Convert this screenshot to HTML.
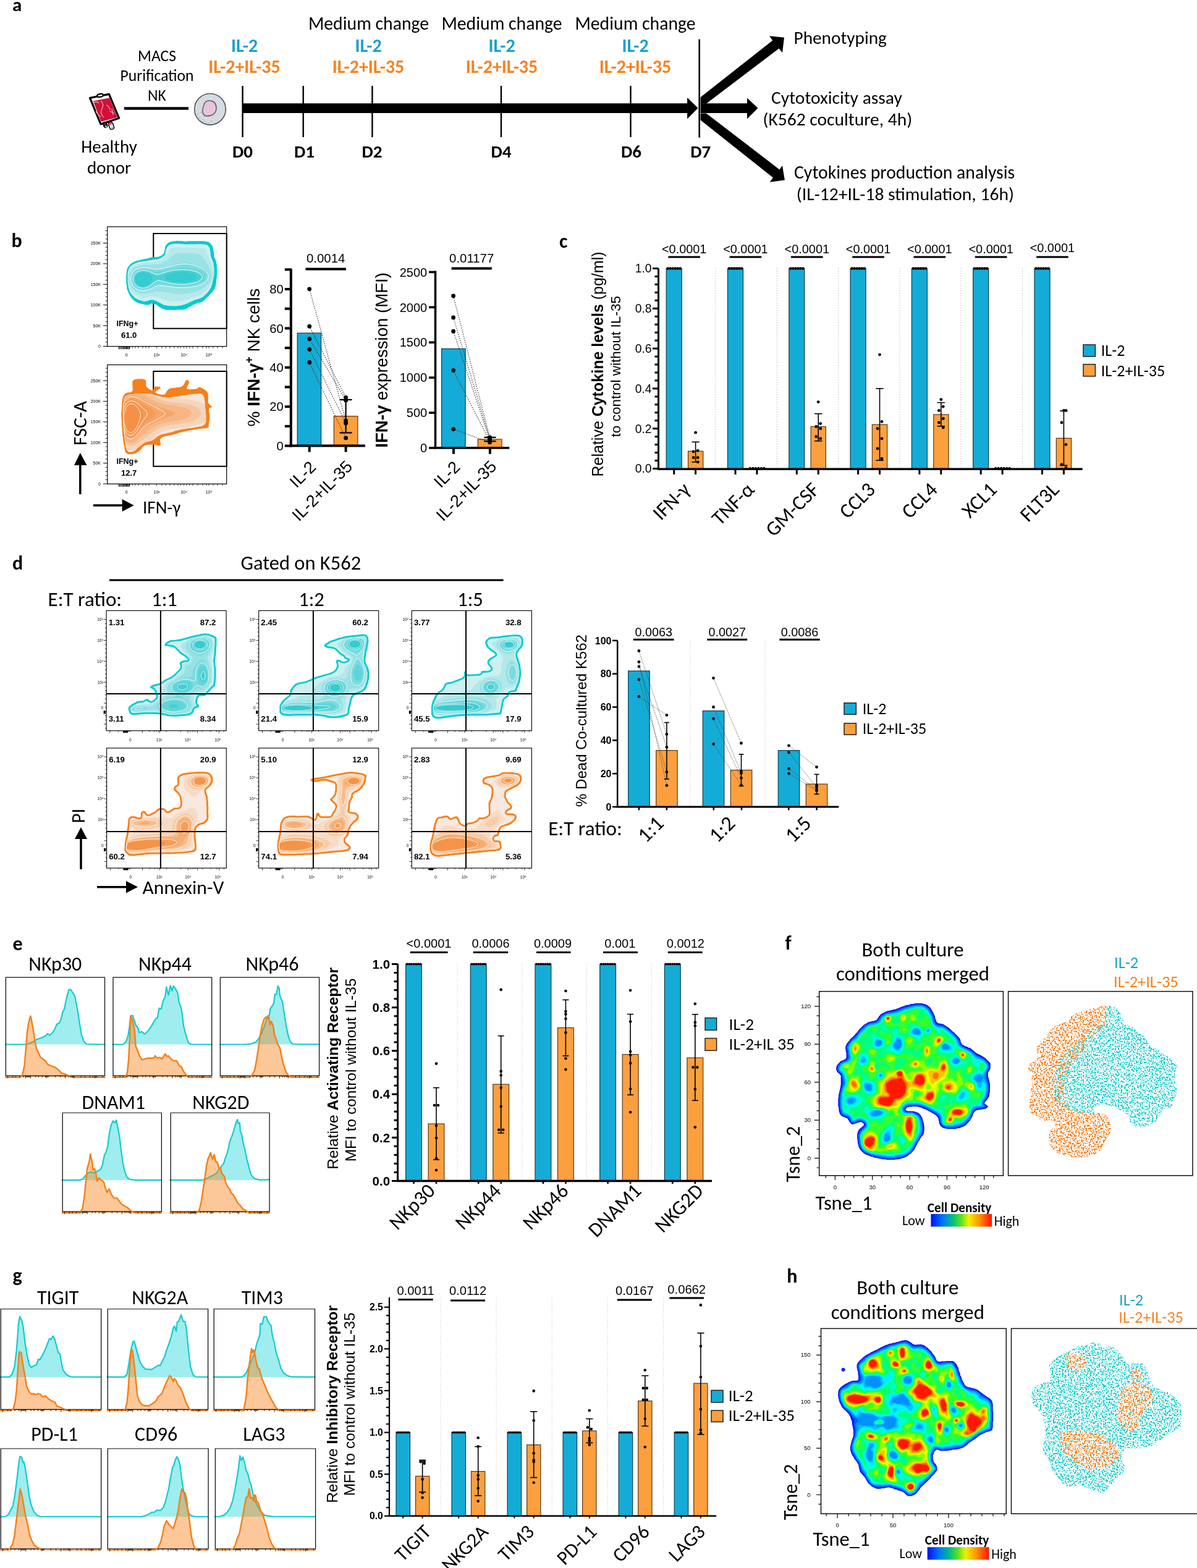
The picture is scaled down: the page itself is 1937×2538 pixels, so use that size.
<!DOCTYPE html>
<html><head><meta charset="utf-8"><title>Figure</title>
<style>
html,body{margin:0;padding:0;background:#fff;}
body{width:1937px;height:2538px;overflow:hidden;}
svg{display:block;}
.c{font-family:Carlito,"Liberation Sans",sans-serif;}
.a{font-family:"Liberation Sans",Arial,sans-serif;}
.b{font-weight:bold;}
</style></head><body>
<svg width="1937" height="2538" viewBox="0 0 1937 2538">
<rect width="1937" height="2538" fill="#fff"/>
<text x="20.0" y="18.0" class="c b" font-size="31.0">a</text>
<text x="596.5" y="48.3" class="c" font-size="29.7" text-anchor="middle">Medium change</text>
<text x="812.0" y="48.3" class="c" font-size="29.7" text-anchor="middle">Medium change</text>
<text x="1028.0" y="48.3" class="c" font-size="29.7" text-anchor="middle">Medium change</text>
<text x="395.5" y="83.8" class="c b" font-size="30.0" text-anchor="middle" fill="#1ba1cf">IL-2</text>
<text x="395.5" y="118.3" class="c b" font-size="30.0" text-anchor="middle" fill="#f7821f">IL-2+IL-35</text>
<text x="596.0" y="83.8" class="c b" font-size="30.0" text-anchor="middle" fill="#1ba1cf">IL-2</text>
<text x="596.0" y="118.3" class="c b" font-size="30.0" text-anchor="middle" fill="#f7821f">IL-2+IL-35</text>
<text x="812.0" y="83.8" class="c b" font-size="30.0" text-anchor="middle" fill="#1ba1cf">IL-2</text>
<text x="812.0" y="118.3" class="c b" font-size="30.0" text-anchor="middle" fill="#f7821f">IL-2+IL-35</text>
<text x="1028.0" y="83.8" class="c b" font-size="30.0" text-anchor="middle" fill="#1ba1cf">IL-2</text>
<text x="1028.0" y="118.3" class="c b" font-size="30.0" text-anchor="middle" fill="#f7821f">IL-2+IL-35</text>
<text x="254.0" y="98.6" class="c" font-size="25.6" text-anchor="middle">MACS</text>
<text x="254.0" y="130.9" class="c" font-size="25.6" text-anchor="middle">Purification</text>
<text x="254.0" y="162.5" class="c" font-size="25.6" text-anchor="middle">NK</text>
<text x="176.5" y="247.3" class="c" font-size="29.0" text-anchor="middle">Healthy</text>
<text x="176.5" y="281.2" class="c" font-size="29.0" text-anchor="middle">donor</text>
<g stroke-linejoin="round">
<path d="M145.5,158.5 L176.4,152.4 L192.6,191.2 L163,201 Z" fill="#fff" stroke="#000" stroke-width="3.2"/>
<ellipse cx="162" cy="154.5" rx="5" ry="2.4" transform="rotate(-12 162 154.5)" fill="#fff" stroke="#000" stroke-width="2.2"/>
<path d="M150.7,163.6 L177,158.6 L190,190 L163.6,197 Z" fill="#d0103a"/>
<path d="M151,166 q5,-3 9,1 M163,163 q6,5 2,13 q-4,8 3,14 M172,170 q5,2 6,8 M177,180 l8,3 M181,176 l2,10 M155,180 q3,6 8,9" stroke="#f3a0a6" stroke-width="1.3" fill="none"/>
<rect x="167.2" y="197.5" width="6" height="9" rx="2.5" transform="rotate(-20 170 202)" fill="#2a2a2a" stroke="#000" stroke-width="1.2"/>
<circle cx="171.5" cy="204.8" r="1.5" fill="#9cc8e6"/>
<rect x="176.5" y="197.5" width="7" height="12" rx="3.2" transform="rotate(-20 180 203.5)" fill="#fff" stroke="#000" stroke-width="1.6"/>
<rect x="177.3" y="198" width="5" height="3.5" rx="1.5" transform="rotate(-20 180 203.5)" fill="#e05060"/>
<circle cx="181.8" cy="206.8" r="2" fill="#8fc3e6"/>
</g>
<line x1="201.0" y1="175.4" x2="305.0" y2="175.4" stroke="#000" stroke-width="4.5"/>
<circle cx="340" cy="176.8" r="25.3" fill="#d6dae2" stroke="#555" stroke-width="1.6"/>
<path d="M330,170 q2,-8 10,-7 q10,1 10,12 q0,9 -9,12 q-11,3 -13,-5 q-1,-5 2,-12z" fill="#e7c4dc" stroke="#555" stroke-width="1.4"/>
<circle cx="320.0" cy="184.8" r="0.7" fill="#888"/>
<circle cx="323.0" cy="189.8" r="0.7" fill="#888"/>
<circle cx="328.0" cy="193.8" r="0.7" fill="#888"/>
<circle cx="332.0" cy="196.8" r="0.7" fill="#888"/>
<circle cx="337.0" cy="198.8" r="0.7" fill="#888"/>
<circle cx="325.0" cy="181.8" r="0.7" fill="#888"/>
<circle cx="330.0" cy="188.8" r="0.7" fill="#888"/>
<circle cx="342.0" cy="195.8" r="0.7" fill="#888"/>
<circle cx="322.0" cy="194.8" r="0.7" fill="#888"/>
<line x1="392.6" y1="139.0" x2="392.6" y2="222.0" stroke="#000" stroke-width="2.4"/>
<line x1="490.7" y1="139.0" x2="490.7" y2="222.0" stroke="#000" stroke-width="2.4"/>
<line x1="602.4" y1="139.0" x2="602.4" y2="222.0" stroke="#000" stroke-width="2.4"/>
<line x1="811.0" y1="139.0" x2="811.0" y2="222.0" stroke="#000" stroke-width="2.4"/>
<line x1="1020.5" y1="139.0" x2="1020.5" y2="222.0" stroke="#000" stroke-width="2.4"/>
<line x1="1131.7" y1="63.6" x2="1131.7" y2="222.7" stroke="#000" stroke-width="2.6"/>
<rect x="392.6" y="167.3" width="720.0" height="15.7" fill="#000"/>
<polygon points="1112.1,157.9 1129.5,174.9 1112.1,192.6" fill="#000"/>
<rect x="1133.7" y="167.3" width="76.0" height="15.7" fill="#000"/>
<polygon points="1209.0,158.5 1226.4,175.0 1209.0,192.6" fill="#000"/>
<polygon points="1133.7,157.2 1250.2,65.5 1245.0,58.3 1269.0,60.7 1266.0,85.2 1260.5,78.4 1142.9,167.7 1133.7,167.7" fill="#000"/>
<polygon points="1133.7,183.4 1142.9,183.4 1261.4,274.4 1266.0,267.9 1269.9,291.4 1245.7,294.7 1250.9,287.5 1133.7,194.5" fill="#000"/>
<text x="392.6" y="254.8" class="c b" font-size="29.0" text-anchor="middle">D0</text>
<text x="492.5" y="254.8" class="c b" font-size="29.0" text-anchor="middle">D1</text>
<text x="602.0" y="254.8" class="c b" font-size="29.0" text-anchor="middle">D2</text>
<text x="811.0" y="254.8" class="c b" font-size="29.0" text-anchor="middle">D4</text>
<text x="1021.6" y="254.8" class="c b" font-size="29.0" text-anchor="middle">D6</text>
<text x="1133.7" y="254.8" class="c b" font-size="29.0" text-anchor="middle">D7</text>
<text x="1284.5" y="71.2" class="c" font-size="29.3">Phenotyping</text>
<text x="1248.0" y="167.5" class="c" font-size="29.5">Cytotoxicity assay</text>
<text x="1234.5" y="202.5" class="c" font-size="29.5">(K562 coculture, 4h)</text>
<text x="1285.0" y="288.8" class="c" font-size="29.7">Cytokines production analysis</text>
<text x="1288.8" y="323.8" class="c" font-size="29.6">(IL-12+IL-18 stimulation, 16h)</text>
<text x="18.6" y="400.0" class="c b" font-size="32.0">b</text>
<rect x="481.2" y="539.1" width="38.4" height="182.5" fill="#14acd6" stroke="#0c3d50" stroke-width="1.2"/>
<rect x="540.4" y="673.6" width="38.5" height="48.0" fill="#fca03e" stroke="#5a3814" stroke-width="1.2"/>
<line x1="500.7" y1="467.8" x2="559.6" y2="681.2" stroke="#333" stroke-width="1.2" stroke-dasharray="1.5 2"/>
<line x1="500.7" y1="528.2" x2="559.6" y2="643.4" stroke="#333" stroke-width="1.2" stroke-dasharray="1.5 2"/>
<line x1="500.7" y1="548.5" x2="559.6" y2="647.9" stroke="#333" stroke-width="1.2" stroke-dasharray="1.5 2"/>
<line x1="500.7" y1="565.4" x2="559.6" y2="685.0" stroke="#333" stroke-width="1.2" stroke-dasharray="1.5 2"/>
<line x1="500.7" y1="586.5" x2="559.6" y2="708.9" stroke="#333" stroke-width="1.2" stroke-dasharray="1.5 2"/>
<circle cx="500.7" cy="467.8" r="3.4" fill="#000"/>
<circle cx="500.7" cy="528.2" r="3.4" fill="#000"/>
<circle cx="500.7" cy="548.5" r="3.4" fill="#000"/>
<circle cx="500.7" cy="565.4" r="3.4" fill="#000"/>
<circle cx="500.7" cy="586.5" r="3.4" fill="#000"/>
<circle cx="559.6" cy="643.4" r="3.4" fill="#000"/>
<circle cx="559.6" cy="647.9" r="3.4" fill="#000"/>
<circle cx="559.6" cy="681.2" r="3.4" fill="#000"/>
<circle cx="559.6" cy="685.0" r="3.4" fill="#000"/>
<circle cx="559.6" cy="708.9" r="3.4" fill="#000"/>
<line x1="559.6" y1="700.5" x2="559.6" y2="647.0" stroke="#000" stroke-width="2.2"/>
<line x1="549.6" y1="700.5" x2="569.6" y2="700.5" stroke="#000" stroke-width="2.2"/>
<line x1="549.6" y1="647.0" x2="569.6" y2="647.0" stroke="#000" stroke-width="2.2"/>
<line x1="470.8" y1="434.8" x2="470.8" y2="723.6" stroke="#000" stroke-width="4"/>
<line x1="460.8" y1="721.6" x2="470.8" y2="721.6" stroke="#000" stroke-width="4"/>
<text x="458.8" y="728.8" class="a" font-size="20.2" text-anchor="end">0</text>
<line x1="460.8" y1="658.2" x2="470.8" y2="658.2" stroke="#000" stroke-width="4"/>
<text x="458.8" y="665.4" class="a" font-size="20.2" text-anchor="end">20</text>
<line x1="460.8" y1="594.8" x2="470.8" y2="594.8" stroke="#000" stroke-width="4"/>
<text x="458.8" y="602.0" class="a" font-size="20.2" text-anchor="end">40</text>
<line x1="460.8" y1="531.4" x2="470.8" y2="531.4" stroke="#000" stroke-width="4"/>
<text x="458.8" y="538.6" class="a" font-size="20.2" text-anchor="end">60</text>
<line x1="460.8" y1="468.0" x2="470.8" y2="468.0" stroke="#000" stroke-width="4"/>
<text x="458.8" y="475.2" class="a" font-size="20.2" text-anchor="end">80</text>
<line x1="460.8" y1="689.9" x2="470.8" y2="689.9" stroke="#000" stroke-width="4"/>
<line x1="460.8" y1="626.5" x2="470.8" y2="626.5" stroke="#000" stroke-width="4"/>
<line x1="460.8" y1="563.1" x2="470.8" y2="563.1" stroke="#000" stroke-width="4"/>
<line x1="460.8" y1="499.7" x2="470.8" y2="499.7" stroke="#000" stroke-width="4"/>
<line x1="460.8" y1="436.3" x2="470.8" y2="436.3" stroke="#000" stroke-width="4"/>
<line x1="468.8" y1="721.6" x2="591.0" y2="721.6" stroke="#000" stroke-width="4"/>
<line x1="500.7" y1="721.6" x2="500.7" y2="731.6" stroke="#000" stroke-width="4"/>
<line x1="559.6" y1="721.6" x2="559.6" y2="731.6" stroke="#000" stroke-width="4"/>
<line x1="494.4" y1="435.5" x2="560.0" y2="435.5" stroke="#000" stroke-width="3.8"/>
<text x="527.2" y="425.0" class="a" font-size="20.4" text-anchor="middle">0.0014</text>
<text class="a" font-size="28" text-anchor="middle" transform="translate(420,578.7) rotate(-90)">% <tspan font-weight="bold">IFN-γ</tspan><tspan font-size="18" dy="-11" font-weight="bold">+</tspan><tspan dy="11"> NK cells</tspan></text>
<text x="513.0" y="757.8" class="a" font-size="27.2" text-anchor="end" transform="rotate(-45 513.0 757.8)">IL-2</text>
<text x="571.9" y="756.7" class="a" font-size="27.2" text-anchor="end" transform="rotate(-45 571.9 756.7)">IL-2+IL-35</text>
<rect x="714.6" y="564.5" width="38.5" height="160.5" fill="#14acd6" stroke="#0c3d50" stroke-width="1.2"/>
<rect x="773.3" y="711.0" width="38.7" height="14.0" fill="#fca03e" stroke="#5a3814" stroke-width="1.2"/>
<line x1="733.6" y1="479.0" x2="792.5" y2="708.0" stroke="#333" stroke-width="1.2" stroke-dasharray="1.5 2"/>
<line x1="733.6" y1="513.9" x2="792.5" y2="710.0" stroke="#333" stroke-width="1.2" stroke-dasharray="1.5 2"/>
<line x1="733.6" y1="536.2" x2="792.5" y2="712.0" stroke="#333" stroke-width="1.2" stroke-dasharray="1.5 2"/>
<line x1="733.6" y1="599.6" x2="792.5" y2="714.0" stroke="#333" stroke-width="1.2" stroke-dasharray="1.5 2"/>
<line x1="733.6" y1="694.6" x2="792.5" y2="716.0" stroke="#333" stroke-width="1.2" stroke-dasharray="1.5 2"/>
<circle cx="733.6" cy="479.0" r="3.4" fill="#000"/>
<circle cx="733.6" cy="513.9" r="3.4" fill="#000"/>
<circle cx="733.6" cy="536.2" r="3.4" fill="#000"/>
<circle cx="733.6" cy="599.6" r="3.4" fill="#000"/>
<circle cx="733.6" cy="694.6" r="3.4" fill="#000"/>
<circle cx="792.5" cy="708.0" r="3.4" fill="#000"/>
<circle cx="792.5" cy="710.0" r="3.4" fill="#000"/>
<circle cx="792.5" cy="712.0" r="3.4" fill="#000"/>
<circle cx="792.5" cy="714.0" r="3.4" fill="#000"/>
<circle cx="792.5" cy="716.0" r="3.4" fill="#000"/>
<line x1="792.9" y1="714.2" x2="792.9" y2="707.9" stroke="#000" stroke-width="2.2"/>
<line x1="783.3" y1="714.2" x2="802.5" y2="714.2" stroke="#000" stroke-width="2.2"/>
<line x1="783.3" y1="707.9" x2="802.5" y2="707.9" stroke="#000" stroke-width="2.2"/>
<line x1="704.5" y1="438.5" x2="704.5" y2="726.8" stroke="#000" stroke-width="3.6"/>
<line x1="694.1" y1="725.0" x2="704.5" y2="725.0" stroke="#000" stroke-width="3.6"/>
<text x="691.2" y="732.2" class="a" font-size="20.0" text-anchor="end">0</text>
<line x1="694.1" y1="668.1" x2="704.5" y2="668.1" stroke="#000" stroke-width="3.6"/>
<text x="691.2" y="675.2" class="a" font-size="20.0" text-anchor="end">500</text>
<line x1="694.1" y1="611.2" x2="704.5" y2="611.2" stroke="#000" stroke-width="3.6"/>
<text x="691.2" y="618.3" class="a" font-size="20.0" text-anchor="end">1000</text>
<line x1="694.1" y1="554.2" x2="704.5" y2="554.2" stroke="#000" stroke-width="3.6"/>
<text x="691.2" y="561.4" class="a" font-size="20.0" text-anchor="end">1500</text>
<line x1="694.1" y1="497.3" x2="704.5" y2="497.3" stroke="#000" stroke-width="3.6"/>
<text x="691.2" y="504.5" class="a" font-size="20.0" text-anchor="end">2000</text>
<line x1="694.1" y1="440.4" x2="704.5" y2="440.4" stroke="#000" stroke-width="3.6"/>
<text x="691.2" y="447.6" class="a" font-size="20.0" text-anchor="end">2500</text>
<line x1="702.7" y1="725.0" x2="824.2" y2="725.0" stroke="#000" stroke-width="3.6"/>
<line x1="734.0" y1="725.0" x2="734.0" y2="734.8" stroke="#000" stroke-width="4"/>
<line x1="792.9" y1="725.0" x2="792.9" y2="734.8" stroke="#000" stroke-width="4"/>
<line x1="730.6" y1="434.5" x2="795.8" y2="434.5" stroke="#000" stroke-width="3.8"/>
<text x="763.2" y="425.0" class="a" font-size="20.4" text-anchor="middle">0.01177</text>
<text class="a" font-size="27.6" text-anchor="middle" transform="translate(627,582.9) rotate(-90)"><tspan font-weight="bold">IFN-γ</tspan> expression (MFI)</text>
<text x="746.3" y="757.8" class="a" font-size="27.2" text-anchor="end" transform="rotate(-45 746.3 757.8)">IL-2</text>
<text x="805.2" y="756.7" class="a" font-size="27.2" text-anchor="end" transform="rotate(-45 805.2 756.7)">IL-2+IL-35</text>
<rect x="173.8" y="367.0" width="192.9" height="193.7" fill="none" stroke="#000" stroke-width="1.2"/>
<rect x="248.3" y="378.0" width="118.4" height="153.7" fill="none" stroke="#000" stroke-width="2"/>
<text x="206.0" y="528.3" class="a b" font-size="12.5" text-anchor="middle">IFNg+</text>
<text x="208.6" y="547.4" class="a b" font-size="13.0" text-anchor="middle">61.0</text>
<line x1="167.0" y1="560.5" x2="173.8" y2="560.5" stroke="#000" stroke-width="1"/>
<text x="163.0" y="563.0" class="a" font-size="7.0" text-anchor="end">0</text>
<line x1="170.5" y1="553.8" x2="173.8" y2="553.8" stroke="#000" stroke-width="0.8"/>
<line x1="170.5" y1="547.1" x2="173.8" y2="547.1" stroke="#000" stroke-width="0.8"/>
<line x1="170.5" y1="540.5" x2="173.8" y2="540.5" stroke="#000" stroke-width="0.8"/>
<line x1="170.5" y1="533.8" x2="173.8" y2="533.8" stroke="#000" stroke-width="0.8"/>
<line x1="167.0" y1="527.1" x2="173.8" y2="527.1" stroke="#000" stroke-width="1"/>
<text x="163.0" y="529.6" class="a" font-size="7.0" text-anchor="end">50K</text>
<line x1="170.5" y1="520.4" x2="173.8" y2="520.4" stroke="#000" stroke-width="0.8"/>
<line x1="170.5" y1="513.7" x2="173.8" y2="513.7" stroke="#000" stroke-width="0.8"/>
<line x1="170.5" y1="507.1" x2="173.8" y2="507.1" stroke="#000" stroke-width="0.8"/>
<line x1="170.5" y1="500.4" x2="173.8" y2="500.4" stroke="#000" stroke-width="0.8"/>
<line x1="167.0" y1="493.7" x2="173.8" y2="493.7" stroke="#000" stroke-width="1"/>
<text x="163.0" y="496.2" class="a" font-size="7.0" text-anchor="end">100K</text>
<line x1="170.5" y1="487.0" x2="173.8" y2="487.0" stroke="#000" stroke-width="0.8"/>
<line x1="170.5" y1="480.3" x2="173.8" y2="480.3" stroke="#000" stroke-width="0.8"/>
<line x1="170.5" y1="473.7" x2="173.8" y2="473.7" stroke="#000" stroke-width="0.8"/>
<line x1="170.5" y1="467.0" x2="173.8" y2="467.0" stroke="#000" stroke-width="0.8"/>
<line x1="167.0" y1="460.3" x2="173.8" y2="460.3" stroke="#000" stroke-width="1"/>
<text x="163.0" y="462.8" class="a" font-size="7.0" text-anchor="end">150K</text>
<line x1="170.5" y1="453.6" x2="173.8" y2="453.6" stroke="#000" stroke-width="0.8"/>
<line x1="170.5" y1="446.9" x2="173.8" y2="446.9" stroke="#000" stroke-width="0.8"/>
<line x1="170.5" y1="440.3" x2="173.8" y2="440.3" stroke="#000" stroke-width="0.8"/>
<line x1="170.5" y1="433.6" x2="173.8" y2="433.6" stroke="#000" stroke-width="0.8"/>
<line x1="167.0" y1="426.9" x2="173.8" y2="426.9" stroke="#000" stroke-width="1"/>
<text x="163.0" y="429.4" class="a" font-size="7.0" text-anchor="end">200K</text>
<line x1="170.5" y1="420.2" x2="173.8" y2="420.2" stroke="#000" stroke-width="0.8"/>
<line x1="170.5" y1="413.5" x2="173.8" y2="413.5" stroke="#000" stroke-width="0.8"/>
<line x1="170.5" y1="406.9" x2="173.8" y2="406.9" stroke="#000" stroke-width="0.8"/>
<line x1="170.5" y1="400.2" x2="173.8" y2="400.2" stroke="#000" stroke-width="0.8"/>
<line x1="167.0" y1="393.5" x2="173.8" y2="393.5" stroke="#000" stroke-width="1"/>
<text x="163.0" y="396.0" class="a" font-size="7.0" text-anchor="end">250K</text>
<line x1="170.5" y1="386.8" x2="173.8" y2="386.8" stroke="#000" stroke-width="0.8"/>
<line x1="170.5" y1="380.1" x2="173.8" y2="380.1" stroke="#000" stroke-width="0.8"/>
<line x1="170.5" y1="373.5" x2="173.8" y2="373.5" stroke="#000" stroke-width="0.8"/>
<text x="204.8" y="576.7" class="a" font-size="7.0" text-anchor="middle">0</text>
<text x="253.6" y="576.7" class="a" font-size="7.0" text-anchor="middle">10³</text>
<text x="297.6" y="576.7" class="a" font-size="7.0" text-anchor="middle">10⁴</text>
<text x="338.0" y="576.7" class="a" font-size="7.0" text-anchor="middle">10⁵</text>
<line x1="204.8" y1="560.7" x2="204.8" y2="563.7" stroke="#000" stroke-width="0.8"/>
<line x1="253.6" y1="560.7" x2="253.6" y2="563.7" stroke="#000" stroke-width="0.8"/>
<line x1="297.6" y1="560.7" x2="297.6" y2="563.7" stroke="#000" stroke-width="0.8"/>
<line x1="338.0" y1="560.7" x2="338.0" y2="563.7" stroke="#000" stroke-width="0.8"/>
<line x1="210.0" y1="560.7" x2="210.0" y2="563.7" stroke="#000" stroke-width="0.8"/>
<line x1="214.0" y1="560.7" x2="214.0" y2="563.7" stroke="#000" stroke-width="0.8"/>
<line x1="219.0" y1="560.7" x2="219.0" y2="563.7" stroke="#000" stroke-width="0.8"/>
<line x1="224.0" y1="560.7" x2="224.0" y2="563.7" stroke="#000" stroke-width="0.8"/>
<line x1="231.0" y1="560.7" x2="231.0" y2="563.7" stroke="#000" stroke-width="0.8"/>
<line x1="236.0" y1="560.7" x2="236.0" y2="563.7" stroke="#000" stroke-width="0.8"/>
<line x1="241.0" y1="560.7" x2="241.0" y2="563.7" stroke="#000" stroke-width="0.8"/>
<line x1="262.0" y1="560.7" x2="262.0" y2="563.7" stroke="#000" stroke-width="0.8"/>
<line x1="268.0" y1="560.7" x2="268.0" y2="563.7" stroke="#000" stroke-width="0.8"/>
<line x1="275.0" y1="560.7" x2="275.0" y2="563.7" stroke="#000" stroke-width="0.8"/>
<line x1="282.0" y1="560.7" x2="282.0" y2="563.7" stroke="#000" stroke-width="0.8"/>
<line x1="288.0" y1="560.7" x2="288.0" y2="563.7" stroke="#000" stroke-width="0.8"/>
<line x1="292.0" y1="560.7" x2="292.0" y2="563.7" stroke="#000" stroke-width="0.8"/>
<line x1="302.0" y1="560.7" x2="302.0" y2="563.7" stroke="#000" stroke-width="0.8"/>
<line x1="307.0" y1="560.7" x2="307.0" y2="563.7" stroke="#000" stroke-width="0.8"/>
<line x1="312.0" y1="560.7" x2="312.0" y2="563.7" stroke="#000" stroke-width="0.8"/>
<line x1="320.0" y1="560.7" x2="320.0" y2="563.7" stroke="#000" stroke-width="0.8"/>
<line x1="328.0" y1="560.7" x2="328.0" y2="563.7" stroke="#000" stroke-width="0.8"/>
<line x1="334.0" y1="560.7" x2="334.0" y2="563.7" stroke="#000" stroke-width="0.8"/>
<line x1="345.0" y1="560.7" x2="345.0" y2="563.7" stroke="#000" stroke-width="0.8"/>
<line x1="352.0" y1="560.7" x2="352.0" y2="563.7" stroke="#000" stroke-width="0.8"/>
<line x1="360.0" y1="560.7" x2="360.0" y2="563.7" stroke="#000" stroke-width="0.8"/>
<rect x="192" y="560.7" width="1.6" height="4.5" fill="#000"/><rect x="195" y="560.7" width="1.6" height="4.5" fill="#000"/><rect x="198" y="560.7" width="1.6" height="4.5" fill="#000"/><rect x="200.5" y="560.7" width="1.6" height="4.5" fill="#000"/><rect x="203" y="560.7" width="1.6" height="4.5" fill="#000"/><rect x="205.5" y="560.7" width="1.6" height="4.5" fill="#000"/><rect x="208" y="560.7" width="1.6" height="4.5" fill="#000"/>
<rect x="173.8" y="590.5" width="192.9" height="192.8" fill="none" stroke="#000" stroke-width="1.2"/>
<rect x="248.3" y="601.0" width="118.4" height="153.8" fill="none" stroke="#000" stroke-width="2"/>
<text x="206.0" y="750.9" class="a b" font-size="12.5" text-anchor="middle">IFNg+</text>
<text x="208.6" y="770.0" class="a b" font-size="13.0" text-anchor="middle">12.7</text>
<line x1="167.0" y1="783.1" x2="173.8" y2="783.1" stroke="#000" stroke-width="1"/>
<text x="163.0" y="785.6" class="a" font-size="7.0" text-anchor="end">0</text>
<line x1="170.5" y1="776.4" x2="173.8" y2="776.4" stroke="#000" stroke-width="0.8"/>
<line x1="170.5" y1="769.7" x2="173.8" y2="769.7" stroke="#000" stroke-width="0.8"/>
<line x1="170.5" y1="763.1" x2="173.8" y2="763.1" stroke="#000" stroke-width="0.8"/>
<line x1="170.5" y1="756.4" x2="173.8" y2="756.4" stroke="#000" stroke-width="0.8"/>
<line x1="167.0" y1="749.7" x2="173.8" y2="749.7" stroke="#000" stroke-width="1"/>
<text x="163.0" y="752.2" class="a" font-size="7.0" text-anchor="end">50K</text>
<line x1="170.5" y1="743.0" x2="173.8" y2="743.0" stroke="#000" stroke-width="0.8"/>
<line x1="170.5" y1="736.3" x2="173.8" y2="736.3" stroke="#000" stroke-width="0.8"/>
<line x1="170.5" y1="729.7" x2="173.8" y2="729.7" stroke="#000" stroke-width="0.8"/>
<line x1="170.5" y1="723.0" x2="173.8" y2="723.0" stroke="#000" stroke-width="0.8"/>
<line x1="167.0" y1="716.3" x2="173.8" y2="716.3" stroke="#000" stroke-width="1"/>
<text x="163.0" y="718.8" class="a" font-size="7.0" text-anchor="end">100K</text>
<line x1="170.5" y1="709.6" x2="173.8" y2="709.6" stroke="#000" stroke-width="0.8"/>
<line x1="170.5" y1="702.9" x2="173.8" y2="702.9" stroke="#000" stroke-width="0.8"/>
<line x1="170.5" y1="696.3" x2="173.8" y2="696.3" stroke="#000" stroke-width="0.8"/>
<line x1="170.5" y1="689.6" x2="173.8" y2="689.6" stroke="#000" stroke-width="0.8"/>
<line x1="167.0" y1="682.9" x2="173.8" y2="682.9" stroke="#000" stroke-width="1"/>
<text x="163.0" y="685.4" class="a" font-size="7.0" text-anchor="end">150K</text>
<line x1="170.5" y1="676.2" x2="173.8" y2="676.2" stroke="#000" stroke-width="0.8"/>
<line x1="170.5" y1="669.5" x2="173.8" y2="669.5" stroke="#000" stroke-width="0.8"/>
<line x1="170.5" y1="662.9" x2="173.8" y2="662.9" stroke="#000" stroke-width="0.8"/>
<line x1="170.5" y1="656.2" x2="173.8" y2="656.2" stroke="#000" stroke-width="0.8"/>
<line x1="167.0" y1="649.5" x2="173.8" y2="649.5" stroke="#000" stroke-width="1"/>
<text x="163.0" y="652.0" class="a" font-size="7.0" text-anchor="end">200K</text>
<line x1="170.5" y1="642.8" x2="173.8" y2="642.8" stroke="#000" stroke-width="0.8"/>
<line x1="170.5" y1="636.1" x2="173.8" y2="636.1" stroke="#000" stroke-width="0.8"/>
<line x1="170.5" y1="629.5" x2="173.8" y2="629.5" stroke="#000" stroke-width="0.8"/>
<line x1="170.5" y1="622.8" x2="173.8" y2="622.8" stroke="#000" stroke-width="0.8"/>
<line x1="167.0" y1="616.1" x2="173.8" y2="616.1" stroke="#000" stroke-width="1"/>
<text x="163.0" y="618.6" class="a" font-size="7.0" text-anchor="end">250K</text>
<line x1="170.5" y1="609.4" x2="173.8" y2="609.4" stroke="#000" stroke-width="0.8"/>
<line x1="170.5" y1="602.7" x2="173.8" y2="602.7" stroke="#000" stroke-width="0.8"/>
<line x1="170.5" y1="596.1" x2="173.8" y2="596.1" stroke="#000" stroke-width="0.8"/>
<text x="204.8" y="799.3" class="a" font-size="7.0" text-anchor="middle">0</text>
<text x="253.6" y="799.3" class="a" font-size="7.0" text-anchor="middle">10³</text>
<text x="297.6" y="799.3" class="a" font-size="7.0" text-anchor="middle">10⁴</text>
<text x="338.0" y="799.3" class="a" font-size="7.0" text-anchor="middle">10⁵</text>
<line x1="204.8" y1="783.3" x2="204.8" y2="786.3" stroke="#000" stroke-width="0.8"/>
<line x1="253.6" y1="783.3" x2="253.6" y2="786.3" stroke="#000" stroke-width="0.8"/>
<line x1="297.6" y1="783.3" x2="297.6" y2="786.3" stroke="#000" stroke-width="0.8"/>
<line x1="338.0" y1="783.3" x2="338.0" y2="786.3" stroke="#000" stroke-width="0.8"/>
<line x1="210.0" y1="783.3" x2="210.0" y2="786.3" stroke="#000" stroke-width="0.8"/>
<line x1="214.0" y1="783.3" x2="214.0" y2="786.3" stroke="#000" stroke-width="0.8"/>
<line x1="219.0" y1="783.3" x2="219.0" y2="786.3" stroke="#000" stroke-width="0.8"/>
<line x1="224.0" y1="783.3" x2="224.0" y2="786.3" stroke="#000" stroke-width="0.8"/>
<line x1="231.0" y1="783.3" x2="231.0" y2="786.3" stroke="#000" stroke-width="0.8"/>
<line x1="236.0" y1="783.3" x2="236.0" y2="786.3" stroke="#000" stroke-width="0.8"/>
<line x1="241.0" y1="783.3" x2="241.0" y2="786.3" stroke="#000" stroke-width="0.8"/>
<line x1="262.0" y1="783.3" x2="262.0" y2="786.3" stroke="#000" stroke-width="0.8"/>
<line x1="268.0" y1="783.3" x2="268.0" y2="786.3" stroke="#000" stroke-width="0.8"/>
<line x1="275.0" y1="783.3" x2="275.0" y2="786.3" stroke="#000" stroke-width="0.8"/>
<line x1="282.0" y1="783.3" x2="282.0" y2="786.3" stroke="#000" stroke-width="0.8"/>
<line x1="288.0" y1="783.3" x2="288.0" y2="786.3" stroke="#000" stroke-width="0.8"/>
<line x1="292.0" y1="783.3" x2="292.0" y2="786.3" stroke="#000" stroke-width="0.8"/>
<line x1="302.0" y1="783.3" x2="302.0" y2="786.3" stroke="#000" stroke-width="0.8"/>
<line x1="307.0" y1="783.3" x2="307.0" y2="786.3" stroke="#000" stroke-width="0.8"/>
<line x1="312.0" y1="783.3" x2="312.0" y2="786.3" stroke="#000" stroke-width="0.8"/>
<line x1="320.0" y1="783.3" x2="320.0" y2="786.3" stroke="#000" stroke-width="0.8"/>
<line x1="328.0" y1="783.3" x2="328.0" y2="786.3" stroke="#000" stroke-width="0.8"/>
<line x1="334.0" y1="783.3" x2="334.0" y2="786.3" stroke="#000" stroke-width="0.8"/>
<line x1="345.0" y1="783.3" x2="345.0" y2="786.3" stroke="#000" stroke-width="0.8"/>
<line x1="352.0" y1="783.3" x2="352.0" y2="786.3" stroke="#000" stroke-width="0.8"/>
<line x1="360.0" y1="783.3" x2="360.0" y2="786.3" stroke="#000" stroke-width="0.8"/>
<rect x="192" y="783.3" width="1.6" height="4.5" fill="#000"/><rect x="195" y="783.3" width="1.6" height="4.5" fill="#000"/><rect x="198" y="783.3" width="1.6" height="4.5" fill="#000"/><rect x="200.5" y="783.3" width="1.6" height="4.5" fill="#000"/><rect x="203" y="783.3" width="1.6" height="4.5" fill="#000"/><rect x="205.5" y="783.3" width="1.6" height="4.5" fill="#000"/><rect x="208" y="783.3" width="1.6" height="4.5" fill="#000"/>
<text x="139.5" y="685.0" class="c" font-size="31.0" text-anchor="middle" transform="rotate(-90 139.5 685.0)">FSC-A</text>
<line x1="129.8" y1="800.0" x2="129.8" y2="750.0" stroke="#000" stroke-width="3.5"/>
<polygon points="120.0,753.0 129.8,733.0 140.5,753.0" fill="#000"/>
<line x1="151.0" y1="818.0" x2="200.0" y2="818.0" stroke="#000" stroke-width="3.5"/>
<polygon points="197.6,808.0 216.7,818.0 197.6,828.0" fill="#000"/>
<text x="231.0" y="831.0" class="c" font-size="29.0">IFN-γ</text>
<path d="M284.5,501.8 269.0,501.8 268.5,501.2 266.5,501.2 259.0,497.8 253.0,493.2 249.0,491.2 245.5,491.2 241.5,493.2 237.0,493.8 236.5,493.2 234.0,493.2 233.5,492.8 231.5,492.8 231.0,492.2 224.0,490.8 217.0,486.8 213.2,483.0 210.2,478.5 206.8,471.5 205.2,466.5 204.8,459.0 204.2,458.5 204.2,443.0 204.8,442.5 204.8,439.5 205.2,439.0 205.2,437.0 206.2,434.0 208.8,430.0 212.5,426.2 218.0,423.2 222.5,421.8 226.0,421.2 228.0,420.2 232.5,419.8 233.0,419.2 237.0,418.8 246.0,416.2 256.0,415.8 261.0,413.8 264.2,411.0 266.2,407.5 267.2,399.5 268.8,396.5 272.0,393.2 276.0,391.2 280.0,390.8 280.5,390.2 284.5,390.2 285.0,389.8 296.5,390.2 297.0,390.8 303.5,390.8 304.0,390.2 331.5,390.2 332.0,390.8 336.5,391.2 338.5,392.2 342.2,396.0 344.2,399.5 344.8,403.0 345.2,403.5 345.2,406.0 345.8,406.5 346.2,415.0 349.2,421.5 350.2,425.0 350.2,427.5 350.8,428.0 351.2,444.5 350.8,445.0 350.8,450.5 350.2,451.0 349.8,459.0 349.2,459.5 349.2,461.5 348.2,465.0 346.2,469.0 342.8,473.5 332.2,484.5 328.5,487.8 325.0,489.2 318.5,490.8 315.0,492.8 314.0,492.8 299.5,500.8 297.5,500.8 297.0,501.2 285.0,501.2 284.5,501.8Z" fill="#00ccd0" fill-rule="evenodd"/>
<path d="M286.0,495.5 271.0,495.0 270.5,494.5 265.5,494.0 252.5,487.0 247.5,485.5 243.0,485.5 237.5,487.5 233.0,488.0 224.5,485.5 218.0,482.0 212.5,476.0 209.5,470.5 208.0,466.0 207.5,461.5 207.0,461.0 207.0,457.5 206.5,457.0 206.5,442.5 207.0,442.0 207.0,440.0 208.5,435.0 210.0,432.5 213.0,429.5 216.0,427.5 220.5,425.5 225.0,424.0 232.5,423.0 233.0,422.5 235.5,422.5 236.0,422.0 239.0,422.0 239.5,421.5 246.0,421.0 246.5,420.5 250.0,420.5 250.5,420.0 254.0,420.0 257.5,419.0 261.5,417.0 265.5,414.0 267.5,411.0 269.0,403.0 271.0,399.0 274.0,396.5 278.0,395.0 280.5,395.0 281.0,394.5 292.0,394.5 292.5,395.0 298.5,395.0 299.0,395.5 326.0,395.0 326.5,395.5 332.0,395.5 332.5,396.0 334.0,396.0 336.5,397.5 339.0,401.0 340.0,404.0 340.0,406.5 340.5,407.0 341.0,414.5 345.5,426.0 346.0,431.5 346.5,432.0 346.5,445.5 346.0,446.0 346.0,448.5 345.5,449.0 345.5,451.0 345.0,451.5 345.0,453.5 344.0,456.0 343.5,459.5 341.5,465.0 339.0,469.5 335.0,474.5 328.0,481.0 324.0,483.0 315.0,485.5 301.5,492.0 293.0,494.5 286.5,495.0 286.0,495.5Z" fill="#cfeff0" fill-rule="evenodd"/>
<path d="M289.0,487.6 283.0,487.9 269.9,486.5 266.5,485.7 255.5,481.0 249.0,479.7 242.5,479.8 235.5,481.4 232.5,481.4 226.4,480.0 220.0,477.3 216.0,474.2 212.0,469.5 209.6,465.0 207.9,460.5 207.0,456.5 207.0,446.1 207.4,443.0 209.7,437.0 211.0,434.8 214.0,431.7 218.0,429.3 223.0,427.4 231.0,425.5 254.5,422.9 258.5,421.7 263.0,419.6 268.0,416.1 270.6,413.0 275.2,403.5 277.0,402.1 280.0,401.1 290.0,400.4 299.0,401.0 316.0,401.0 324.0,401.4 332.0,402.7 334.0,406.0 337.0,415.5 342.5,427.0 344.2,433.0 345.8,445.0 345.0,451.0 341.8,459.0 338.8,464.0 335.6,468.0 331.0,472.6 325.5,476.7 302.0,484.9 295.0,486.7 289.0,487.6Z" fill="#b5e9eb" fill-rule="evenodd"/>
<path d="M296.0,476.0 283.5,475.6 258.5,471.7 250.5,472.3 234.0,475.7 228.0,475.2 223.0,473.8 219.0,471.6 215.4,468.5 212.4,464.5 210.2,459.5 209.2,455.5 209.0,450.5 209.6,445.0 210.7,441.5 213.5,436.6 215.5,434.6 219.5,432.2 224.0,430.5 232.0,429.0 255.0,428.0 262.3,426.0 272.0,420.6 284.0,410.3 295.0,409.5 305.0,409.7 317.5,410.7 323.6,412.0 327.4,415.5 333.9,424.0 339.5,434.4 342.5,444.0 342.1,449.5 340.6,454.0 338.3,458.0 334.4,462.5 324.5,469.3 317.5,471.9 304.5,474.9 296.0,476.0Z" fill="#99e2e5" fill-rule="evenodd"/>
<path d="M235.0,471.0 227.0,470.8 220.0,467.9 215.0,463.0 212.8,459.0 211.7,455.5 211.4,451.5 211.8,447.5 212.5,444.5 214.5,440.8 218.0,437.0 221.0,435.2 225.5,433.6 230.0,432.8 235.5,432.7 250.5,434.8 256.5,434.8 264.0,433.4 290.0,426.2 297.0,425.4 305.0,425.6 315.5,427.8 326.5,432.8 330.6,435.5 334.0,438.6 336.5,441.9 337.5,444.5 337.9,448.0 337.3,451.0 336.0,453.6 333.6,456.5 328.0,460.4 319.0,463.8 307.0,465.9 294.0,466.5 282.0,465.8 262.5,463.2 257.5,463.1 253.0,464.1 242.5,468.9 235.0,471.0Z" fill="#7edcdf" fill-rule="evenodd"/>
<path d="M233.5,468.0 227.0,467.7 220.8,465.0 216.5,460.6 214.0,454.5 214.3,448.0 216.8,442.5 221.0,438.6 227.5,436.2 232.0,435.8 236.5,436.1 250.0,439.9 254.5,440.4 284.5,434.4 295.0,433.6 305.0,434.1 315.0,435.8 323.5,438.8 329.3,442.5 331.3,445.0 332.0,447.0 331.4,451.0 327.8,455.0 322.2,458.0 314.5,460.3 302.0,462.1 289.5,462.3 279.0,461.3 261.0,458.1 256.0,457.9 251.5,459.3 240.5,466.0 233.5,468.0Z" fill="#63d6d9" fill-rule="evenodd"/>
<path d="M233.5,465.5 227.5,465.3 222.5,463.2 218.6,459.5 216.4,454.5 216.4,449.5 218.5,444.5 222.0,441.0 227.5,438.8 233.0,438.3 238.5,439.3 243.5,441.3 252.0,446.1 254.5,446.8 257.0,446.3 268.1,441.5 278.0,438.9 290.0,437.5 302.0,437.7 310.5,438.9 318.0,441.2 322.8,444.0 325.3,447.5 325.3,449.5 324.3,451.5 322.1,453.5 319.0,455.2 310.5,457.9 299.5,459.3 288.5,459.4 278.0,458.2 269.5,456.3 258.0,452.2 255.0,451.8 252.0,453.3 241.6,462.5 237.5,464.5 233.5,465.5Z" fill="#4ad0d4" fill-rule="evenodd"/>
<path d="M232.0,463.5 227.0,462.9 222.5,460.5 219.7,457.0 218.4,452.5 219.2,448.0 221.9,444.0 225.5,441.7 230.5,440.5 236.0,441.0 241.5,443.4 245.6,447.0 246.9,450.5 245.5,455.0 241.7,459.5 237.0,462.4 232.0,463.5ZM296.0,457.0 284.5,456.5 274.6,454.5 268.3,451.5 267.0,450.0 266.8,448.0 267.8,446.5 269.8,445.0 275.9,442.5 284.0,440.8 293.0,440.1 302.0,440.6 309.5,442.0 315.5,444.5 318.3,447.5 318.4,449.5 317.5,451.0 313.0,453.9 305.5,456.0 296.0,457.0Z" fill="#36cbcf" fill-rule="evenodd"/>
<path d="M235.0,470.5 227.0,470.3 223.5,469.3 220.0,467.4 216.6,464.5 214.4,461.5 212.0,455.0 211.7,451.0 212.2,447.0 212.9,444.5 215.2,440.5 219.5,436.5 226.5,433.8 235.5,433.2 250.5,435.5 256.0,435.6 263.0,434.5 289.5,427.9 297.0,427.2 305.0,427.5 316.0,429.7 326.5,434.1 330.5,436.7 333.7,439.5 336.0,442.5 337.0,445.5 337.2,448.5 336.6,451.0 333.0,456.2 327.0,460.1 318.0,463.3 306.0,465.3 293.5,465.8 283.0,465.2 263.1,462.5 257.5,462.3 253.0,463.3 242.5,468.3 235.0,470.5Z" fill="none" stroke="#fff" stroke-width="0.9"/>
<path d="M235.0,466.0 229.0,466.3 223.5,464.7 219.0,461.2 216.2,456.5 215.4,451.0 216.9,445.5 220.5,441.1 225.0,438.7 230.5,437.5 236.5,437.9 241.8,439.5 250.5,443.4 254.5,444.1 258.0,443.5 271.5,439.3 280.5,437.4 291.5,436.3 302.5,436.6 312.0,438.0 320.0,440.6 325.5,444.0 327.6,447.5 326.9,451.0 324.0,454.0 318.5,456.7 311.0,458.8 299.0,460.3 286.0,460.1 275.0,458.6 259.5,454.7 255.5,454.4 251.5,455.9 241.5,463.5 235.0,466.0Z" fill="none" stroke="#fff" stroke-width="0.9"/>
<path d="M214.5,735.2 207.0,735.2 203.8,733.0 202.2,730.0 201.2,723.5 200.8,723.0 200.8,720.5 199.8,717.5 198.8,706.5 198.2,706.0 198.2,701.5 197.8,701.0 197.2,688.5 196.8,688.0 196.8,677.0 196.2,676.5 196.2,666.0 196.8,665.5 197.2,651.5 197.8,651.0 197.8,647.5 198.2,647.0 198.2,645.0 199.2,642.0 200.8,639.0 203.5,636.2 207.0,635.2 210.5,635.2 213.0,634.2 214.2,633.0 214.8,631.5 214.2,617.5 216.0,615.2 217.5,614.2 221.5,613.8 222.0,613.2 230.5,613.2 231.0,613.8 234.5,614.2 236.2,616.5 236.2,624.5 236.8,625.5 240.5,629.2 245.5,631.8 246.5,631.8 248.2,630.5 249.8,627.0 251.0,625.8 252.5,625.2 253.0,625.8 256.5,625.8 259.5,626.8 260.0,627.8 258.0,629.8 253.5,632.2 251.2,635.0 254.5,637.2 257.5,638.2 259.5,638.2 260.0,638.8 266.0,638.8 268.2,636.5 270.2,632.5 273.0,629.8 275.0,628.8 279.0,628.2 279.5,627.8 284.0,627.8 284.5,627.2 291.5,626.8 295.0,625.2 297.8,622.0 300.2,616.5 301.5,615.2 303.5,615.2 305.0,616.2 305.8,617.5 305.8,620.0 301.8,628.0 303.0,629.8 304.5,629.8 305.0,630.2 316.0,629.8 316.5,629.2 318.5,629.2 322.0,626.8 324.0,626.8 330.0,629.8 334.2,633.0 335.8,635.0 336.8,638.5 336.8,652.0 340.0,655.8 343.2,658.0 343.0,659.2 339.0,660.2 337.8,662.5 338.8,670.0 339.2,670.5 339.2,678.5 338.8,679.0 338.8,682.5 338.2,683.0 338.2,686.0 337.8,686.5 337.8,690.5 337.0,691.8 333.5,693.2 320.0,694.2 319.5,694.8 317.0,694.8 316.5,695.2 314.0,695.2 311.0,696.2 303.5,697.2 301.0,698.2 299.0,698.2 298.5,698.8 296.5,698.8 296.0,699.2 290.5,700.2 284.0,702.8 280.5,703.2 278.0,704.2 276.0,704.2 275.5,704.8 273.5,704.8 271.0,705.8 269.0,705.8 264.0,707.2 261.0,708.8 259.2,711.0 259.2,715.5 259.8,716.0 259.8,719.0 260.2,719.5 259.0,721.2 255.0,721.2 251.0,719.8 239.0,719.8 238.5,720.2 236.0,720.2 233.0,721.8 229.8,725.0 227.8,728.0 224.5,730.8 218.5,734.2 215.0,734.8 214.5,735.2Z" fill="#f5801c" fill-rule="evenodd"/>
<path d="M211.0,732.0 208.0,731.5 205.5,729.0 204.5,727.0 203.5,724.0 203.5,722.0 203.0,721.5 203.0,719.0 202.5,718.5 201.5,706.5 201.0,706.0 201.0,701.5 200.5,701.0 200.0,687.5 199.5,687.0 199.5,676.5 199.0,676.0 199.0,659.5 199.5,659.0 199.5,652.0 200.0,651.5 200.5,645.5 202.0,642.0 203.0,641.0 209.5,638.5 217.0,638.0 217.5,637.5 224.5,637.5 225.0,637.0 239.5,637.0 240.0,637.5 244.0,637.5 249.5,639.5 255.0,640.5 261.5,642.5 267.0,643.0 267.5,643.5 277.5,643.0 278.0,642.5 281.0,642.5 281.5,642.0 285.0,642.0 285.5,641.5 289.0,641.5 289.5,641.0 303.0,639.5 303.5,639.0 312.5,638.0 313.0,637.5 320.0,637.5 320.5,637.0 325.0,637.0 327.0,638.0 329.0,640.0 330.5,644.0 331.0,649.0 331.5,649.5 332.5,665.0 333.0,665.5 333.0,670.5 333.5,671.0 333.5,682.0 332.0,686.0 329.5,688.5 326.0,690.0 321.5,690.5 321.0,691.0 319.0,691.0 318.5,691.5 316.5,691.5 313.5,692.5 310.5,692.5 310.0,693.0 302.5,693.5 302.0,694.0 293.0,695.0 292.5,695.5 285.0,697.0 278.0,699.5 260.5,703.5 257.0,705.0 249.5,711.0 245.5,713.5 240.5,714.5 240.0,715.0 238.0,715.0 234.0,716.5 223.0,725.0 219.5,728.5 216.5,730.5 213.5,731.5 211.5,731.5 211.0,732.0Z" fill="#f6e6da" fill-rule="evenodd"/>
<path d="M214.5,729.0 209.5,728.7 205.0,727.0 203.3,721.5 202.2,711.0 201.7,710.5 201.1,701.5 200.6,701.0 200.6,695.0 200.1,694.5 200.1,687.5 199.6,687.0 199.1,659.5 199.6,659.0 199.6,652.0 200.1,651.5 200.7,645.5 203.0,641.2 207.5,639.2 212.0,638.6 212.5,638.1 224.5,637.7 225.0,637.2 239.5,637.2 240.0,637.7 244.0,637.8 249.5,639.8 251.0,639.8 261.5,642.9 267.0,643.4 267.5,643.9 273.0,644.0 274.4,643.5 299.5,645.8 310.0,647.2 322.0,650.2 331.5,654.1 332.7,670.5 333.2,671.0 333.0,682.0 324.0,686.2 312.5,689.6 300.5,691.7 276.0,694.7 265.2,697.5 256.4,702.5 244.0,713.5 238.0,714.6 234.0,716.1 223.0,724.6 220.0,727.5 214.5,729.0Z" fill="#f5d6bd" fill-rule="evenodd"/>
<path d="M215.5,721.5 211.0,721.9 206.5,720.5 203.0,718.1 202.9,715.0 202.4,714.5 201.7,706.5 201.3,706.0 201.2,701.5 200.7,701.0 200.1,687.5 199.6,687.0 199.2,659.5 199.7,659.0 199.7,652.0 200.2,651.5 200.8,645.5 203.0,641.3 209.5,638.8 217.0,638.3 217.5,637.8 233.0,637.4 243.9,638.0 254.5,644.7 264.5,648.5 273.5,650.2 298.0,652.8 311.0,655.9 319.7,660.0 322.8,662.5 324.6,665.0 325.6,668.5 324.4,672.5 321.4,676.0 316.5,679.2 310.0,681.9 302.0,684.2 271.0,688.8 259.0,692.3 248.2,698.5 222.0,718.4 215.5,721.5Z" fill="#f6c59e" fill-rule="evenodd"/>
<path d="M213.5,717.0 210.0,717.0 206.5,715.7 202.5,712.4 202.0,710.5 201.3,701.5 200.8,701.0 200.7,695.0 200.2,694.5 200.2,687.5 199.7,687.0 199.2,659.5 199.7,659.0 200.4,648.0 200.9,647.5 201.4,644.0 203.0,641.4 207.5,639.4 212.0,638.9 212.5,638.4 229.3,637.5 249.5,648.5 257.5,652.0 268.0,654.8 288.5,657.6 297.4,659.5 304.9,662.5 307.6,664.5 309.2,666.5 309.8,669.5 308.7,672.0 305.5,674.9 301.0,677.2 291.0,680.1 264.5,684.9 257.0,687.3 250.2,690.5 235.0,700.3 220.0,714.2 216.5,716.2 213.5,717.0Z" fill="#f6b582" fill-rule="evenodd"/>
<path d="M214.0,712.1 209.5,712.1 205.0,709.6 201.5,705.5 201.4,701.5 200.9,701.0 200.3,687.5 199.8,687.0 199.8,676.5 199.3,676.0 199.4,659.5 199.8,659.0 199.9,652.0 201.0,648.0 204.0,644.4 207.0,642.0 210.0,640.6 213.0,639.9 216.5,640.1 220.0,641.0 253.5,657.4 262.5,660.8 277.8,665.5 281.9,668.0 282.4,669.0 281.9,670.5 279.2,672.5 256.0,680.8 237.5,690.5 231.0,695.8 220.5,708.1 217.0,710.8 214.0,712.1Z" fill="#f6a668" fill-rule="evenodd"/>
<path d="M213.5,707.6 210.0,707.7 207.0,706.4 203.9,703.5 201.0,698.7 200.4,687.5 199.9,687.0 199.8,676.5 199.4,676.0 199.5,659.5 200.0,659.0 200.0,656.4 202.9,651.5 206.0,648.1 209.5,646.0 213.5,645.2 217.0,645.7 220.5,647.2 243.5,661.0 249.3,665.5 250.8,667.5 251.4,669.5 250.7,672.0 248.7,674.5 233.0,685.9 229.0,690.5 220.2,703.0 217.0,705.9 213.5,707.6Z" fill="#f69a55" fill-rule="evenodd"/>
<path d="M213.0,702.5 210.0,702.5 207.5,701.4 205.0,698.9 203.0,695.6 200.0,686.7 199.9,676.5 199.5,676.0 199.7,667.5 202.8,658.5 205.0,655.2 207.5,652.8 210.0,651.4 213.0,650.9 215.5,651.3 218.5,652.6 224.4,657.5 230.2,665.0 231.5,668.0 231.9,670.5 231.5,673.5 230.2,677.0 221.8,694.0 217.5,699.8 213.0,702.5Z" fill="#f59048" fill-rule="evenodd"/>
<path d="M213.5,710.6 210.0,710.6 207.0,709.4 204.0,706.9 201.5,703.5 200.9,695.0 200.4,694.5 200.3,687.5 199.8,687.0 199.3,665.5 200.0,652.0 200.9,650.5 203.9,646.5 207.0,643.9 210.5,642.3 214.0,641.8 218.0,642.4 222.0,644.0 261.0,664.0 266.0,667.0 267.5,669.5 266.5,671.5 263.9,673.5 242.0,685.2 235.0,689.5 230.0,694.2 220.2,706.5 217.0,709.1 213.5,710.6Z" fill="none" stroke="#fff" stroke-width="0.9"/>
<path d="M213.0,704.6 210.0,704.5 207.0,703.1 204.5,700.5 202.0,696.3 200.5,692.6 199.9,676.5 199.4,676.0 199.5,663.5 201.6,658.0 204.0,654.0 206.5,651.3 209.5,649.5 213.0,648.7 218.0,649.9 224.0,654.0 236.0,665.0 237.7,667.5 238.2,670.0 237.1,673.5 230.0,682.9 220.6,698.5 216.9,702.5 213.0,704.6Z" fill="none" stroke="#fff" stroke-width="0.9"/>
<path d="M213.0,700.1 210.5,700.2 208.5,699.5 206.2,697.5 204.1,694.5 201.2,686.5 200.1,677.0 201.0,668.0 203.6,660.5 207.5,655.4 210.0,654.0 212.5,653.4 215.0,653.8 217.5,654.9 222.2,659.0 226.3,665.5 227.7,671.5 226.2,679.5 221.7,690.5 217.5,697.0 215.3,699.0 213.0,700.1Z" fill="none" stroke="#fff" stroke-width="0.9"/>
<text x="905.0" y="401.0" class="c b" font-size="32.0">c</text>
<line x1="1158.0" y1="434.0" x2="1158.0" y2="758.5" stroke="#b8b8b8" stroke-width="1" stroke-dasharray="1.5 2.5"/>
<line x1="1257.3" y1="434.0" x2="1257.3" y2="758.5" stroke="#b8b8b8" stroke-width="1" stroke-dasharray="1.5 2.5"/>
<line x1="1356.6" y1="434.0" x2="1356.6" y2="758.5" stroke="#b8b8b8" stroke-width="1" stroke-dasharray="1.5 2.5"/>
<line x1="1455.9" y1="434.0" x2="1455.9" y2="758.5" stroke="#b8b8b8" stroke-width="1" stroke-dasharray="1.5 2.5"/>
<line x1="1555.2" y1="434.0" x2="1555.2" y2="758.5" stroke="#b8b8b8" stroke-width="1" stroke-dasharray="1.5 2.5"/>
<line x1="1654.5" y1="434.0" x2="1654.5" y2="758.5" stroke="#b8b8b8" stroke-width="1" stroke-dasharray="1.5 2.5"/>
<rect x="1078.2" y="434.5" width="25.0" height="324.0" fill="#14acd6" stroke="#0c3d50" stroke-width="1.2"/>
<circle cx="1080.7" cy="434.5" r="2.3" fill="#000"/>
<circle cx="1084.7" cy="434.5" r="2.3" fill="#000"/>
<circle cx="1088.7" cy="434.5" r="2.3" fill="#000"/>
<circle cx="1092.7" cy="434.5" r="2.3" fill="#000"/>
<circle cx="1096.7" cy="434.5" r="2.3" fill="#000"/>
<circle cx="1100.7" cy="434.5" r="2.3" fill="#000"/>
<rect x="1113.5" y="730.3" width="24.3" height="28.2" fill="#fca03e" stroke="#5a3814" stroke-width="1.2"/>
<line x1="1125.6" y1="747.8" x2="1125.6" y2="715.4" stroke="#000" stroke-width="1.6"/>
<line x1="1119.4" y1="747.8" x2="1131.8" y2="747.8" stroke="#000" stroke-width="1.6"/>
<line x1="1119.4" y1="715.4" x2="1131.8" y2="715.4" stroke="#000" stroke-width="1.6"/>
<circle cx="1125.6" cy="700.2" r="2.4" fill="#000"/>
<circle cx="1129.1" cy="729.3" r="2.4" fill="#000"/>
<circle cx="1122.1" cy="731.0" r="2.4" fill="#000"/>
<circle cx="1129.1" cy="740.7" r="2.4" fill="#000"/>
<circle cx="1122.1" cy="740.7" r="2.4" fill="#000"/>
<circle cx="1129.1" cy="747.8" r="2.4" fill="#000"/>
<line x1="1081.3" y1="416.0" x2="1133.0" y2="416.0" stroke="#000" stroke-width="3.2"/>
<text x="1107.2" y="409.8" class="a" font-size="19.9" text-anchor="middle">&lt;0.0001</text>
<rect x="1177.5" y="434.5" width="25.0" height="324.0" fill="#14acd6" stroke="#0c3d50" stroke-width="1.2"/>
<circle cx="1180.0" cy="434.5" r="2.3" fill="#000"/>
<circle cx="1184.0" cy="434.5" r="2.3" fill="#000"/>
<circle cx="1188.0" cy="434.5" r="2.3" fill="#000"/>
<circle cx="1192.0" cy="434.5" r="2.3" fill="#000"/>
<circle cx="1196.0" cy="434.5" r="2.3" fill="#000"/>
<circle cx="1200.0" cy="434.5" r="2.3" fill="#000"/>
<circle cx="1213.9" cy="757.5" r="1.8" fill="#000"/>
<circle cx="1218.4" cy="757.5" r="1.8" fill="#000"/>
<circle cx="1222.9" cy="757.5" r="1.8" fill="#000"/>
<circle cx="1227.4" cy="757.5" r="1.8" fill="#000"/>
<circle cx="1231.9" cy="757.5" r="1.8" fill="#000"/>
<circle cx="1236.4" cy="757.5" r="1.8" fill="#000"/>
<line x1="1180.6" y1="416.0" x2="1232.3" y2="416.0" stroke="#000" stroke-width="3.2"/>
<text x="1206.4" y="409.8" class="a" font-size="19.9" text-anchor="middle">&lt;0.0001</text>
<rect x="1276.8" y="434.5" width="25.0" height="324.0" fill="#14acd6" stroke="#0c3d50" stroke-width="1.2"/>
<circle cx="1279.3" cy="434.5" r="2.3" fill="#000"/>
<circle cx="1283.3" cy="434.5" r="2.3" fill="#000"/>
<circle cx="1287.3" cy="434.5" r="2.3" fill="#000"/>
<circle cx="1291.3" cy="434.5" r="2.3" fill="#000"/>
<circle cx="1295.3" cy="434.5" r="2.3" fill="#000"/>
<circle cx="1299.3" cy="434.5" r="2.3" fill="#000"/>
<rect x="1312.1" y="690.5" width="24.3" height="68.0" fill="#fca03e" stroke="#5a3814" stroke-width="1.2"/>
<line x1="1324.2" y1="713.8" x2="1324.2" y2="669.7" stroke="#000" stroke-width="1.6"/>
<line x1="1318.0" y1="713.8" x2="1330.4" y2="713.8" stroke="#000" stroke-width="1.6"/>
<line x1="1318.0" y1="669.7" x2="1330.4" y2="669.7" stroke="#000" stroke-width="1.6"/>
<circle cx="1324.2" cy="650.6" r="2.4" fill="#000"/>
<circle cx="1327.7" cy="685.6" r="2.4" fill="#000"/>
<circle cx="1320.7" cy="690.5" r="2.4" fill="#000"/>
<circle cx="1327.7" cy="693.7" r="2.4" fill="#000"/>
<circle cx="1320.7" cy="706.7" r="2.4" fill="#000"/>
<circle cx="1327.7" cy="709.9" r="2.4" fill="#000"/>
<line x1="1279.9" y1="416.0" x2="1331.6" y2="416.0" stroke="#000" stroke-width="3.2"/>
<text x="1305.8" y="409.8" class="a" font-size="19.9" text-anchor="middle">&lt;0.0001</text>
<rect x="1376.1" y="434.5" width="25.0" height="324.0" fill="#14acd6" stroke="#0c3d50" stroke-width="1.2"/>
<circle cx="1378.6" cy="434.5" r="2.3" fill="#000"/>
<circle cx="1382.6" cy="434.5" r="2.3" fill="#000"/>
<circle cx="1386.6" cy="434.5" r="2.3" fill="#000"/>
<circle cx="1390.6" cy="434.5" r="2.3" fill="#000"/>
<circle cx="1394.6" cy="434.5" r="2.3" fill="#000"/>
<circle cx="1398.6" cy="434.5" r="2.3" fill="#000"/>
<rect x="1411.4" y="687.2" width="24.3" height="71.3" fill="#fca03e" stroke="#5a3814" stroke-width="1.2"/>
<line x1="1423.5" y1="745.2" x2="1423.5" y2="628.9" stroke="#000" stroke-width="1.6"/>
<line x1="1417.3" y1="745.2" x2="1429.7" y2="745.2" stroke="#000" stroke-width="1.6"/>
<line x1="1417.3" y1="628.9" x2="1429.7" y2="628.9" stroke="#000" stroke-width="1.6"/>
<circle cx="1423.5" cy="574.1" r="2.4" fill="#000"/>
<circle cx="1427.0" cy="682.4" r="2.4" fill="#000"/>
<circle cx="1420.0" cy="693.7" r="2.4" fill="#000"/>
<circle cx="1427.0" cy="709.9" r="2.4" fill="#000"/>
<circle cx="1420.0" cy="726.1" r="2.4" fill="#000"/>
<circle cx="1427.0" cy="742.3" r="2.4" fill="#000"/>
<line x1="1379.2" y1="416.0" x2="1430.9" y2="416.0" stroke="#000" stroke-width="3.2"/>
<text x="1405.0" y="409.8" class="a" font-size="19.9" text-anchor="middle">&lt;0.0001</text>
<rect x="1475.4" y="434.5" width="25.0" height="324.0" fill="#14acd6" stroke="#0c3d50" stroke-width="1.2"/>
<circle cx="1477.9" cy="434.5" r="2.3" fill="#000"/>
<circle cx="1481.9" cy="434.5" r="2.3" fill="#000"/>
<circle cx="1485.9" cy="434.5" r="2.3" fill="#000"/>
<circle cx="1489.9" cy="434.5" r="2.3" fill="#000"/>
<circle cx="1493.9" cy="434.5" r="2.3" fill="#000"/>
<circle cx="1497.9" cy="434.5" r="2.3" fill="#000"/>
<rect x="1510.7" y="671.0" width="24.3" height="87.5" fill="#fca03e" stroke="#5a3814" stroke-width="1.2"/>
<line x1="1522.8" y1="689.8" x2="1522.8" y2="651.6" stroke="#000" stroke-width="1.6"/>
<line x1="1516.6" y1="689.8" x2="1529.0" y2="689.8" stroke="#000" stroke-width="1.6"/>
<line x1="1516.6" y1="651.6" x2="1529.0" y2="651.6" stroke="#000" stroke-width="1.6"/>
<circle cx="1522.8" cy="646.7" r="2.4" fill="#000"/>
<circle cx="1526.3" cy="658.1" r="2.4" fill="#000"/>
<circle cx="1519.3" cy="664.5" r="2.4" fill="#000"/>
<circle cx="1526.3" cy="677.5" r="2.4" fill="#000"/>
<circle cx="1519.3" cy="684.0" r="2.4" fill="#000"/>
<circle cx="1526.3" cy="692.1" r="2.4" fill="#000"/>
<line x1="1478.5" y1="416.0" x2="1530.2" y2="416.0" stroke="#000" stroke-width="3.2"/>
<text x="1504.3" y="409.8" class="a" font-size="19.9" text-anchor="middle">&lt;0.0001</text>
<rect x="1574.7" y="434.5" width="25.0" height="324.0" fill="#14acd6" stroke="#0c3d50" stroke-width="1.2"/>
<circle cx="1577.2" cy="434.5" r="2.3" fill="#000"/>
<circle cx="1581.2" cy="434.5" r="2.3" fill="#000"/>
<circle cx="1585.2" cy="434.5" r="2.3" fill="#000"/>
<circle cx="1589.2" cy="434.5" r="2.3" fill="#000"/>
<circle cx="1593.2" cy="434.5" r="2.3" fill="#000"/>
<circle cx="1597.2" cy="434.5" r="2.3" fill="#000"/>
<circle cx="1611.1" cy="757.5" r="1.8" fill="#000"/>
<circle cx="1615.6" cy="757.5" r="1.8" fill="#000"/>
<circle cx="1620.1" cy="757.5" r="1.8" fill="#000"/>
<circle cx="1624.6" cy="757.5" r="1.8" fill="#000"/>
<circle cx="1629.1" cy="757.5" r="1.8" fill="#000"/>
<circle cx="1633.6" cy="757.5" r="1.8" fill="#000"/>
<line x1="1577.8" y1="416.0" x2="1629.5" y2="416.0" stroke="#000" stroke-width="3.2"/>
<text x="1603.7" y="409.8" class="a" font-size="19.9" text-anchor="middle">&lt;0.0001</text>
<rect x="1674.0" y="434.5" width="25.0" height="324.0" fill="#14acd6" stroke="#0c3d50" stroke-width="1.2"/>
<circle cx="1676.5" cy="434.5" r="2.3" fill="#000"/>
<circle cx="1680.5" cy="434.5" r="2.3" fill="#000"/>
<circle cx="1684.5" cy="434.5" r="2.3" fill="#000"/>
<circle cx="1688.5" cy="434.5" r="2.3" fill="#000"/>
<circle cx="1692.5" cy="434.5" r="2.3" fill="#000"/>
<circle cx="1696.5" cy="434.5" r="2.3" fill="#000"/>
<rect x="1709.3" y="709.3" width="24.3" height="49.2" fill="#fca03e" stroke="#5a3814" stroke-width="1.2"/>
<line x1="1721.4" y1="753.3" x2="1721.4" y2="665.2" stroke="#000" stroke-width="1.6"/>
<line x1="1715.2" y1="753.3" x2="1727.6" y2="753.3" stroke="#000" stroke-width="1.6"/>
<line x1="1715.2" y1="665.2" x2="1727.6" y2="665.2" stroke="#000" stroke-width="1.6"/>
<circle cx="1721.4" cy="664.5" r="2.4" fill="#000"/>
<circle cx="1724.9" cy="664.5" r="2.4" fill="#000"/>
<circle cx="1717.9" cy="684.0" r="2.4" fill="#000"/>
<circle cx="1724.9" cy="719.6" r="2.4" fill="#000"/>
<circle cx="1717.9" cy="752.0" r="2.4" fill="#000"/>
<circle cx="1724.9" cy="756.9" r="2.4" fill="#000"/>
<line x1="1677.1" y1="416.0" x2="1728.8" y2="416.0" stroke="#000" stroke-width="3.2"/>
<text x="1702.9" y="407.8" class="a" font-size="19.9" text-anchor="middle">&lt;0.0001</text>
<line x1="1065.5" y1="434.5" x2="1065.5" y2="760.0" stroke="#000" stroke-width="3"/>
<line x1="1056.0" y1="758.5" x2="1065.5" y2="758.5" stroke="#000" stroke-width="3"/>
<text x="1054.5" y="765.4" class="a" font-size="19.3" text-anchor="end">0.0</text>
<line x1="1056.0" y1="693.7" x2="1065.5" y2="693.7" stroke="#000" stroke-width="3"/>
<text x="1054.5" y="700.6" class="a" font-size="19.3" text-anchor="end">0.2</text>
<line x1="1056.0" y1="628.9" x2="1065.5" y2="628.9" stroke="#000" stroke-width="3"/>
<text x="1054.5" y="635.8" class="a" font-size="19.3" text-anchor="end">0.4</text>
<line x1="1056.0" y1="564.1" x2="1065.5" y2="564.1" stroke="#000" stroke-width="3"/>
<text x="1054.5" y="571.0" class="a" font-size="19.3" text-anchor="end">0.6</text>
<line x1="1056.0" y1="499.3" x2="1065.5" y2="499.3" stroke="#000" stroke-width="3"/>
<text x="1054.5" y="506.2" class="a" font-size="19.3" text-anchor="end">0.8</text>
<line x1="1056.0" y1="434.5" x2="1065.5" y2="434.5" stroke="#000" stroke-width="3"/>
<text x="1054.5" y="441.4" class="a" font-size="19.3" text-anchor="end">1.0</text>
<line x1="1059.5" y1="745.5" x2="1065.5" y2="745.5" stroke="#000" stroke-width="3"/>
<line x1="1059.5" y1="732.6" x2="1065.5" y2="732.6" stroke="#000" stroke-width="3"/>
<line x1="1059.5" y1="719.6" x2="1065.5" y2="719.6" stroke="#000" stroke-width="3"/>
<line x1="1059.5" y1="706.7" x2="1065.5" y2="706.7" stroke="#000" stroke-width="3"/>
<line x1="1059.5" y1="680.7" x2="1065.5" y2="680.7" stroke="#000" stroke-width="3"/>
<line x1="1059.5" y1="667.8" x2="1065.5" y2="667.8" stroke="#000" stroke-width="3"/>
<line x1="1059.5" y1="654.8" x2="1065.5" y2="654.8" stroke="#000" stroke-width="3"/>
<line x1="1059.5" y1="641.9" x2="1065.5" y2="641.9" stroke="#000" stroke-width="3"/>
<line x1="1059.5" y1="615.9" x2="1065.5" y2="615.9" stroke="#000" stroke-width="3"/>
<line x1="1059.5" y1="603.0" x2="1065.5" y2="603.0" stroke="#000" stroke-width="3"/>
<line x1="1059.5" y1="590.0" x2="1065.5" y2="590.0" stroke="#000" stroke-width="3"/>
<line x1="1059.5" y1="577.1" x2="1065.5" y2="577.1" stroke="#000" stroke-width="3"/>
<line x1="1059.5" y1="551.1" x2="1065.5" y2="551.1" stroke="#000" stroke-width="3"/>
<line x1="1059.5" y1="538.2" x2="1065.5" y2="538.2" stroke="#000" stroke-width="3"/>
<line x1="1059.5" y1="525.2" x2="1065.5" y2="525.2" stroke="#000" stroke-width="3"/>
<line x1="1059.5" y1="512.3" x2="1065.5" y2="512.3" stroke="#000" stroke-width="3"/>
<line x1="1059.5" y1="486.3" x2="1065.5" y2="486.3" stroke="#000" stroke-width="3"/>
<line x1="1059.5" y1="473.4" x2="1065.5" y2="473.4" stroke="#000" stroke-width="3"/>
<line x1="1059.5" y1="460.4" x2="1065.5" y2="460.4" stroke="#000" stroke-width="3"/>
<line x1="1059.5" y1="447.5" x2="1065.5" y2="447.5" stroke="#000" stroke-width="3"/>
<line x1="1063.8" y1="759.2" x2="1751.6" y2="759.2" stroke="#000" stroke-width="3.4"/>
<line x1="1090.7" y1="759.2" x2="1090.7" y2="767.9" stroke="#000" stroke-width="3"/>
<line x1="1190.0" y1="759.2" x2="1190.0" y2="767.9" stroke="#000" stroke-width="3"/>
<line x1="1289.3" y1="759.2" x2="1289.3" y2="767.9" stroke="#000" stroke-width="3"/>
<line x1="1388.6" y1="759.2" x2="1388.6" y2="767.9" stroke="#000" stroke-width="3"/>
<line x1="1487.9" y1="759.2" x2="1487.9" y2="767.9" stroke="#000" stroke-width="3"/>
<line x1="1587.2" y1="759.2" x2="1587.2" y2="767.9" stroke="#000" stroke-width="3"/>
<line x1="1686.5" y1="759.2" x2="1686.5" y2="767.9" stroke="#000" stroke-width="3"/>
<line x1="1125.6" y1="759.2" x2="1125.6" y2="767.9" stroke="#000" stroke-width="3"/>
<line x1="1224.9" y1="759.2" x2="1224.9" y2="767.9" stroke="#000" stroke-width="3"/>
<line x1="1324.2" y1="759.2" x2="1324.2" y2="767.9" stroke="#000" stroke-width="3"/>
<line x1="1423.5" y1="759.2" x2="1423.5" y2="767.9" stroke="#000" stroke-width="3"/>
<line x1="1522.8" y1="759.2" x2="1522.8" y2="767.9" stroke="#000" stroke-width="3"/>
<line x1="1622.1" y1="759.2" x2="1622.1" y2="767.9" stroke="#000" stroke-width="3"/>
<line x1="1721.4" y1="759.2" x2="1721.4" y2="767.9" stroke="#000" stroke-width="3"/>
<text class="a" font-size="25" text-anchor="middle" transform="translate(976.4,589.5) rotate(-90)">Relative <tspan font-weight="bold">Cytokine levels</tspan> (pg/ml)</text>
<text class="a" font-size="22.6" text-anchor="middle" transform="translate(1003.6,593.2) rotate(-90)">to control without IL-35</text>
<text x="1118.7" y="794.5" class="c" font-size="33.0" text-anchor="end" transform="rotate(-45 1118.7 794.5)">IFN-γ</text>
<text x="1222.5" y="794.5" class="c" font-size="33.0" text-anchor="end" transform="rotate(-45 1222.5 794.5)">TNF-α</text>
<text x="1327.7" y="794.5" class="c" font-size="33.0" text-anchor="end" transform="rotate(-45 1327.7 794.5)">GM-CSF</text>
<text x="1418.1" y="794.5" class="c" font-size="33.0" text-anchor="end" transform="rotate(-45 1418.1 794.5)">CCL3</text>
<text x="1518.9" y="794.5" class="c" font-size="33.0" text-anchor="end" transform="rotate(-45 1518.9 794.5)">CCL4</text>
<text x="1615.1" y="794.5" class="c" font-size="33.0" text-anchor="end" transform="rotate(-45 1615.1 794.5)">XCL1</text>
<text x="1715.5" y="794.5" class="c" font-size="33.0" text-anchor="end" transform="rotate(-45 1715.5 794.5)">FLT3L</text>
<rect x="1753.0" y="558.0" width="19.4" height="19.0" fill="#14acd6" stroke="#222" stroke-width="1.5"/>
<rect x="1753.0" y="589.7" width="19.4" height="19.3" fill="#fca03e" stroke="#222" stroke-width="1.5"/>
<text x="1781.8" y="576.0" class="c" font-size="26.0">IL-2</text>
<text x="1781.8" y="608.5" class="c" font-size="26.0">IL-2+IL-35</text>
<text x="20.0" y="922.4" class="c b" font-size="32.0">d</text>
<line x1="1116.8" y1="1037.0" x2="1116.8" y2="1306.0" stroke="#c0c0c0" stroke-width="1" stroke-dasharray="1.2 2.5"/>
<line x1="1238.2" y1="1037.0" x2="1238.2" y2="1306.0" stroke="#c0c0c0" stroke-width="1" stroke-dasharray="1.2 2.5"/>
<rect x="1016.7" y="1086.0" width="34.5" height="220.0" fill="#14acd6" stroke="#0c3d50" stroke-width="1.2"/>
<rect x="1061.7" y="1214.7" width="34.5" height="91.3" fill="#fca03e" stroke="#5a3814" stroke-width="1.2"/>
<line x1="1033.9" y1="1053.5" x2="1078.9" y2="1188.4" stroke="#333" stroke-width="1" stroke-dasharray="1.2 1.8"/>
<line x1="1033.9" y1="1071.3" x2="1078.9" y2="1271.3" stroke="#333" stroke-width="1" stroke-dasharray="1.2 1.8"/>
<line x1="1033.9" y1="1078.8" x2="1078.9" y2="1209.3" stroke="#333" stroke-width="1" stroke-dasharray="1.2 1.8"/>
<line x1="1033.9" y1="1099.9" x2="1078.9" y2="1249.6" stroke="#333" stroke-width="1" stroke-dasharray="1.2 1.8"/>
<line x1="1033.9" y1="1127.6" x2="1078.9" y2="1157.6" stroke="#333" stroke-width="1" stroke-dasharray="1.2 1.8"/>
<circle cx="1033.9" cy="1053.5" r="2.4" fill="#000"/>
<circle cx="1033.9" cy="1071.3" r="2.4" fill="#000"/>
<circle cx="1033.9" cy="1078.8" r="2.4" fill="#000"/>
<circle cx="1033.9" cy="1099.9" r="2.4" fill="#000"/>
<circle cx="1033.9" cy="1127.6" r="2.4" fill="#000"/>
<circle cx="1078.9" cy="1157.6" r="2.4" fill="#000"/>
<circle cx="1078.9" cy="1188.4" r="2.4" fill="#000"/>
<circle cx="1078.9" cy="1209.3" r="2.4" fill="#000"/>
<circle cx="1078.9" cy="1249.6" r="2.4" fill="#000"/>
<circle cx="1078.9" cy="1271.3" r="2.4" fill="#000"/>
<line x1="1078.9" y1="1261.0" x2="1078.9" y2="1169.5" stroke="#000" stroke-width="1.6"/>
<line x1="1074.9" y1="1261.0" x2="1082.9" y2="1261.0" stroke="#000" stroke-width="1.6"/>
<line x1="1074.9" y1="1169.5" x2="1082.9" y2="1169.5" stroke="#000" stroke-width="1.6"/>
<rect x="1137.3" y="1150.6" width="34.5" height="155.4" fill="#14acd6" stroke="#0c3d50" stroke-width="1.2"/>
<rect x="1182.3" y="1246.5" width="34.5" height="59.5" fill="#fca03e" stroke="#5a3814" stroke-width="1.2"/>
<line x1="1154.5" y1="1097.6" x2="1199.5" y2="1203.0" stroke="#333" stroke-width="1" stroke-dasharray="1.2 1.8"/>
<line x1="1154.5" y1="1144.4" x2="1199.5" y2="1251.4" stroke="#333" stroke-width="1" stroke-dasharray="1.2 1.8"/>
<line x1="1154.5" y1="1163.3" x2="1199.5" y2="1259.3" stroke="#333" stroke-width="1" stroke-dasharray="1.2 1.8"/>
<line x1="1154.5" y1="1204.4" x2="1199.5" y2="1271.0" stroke="#333" stroke-width="1" stroke-dasharray="1.2 1.8"/>
<circle cx="1154.5" cy="1097.6" r="2.4" fill="#000"/>
<circle cx="1154.5" cy="1144.4" r="2.4" fill="#000"/>
<circle cx="1154.5" cy="1163.3" r="2.4" fill="#000"/>
<circle cx="1154.5" cy="1204.4" r="2.4" fill="#000"/>
<circle cx="1199.5" cy="1203.0" r="2.4" fill="#000"/>
<circle cx="1199.5" cy="1248.2" r="2.4" fill="#000"/>
<circle cx="1199.5" cy="1251.4" r="2.4" fill="#000"/>
<circle cx="1199.5" cy="1259.3" r="2.4" fill="#000"/>
<circle cx="1199.5" cy="1271.0" r="2.4" fill="#000"/>
<line x1="1199.5" y1="1272.3" x2="1199.5" y2="1220.9" stroke="#000" stroke-width="1.6"/>
<line x1="1195.5" y1="1272.3" x2="1203.5" y2="1272.3" stroke="#000" stroke-width="1.6"/>
<line x1="1195.5" y1="1220.9" x2="1203.5" y2="1220.9" stroke="#000" stroke-width="1.6"/>
<rect x="1259.3" y="1214.7" width="34.5" height="91.3" fill="#14acd6" stroke="#0c3d50" stroke-width="1.2"/>
<rect x="1304.3" y="1269.1" width="34.5" height="36.9" fill="#fca03e" stroke="#5a3814" stroke-width="1.2"/>
<line x1="1276.5" y1="1206.8" x2="1321.5" y2="1241.6" stroke="#333" stroke-width="1" stroke-dasharray="1.2 1.8"/>
<line x1="1276.5" y1="1217.9" x2="1321.5" y2="1274.6" stroke="#333" stroke-width="1" stroke-dasharray="1.2 1.8"/>
<line x1="1276.5" y1="1244.1" x2="1321.5" y2="1278.6" stroke="#333" stroke-width="1" stroke-dasharray="1.2 1.8"/>
<line x1="1276.5" y1="1252.1" x2="1321.5" y2="1279.8" stroke="#333" stroke-width="1" stroke-dasharray="1.2 1.8"/>
<circle cx="1276.5" cy="1206.8" r="2.4" fill="#000"/>
<circle cx="1276.5" cy="1217.9" r="2.4" fill="#000"/>
<circle cx="1276.5" cy="1244.1" r="2.4" fill="#000"/>
<circle cx="1276.5" cy="1252.1" r="2.4" fill="#000"/>
<circle cx="1321.5" cy="1241.6" r="2.4" fill="#000"/>
<circle cx="1321.5" cy="1271.4" r="2.4" fill="#000"/>
<circle cx="1321.5" cy="1274.6" r="2.4" fill="#000"/>
<circle cx="1321.5" cy="1278.6" r="2.4" fill="#000"/>
<circle cx="1321.5" cy="1279.8" r="2.4" fill="#000"/>
<line x1="1321.5" y1="1285.4" x2="1321.5" y2="1253.4" stroke="#000" stroke-width="1.6"/>
<line x1="1317.5" y1="1285.4" x2="1325.5" y2="1285.4" stroke="#000" stroke-width="1.6"/>
<line x1="1317.5" y1="1253.4" x2="1325.5" y2="1253.4" stroke="#000" stroke-width="1.6"/>
<line x1="999.2" y1="1036.8" x2="999.2" y2="1307.2" stroke="#000" stroke-width="2.5"/>
<line x1="991.0" y1="1306.0" x2="999.2" y2="1306.0" stroke="#000" stroke-width="2.5"/>
<text x="989.5" y="1311.7" class="a b" font-size="16.0" text-anchor="end">0</text>
<line x1="991.0" y1="1252.2" x2="999.2" y2="1252.2" stroke="#000" stroke-width="2.5"/>
<text x="989.5" y="1257.9" class="a b" font-size="16.0" text-anchor="end">20</text>
<line x1="991.0" y1="1198.3" x2="999.2" y2="1198.3" stroke="#000" stroke-width="2.5"/>
<text x="989.5" y="1204.0" class="a b" font-size="16.0" text-anchor="end">40</text>
<line x1="991.0" y1="1144.5" x2="999.2" y2="1144.5" stroke="#000" stroke-width="2.5"/>
<text x="989.5" y="1150.2" class="a b" font-size="16.0" text-anchor="end">60</text>
<line x1="991.0" y1="1090.6" x2="999.2" y2="1090.6" stroke="#000" stroke-width="2.5"/>
<text x="989.5" y="1096.3" class="a b" font-size="16.0" text-anchor="end">80</text>
<line x1="991.0" y1="1036.8" x2="999.2" y2="1036.8" stroke="#000" stroke-width="2.5"/>
<text x="989.5" y="1042.5" class="a b" font-size="16.0" text-anchor="end">100</text>
<line x1="997.8" y1="1306.0" x2="1357.3" y2="1306.0" stroke="#000" stroke-width="2.8"/>
<line x1="1033.9" y1="1306.0" x2="1033.9" y2="1311.4" stroke="#000" stroke-width="2.5"/>
<line x1="1078.9" y1="1306.0" x2="1078.9" y2="1311.4" stroke="#000" stroke-width="2.5"/>
<line x1="1154.8" y1="1306.0" x2="1154.8" y2="1311.4" stroke="#000" stroke-width="2.5"/>
<line x1="1200.0" y1="1306.0" x2="1200.0" y2="1311.4" stroke="#000" stroke-width="2.5"/>
<line x1="1276.3" y1="1306.0" x2="1276.3" y2="1311.4" stroke="#000" stroke-width="2.5"/>
<line x1="1321.6" y1="1306.0" x2="1321.6" y2="1311.4" stroke="#000" stroke-width="2.5"/>
<line x1="1024.8" y1="1035.3" x2="1090.5" y2="1035.3" stroke="#000" stroke-width="3"/>
<text x="1057.7" y="1029.6" class="a" font-size="19.8" text-anchor="middle">0.0063</text>
<line x1="1144.3" y1="1035.3" x2="1209.2" y2="1035.3" stroke="#000" stroke-width="3"/>
<text x="1176.8" y="1029.6" class="a" font-size="19.8" text-anchor="middle">0.0027</text>
<line x1="1261.4" y1="1035.3" x2="1326.7" y2="1035.3" stroke="#000" stroke-width="3"/>
<text x="1294.1" y="1029.6" class="a" font-size="19.8" text-anchor="middle">0.0086</text>
<text class="a" font-size="24" text-anchor="middle" transform="translate(949.2,1166.5) rotate(-90)">% Dead Co-cultured K562</text>
<text x="887.2" y="1351.5" class="c" font-size="33.1">E:T ratio:</text>
<text x="1076.0" y="1334.8" class="c" font-size="34.0" text-anchor="end" transform="rotate(-45 1076.0 1334.8)">1:1</text>
<text x="1191.6" y="1334.8" class="c" font-size="34.0" text-anchor="end" transform="rotate(-45 1191.6 1334.8)">1:2</text>
<text x="1314.6" y="1334.8" class="c" font-size="34.0" text-anchor="end" transform="rotate(-45 1314.6 1334.8)">1:5</text>
<rect x="1366.0" y="1137.8" width="19.4" height="18.5" fill="#14acd6" stroke="#222" stroke-width="1.5"/>
<rect x="1366.0" y="1170.7" width="19.4" height="18.5" fill="#fca03e" stroke="#222" stroke-width="1.5"/>
<text x="1395.7" y="1156.0" class="c" font-size="26.0">IL-2</text>
<text x="1395.7" y="1188.4" class="c" font-size="26.0">IL-2+IL-35</text>
<text x="486.8" y="921.5" class="c" font-size="32.5" text-anchor="middle">Gated on K562</text>
<line x1="177.0" y1="939.0" x2="814.6" y2="939.0" stroke="#000" stroke-width="3"/>
<text x="77.5" y="981.0" class="c" font-size="33.1">E:T ratio:</text>
<text x="266.0" y="981.0" class="c" font-size="32.5" text-anchor="middle">1:1</text>
<text x="504.0" y="981.0" class="c" font-size="32.5" text-anchor="middle">1:2</text>
<text x="761.0" y="981.0" class="c" font-size="32.5" text-anchor="middle">1:5</text>
<path d="M289.1,1159.7 274.6,1159.7 274.1,1159.2 271.6,1159.2 266.6,1157.7 264.6,1157.7 264.1,1157.2 258.1,1156.7 257.6,1156.2 252.1,1156.2 251.6,1155.7 232.6,1155.7 232.1,1156.2 226.1,1156.2 225.6,1156.7 221.1,1156.7 220.6,1157.2 214.6,1157.2 211.6,1156.2 209.8,1154.4 207.8,1148.9 207.8,1144.4 213.6,1139.7 221.1,1135.7 224.6,1134.7 231.6,1134.2 238.1,1130.7 243.1,1134.7 245.1,1134.7 248.6,1133.2 251.8,1129.9 252.8,1127.9 252.3,1122.9 249.3,1116.9 248.1,1115.7 243.6,1113.7 242.8,1112.9 242.8,1111.9 245.1,1109.7 247.1,1108.7 251.6,1107.2 257.1,1106.2 261.1,1104.2 268.1,1099.2 270.1,1098.7 277.1,1095.2 281.6,1091.7 290.9,1082.4 291.9,1080.4 291.9,1077.4 290.4,1073.9 290.9,1072.4 292.1,1071.2 295.1,1069.7 298.1,1068.7 303.1,1068.7 303.9,1067.9 303.9,1066.9 299.6,1063.2 291.6,1058.2 282.6,1048.7 277.6,1046.7 275.1,1046.7 271.6,1045.7 267.6,1045.7 266.6,1045.2 266.4,1042.9 266.9,1041.9 270.1,1038.7 275.6,1036.2 285.1,1035.7 285.6,1035.2 291.1,1034.7 314.6,1028.2 316.6,1028.2 319.1,1027.2 321.1,1027.2 326.1,1025.7 329.1,1025.7 329.6,1025.2 337.1,1025.7 344.6,1028.2 349.1,1030.7 350.4,1031.9 350.4,1046.4 349.9,1046.9 349.4,1059.9 348.9,1060.4 348.4,1068.4 347.9,1068.9 348.9,1080.4 349.4,1080.9 349.4,1098.4 348.9,1098.9 348.9,1105.4 348.4,1105.9 348.4,1107.9 346.9,1110.9 343.4,1113.9 332.1,1126.2 331.1,1126.7 323.1,1126.2 321.9,1126.9 319.4,1131.9 318.9,1137.4 319.9,1139.4 321.9,1141.4 322.4,1143.9 320.6,1145.2 316.6,1146.2 315.1,1147.2 313.9,1148.9 313.4,1151.4 311.6,1154.7 307.6,1157.2 304.1,1158.2 298.1,1158.7 297.6,1159.2 289.6,1159.2 289.1,1159.7Z" fill="#00ccd0" fill-rule="evenodd"/>
<path d="M289.1,1156.4 287.6,1156.9 276.1,1156.9 261.6,1153.9 251.6,1152.9 232.6,1152.9 216.1,1154.4 213.6,1153.8 212.4,1152.9 211.2,1149.9 210.6,1145.9 215.1,1142.2 222.1,1138.5 226.1,1137.4 232.6,1136.7 237.6,1134.1 240.6,1136.5 243.1,1137.4 246.1,1137.2 250.6,1135.1 253.8,1131.9 255.2,1129.4 255.6,1124.4 252.6,1116.8 250.1,1113.7 247.3,1111.9 258.1,1108.7 262.6,1106.5 269.6,1101.7 278.7,1097.4 283.6,1093.6 293.2,1083.9 294.6,1080.4 294.6,1076.9 293.6,1073.8 299.1,1071.5 304.1,1071.2 306.2,1069.4 306.6,1066.9 305.8,1064.9 301.2,1060.9 292.9,1055.4 284.6,1046.7 280.6,1044.6 270.6,1042.9 270.3,1042.4 271.4,1041.4 276.6,1039.0 291.6,1037.4 315.6,1031.0 327.6,1028.4 332.6,1027.9 338.1,1029.0 343.6,1031.0 347.6,1033.4 347.6,1044.9 347.1,1046.9 346.6,1058.4 345.1,1068.9 346.6,1082.4 346.6,1096.9 345.5,1106.9 344.1,1109.6 341.4,1111.9 330.6,1123.6 329.1,1123.9 327.1,1123.4 322.6,1123.4 319.9,1124.9 317.3,1129.4 316.1,1133.9 316.3,1138.4 318.8,1142.4 315.1,1143.8 312.9,1145.4 311.5,1147.4 309.6,1152.2 308.3,1153.4 305.1,1154.8 300.1,1155.9 289.1,1156.4Z" fill="#cdeff0" fill-rule="evenodd"/>
<path d="M289.1,1156.4 274.6,1156.4 264.1,1154.0 246.1,1151.4 224.1,1152.7 216.6,1152.5 214.1,1152.0 211.6,1150.0 211.1,1148.9 211.1,1145.4 215.1,1143.1 220.1,1141.6 237.1,1139.5 243.1,1139.8 246.1,1139.1 250.8,1136.4 258.0,1129.9 261.1,1125.4 262.5,1121.9 262.0,1116.4 267.8,1107.9 271.4,1104.4 285.2,1095.4 291.1,1089.4 294.1,1085.4 295.6,1081.9 296.0,1074.4 299.6,1072.5 304.8,1071.4 306.7,1069.4 307.2,1066.9 306.8,1064.9 304.9,1062.4 295.6,1052.5 292.1,1045.4 291.9,1043.9 299.1,1038.3 308.6,1032.9 326.1,1028.9 331.1,1028.6 337.6,1030.4 342.6,1033.0 344.9,1034.9 346.1,1041.9 345.0,1050.9 341.3,1062.9 340.8,1067.4 341.3,1072.4 343.3,1082.9 343.6,1088.9 343.5,1096.4 342.7,1103.4 341.7,1106.9 336.6,1114.6 330.6,1120.0 329.1,1121.0 320.6,1121.3 317.6,1122.8 315.1,1125.4 313.5,1128.4 313.2,1132.4 316.0,1141.9 312.1,1145.9 308.8,1151.9 306.1,1153.6 300.4,1155.4 289.6,1156.0 289.1,1156.4Z" fill="#b2e8ea" fill-rule="evenodd"/>
<path d="M286.6,1155.4 278.1,1155.5 273.1,1155.0 263.1,1152.7 251.6,1149.1 247.1,1148.4 243.1,1148.6 230.1,1151.0 218.6,1151.2 214.6,1150.2 213.2,1148.9 212.5,1146.9 216.1,1144.3 223.6,1142.5 237.1,1142.5 242.6,1143.2 246.6,1142.6 249.6,1140.9 260.1,1132.3 270.1,1125.4 271.2,1123.9 271.4,1122.4 270.3,1116.9 270.2,1113.4 271.1,1110.4 272.6,1107.9 277.6,1103.4 290.3,1095.9 295.0,1092.4 297.5,1089.4 298.7,1086.9 300.0,1082.4 300.5,1077.4 307.1,1074.8 309.7,1072.4 311.2,1069.9 311.8,1066.4 311.0,1063.4 302.8,1053.9 299.5,1048.4 299.1,1045.9 301.2,1041.9 303.6,1039.0 307.1,1036.1 312.1,1033.2 316.1,1031.7 320.6,1030.7 327.6,1030.2 331.6,1030.6 335.1,1031.8 339.1,1033.9 342.1,1036.3 343.5,1042.4 342.0,1050.4 337.1,1059.9 335.8,1063.9 336.1,1067.9 339.7,1079.4 340.9,1086.4 341.1,1095.9 339.6,1105.4 336.1,1111.4 331.6,1115.8 328.1,1117.7 321.6,1117.5 318.1,1118.5 314.2,1120.9 308.1,1126.4 307.1,1128.4 307.2,1130.4 311.7,1140.4 308.2,1147.9 306.6,1150.3 299.6,1153.3 286.6,1155.4Z" fill="#96e1e4" fill-rule="evenodd"/>
<path d="M326.1,1061.5 324.1,1061.7 321.1,1061.1 313.1,1057.2 307.6,1052.4 304.6,1047.4 305.1,1042.9 307.3,1038.9 310.6,1035.9 316.1,1033.1 323.6,1031.7 331.6,1032.5 337.2,1035.4 339.7,1037.9 340.4,1039.4 340.9,1044.4 338.8,1050.4 333.6,1056.2 326.1,1061.5ZM286.1,1153.4 276.6,1153.5 266.6,1151.3 260.6,1149.2 256.3,1146.9 254.6,1145.7 253.5,1143.9 257.9,1138.4 264.1,1133.9 269.6,1131.5 280.9,1128.4 284.1,1126.9 283.8,1125.4 278.1,1120.0 275.4,1115.9 275.0,1111.9 276.6,1108.3 281.5,1103.9 290.1,1099.7 298.1,1097.2 308.6,1095.8 310.6,1095.0 311.6,1092.9 311.7,1085.4 314.4,1079.9 319.1,1073.4 322.6,1069.6 325.6,1067.7 327.6,1068.2 331.1,1070.7 334.1,1074.3 336.6,1079.1 338.0,1083.4 338.9,1088.9 339.0,1094.9 338.3,1100.9 337.2,1104.9 334.1,1109.9 330.6,1112.9 326.6,1114.1 321.1,1113.2 318.1,1113.7 307.1,1121.7 295.1,1127.4 294.7,1128.4 295.5,1129.4 302.6,1134.6 305.6,1137.9 306.4,1141.4 305.7,1144.9 304.1,1148.1 299.6,1150.5 295.1,1152.0 286.1,1153.4ZM224.1,1149.9 217.1,1149.2 215.9,1148.4 215.7,1147.4 218.1,1145.4 224.1,1144.0 232.1,1144.4 234.4,1144.9 235.7,1145.9 235.2,1147.4 233.2,1148.4 229.6,1149.5 224.1,1149.9Z" fill="#7adbde" fill-rule="evenodd"/>
<path d="M324.6,1055.4 319.6,1055.0 315.1,1053.5 311.1,1050.7 308.7,1047.4 308.2,1043.4 309.5,1039.9 312.6,1036.7 316.6,1034.5 323.1,1033.1 329.1,1033.6 334.6,1036.1 337.9,1039.9 338.5,1042.4 338.3,1044.9 337.4,1047.4 335.8,1049.9 330.6,1053.7 324.6,1055.4ZM329.1,1109.0 327.1,1109.1 325.1,1108.6 322.2,1105.9 320.5,1101.4 319.6,1093.9 319.9,1087.4 321.4,1082.4 324.1,1078.4 325.6,1077.3 327.6,1076.8 330.6,1077.6 333.6,1080.8 335.6,1085.5 336.6,1091.9 336.3,1097.4 335.0,1102.9 332.5,1106.9 329.1,1109.0ZM296.1,1121.4 288.6,1120.8 282.7,1117.9 280.8,1115.9 279.7,1113.4 279.8,1110.9 280.8,1108.9 282.6,1106.9 286.1,1104.6 294.1,1102.0 302.1,1101.9 305.6,1102.8 308.6,1104.4 310.7,1106.4 311.9,1108.9 311.8,1111.4 310.3,1114.4 307.9,1116.9 304.6,1119.0 300.6,1120.6 296.1,1121.4ZM286.6,1150.5 277.1,1150.7 269.6,1148.9 266.3,1147.4 263.6,1145.4 262.3,1143.4 262.4,1141.4 265.1,1138.6 269.0,1136.4 273.7,1134.9 279.1,1134.1 285.1,1134.1 290.6,1135.0 295.1,1136.7 298.2,1138.9 299.6,1140.9 300.1,1142.9 298.6,1145.9 294.6,1148.4 286.6,1150.5Z" fill="#60d5d8" fill-rule="evenodd"/>
<path d="M325.1,1052.9 321.1,1052.8 317.1,1051.8 313.9,1049.9 311.6,1047.4 310.7,1044.9 310.9,1041.9 312.6,1038.9 315.1,1036.7 320.1,1034.8 326.1,1034.5 331.6,1036.1 335.3,1039.4 336.4,1043.4 335.9,1045.9 334.7,1047.9 330.6,1051.3 325.1,1052.9ZM328.6,1103.4 326.6,1102.6 325.0,1100.4 324.0,1096.9 323.6,1092.9 324.0,1089.4 325.1,1086.2 326.6,1084.3 328.6,1083.5 330.6,1084.3 332.2,1086.4 333.3,1089.4 333.8,1093.4 333.4,1097.4 332.2,1100.9 330.6,1102.7 328.6,1103.4ZM297.1,1117.9 291.6,1117.8 287.0,1115.9 284.7,1112.9 284.8,1110.9 285.6,1109.4 289.1,1106.7 294.6,1105.2 300.1,1105.5 304.1,1107.3 306.0,1110.4 305.4,1113.4 302.1,1116.3 297.1,1117.9ZM285.1,1145.9 281.1,1146.4 277.0,1145.9 274.1,1144.4 273.4,1142.4 274.8,1140.9 277.6,1139.8 281.1,1139.4 285.1,1139.9 288.0,1141.4 288.8,1142.9 288.0,1144.4 285.1,1145.9Z" fill="#48cfd3" fill-rule="evenodd"/>
<path d="M326.6,1050.9 323.6,1051.3 320.1,1050.9 317.1,1049.8 314.6,1047.9 313.2,1045.9 312.7,1043.4 313.3,1040.9 314.8,1038.9 319.1,1036.3 324.1,1035.6 329.1,1036.5 332.7,1038.9 334.5,1042.4 333.8,1045.9 331.1,1049.0 326.6,1050.9Z" fill="#36cbcf" fill-rule="evenodd"/>
<path d="M326.6,1057.5 321.6,1057.8 316.1,1056.3 311.1,1053.3 307.6,1049.4 306.3,1045.9 306.9,1041.9 309.1,1038.4 312.6,1035.5 316.6,1033.6 320.6,1032.6 328.1,1032.5 331.6,1033.3 334.6,1034.7 338.7,1038.4 339.6,1040.9 339.9,1043.9 338.0,1049.4 333.1,1054.3 326.6,1057.5ZM294.6,1123.9 290.6,1123.9 287.1,1123.1 283.1,1121.2 280.0,1118.9 278.0,1116.4 277.0,1113.9 277.2,1110.9 278.5,1108.4 280.9,1105.9 285.1,1103.2 290.6,1100.9 296.1,1099.6 304.6,1099.4 313.6,1102.3 315.1,1102.3 315.9,1101.4 316.4,1099.4 316.8,1085.9 319.1,1079.4 322.1,1075.2 325.6,1072.8 328.6,1072.8 331.1,1074.1 333.6,1076.8 335.6,1080.3 337.0,1084.4 337.9,1089.9 338.0,1095.4 337.2,1100.9 336.4,1103.9 334.1,1107.9 331.1,1110.7 327.6,1112.0 325.1,1111.9 319.1,1109.6 317.6,1109.8 311.7,1116.4 307.6,1119.6 301.1,1122.6 294.6,1123.9ZM284.1,1152.4 276.6,1152.3 266.6,1150.0 260.2,1146.9 258.1,1144.9 257.2,1142.9 260.2,1138.9 265.6,1135.1 272.1,1132.7 279.6,1131.3 286.1,1131.1 292.1,1132.0 298.1,1134.5 302.3,1137.9 303.6,1140.4 303.9,1142.9 303.1,1145.9 301.7,1147.4 295.1,1150.6 284.1,1152.4ZM225.6,1148.9 219.6,1148.6 218.1,1148.1 217.9,1147.4 220.1,1145.8 224.6,1144.9 229.6,1145.2 231.7,1146.4 231.3,1147.4 229.6,1148.3 225.6,1148.9Z" fill="none" stroke="#fff" stroke-width="0.8"/>
<path d="M327.1,1051.9 323.6,1052.4 320.1,1052.0 316.6,1050.8 313.8,1048.9 312.0,1046.4 311.4,1043.9 312.0,1040.9 313.6,1038.6 318.1,1035.8 324.1,1034.8 329.6,1035.8 333.6,1038.3 335.7,1041.9 335.7,1043.9 334.9,1046.4 331.7,1049.9 327.1,1051.9ZM329.6,1100.5 328.1,1100.4 326.9,1099.4 325.3,1094.4 326.1,1088.9 327.1,1087.3 328.6,1086.6 330.1,1087.0 331.1,1088.2 332.4,1092.9 331.6,1097.9 329.6,1100.5ZM297.6,1116.4 293.1,1116.6 289.3,1115.4 287.0,1112.9 287.2,1110.4 289.6,1108.2 293.6,1106.8 298.1,1106.7 301.6,1107.9 303.5,1109.9 303.5,1112.4 301.3,1114.9 297.6,1116.4Z" fill="none" stroke="#fff" stroke-width="0.8"/>
<path d="M326.6,1050.0 320.6,1050.0 317.7,1048.9 315.6,1047.4 314.3,1045.4 313.8,1043.4 314.2,1041.4 315.6,1039.4 319.1,1037.2 323.6,1036.3 328.1,1037.0 331.6,1039.1 333.4,1042.4 332.9,1045.4 330.6,1048.1 326.6,1050.0Z" fill="none" stroke="#fff" stroke-width="0.8"/>
<rect x="172.1" y="988.4" width="194.0" height="194.3" fill="none" stroke="#111" stroke-width="1.2"/>
<line x1="259.9" y1="988.4" x2="259.9" y2="1182.7" stroke="#000" stroke-width="2"/>
<line x1="172.1" y1="1123.1" x2="366.1" y2="1123.1" stroke="#000" stroke-width="2"/>
<text x="175.7" y="1011.6" class="a b" font-size="13.2">1.31</text>
<text x="349.3" y="1011.6" class="a b" font-size="13.2" text-anchor="end">87.2</text>
<text x="175.7" y="1168.4" class="a b" font-size="13.2">3.11</text>
<text x="349.3" y="1168.4" class="a b" font-size="13.2" text-anchor="end">8.34</text>
<path d="M168.1,1002.6h4M169.9,1009.4h2.2M169.9,1016.2h2.2M169.9,1023.0h2.2M169.9,1029.8h2.2M168.1,1036.5h4M169.9,1043.3h2.2M169.9,1050.1h2.2M169.9,1056.9h2.2M169.9,1063.7h2.2M168.1,1070.4h4M169.9,1077.2h2.2M169.9,1084.0h2.2M169.9,1090.8h2.2M169.9,1097.6h2.2M168.1,1104.3h4M169.9,1111.1h2.2M169.9,1117.9h2.2M169.9,1124.7h2.2M169.9,1131.5h2.2M168.1,1138.2h4M169.9,1145.0h2.2M169.9,1151.8h2.2M169.9,1158.6h2.2M169.9,1165.4h2.2M168.1,1172.1h4M169.9,1178.9h2.2M177.9,1182.7v3.5M191.5,1182.7v2M199.3,1182.7v2M203.1,1182.7v2M205.1,1182.7v3.5M207.0,1182.7v2M209.0,1182.7v2M210.9,1182.7v2M230.3,1182.7v3.5M241.9,1182.7v2M249.7,1182.7v2M253.6,1182.7v2M257.5,1182.7v3.5M259.4,1182.7v2M269.1,1182.7v2M292.4,1182.7v2M304.0,1182.7v3.5M307.9,1182.7v2M311.8,1182.7v2M315.7,1182.7v2M319.5,1182.7v3.5M327.3,1182.7v2M340.9,1182.7v2M350.6,1182.7v2M354.5,1182.7v3.5M362.2,1182.7v2" stroke="#000" stroke-width="0.8" fill="none"/>
<rect x="167.6" y="1150.4" width="3.2" height="5.0" fill="#000"/>
<rect x="199.1" y="1183.2" width="8.0" height="2.8" fill="#000"/>
<text x="210.9" y="1199.7" class="a" font-size="6.5" text-anchor="middle">0</text>
<text x="257.5" y="1199.7" class="a" font-size="6.5" text-anchor="middle">10³</text>
<text x="304.0" y="1199.7" class="a" font-size="6.5" text-anchor="middle">10⁴</text>
<text x="352.5" y="1199.7" class="a" font-size="6.5" text-anchor="middle">10⁵</text>
<text x="167.1" y="1004.9" class="a" font-size="6.5" text-anchor="end">10⁶</text>
<text x="167.1" y="1038.8" class="a" font-size="6.5" text-anchor="end">10⁵</text>
<text x="167.1" y="1072.7" class="a" font-size="6.5" text-anchor="end">10⁴</text>
<text x="167.1" y="1106.6" class="a" font-size="6.5" text-anchor="end">10³</text>
<text x="167.1" y="1148.4" class="a" font-size="6.5" text-anchor="end">0</text>
<path d="M546.2,1162.2 534.2,1162.2 533.7,1161.7 530.7,1161.7 523.7,1159.7 517.7,1159.2 517.2,1158.7 512.2,1158.7 511.7,1158.2 473.2,1158.2 472.7,1158.7 462.7,1158.7 462.2,1158.2 459.2,1158.2 455.2,1156.7 452.9,1153.9 452.4,1152.4 452.4,1142.4 454.9,1136.9 457.9,1132.9 468.4,1124.4 469.4,1122.9 469.4,1117.9 469.9,1116.4 474.4,1110.4 478.2,1106.7 482.7,1104.7 485.7,1104.7 486.2,1104.2 488.7,1104.2 489.2,1103.7 492.7,1103.2 502.2,1099.7 503.7,1098.7 504.7,1098.7 510.2,1095.7 514.7,1094.7 516.7,1093.7 518.2,1093.7 520.2,1092.7 521.7,1092.7 523.7,1091.7 525.2,1091.7 527.2,1090.7 528.7,1090.7 536.2,1088.2 540.2,1086.2 543.5,1082.4 545.0,1078.9 545.0,1074.9 544.0,1072.4 544.0,1068.9 544.7,1068.2 547.7,1067.7 550.7,1068.7 553.7,1070.7 558.2,1070.7 563.5,1067.9 558.2,1066.7 557.5,1065.9 557.0,1063.9 555.7,1062.7 549.7,1059.2 544.7,1053.7 541.2,1050.7 537.7,1049.7 535.2,1049.7 534.7,1049.2 531.2,1049.2 526.2,1047.2 524.5,1045.4 524.5,1043.9 526.2,1042.2 534.2,1037.2 540.2,1035.2 541.7,1035.2 543.2,1034.2 550.7,1031.7 552.2,1031.7 556.7,1030.2 558.7,1030.2 561.7,1029.2 564.7,1029.2 565.2,1028.7 568.7,1028.7 569.2,1028.2 578.7,1027.7 579.2,1027.2 582.2,1027.2 582.7,1026.7 590.7,1026.7 592.7,1027.7 595.0,1029.9 596.0,1031.9 596.0,1034.4 596.5,1034.9 596.0,1042.4 595.5,1042.9 594.0,1052.4 593.0,1054.9 592.5,1060.4 591.5,1063.4 591.5,1071.4 592.5,1074.4 595.5,1079.9 597.0,1084.9 597.0,1087.4 597.5,1087.9 597.5,1097.4 597.0,1097.9 597.0,1100.4 596.5,1100.9 595.5,1106.4 592.0,1114.9 589.7,1117.7 584.2,1121.2 575.2,1124.2 573.7,1125.2 570.5,1128.9 568.5,1135.4 568.5,1137.4 567.0,1141.9 566.5,1145.9 566.0,1146.4 565.0,1155.4 561.2,1158.7 552.7,1161.2 546.7,1161.7 546.2,1162.2Z" fill="#00ccd0" fill-rule="evenodd"/>
<path d="M546.2,1158.9 544.7,1159.4 535.7,1159.4 524.2,1156.9 511.7,1155.4 473.2,1155.4 471.2,1155.9 460.7,1155.4 456.7,1154.1 455.7,1152.5 455.2,1150.9 455.2,1143.9 457.5,1138.4 460.7,1134.2 470.7,1126.0 472.2,1123.4 472.7,1117.8 477.2,1111.7 479.7,1109.2 483.7,1107.5 493.7,1105.7 505.7,1101.2 511.2,1098.5 537.2,1090.7 542.2,1088.1 544.7,1085.5 546.8,1081.9 547.7,1079.4 547.7,1074.9 546.7,1070.9 548.7,1071.0 553.2,1073.4 558.2,1073.4 564.2,1071.0 565.7,1069.5 566.2,1067.4 565.2,1065.7 560.2,1064.2 557.7,1060.7 551.0,1056.4 544.3,1049.4 540.2,1047.4 530.2,1045.8 528.4,1044.9 528.3,1044.4 535.2,1040.0 551.7,1034.5 557.7,1033.0 566.7,1031.4 579.2,1030.4 584.2,1029.4 589.7,1029.5 592.4,1031.4 593.1,1032.9 593.7,1036.9 588.7,1062.9 588.7,1071.4 589.9,1075.4 592.6,1080.9 594.7,1089.4 594.2,1098.9 591.1,1109.9 588.2,1115.1 583.7,1118.1 573.7,1121.8 571.7,1123.2 568.2,1127.3 566.9,1130.4 564.2,1141.4 562.7,1148.4 562.7,1152.4 562.0,1154.4 560.7,1155.6 555.7,1157.3 546.2,1158.9Z" fill="#cdeff0" fill-rule="evenodd"/>
<path d="M540.2,1156.4 532.7,1156.7 511.7,1154.9 473.2,1155.0 471.2,1155.5 459.2,1154.9 456.7,1154.0 455.5,1152.4 455.4,1142.4 457.6,1138.4 459.2,1136.7 462.2,1135.3 475.6,1130.9 489.7,1124.7 498.2,1123.8 503.2,1122.0 505.7,1119.6 509.5,1113.4 514.1,1107.4 522.7,1101.3 531.7,1097.4 547.6,1093.4 553.3,1090.9 555.4,1088.4 557.2,1083.8 566.4,1072.4 567.8,1069.4 568.0,1066.4 567.2,1064.4 565.8,1062.9 562.7,1061.1 559.7,1058.2 552.4,1052.9 544.7,1042.9 547.2,1040.2 552.2,1036.2 559.2,1032.9 564.7,1032.3 565.2,1031.8 568.7,1031.7 569.2,1031.3 582.2,1030.3 582.7,1029.9 589.2,1030.5 592.1,1032.9 593.2,1036.4 592.8,1042.4 592.3,1042.9 591.8,1047.4 591.3,1047.9 591.3,1049.9 590.8,1050.4 590.7,1052.4 589.7,1054.9 588.2,1062.9 588.3,1071.4 589.8,1075.9 592.7,1081.4 594.2,1088.7 594.1,1095.9 591.3,1106.4 588.5,1111.9 585.7,1114.9 582.2,1116.8 569.7,1120.1 566.2,1122.4 562.9,1125.9 560.8,1128.9 559.9,1131.4 559.7,1143.9 557.2,1151.4 550.7,1154.3 540.2,1156.4Z" fill="#b2e8ea" fill-rule="evenodd"/>
<path d="M483.7,1154.9 465.2,1154.6 456.7,1153.3 455.7,1152.4 455.5,1142.4 457.7,1138.8 465.7,1136.3 483.2,1133.8 508.7,1133.3 517.5,1131.4 523.1,1128.9 524.3,1127.4 524.3,1125.9 520.9,1118.9 520.0,1114.4 520.7,1110.4 523.2,1106.4 529.2,1101.7 537.2,1098.7 544.7,1097.8 557.2,1098.9 560.2,1098.2 562.2,1095.0 565.6,1080.9 570.6,1070.4 571.4,1065.9 570.3,1062.4 568.2,1060.0 557.8,1052.9 554.6,1049.9 551.1,1043.9 552.8,1040.4 558.2,1035.3 565.8,1031.9 580.7,1030.7 584.7,1031.4 589.2,1033.1 591.5,1036.9 592.2,1040.9 592.1,1043.4 590.7,1048.4 586.3,1057.4 585.1,1062.9 587.0,1071.4 590.8,1080.9 592.0,1086.4 592.1,1094.4 590.8,1100.4 588.2,1107.0 584.7,1111.8 580.2,1113.9 570.2,1114.5 567.2,1115.5 552.6,1129.4 551.8,1130.9 551.7,1132.4 554.6,1138.9 555.4,1142.4 555.1,1145.4 553.9,1148.4 551.1,1150.4 547.2,1152.2 543.1,1153.4 536.7,1154.4 512.2,1153.6 483.7,1154.9Z" fill="#96e1e4" fill-rule="evenodd"/>
<path d="M577.7,1060.7 576.7,1060.9 573.5,1058.4 564.2,1053.7 559.7,1050.5 557.3,1047.9 555.9,1044.9 556.2,1041.9 558.1,1038.4 561.2,1035.6 567.2,1032.8 570.7,1032.0 576.2,1031.7 584.7,1033.2 587.7,1034.7 589.0,1036.4 590.1,1039.4 590.4,1041.9 589.0,1047.9 583.9,1054.9 577.7,1060.7ZM580.2,1109.5 575.2,1109.1 571.2,1106.6 569.0,1102.9 567.8,1096.9 567.9,1088.4 569.2,1081.9 571.4,1076.4 577.7,1065.0 579.7,1066.1 581.7,1068.3 586.2,1075.9 588.9,1082.4 590.0,1089.9 588.9,1097.9 586.7,1103.4 583.7,1107.5 580.2,1109.5ZM541.7,1127.9 537.7,1127.6 534.2,1126.3 530.2,1123.8 527.2,1120.9 525.3,1117.9 524.4,1114.9 524.6,1111.4 525.8,1108.4 527.8,1105.9 531.2,1103.3 535.2,1101.5 539.7,1100.4 544.2,1100.2 548.7,1100.7 553.2,1102.0 556.9,1103.9 560.2,1106.9 561.6,1109.9 561.4,1113.9 559.6,1117.9 556.2,1121.9 552.2,1124.7 546.7,1127.0 541.7,1127.9ZM485.7,1153.9 467.2,1153.7 456.7,1152.1 455.7,1151.7 455.6,1142.4 456.7,1140.4 458.2,1139.7 469.7,1137.2 484.7,1136.3 510.6,1136.9 529.7,1133.3 535.7,1132.8 540.7,1133.6 545.2,1135.8 548.7,1139.0 550.4,1142.4 550.2,1145.4 547.7,1148.2 543.2,1150.5 537.8,1151.9 531.7,1152.4 512.2,1152.3 485.7,1153.9Z" fill="#7adbde" fill-rule="evenodd"/>
<path d="M575.7,1054.4 571.2,1053.8 566.7,1052.2 563.1,1049.9 560.2,1046.9 559.2,1043.9 559.6,1040.9 561.4,1037.9 563.8,1035.9 567.2,1034.2 570.7,1033.2 576.7,1032.9 583.2,1034.6 585.7,1035.9 587.1,1037.4 588.2,1039.9 588.5,1042.4 587.9,1045.4 586.7,1047.9 584.7,1050.3 581.7,1052.6 578.7,1053.9 575.7,1054.4ZM580.2,1102.4 577.2,1102.1 574.9,1099.9 573.2,1096.3 572.3,1091.4 572.6,1086.4 573.9,1081.4 576.2,1077.4 578.7,1076.1 581.2,1076.8 583.7,1079.4 585.7,1083.4 586.6,1087.9 586.4,1092.9 585.1,1097.4 582.7,1100.9 580.2,1102.4ZM545.2,1124.5 540.7,1124.7 536.2,1123.7 532.2,1121.6 529.0,1118.4 527.6,1114.9 527.7,1111.4 529.4,1107.9 532.2,1105.3 538.2,1102.7 545.2,1102.3 551.7,1104.1 554.5,1105.9 556.4,1107.9 557.6,1110.4 558.0,1112.9 557.5,1115.4 556.3,1117.9 551.7,1122.1 545.2,1124.5ZM486.7,1152.9 470.2,1152.8 458.2,1151.4 455.7,1150.4 455.7,1142.4 457.7,1141.1 463.2,1139.6 475.2,1138.3 487.2,1138.1 512.7,1139.5 532.2,1137.6 536.2,1138.0 539.7,1139.0 542.6,1140.9 543.7,1142.9 543.5,1144.9 541.8,1146.9 538.7,1148.5 534.7,1149.5 486.7,1152.9Z" fill="#60d5d8" fill-rule="evenodd"/>
<path d="M577.2,1051.9 573.7,1052.1 569.2,1051.2 565.7,1049.4 563.3,1047.4 561.9,1044.9 561.6,1042.4 562.3,1039.9 564.2,1037.5 568.7,1035.0 575.2,1034.1 581.2,1035.3 585.2,1037.9 586.7,1041.9 585.6,1046.4 582.2,1049.9 577.2,1051.9ZM545.7,1122.4 541.7,1122.7 537.7,1122.0 534.2,1120.4 531.7,1118.2 530.2,1115.4 529.9,1112.4 531.0,1109.4 533.2,1106.9 538.2,1104.4 544.2,1103.9 549.7,1105.3 553.8,1108.4 555.4,1112.4 555.1,1114.9 554.3,1116.9 550.7,1120.4 545.7,1122.4ZM488.2,1151.9 470.7,1151.9 459.7,1150.6 455.7,1148.8 455.7,1143.4 460.2,1141.5 466.2,1140.3 482.7,1139.3 495.7,1140.0 516.7,1142.2 529.2,1142.4 532.2,1143.0 533.4,1144.4 531.7,1145.9 527.7,1146.9 501.7,1150.8 488.2,1151.9Z" fill="#48cfd3" fill-rule="evenodd"/>
<path d="M575.7,1050.4 572.7,1050.4 569.2,1049.4 566.5,1047.9 564.5,1045.9 563.7,1043.9 563.7,1041.4 565.1,1038.9 567.2,1037.1 571.7,1035.4 576.7,1035.3 581.2,1036.8 584.2,1039.4 584.9,1042.9 583.5,1046.4 580.2,1049.1 575.7,1050.4ZM543.7,1120.9 540.2,1120.8 537.2,1119.9 534.7,1118.3 532.8,1115.9 532.1,1113.4 532.7,1110.7 534.4,1108.4 537.2,1106.6 541.7,1105.5 546.2,1105.9 550.2,1107.8 552.4,1110.4 553.0,1113.9 551.3,1117.4 548.2,1119.7 543.7,1120.9ZM488.7,1150.9 476.7,1151.1 464.7,1150.2 458.7,1148.7 456.9,1147.4 456.3,1145.9 457.9,1143.9 462.7,1142.1 469.7,1141.0 479.2,1140.5 489.7,1140.8 500.2,1141.9 508.2,1143.5 511.8,1145.4 510.7,1146.9 505.2,1148.7 488.7,1150.9Z" fill="#36cbcf" fill-rule="evenodd"/>
<path d="M577.7,1060.7 576.7,1060.9 573.5,1058.4 564.2,1053.7 559.7,1050.5 557.3,1047.9 555.9,1044.9 556.2,1041.9 558.1,1038.4 561.2,1035.6 567.2,1032.8 570.7,1032.0 576.2,1031.7 584.7,1033.2 587.7,1034.7 589.0,1036.4 590.1,1039.4 590.4,1041.9 589.0,1047.9 583.9,1054.9 577.7,1060.7ZM580.2,1109.5 575.2,1109.1 571.2,1106.6 569.0,1102.9 567.8,1096.9 567.9,1088.4 569.2,1081.9 571.4,1076.4 577.7,1065.0 579.7,1066.1 581.7,1068.3 586.2,1075.9 588.9,1082.4 590.0,1089.9 588.9,1097.9 586.7,1103.4 583.7,1107.5 580.2,1109.5ZM541.7,1127.9 537.7,1127.6 534.2,1126.3 530.2,1123.8 527.2,1120.9 525.3,1117.9 524.4,1114.9 524.6,1111.4 525.8,1108.4 527.8,1105.9 531.2,1103.3 535.2,1101.5 539.7,1100.4 544.2,1100.2 548.7,1100.7 553.2,1102.0 556.9,1103.9 560.2,1106.9 561.6,1109.9 561.4,1113.9 559.6,1117.9 556.2,1121.9 552.2,1124.7 546.7,1127.0 541.7,1127.9ZM485.7,1153.9 467.2,1153.7 456.7,1152.1 455.7,1151.7 455.6,1142.4 456.7,1140.4 458.2,1139.7 469.7,1137.2 484.7,1136.3 510.6,1136.9 529.7,1133.3 535.7,1132.8 540.7,1133.6 545.2,1135.8 548.7,1139.0 550.4,1142.4 550.2,1145.4 547.7,1148.2 543.2,1150.5 537.8,1151.9 531.7,1152.4 512.2,1152.3 485.7,1153.9Z" fill="none" stroke="#fff" stroke-width="0.8"/>
<path d="M577.2,1051.9 573.7,1052.1 569.2,1051.2 565.7,1049.4 563.3,1047.4 561.9,1044.9 561.6,1042.4 562.3,1039.9 564.2,1037.5 568.7,1035.0 575.2,1034.1 581.2,1035.3 585.2,1037.9 586.7,1041.9 585.6,1046.4 582.2,1049.9 577.2,1051.9ZM545.7,1122.4 541.7,1122.7 537.7,1122.0 534.2,1120.4 531.7,1118.2 530.2,1115.4 529.9,1112.4 531.0,1109.4 533.2,1106.9 538.2,1104.4 544.2,1103.9 549.7,1105.3 553.8,1108.4 555.4,1112.4 555.1,1114.9 554.3,1116.9 550.7,1120.4 545.7,1122.4ZM488.2,1151.9 470.7,1151.9 459.7,1150.6 455.7,1148.8 455.7,1143.4 460.2,1141.5 466.2,1140.3 482.7,1139.3 495.7,1140.0 516.7,1142.2 529.2,1142.4 532.2,1143.0 533.4,1144.4 531.7,1145.9 527.7,1146.9 501.7,1150.8 488.2,1151.9Z" fill="none" stroke="#fff" stroke-width="0.8"/>
<path d="M576.2,1049.4 570.7,1049.0 568.2,1047.9 566.2,1046.3 565.0,1044.4 564.7,1042.4 565.3,1040.4 566.9,1038.4 570.7,1036.4 575.2,1035.9 579.5,1036.9 582.7,1039.1 583.8,1041.9 583.0,1045.4 580.2,1048.0 576.2,1049.4ZM543.2,1119.9 540.2,1119.7 537.2,1118.6 535.0,1116.9 533.8,1114.9 533.6,1112.4 534.3,1110.4 536.2,1108.4 538.7,1107.1 542.2,1106.5 546.2,1107.0 549.7,1108.9 551.4,1111.4 551.5,1114.4 550.1,1116.9 547.2,1119.0 543.2,1119.9ZM486.2,1150.4 475.2,1150.4 465.2,1149.6 460.2,1148.2 458.5,1146.9 458.2,1145.9 460.2,1143.9 464.2,1142.6 470.7,1141.6 479.2,1141.2 488.7,1141.4 497.2,1142.4 504.1,1143.9 506.7,1145.4 506.0,1146.9 502.0,1148.4 494.7,1149.7 486.2,1150.4Z" fill="none" stroke="#fff" stroke-width="0.8"/>
<rect x="418.7" y="988.4" width="194.0" height="194.3" fill="none" stroke="#111" stroke-width="1.2"/>
<line x1="506.9" y1="988.4" x2="506.9" y2="1182.7" stroke="#000" stroke-width="2"/>
<line x1="418.7" y1="1123.1" x2="612.7" y2="1123.1" stroke="#000" stroke-width="2"/>
<text x="422.3" y="1011.6" class="a b" font-size="13.2">2.45</text>
<text x="595.9" y="1011.6" class="a b" font-size="13.2" text-anchor="end">60.2</text>
<text x="422.3" y="1168.4" class="a b" font-size="13.2">21.4</text>
<text x="595.9" y="1168.4" class="a b" font-size="13.2" text-anchor="end">15.9</text>
<path d="M414.7,1002.6h4M416.5,1009.4h2.2M416.5,1016.2h2.2M416.5,1023.0h2.2M416.5,1029.8h2.2M414.7,1036.5h4M416.5,1043.3h2.2M416.5,1050.1h2.2M416.5,1056.9h2.2M416.5,1063.7h2.2M414.7,1070.4h4M416.5,1077.2h2.2M416.5,1084.0h2.2M416.5,1090.8h2.2M416.5,1097.6h2.2M414.7,1104.3h4M416.5,1111.1h2.2M416.5,1117.9h2.2M416.5,1124.7h2.2M416.5,1131.5h2.2M414.7,1138.2h4M416.5,1145.0h2.2M416.5,1151.8h2.2M416.5,1158.6h2.2M416.5,1165.4h2.2M414.7,1172.1h4M416.5,1178.9h2.2M424.5,1182.7v3.5M438.1,1182.7v2M445.9,1182.7v2M449.7,1182.7v2M451.7,1182.7v3.5M453.6,1182.7v2M455.6,1182.7v2M457.5,1182.7v2M476.9,1182.7v3.5M488.5,1182.7v2M496.3,1182.7v2M500.2,1182.7v2M504.1,1182.7v3.5M506.0,1182.7v2M515.7,1182.7v2M539.0,1182.7v2M550.6,1182.7v3.5M554.5,1182.7v2M558.4,1182.7v2M562.3,1182.7v2M566.1,1182.7v3.5M573.9,1182.7v2M587.5,1182.7v2M597.2,1182.7v2M601.1,1182.7v3.5M608.8,1182.7v2" stroke="#000" stroke-width="0.8" fill="none"/>
<rect x="414.2" y="1150.4" width="3.2" height="5.0" fill="#000"/>
<rect x="445.7" y="1183.2" width="8.0" height="2.8" fill="#000"/>
<text x="457.5" y="1199.7" class="a" font-size="6.5" text-anchor="middle">0</text>
<text x="504.1" y="1199.7" class="a" font-size="6.5" text-anchor="middle">10³</text>
<text x="550.6" y="1199.7" class="a" font-size="6.5" text-anchor="middle">10⁴</text>
<text x="599.1" y="1199.7" class="a" font-size="6.5" text-anchor="middle">10⁵</text>
<text x="413.7" y="1004.9" class="a" font-size="6.5" text-anchor="end">10⁶</text>
<text x="413.7" y="1038.8" class="a" font-size="6.5" text-anchor="end">10⁵</text>
<text x="413.7" y="1072.7" class="a" font-size="6.5" text-anchor="end">10⁴</text>
<text x="413.7" y="1106.6" class="a" font-size="6.5" text-anchor="end">10³</text>
<text x="413.7" y="1148.4" class="a" font-size="6.5" text-anchor="end">0</text>
<path d="M713.3,1163.2 705.3,1163.2 701.8,1161.7 699.5,1159.4 698.0,1155.9 698.0,1142.4 698.5,1141.9 698.5,1139.9 700.0,1134.9 705.0,1124.4 709.3,1119.7 713.8,1116.7 716.5,1113.9 719.5,1107.4 721.8,1105.2 725.3,1104.2 730.3,1103.7 747.3,1097.2 748.8,1096.2 751.0,1093.4 751.0,1086.9 751.8,1086.2 755.3,1090.7 757.8,1091.7 771.3,1091.2 771.8,1090.7 775.3,1090.7 777.8,1089.7 778.5,1086.9 779.8,1086.2 781.8,1086.2 782.3,1085.7 789.8,1085.7 792.8,1084.7 794.5,1082.9 794.5,1081.9 793.0,1079.4 789.0,1074.9 789.0,1073.4 788.5,1072.9 789.0,1069.4 789.5,1068.4 794.3,1064.2 800.3,1061.2 801.5,1059.9 801.5,1058.9 799.3,1056.7 793.8,1053.2 788.0,1047.9 786.0,1044.4 785.5,1040.9 785.0,1040.4 786.0,1036.4 790.8,1032.2 795.3,1030.7 807.8,1030.2 808.3,1029.7 810.8,1029.7 814.3,1028.7 822.3,1028.2 822.8,1027.7 827.8,1027.7 828.3,1027.2 838.8,1027.2 839.3,1027.7 840.8,1027.7 843.3,1029.2 845.0,1030.9 846.5,1033.9 846.5,1042.4 846.0,1042.9 846.0,1044.9 844.5,1047.9 840.5,1051.9 837.0,1057.9 837.0,1061.9 839.0,1066.4 840.5,1070.9 840.5,1072.4 841.5,1074.4 842.0,1079.4 842.5,1079.9 842.5,1083.9 843.0,1084.4 843.0,1093.9 842.5,1094.4 842.5,1097.9 842.0,1098.4 841.5,1102.9 838.5,1111.4 837.5,1112.9 836.5,1116.9 835.5,1118.4 832.8,1120.2 827.3,1120.7 824.8,1121.7 823.5,1122.9 822.5,1127.4 816.5,1131.9 814.5,1136.9 813.5,1144.9 813.0,1145.4 813.0,1148.4 812.5,1148.9 811.5,1154.4 809.8,1156.2 808.3,1156.7 789.3,1157.7 788.8,1158.2 752.8,1158.2 752.3,1158.7 745.8,1158.7 745.3,1159.2 740.3,1159.2 739.8,1159.7 732.3,1160.2 731.8,1160.7 721.3,1161.7 720.8,1162.2 717.8,1162.2 717.3,1162.7 713.8,1162.7 713.3,1163.2Z" fill="#00ccd0" fill-rule="evenodd"/>
<path d="M713.3,1159.9 711.8,1160.4 706.8,1160.4 703.3,1159.1 702.3,1158.1 700.8,1154.4 700.8,1143.9 702.9,1135.9 707.6,1125.9 710.3,1122.6 715.8,1118.6 718.5,1115.9 722.8,1108.1 731.3,1106.2 747.8,1100.0 752.5,1096.4 753.8,1093.4 754.3,1093.2 757.8,1094.4 775.8,1093.4 779.8,1091.6 781.3,1088.9 790.3,1088.4 792.8,1087.7 794.8,1086.6 796.9,1084.4 797.1,1080.9 795.0,1077.4 792.1,1074.4 791.6,1072.4 791.9,1070.4 795.8,1066.7 802.3,1063.1 804.1,1060.9 804.3,1058.4 803.5,1056.9 801.3,1054.7 795.1,1050.4 791.0,1046.9 789.6,1044.9 788.1,1039.9 788.6,1037.9 790.3,1036.1 792.8,1034.5 796.8,1033.4 808.3,1032.9 815.8,1031.4 829.8,1029.9 837.3,1029.9 839.8,1030.5 842.3,1032.2 843.8,1035.4 843.8,1040.9 843.2,1043.9 841.8,1046.6 838.6,1049.9 836.2,1053.4 834.3,1057.9 834.3,1062.4 838.7,1075.4 840.3,1085.9 840.3,1092.4 838.7,1101.9 833.2,1116.4 831.8,1117.3 826.8,1117.9 823.2,1119.4 821.2,1121.4 819.8,1126.1 814.2,1130.4 812.3,1134.4 810.2,1147.4 808.4,1153.4 787.3,1155.4 752.8,1155.4 739.8,1156.4 713.3,1159.9Z" fill="#cdeff0" fill-rule="evenodd"/>
<path d="M726.8,1157.9 707.3,1158.1 703.8,1157.2 701.3,1155.4 701.0,1142.4 702.8,1136.5 709.9,1131.4 715.3,1128.5 733.3,1122.2 756.2,1118.9 760.8,1117.6 763.8,1114.8 768.0,1108.4 771.0,1105.4 774.8,1102.4 785.8,1096.0 805.8,1093.5 808.6,1092.4 809.8,1090.9 810.8,1087.9 811.7,1075.4 814.0,1068.9 814.1,1064.9 812.8,1061.9 809.0,1056.9 798.3,1046.2 796.1,1041.9 796.1,1040.9 797.8,1039.4 804.8,1035.7 812.8,1032.9 819.8,1031.5 831.3,1031.4 836.8,1032.4 840.3,1034.2 841.5,1035.9 842.5,1039.4 842.4,1044.4 841.3,1046.9 837.8,1050.4 836.8,1052.4 833.0,1056.9 831.5,1061.9 831.9,1063.9 837.5,1074.4 839.3,1080.7 839.8,1093.5 838.1,1101.4 835.2,1107.4 830.3,1113.2 821.8,1112.9 818.8,1113.6 816.0,1116.4 813.0,1121.4 804.0,1129.9 802.9,1131.9 802.5,1133.9 803.5,1142.4 803.0,1146.9 799.8,1148.8 793.8,1151.3 786.8,1153.4 778.9,1154.9 752.8,1155.1 752.3,1155.5 740.3,1156.0 739.8,1156.5 736.3,1156.5 735.8,1157.0 732.3,1157.0 731.8,1157.4 726.8,1157.9Z" fill="#b2e8ea" fill-rule="evenodd"/>
<path d="M824.8,1058.4 819.3,1058.4 812.8,1055.0 807.3,1050.6 804.2,1046.9 802.7,1043.4 805.3,1039.5 810.3,1036.1 813.3,1034.8 820.3,1033.1 824.8,1032.8 830.3,1033.3 835.8,1034.8 838.3,1036.2 840.3,1040.9 840.4,1043.4 839.3,1046.4 836.3,1050.2 832.8,1053.5 827.8,1057.1 824.8,1058.4ZM829.3,1107.5 827.3,1107.8 825.3,1107.4 821.6,1103.9 819.5,1098.9 818.4,1091.4 818.8,1083.4 820.5,1076.4 823.8,1071.0 825.3,1069.8 827.3,1069.1 830.3,1069.9 833.8,1073.2 836.6,1078.9 838.2,1086.4 838.0,1092.4 835.7,1100.9 832.8,1105.2 829.3,1107.5ZM794.8,1127.0 790.8,1127.2 787.3,1126.7 781.8,1123.6 779.2,1120.9 777.2,1117.4 776.2,1113.9 776.3,1110.9 777.3,1107.9 778.9,1105.4 781.5,1102.9 785.3,1100.4 787.8,1099.3 791.3,1098.6 799.3,1098.6 804.8,1100.3 809.3,1103.3 811.7,1107.4 812.0,1111.9 810.1,1117.4 806.7,1121.4 800.8,1125.2 794.8,1127.0ZM743.8,1155.9 715.3,1156.4 705.3,1155.5 701.3,1153.4 701.1,1143.4 701.7,1139.9 702.3,1138.7 708.8,1135.6 719.3,1132.6 742.8,1129.6 760.3,1128.8 774.3,1129.7 784.3,1131.6 787.8,1133.3 791.3,1135.8 793.7,1138.4 795.0,1140.9 795.0,1143.9 793.1,1146.9 789.4,1149.4 783.4,1151.9 768.3,1154.7 752.8,1155.0 752.3,1155.4 745.8,1155.4 743.8,1155.9Z" fill="#96e1e4" fill-rule="evenodd"/>
<path d="M824.8,1054.5 820.8,1054.6 817.3,1053.8 812.8,1051.5 809.6,1048.9 807.2,1044.4 808.1,1041.4 810.1,1038.9 813.3,1036.7 816.3,1035.4 823.3,1034.3 830.8,1035.1 836.3,1037.8 837.6,1039.9 838.2,1042.4 837.8,1044.9 836.5,1047.4 833.8,1050.3 831.3,1052.1 824.8,1054.5ZM829.3,1101.4 826.8,1100.6 824.6,1097.9 823.3,1093.9 822.7,1088.9 823.2,1083.9 824.8,1079.4 826.8,1076.9 829.3,1076.0 831.6,1076.9 833.7,1079.4 835.0,1082.9 835.9,1088.9 834.8,1095.4 833.5,1098.4 831.3,1100.8 829.3,1101.4ZM796.8,1123.0 791.8,1123.2 787.3,1122.0 783.5,1119.4 781.0,1115.9 780.3,1111.9 781.4,1107.9 784.3,1104.5 788.3,1102.1 794.3,1101.1 799.8,1101.8 804.7,1104.4 807.3,1107.9 808.1,1112.4 806.5,1116.9 802.3,1120.8 796.8,1123.0ZM734.3,1154.9 710.8,1154.6 706.8,1154.2 703.8,1153.1 701.3,1151.8 701.2,1142.9 701.8,1140.4 708.8,1137.7 718.8,1135.7 748.8,1132.6 760.8,1132.2 770.8,1133.0 779.3,1135.2 785.2,1138.4 787.2,1140.4 788.2,1142.4 787.8,1145.4 785.7,1147.9 781.3,1150.2 775.3,1152.0 761.3,1154.0 734.3,1154.9Z" fill="#7adbde" fill-rule="evenodd"/>
<path d="M823.8,1052.4 819.8,1052.2 816.8,1051.2 813.8,1049.5 811.6,1047.4 810.5,1045.4 810.5,1042.9 811.7,1040.4 813.8,1038.4 819.3,1036.0 825.3,1035.6 830.8,1036.8 834.8,1039.4 835.8,1041.4 836.1,1043.4 835.6,1045.4 834.0,1047.9 829.3,1051.2 823.8,1052.4ZM796.3,1120.0 792.8,1120.1 789.3,1119.2 786.5,1117.4 784.6,1114.9 784.0,1112.4 784.6,1109.4 786.4,1106.9 789.3,1104.9 793.3,1103.9 797.8,1104.3 801.3,1106.0 803.8,1108.9 804.4,1112.4 803.1,1115.9 800.3,1118.4 796.3,1120.0ZM747.8,1153.4 722.3,1153.7 707.8,1152.7 701.3,1150.3 701.3,1142.4 702.4,1141.4 706.3,1140.0 715.8,1138.1 758.8,1135.1 767.3,1135.7 774.3,1137.3 779.5,1139.9 782.0,1142.9 782.1,1144.9 780.8,1146.9 777.8,1148.9 773.8,1150.4 763.3,1152.4 747.8,1153.4Z" fill="#60d5d8" fill-rule="evenodd"/>
<path d="M824.8,1050.9 818.8,1050.4 816.3,1049.3 813.9,1047.4 812.7,1045.4 812.5,1043.4 814.3,1039.9 818.3,1037.5 823.8,1036.6 829.3,1037.6 833.0,1039.9 833.9,1041.4 834.3,1043.4 832.9,1046.9 829.3,1049.7 824.8,1050.9ZM796.8,1116.4 792.8,1116.8 789.3,1115.0 788.1,1111.9 789.4,1108.9 791.8,1107.5 794.3,1107.1 796.8,1107.5 799.1,1108.9 800.3,1110.9 800.3,1112.9 799.1,1114.9 796.8,1116.4ZM744.3,1152.4 725.8,1152.7 709.3,1151.7 704.3,1150.2 701.3,1148.5 701.3,1143.6 706.8,1141.2 715.8,1139.5 756.3,1137.5 763.8,1137.9 769.8,1139.2 774.5,1141.4 776.5,1143.9 776.1,1145.9 774.5,1147.4 768.3,1149.9 758.8,1151.5 744.3,1152.4Z" fill="#48cfd3" fill-rule="evenodd"/>
<path d="M826.3,1049.5 820.8,1049.6 816.3,1047.6 814.3,1044.4 814.5,1042.4 815.3,1040.9 818.3,1038.7 822.8,1037.7 827.3,1038.1 830.8,1039.9 832.5,1042.4 832.1,1045.4 829.9,1047.9 826.3,1049.5ZM741.8,1151.4 725.8,1151.6 710.8,1150.6 704.3,1148.5 702.9,1147.4 702.4,1145.9 703.3,1144.4 704.9,1143.4 711.3,1141.5 721.3,1140.3 735.8,1139.8 752.3,1139.6 760.8,1140.2 767.6,1141.9 769.3,1142.9 770.4,1144.4 770.0,1145.9 769.0,1146.9 763.3,1149.1 754.8,1150.5 741.8,1151.4Z" fill="#36cbcf" fill-rule="evenodd"/>
<path d="M824.8,1054.5 820.8,1054.6 817.3,1053.8 812.8,1051.5 809.6,1048.9 807.2,1044.4 808.1,1041.4 810.1,1038.9 813.3,1036.7 816.3,1035.4 823.3,1034.3 830.8,1035.1 836.3,1037.8 837.6,1039.9 838.2,1042.4 837.8,1044.9 836.5,1047.4 833.8,1050.3 831.3,1052.1 824.8,1054.5ZM829.3,1101.4 826.8,1100.6 824.6,1097.9 823.3,1093.9 822.7,1088.9 823.2,1083.9 824.8,1079.4 826.8,1076.9 829.3,1076.0 831.6,1076.9 833.7,1079.4 835.0,1082.9 835.9,1088.9 834.8,1095.4 833.5,1098.4 831.3,1100.8 829.3,1101.4ZM796.8,1123.0 791.8,1123.2 787.3,1122.0 783.5,1119.4 781.0,1115.9 780.3,1111.9 781.4,1107.9 784.3,1104.5 788.3,1102.1 794.3,1101.1 799.8,1101.8 804.7,1104.4 807.3,1107.9 808.1,1112.4 806.5,1116.9 802.3,1120.8 796.8,1123.0ZM734.3,1154.9 710.8,1154.6 706.8,1154.2 703.8,1153.1 701.3,1151.8 701.2,1142.9 701.8,1140.4 708.8,1137.7 718.8,1135.7 748.8,1132.6 760.8,1132.2 770.8,1133.0 779.3,1135.2 785.2,1138.4 787.2,1140.4 788.2,1142.4 787.8,1145.4 785.7,1147.9 781.3,1150.2 775.3,1152.0 761.3,1154.0 734.3,1154.9Z" fill="none" stroke="#fff" stroke-width="0.8"/>
<path d="M824.8,1050.9 818.8,1050.4 816.3,1049.3 813.9,1047.4 812.7,1045.4 812.5,1043.4 814.3,1039.9 818.3,1037.5 823.8,1036.6 829.3,1037.6 833.0,1039.9 833.9,1041.4 834.3,1043.4 832.9,1046.9 829.3,1049.7 824.8,1050.9ZM796.8,1116.4 792.8,1116.8 789.3,1115.0 788.1,1111.9 789.4,1108.9 791.8,1107.5 794.3,1107.1 796.8,1107.5 799.1,1108.9 800.3,1110.9 800.3,1112.9 799.1,1114.9 796.8,1116.4ZM744.3,1152.4 725.8,1152.7 709.3,1151.7 704.3,1150.2 701.3,1148.5 701.3,1143.6 706.8,1141.2 715.8,1139.5 756.3,1137.5 763.8,1137.9 769.8,1139.2 774.5,1141.4 776.5,1143.9 776.1,1145.9 774.5,1147.4 768.3,1149.9 758.8,1151.5 744.3,1152.4Z" fill="none" stroke="#fff" stroke-width="0.8"/>
<path d="M825.3,1049.0 820.3,1048.7 816.8,1046.9 815.3,1043.9 816.5,1040.9 819.3,1039.0 823.3,1038.3 827.3,1038.8 830.2,1040.4 831.6,1042.9 831.2,1045.4 828.8,1047.7 825.3,1049.0ZM737.3,1150.9 722.3,1150.9 711.6,1149.9 706.3,1148.2 704.6,1146.9 704.4,1145.9 706.3,1143.9 712.3,1142.1 720.3,1141.1 732.8,1140.6 748.3,1140.6 757.8,1141.2 763.8,1142.7 765.8,1143.9 766.3,1144.9 764.8,1146.9 758.9,1148.9 749.8,1150.2 737.3,1150.9Z" fill="none" stroke="#fff" stroke-width="0.8"/>
<rect x="666.3" y="988.4" width="194.1" height="194.3" fill="none" stroke="#111" stroke-width="1.2"/>
<line x1="754.0" y1="988.4" x2="754.0" y2="1182.7" stroke="#000" stroke-width="2"/>
<line x1="666.3" y1="1123.1" x2="860.4" y2="1123.1" stroke="#000" stroke-width="2"/>
<text x="669.9" y="1011.6" class="a b" font-size="13.2">3.77</text>
<text x="843.6" y="1011.6" class="a b" font-size="13.2" text-anchor="end">32.8</text>
<text x="669.9" y="1168.4" class="a b" font-size="13.2">45.5</text>
<text x="843.6" y="1168.4" class="a b" font-size="13.2" text-anchor="end">17.9</text>
<path d="M662.3,1002.6h4M664.1,1009.4h2.2M664.1,1016.2h2.2M664.1,1023.0h2.2M664.1,1029.8h2.2M662.3,1036.5h4M664.1,1043.3h2.2M664.1,1050.1h2.2M664.1,1056.9h2.2M664.1,1063.7h2.2M662.3,1070.4h4M664.1,1077.2h2.2M664.1,1084.0h2.2M664.1,1090.8h2.2M664.1,1097.6h2.2M662.3,1104.3h4M664.1,1111.1h2.2M664.1,1117.9h2.2M664.1,1124.7h2.2M664.1,1131.5h2.2M662.3,1138.2h4M664.1,1145.0h2.2M664.1,1151.8h2.2M664.1,1158.6h2.2M664.1,1165.4h2.2M662.3,1172.1h4M664.1,1178.9h2.2M672.1,1182.7v3.5M685.7,1182.7v2M693.5,1182.7v2M697.4,1182.7v2M699.3,1182.7v3.5M701.2,1182.7v2M703.2,1182.7v2M705.1,1182.7v2M724.5,1182.7v3.5M736.2,1182.7v2M743.9,1182.7v2M747.8,1182.7v2M751.7,1182.7v3.5M753.6,1182.7v2M763.3,1182.7v2M786.6,1182.7v2M798.3,1182.7v3.5M802.2,1182.7v2M806.1,1182.7v2M809.9,1182.7v2M813.8,1182.7v3.5M821.6,1182.7v2M835.2,1182.7v2M844.9,1182.7v2M848.8,1182.7v3.5M856.5,1182.7v2" stroke="#000" stroke-width="0.8" fill="none"/>
<rect x="661.8" y="1150.4" width="3.2" height="5.0" fill="#000"/>
<rect x="693.3" y="1183.2" width="8.0" height="2.8" fill="#000"/>
<text x="705.1" y="1199.7" class="a" font-size="6.5" text-anchor="middle">0</text>
<text x="751.7" y="1199.7" class="a" font-size="6.5" text-anchor="middle">10³</text>
<text x="798.3" y="1199.7" class="a" font-size="6.5" text-anchor="middle">10⁴</text>
<text x="846.8" y="1199.7" class="a" font-size="6.5" text-anchor="middle">10⁵</text>
<text x="661.3" y="1004.9" class="a" font-size="6.5" text-anchor="end">10⁶</text>
<text x="661.3" y="1038.8" class="a" font-size="6.5" text-anchor="end">10⁵</text>
<text x="661.3" y="1072.7" class="a" font-size="6.5" text-anchor="end">10⁴</text>
<text x="661.3" y="1106.6" class="a" font-size="6.5" text-anchor="end">10³</text>
<text x="661.3" y="1148.4" class="a" font-size="6.5" text-anchor="end">0</text>
<path d="M220.1,1385.2 209.6,1385.2 207.1,1383.7 202.8,1379.4 201.3,1376.4 201.8,1364.9 202.3,1364.4 202.3,1361.4 202.8,1360.9 203.3,1355.9 204.3,1353.4 204.8,1348.9 205.3,1348.4 205.8,1340.9 206.3,1340.4 206.3,1336.9 206.8,1336.4 206.8,1331.9 207.3,1331.4 207.3,1327.4 208.3,1323.9 211.6,1321.2 218.1,1321.2 224.1,1323.2 227.1,1323.2 227.8,1322.4 227.8,1315.9 228.3,1314.9 231.1,1312.7 234.6,1312.7 235.8,1313.9 236.8,1316.4 238.6,1318.2 241.1,1318.2 251.1,1313.2 255.1,1309.2 257.1,1308.2 261.1,1308.2 261.6,1307.7 262.1,1308.2 265.6,1308.2 268.4,1310.4 268.9,1311.9 270.1,1313.2 272.6,1313.2 282.1,1307.2 288.1,1307.2 290.1,1306.2 291.9,1303.9 291.9,1296.4 291.4,1295.9 290.9,1291.4 289.9,1288.4 287.4,1284.4 282.4,1279.9 280.9,1277.9 280.9,1275.9 282.9,1272.4 284.1,1271.2 286.1,1270.7 287.4,1268.4 287.4,1266.4 286.9,1265.9 286.9,1258.4 287.4,1257.4 290.6,1254.2 294.6,1252.2 298.1,1251.2 300.6,1251.2 301.1,1250.7 304.1,1250.7 304.6,1250.2 315.6,1249.7 316.1,1249.2 332.1,1249.2 332.6,1249.7 335.6,1249.7 339.1,1251.2 341.9,1253.9 343.9,1256.9 344.4,1258.4 344.4,1264.4 343.4,1267.4 340.9,1271.9 335.6,1276.2 333.4,1278.9 333.4,1281.9 335.9,1288.4 336.4,1295.9 336.9,1296.4 336.9,1304.9 337.4,1305.4 336.9,1316.9 337.4,1317.4 337.4,1324.9 335.4,1328.9 332.1,1332.2 328.6,1334.2 325.1,1334.7 321.6,1336.2 320.1,1337.2 317.4,1340.4 316.9,1344.4 316.4,1344.9 316.4,1356.4 316.9,1356.9 317.4,1365.4 317.9,1365.9 317.9,1373.9 316.9,1376.4 315.1,1378.2 312.6,1379.2 308.1,1379.7 307.6,1380.2 304.1,1380.2 303.6,1380.7 299.1,1380.7 298.6,1381.2 283.6,1381.7 283.1,1382.2 239.1,1382.7 238.6,1383.2 233.1,1383.2 232.6,1383.7 220.6,1384.7 220.1,1385.2Z" fill="#f5801c" fill-rule="evenodd"/>
<path d="M220.1,1381.9 218.6,1382.4 210.6,1382.3 208.4,1380.9 205.6,1378.1 204.1,1374.9 205.1,1362.9 208.1,1348.9 210.1,1328.9 211.3,1324.9 213.1,1323.9 216.6,1323.9 223.6,1325.9 228.1,1325.7 230.4,1323.4 230.7,1316.9 232.1,1315.5 233.1,1315.4 234.9,1318.4 237.1,1320.5 241.6,1320.9 250.1,1317.0 258.1,1311.0 264.6,1311.0 268.6,1315.5 272.6,1315.9 276.1,1314.5 283.1,1310.0 288.6,1309.9 291.6,1308.5 293.6,1306.5 294.6,1304.4 294.6,1296.4 293.6,1290.9 292.2,1286.9 289.6,1282.8 283.7,1276.9 285.5,1273.9 288.1,1272.6 289.4,1270.9 290.1,1268.4 289.6,1264.4 289.6,1259.9 290.1,1258.7 292.1,1256.7 297.1,1254.5 311.1,1252.4 330.6,1251.9 334.6,1252.5 338.1,1254.1 341.1,1258.4 341.5,1263.4 338.3,1270.4 331.9,1275.9 330.6,1278.9 330.6,1282.4 333.0,1289.4 334.1,1297.9 334.1,1304.9 334.6,1306.9 334.1,1312.4 334.5,1323.9 333.8,1325.9 330.8,1329.4 327.6,1331.3 322.6,1332.6 320.1,1333.8 315.9,1337.4 314.8,1339.4 313.6,1344.9 313.6,1356.4 315.1,1367.4 315.1,1372.4 314.1,1375.1 309.1,1376.9 297.1,1378.4 283.6,1378.9 281.6,1379.4 239.1,1379.9 220.1,1381.9Z" fill="#f7e9df" fill-rule="evenodd"/>
<path d="M313.6,1289.9 312.6,1289.9 307.1,1285.5 298.4,1276.9 296.6,1262.1 300.2,1258.9 306.6,1255.4 316.9,1252.4 330.8,1252.4 337.1,1254.7 339.6,1257.3 341.1,1260.1 341.1,1264.4 339.1,1268.9 337.1,1271.4 328.8,1277.4 319.1,1286.2 313.6,1289.9ZM220.1,1381.9 210.1,1381.9 206.1,1378.6 204.4,1376.4 204.3,1369.9 204.7,1369.4 204.8,1364.9 205.3,1364.4 205.4,1361.4 205.9,1360.9 206.6,1356.7 215.3,1349.4 217.4,1346.4 216.7,1344.4 211.7,1338.9 210.1,1336.1 210.6,1327.7 212.1,1325.9 213.6,1325.2 218.8,1324.9 224.1,1326.3 227.1,1326.3 228.6,1325.8 230.6,1323.9 234.1,1322.0 237.6,1322.8 242.1,1323.0 260.6,1321.6 268.1,1324.6 274.1,1325.1 277.6,1323.7 285.6,1317.1 306.6,1308.3 312.1,1306.9 314.1,1306.6 314.6,1307.0 317.9,1312.9 320.4,1318.9 318.5,1327.9 313.7,1341.9 312.0,1356.4 311.5,1367.9 310.1,1371.8 305.6,1373.7 296.6,1376.2 281.6,1378.5 239.1,1379.5 238.6,1380.0 233.1,1380.0 232.6,1380.5 228.6,1380.5 228.1,1381.0 220.6,1381.5 220.1,1381.9Z" fill="#f6dcc7" fill-rule="evenodd"/>
<path d="M321.6,1277.4 317.6,1277.7 313.6,1277.1 310.1,1275.9 307.4,1273.9 304.8,1270.9 303.0,1266.9 303.2,1264.4 304.3,1261.9 306.8,1258.9 309.7,1256.9 312.6,1255.4 318.1,1253.7 323.1,1253.2 328.1,1253.5 333.4,1254.9 335.6,1256.0 338.6,1259.3 339.4,1261.9 339.1,1265.4 337.8,1268.4 336.1,1270.4 331.6,1273.5 326.1,1276.2 321.6,1277.4ZM218.6,1381.0 211.1,1380.8 208.6,1380.1 207.1,1379.4 204.4,1376.4 204.3,1369.9 204.8,1369.4 204.9,1364.9 205.4,1364.4 206.1,1359.2 215.1,1354.7 223.1,1352.6 269.6,1348.0 275.1,1346.9 277.6,1345.4 278.8,1343.4 279.7,1333.9 281.1,1329.9 284.8,1324.4 288.7,1320.9 295.1,1317.7 302.1,1316.6 305.1,1317.1 308.3,1318.4 311.9,1322.4 313.8,1327.4 313.9,1333.9 312.3,1342.9 309.1,1356.4 308.1,1364.2 306.8,1368.4 305.1,1369.7 296.1,1373.6 281.1,1376.5 249.6,1378.0 218.6,1381.0ZM241.1,1341.4 225.1,1341.2 218.6,1339.6 215.1,1337.7 212.4,1334.9 211.7,1332.9 212.2,1329.4 214.1,1327.3 228.1,1326.4 235.1,1324.4 250.6,1325.4 256.6,1326.3 260.6,1327.7 264.0,1330.9 264.3,1332.9 263.6,1334.4 259.5,1337.4 251.1,1340.0 241.1,1341.4Z" fill="#f6cdaa" fill-rule="evenodd"/>
<path d="M325.1,1274.4 320.6,1274.8 316.6,1274.3 312.6,1272.7 309.8,1270.4 308.0,1267.4 307.6,1264.4 308.6,1261.4 310.6,1258.9 315.6,1255.9 322.6,1254.4 330.1,1255.3 335.2,1257.9 337.1,1260.4 337.6,1262.4 337.5,1264.9 336.6,1267.4 332.6,1271.3 325.1,1274.4ZM223.1,1379.4 211.6,1379.5 205.6,1377.8 204.5,1376.4 204.4,1369.9 204.8,1369.4 205.6,1361.4 206.1,1360.8 214.1,1357.6 226.1,1355.2 240.6,1353.8 274.1,1351.7 279.6,1350.8 282.1,1349.4 283.5,1347.4 284.7,1332.9 286.7,1328.4 290.1,1324.4 295.1,1321.5 300.6,1320.7 305.3,1321.9 309.3,1325.9 310.7,1328.9 311.4,1332.4 310.5,1342.4 305.4,1356.9 303.4,1364.4 302.6,1365.9 299.6,1368.4 295.6,1370.6 289.1,1372.9 280.6,1374.5 251.1,1376.3 223.1,1379.4ZM241.6,1337.9 231.6,1338.3 221.1,1337.2 218.1,1336.0 216.0,1334.4 215.3,1332.9 215.2,1330.9 216.1,1329.6 217.6,1329.2 228.1,1328.0 235.6,1326.4 249.6,1328.4 253.1,1329.9 254.4,1331.4 254.0,1333.4 251.6,1335.2 247.1,1336.9 241.6,1337.9Z" fill="#f6bd8d" fill-rule="evenodd"/>
<path d="M323.1,1272.9 317.1,1272.1 312.7,1269.4 311.3,1267.4 310.7,1265.4 310.8,1262.9 311.7,1260.9 315.6,1257.6 321.6,1255.8 328.1,1256.2 333.0,1258.4 334.9,1260.4 335.7,1262.4 335.6,1264.9 334.6,1267.4 332.6,1269.5 329.6,1271.3 323.1,1272.9ZM226.1,1377.9 212.1,1378.1 204.6,1375.9 204.4,1369.9 204.9,1369.4 205.0,1364.9 205.5,1364.4 205.6,1362.6 214.6,1359.5 230.6,1357.1 248.6,1355.8 280.6,1355.2 285.8,1354.4 288.4,1352.9 289.3,1350.9 287.9,1336.9 288.9,1332.4 291.1,1328.7 295.1,1325.6 299.6,1324.6 303.8,1325.9 307.1,1329.4 308.3,1332.4 308.8,1336.4 308.2,1341.4 307.1,1344.9 304.6,1349.6 299.3,1356.4 297.7,1361.4 296.3,1363.9 291.8,1367.9 286.6,1370.3 279.1,1372.1 252.1,1374.3 226.1,1377.9ZM239.1,1334.5 230.5,1334.4 227.0,1333.4 226.4,1332.4 231.4,1330.4 237.1,1329.5 240.6,1330.4 242.6,1331.9 241.7,1333.4 239.1,1334.5Z" fill="#f6ad72" fill-rule="evenodd"/>
<path d="M324.1,1271.4 320.6,1271.3 317.6,1270.4 315.1,1268.9 313.5,1266.9 312.9,1264.9 313.2,1262.4 314.6,1260.3 317.1,1258.4 321.6,1257.0 326.6,1257.2 330.6,1258.7 333.4,1261.4 333.8,1264.9 332.1,1267.9 328.6,1270.3 324.1,1271.4ZM300.1,1347.4 297.1,1347.8 294.6,1346.3 292.6,1343.2 291.6,1338.9 292.0,1334.9 293.5,1331.9 295.6,1329.9 298.6,1328.9 301.1,1329.3 303.4,1330.9 305.0,1333.4 305.6,1336.4 305.4,1339.9 304.4,1342.9 302.6,1345.6 300.1,1347.4ZM223.1,1376.9 212.1,1376.8 208.1,1376.0 204.6,1374.4 204.5,1369.9 205.0,1369.4 205.1,1364.9 205.6,1364.1 210.6,1362.0 218.1,1360.5 234.1,1358.7 247.1,1358.0 265.6,1358.3 276.1,1359.0 283.1,1360.6 285.1,1361.8 285.8,1362.9 285.4,1364.9 283.9,1366.4 280.1,1368.3 276.6,1369.3 253.1,1372.2 230.6,1376.2 223.1,1376.9Z" fill="#f59f5a" fill-rule="evenodd"/>
<path d="M324.6,1269.9 319.6,1269.5 317.4,1268.4 315.9,1266.9 315.1,1265.4 315.0,1263.4 316.0,1261.4 317.6,1259.9 321.1,1258.4 325.1,1258.3 328.9,1259.4 331.3,1261.4 332.0,1264.4 330.8,1266.9 328.1,1268.9 324.6,1269.9ZM226.1,1375.4 215.1,1375.8 207.6,1374.3 204.6,1372.4 205.1,1366.2 209.6,1363.8 216.1,1362.3 240.6,1360.4 250.1,1360.5 258.8,1361.4 265.7,1362.9 267.9,1364.4 266.7,1365.9 260.8,1367.9 236.1,1373.7 226.1,1375.4Z" fill="#f59448" fill-rule="evenodd"/>
<path d="M325.1,1274.4 320.6,1274.8 316.6,1274.3 312.6,1272.7 309.8,1270.4 308.0,1267.4 307.6,1264.4 308.6,1261.4 310.6,1258.9 315.6,1255.9 322.6,1254.4 330.1,1255.3 335.2,1257.9 337.1,1260.4 337.6,1262.4 337.5,1264.9 336.6,1267.4 332.6,1271.3 325.1,1274.4ZM223.1,1379.4 211.6,1379.5 205.6,1377.8 204.5,1376.4 204.4,1369.9 204.8,1369.4 205.6,1361.4 206.1,1360.8 214.1,1357.6 226.1,1355.2 240.6,1353.8 274.1,1351.7 279.6,1350.8 282.1,1349.4 283.5,1347.4 284.7,1332.9 286.7,1328.4 290.1,1324.4 295.1,1321.5 300.6,1320.7 305.3,1321.9 309.3,1325.9 310.7,1328.9 311.4,1332.4 310.5,1342.4 305.4,1356.9 303.4,1364.4 302.6,1365.9 299.6,1368.4 295.6,1370.6 289.1,1372.9 280.6,1374.5 251.1,1376.3 223.1,1379.4ZM241.6,1337.9 231.6,1338.3 221.1,1337.2 218.1,1336.0 216.0,1334.4 215.3,1332.9 215.2,1330.9 216.1,1329.6 217.6,1329.2 228.1,1328.0 235.6,1326.4 249.6,1328.4 253.1,1329.9 254.4,1331.4 254.0,1333.4 251.6,1335.2 247.1,1336.9 241.6,1337.9Z" fill="none" stroke="#fff" stroke-width="0.8"/>
<path d="M324.1,1271.4 320.6,1271.3 317.6,1270.4 315.1,1268.9 313.5,1266.9 312.9,1264.9 313.2,1262.4 314.6,1260.3 317.1,1258.4 321.6,1257.0 326.6,1257.2 330.6,1258.7 333.4,1261.4 333.8,1264.9 332.1,1267.9 328.6,1270.3 324.1,1271.4ZM300.1,1347.4 297.1,1347.8 294.6,1346.3 292.6,1343.2 291.6,1338.9 292.0,1334.9 293.5,1331.9 295.6,1329.9 298.6,1328.9 301.1,1329.3 303.4,1330.9 305.0,1333.4 305.6,1336.4 305.4,1339.9 304.4,1342.9 302.6,1345.6 300.1,1347.4ZM223.1,1376.9 212.1,1376.8 208.1,1376.0 204.6,1374.4 204.5,1369.9 205.0,1369.4 205.1,1364.9 205.6,1364.1 210.6,1362.0 218.1,1360.5 234.1,1358.7 247.1,1358.0 265.6,1358.3 276.1,1359.0 283.1,1360.6 285.1,1361.8 285.8,1362.9 285.4,1364.9 283.9,1366.4 280.1,1368.3 276.6,1369.3 253.1,1372.2 230.6,1376.2 223.1,1376.9Z" fill="none" stroke="#fff" stroke-width="0.8"/>
<rect x="172.6" y="1210.9" width="193.7" height="194.2" fill="none" stroke="#111" stroke-width="1.2"/>
<line x1="259.9" y1="1210.9" x2="259.9" y2="1405.1" stroke="#000" stroke-width="2"/>
<line x1="172.6" y1="1346.1" x2="366.3" y2="1346.1" stroke="#000" stroke-width="2"/>
<text x="176.2" y="1234.1" class="a b" font-size="13.2">6.19</text>
<text x="349.5" y="1234.1" class="a b" font-size="13.2" text-anchor="end">20.9</text>
<text x="176.2" y="1390.8" class="a b" font-size="13.2">60.2</text>
<text x="349.5" y="1390.8" class="a b" font-size="13.2" text-anchor="end">12.7</text>
<path d="M168.6,1225.1h4M170.4,1231.9h2.2M170.4,1238.7h2.2M170.4,1245.5h2.2M170.4,1252.3h2.2M168.6,1259.0h4M170.4,1265.8h2.2M170.4,1272.6h2.2M170.4,1279.4h2.2M170.4,1286.2h2.2M168.6,1292.9h4M170.4,1299.7h2.2M170.4,1306.5h2.2M170.4,1313.3h2.2M170.4,1320.1h2.2M168.6,1326.8h4M170.4,1333.6h2.2M170.4,1340.4h2.2M170.4,1347.2h2.2M170.4,1354.0h2.2M168.6,1360.7h4M170.4,1367.5h2.2M170.4,1374.3h2.2M170.4,1381.1h2.2M170.4,1387.9h2.2M168.6,1394.6h4M170.4,1401.4h2.2M178.4,1405.1v3.5M192.0,1405.1v2M199.7,1405.1v2M203.6,1405.1v2M205.5,1405.1v3.5M207.5,1405.1v2M209.4,1405.1v2M211.3,1405.1v2M230.7,1405.1v3.5M242.3,1405.1v2M250.1,1405.1v2M254.0,1405.1v2M257.8,1405.1v3.5M259.8,1405.1v2M269.4,1405.1v2M292.7,1405.1v2M304.3,1405.1v3.5M308.2,1405.1v2M312.1,1405.1v2M315.9,1405.1v2M319.8,1405.1v3.5M327.6,1405.1v2M341.1,1405.1v2M350.8,1405.1v2M354.7,1405.1v3.5M362.4,1405.1v2" stroke="#000" stroke-width="0.8" fill="none"/>
<rect x="168.1" y="1372.9" width="3.2" height="5.0" fill="#000"/>
<rect x="199.6" y="1405.6" width="8.0" height="2.8" fill="#000"/>
<text x="211.3" y="1422.1" class="a" font-size="6.5" text-anchor="middle">0</text>
<text x="257.8" y="1422.1" class="a" font-size="6.5" text-anchor="middle">10³</text>
<text x="304.3" y="1422.1" class="a" font-size="6.5" text-anchor="middle">10⁴</text>
<text x="352.7" y="1422.1" class="a" font-size="6.5" text-anchor="middle">10⁵</text>
<text x="167.6" y="1227.4" class="a" font-size="6.5" text-anchor="end">10⁶</text>
<text x="167.6" y="1261.3" class="a" font-size="6.5" text-anchor="end">10⁵</text>
<text x="167.6" y="1295.2" class="a" font-size="6.5" text-anchor="end">10⁴</text>
<text x="167.6" y="1329.1" class="a" font-size="6.5" text-anchor="end">10³</text>
<text x="167.6" y="1370.9" class="a" font-size="6.5" text-anchor="end">0</text>
<path d="M479.2,1384.7 454.7,1384.7 452.2,1383.7 450.4,1381.9 449.4,1378.4 449.4,1376.4 448.9,1375.9 448.4,1366.4 448.9,1365.9 449.4,1359.4 449.9,1358.9 450.4,1354.4 451.9,1349.4 451.9,1346.9 452.4,1346.4 453.4,1333.4 454.4,1330.4 457.4,1324.9 462.2,1321.7 465.2,1320.7 467.2,1320.7 467.7,1320.2 478.7,1320.2 479.2,1320.7 498.7,1320.2 504.2,1322.7 508.2,1325.7 509.7,1325.7 510.4,1324.4 511.9,1316.9 513.2,1315.7 515.7,1315.7 516.5,1316.4 517.5,1319.4 520.7,1321.2 532.7,1321.2 533.2,1320.7 534.7,1320.7 536.5,1318.9 537.5,1315.9 541.5,1309.9 543.0,1305.4 542.0,1302.4 535.0,1295.9 534.0,1294.4 534.0,1293.4 538.5,1289.4 541.5,1284.4 542.0,1279.9 542.5,1279.4 542.5,1269.9 542.0,1268.9 539.7,1267.2 534.7,1266.2 529.2,1263.7 526.7,1263.7 526.2,1263.2 524.7,1263.7 520.7,1263.7 520.2,1264.2 518.2,1264.2 515.2,1265.2 512.7,1265.2 512.2,1265.7 506.2,1265.7 503.4,1263.9 502.4,1262.9 502.4,1261.9 503.7,1260.7 508.7,1259.2 520.7,1257.7 521.2,1257.2 526.2,1256.7 526.7,1256.2 528.7,1256.2 531.2,1255.2 533.2,1255.2 533.7,1254.7 535.7,1254.7 536.2,1254.2 538.2,1254.2 538.7,1253.7 545.7,1252.7 546.2,1252.2 548.7,1252.2 549.2,1251.7 556.7,1250.7 557.2,1250.2 559.7,1250.2 560.2,1249.7 563.7,1249.7 564.2,1249.2 572.2,1249.2 572.7,1249.7 579.7,1250.2 580.2,1250.7 582.7,1250.7 583.2,1251.2 587.2,1251.7 591.7,1253.7 592.5,1254.9 593.0,1257.9 592.5,1258.4 592.0,1264.4 590.0,1269.4 585.5,1275.9 583.2,1278.2 579.7,1280.7 573.7,1283.7 571.0,1286.4 571.0,1290.9 567.5,1296.9 566.5,1300.4 566.0,1309.9 565.0,1312.9 567.7,1314.2 573.7,1314.7 576.7,1315.7 579.5,1318.4 580.5,1320.9 580.5,1323.9 579.0,1326.9 575.7,1330.2 573.2,1331.7 568.5,1336.9 565.0,1344.4 564.5,1349.4 563.5,1352.4 558.5,1357.9 558.5,1360.9 560.5,1364.4 565.2,1367.7 567.5,1370.4 567.5,1372.4 566.5,1374.9 563.7,1377.2 559.7,1377.7 559.2,1378.2 556.2,1378.2 555.7,1378.7 540.7,1379.7 540.2,1380.2 535.2,1380.2 534.7,1380.7 530.2,1380.7 529.7,1381.2 516.2,1382.2 515.7,1382.7 510.2,1382.7 509.7,1383.2 491.7,1383.7 491.2,1384.2 479.7,1384.2 479.2,1384.7Z" fill="#f5801c" fill-rule="evenodd"/>
<path d="M479.2,1381.4 477.7,1381.9 456.2,1381.9 453.5,1380.9 452.8,1379.4 451.2,1369.4 451.7,1363.9 455.2,1346.9 456.3,1334.4 457.5,1330.9 460.0,1326.4 463.2,1324.5 469.2,1322.9 477.2,1322.9 479.2,1323.4 497.2,1322.9 502.7,1325.2 507.2,1328.2 509.7,1328.4 511.2,1328.0 512.3,1326.9 514.2,1319.9 516.6,1322.4 520.2,1323.9 532.7,1323.9 536.2,1323.0 538.7,1320.5 540.0,1317.4 542.8,1313.4 545.7,1305.9 545.5,1303.4 544.2,1300.8 537.4,1294.4 542.2,1289.0 544.0,1285.4 545.2,1279.4 545.2,1269.4 543.9,1266.9 540.7,1264.6 535.7,1263.3 529.7,1260.9 526.2,1260.4 521.2,1260.9 520.7,1260.4 547.7,1254.9 565.7,1251.9 570.7,1251.9 581.2,1253.4 586.2,1254.5 589.6,1255.9 589.7,1260.9 587.4,1267.9 582.2,1275.2 578.2,1278.1 572.1,1281.4 568.7,1284.8 568.1,1289.9 564.9,1295.9 563.7,1299.9 563.2,1308.4 562.2,1311.9 562.6,1314.4 563.7,1315.5 566.7,1316.7 572.7,1317.5 575.3,1318.4 576.9,1319.9 577.7,1322.4 576.2,1325.6 571.2,1329.7 566.1,1335.4 562.9,1341.9 560.4,1351.9 555.9,1356.9 556.1,1362.4 558.5,1366.4 564.4,1370.9 563.7,1373.6 561.2,1374.8 554.2,1375.9 534.7,1377.4 514.2,1379.9 502.7,1380.4 500.7,1380.9 491.7,1380.9 489.7,1381.4 479.2,1381.4ZM512.2,1262.4 508.7,1262.9 508.2,1262.4 519.7,1260.4 520.7,1260.9 512.2,1262.4Z" fill="#f7e9df" fill-rule="evenodd"/>
<path d="M479.2,1381.5 454.7,1381.4 453.1,1380.4 452.4,1376.4 451.9,1375.9 451.3,1368.9 451.9,1362.4 452.5,1361.9 453.2,1356.9 453.7,1355.9 460.5,1350.4 462.1,1347.9 461.3,1345.9 456.2,1339.7 456.6,1333.4 459.2,1328.0 463.2,1326.0 469.7,1324.9 476.7,1324.8 492.2,1325.8 498.2,1327.0 507.7,1332.6 511.2,1334.1 513.2,1334.3 515.7,1333.5 518.7,1331.1 536.7,1323.6 540.0,1321.4 545.9,1315.9 547.6,1312.9 548.4,1309.4 548.3,1302.9 545.7,1293.9 547.2,1286.4 547.8,1280.4 547.4,1269.4 545.1,1260.9 548.2,1258.2 553.2,1255.3 558.7,1253.6 565.7,1252.7 570.7,1252.4 579.2,1253.4 583.7,1254.5 588.3,1256.4 589.2,1258.2 588.8,1264.4 587.3,1267.9 584.2,1272.4 581.9,1274.4 579.2,1275.7 569.7,1279.0 566.9,1281.4 565.5,1283.9 560.6,1313.4 561.0,1315.9 562.0,1317.9 567.6,1323.9 566.7,1328.9 564.3,1337.9 560.1,1347.9 558.2,1350.5 551.1,1355.9 548.7,1359.4 547.8,1362.9 548.6,1367.4 543.0,1370.4 532.7,1374.5 514.2,1379.2 509.2,1379.9 502.7,1380.0 502.2,1380.4 479.7,1381.0 479.2,1381.5Z" fill="#f6dcc7" fill-rule="evenodd"/>
<path d="M542.7,1353.9 536.2,1353.2 531.2,1350.2 526.7,1343.9 525.7,1340.9 525.4,1337.9 526.3,1334.4 529.0,1330.9 547.4,1319.4 549.5,1317.4 550.9,1314.9 551.5,1310.9 551.3,1306.4 548.9,1293.9 550.1,1279.9 549.5,1261.9 551.8,1259.4 556.2,1256.7 566.2,1254.5 574.7,1254.2 583.2,1256.2 586.5,1257.9 587.8,1260.9 587.4,1265.9 585.6,1268.9 580.2,1273.2 567.0,1276.9 564.5,1279.4 563.0,1282.9 560.3,1301.4 557.3,1314.4 558.3,1318.4 562.8,1325.4 563.0,1332.4 561.3,1339.9 559.2,1344.5 555.7,1349.0 548.7,1352.5 542.7,1353.9ZM483.2,1344.4 473.2,1344.6 464.2,1342.6 460.7,1340.7 458.1,1338.4 457.0,1335.4 457.2,1333.4 459.2,1330.4 463.2,1327.9 469.7,1326.7 475.7,1326.5 485.7,1327.2 494.2,1328.6 498.6,1330.4 501.8,1333.4 502.4,1335.4 502.2,1336.9 501.3,1338.4 499.2,1340.1 493.2,1342.6 483.2,1344.4ZM486.2,1380.9 465.2,1381.2 456.2,1380.6 453.2,1379.6 452.0,1375.9 451.9,1371.4 451.4,1370.9 451.4,1366.4 451.9,1365.9 452.7,1359.4 458.2,1355.7 466.2,1353.0 475.7,1351.7 487.2,1351.8 505.7,1353.7 521.2,1356.7 529.7,1359.9 532.1,1361.9 533.3,1363.9 533.4,1366.9 531.7,1369.6 527.2,1372.7 522.7,1374.6 507.7,1378.5 486.2,1380.9Z" fill="#f6cdaa" fill-rule="evenodd"/>
<path d="M555.2,1303.7 554.7,1303.8 553.7,1301.7 551.7,1293.4 552.8,1279.9 552.8,1263.4 554.7,1261.0 557.0,1259.4 562.2,1257.2 567.7,1255.8 576.2,1255.8 583.2,1258.1 585.3,1259.9 586.1,1263.4 585.4,1266.4 583.0,1269.4 579.7,1271.6 576.7,1272.7 565.2,1274.2 563.4,1275.4 561.8,1277.4 560.2,1281.9 559.8,1288.9 558.3,1297.4 557.2,1301.1 555.2,1303.7ZM545.7,1349.4 539.7,1348.8 534.6,1345.9 532.5,1343.4 531.2,1340.9 530.7,1337.9 531.0,1335.4 533.5,1331.4 538.2,1327.9 549.7,1322.5 552.2,1321.6 553.7,1321.8 556.7,1323.7 559.1,1326.9 560.2,1332.4 559.6,1337.9 557.2,1343.0 554.2,1346.5 550.7,1348.3 545.7,1349.4ZM481.2,1341.4 472.7,1341.6 465.2,1340.1 462.2,1338.6 460.7,1337.2 459.7,1335.4 460.0,1333.4 461.7,1331.1 464.7,1329.4 470.2,1328.4 475.7,1328.2 483.2,1328.8 489.2,1329.9 493.6,1331.4 496.0,1333.4 496.1,1335.9 493.7,1338.2 488.2,1340.2 481.2,1341.4ZM479.2,1379.9 460.2,1379.7 455.7,1379.2 452.7,1377.8 451.4,1369.4 451.5,1366.4 452.0,1365.9 452.7,1360.7 459.7,1357.5 467.7,1355.7 478.7,1354.9 490.7,1355.3 503.2,1356.8 513.7,1359.2 521.1,1362.4 523.0,1363.9 524.3,1365.9 524.2,1368.4 522.3,1370.9 518.2,1373.3 513.2,1375.2 500.2,1378.1 479.2,1379.9Z" fill="#f6bd8d" fill-rule="evenodd"/>
<path d="M575.2,1271.5 570.2,1271.7 559.2,1270.7 557.5,1268.9 557.1,1265.4 558.5,1262.9 560.4,1260.9 566.2,1257.8 572.7,1256.7 578.2,1257.5 580.7,1258.5 583.3,1260.4 584.1,1262.4 584.1,1264.9 582.8,1267.4 580.7,1269.3 575.2,1271.5ZM547.7,1345.4 542.7,1345.3 538.7,1343.4 536.1,1339.9 535.8,1335.9 537.7,1332.4 542.2,1329.2 547.7,1327.4 552.7,1327.3 554.7,1328.9 556.2,1331.4 556.8,1334.4 556.4,1337.4 555.1,1340.4 553.0,1342.9 550.7,1344.5 547.7,1345.4ZM480.7,1338.4 474.7,1338.8 469.2,1338.1 465.4,1336.4 464.6,1335.4 464.4,1333.9 465.5,1332.4 467.6,1331.4 475.7,1330.4 483.7,1331.5 486.3,1332.4 488.1,1333.9 488.1,1335.4 487.0,1336.4 480.7,1338.4ZM481.2,1378.4 472.2,1378.8 462.2,1378.5 456.7,1378.0 452.7,1376.4 452.2,1375.9 452.0,1371.4 451.5,1370.9 451.5,1366.4 452.0,1365.9 452.2,1362.6 459.2,1359.7 466.7,1358.2 476.7,1357.5 487.7,1357.8 498.7,1359.0 507.7,1361.1 513.9,1363.9 516.4,1366.9 516.2,1368.9 514.4,1370.9 507.2,1374.4 497.2,1376.7 481.2,1378.4Z" fill="#f6ad72" fill-rule="evenodd"/>
<path d="M573.2,1270.4 567.7,1269.8 563.4,1267.9 562.2,1266.4 561.8,1264.9 562.0,1263.4 563.3,1261.4 567.0,1258.9 571.7,1257.9 577.2,1258.4 581.0,1260.4 581.9,1261.4 582.5,1263.4 582.4,1264.9 581.3,1266.9 577.7,1269.5 573.2,1270.4ZM547.7,1340.5 545.2,1340.7 543.2,1340.0 541.9,1338.4 541.6,1336.4 542.7,1334.4 544.2,1333.2 546.3,1332.4 548.7,1332.3 550.7,1333.4 551.5,1336.4 550.3,1338.9 547.7,1340.5ZM476.7,1377.4 459.7,1377.1 456.2,1376.5 452.2,1374.9 451.5,1369.4 452.2,1363.9 457.7,1361.7 465.2,1360.3 474.7,1359.6 484.2,1359.9 493.7,1360.9 501.2,1362.5 506.7,1364.9 508.7,1367.4 508.5,1368.9 506.8,1370.9 499.7,1373.9 488.7,1376.2 476.7,1377.4Z" fill="#f59f5a" fill-rule="evenodd"/>
<path d="M575.2,1269.0 570.7,1269.1 566.7,1267.7 564.7,1265.4 564.5,1263.9 565.0,1262.4 567.2,1260.4 571.2,1259.0 575.2,1259.1 578.6,1260.4 580.6,1262.4 580.5,1265.4 578.7,1267.5 575.2,1269.0ZM472.2,1376.4 459.2,1375.9 452.9,1373.9 452.2,1373.5 452.1,1371.4 451.6,1370.9 451.7,1366.4 452.2,1365.4 456.2,1363.5 462.2,1362.1 469.7,1361.5 477.7,1361.6 486.7,1362.4 493.8,1363.9 498.5,1365.9 500.1,1367.9 499.7,1369.4 498.8,1370.4 493.2,1372.9 483.7,1375.2 472.2,1376.4Z" fill="#f59448" fill-rule="evenodd"/>
<path d="M555.2,1303.7 554.7,1303.8 553.7,1301.7 551.7,1293.4 552.8,1279.9 552.8,1263.4 554.7,1261.0 557.0,1259.4 562.2,1257.2 567.7,1255.8 576.2,1255.8 583.2,1258.1 585.3,1259.9 586.1,1263.4 585.4,1266.4 583.0,1269.4 579.7,1271.6 576.7,1272.7 565.2,1274.2 563.4,1275.4 561.8,1277.4 560.2,1281.9 559.8,1288.9 558.3,1297.4 557.2,1301.1 555.2,1303.7ZM545.7,1349.4 539.7,1348.8 534.6,1345.9 532.5,1343.4 531.2,1340.9 530.7,1337.9 531.0,1335.4 533.5,1331.4 538.2,1327.9 549.7,1322.5 552.2,1321.6 553.7,1321.8 556.7,1323.7 559.1,1326.9 560.2,1332.4 559.6,1337.9 557.2,1343.0 554.2,1346.5 550.7,1348.3 545.7,1349.4ZM481.2,1341.4 472.7,1341.6 465.2,1340.1 462.2,1338.6 460.7,1337.2 459.7,1335.4 460.0,1333.4 461.7,1331.1 464.7,1329.4 470.2,1328.4 475.7,1328.2 483.2,1328.8 489.2,1329.9 493.6,1331.4 496.0,1333.4 496.1,1335.9 493.7,1338.2 488.2,1340.2 481.2,1341.4ZM479.2,1379.9 460.2,1379.7 455.7,1379.2 452.7,1377.8 451.4,1369.4 451.5,1366.4 452.0,1365.9 452.7,1360.7 459.7,1357.5 467.7,1355.7 478.7,1354.9 490.7,1355.3 503.2,1356.8 513.7,1359.2 521.1,1362.4 523.0,1363.9 524.3,1365.9 524.2,1368.4 522.3,1370.9 518.2,1373.3 513.2,1375.2 500.2,1378.1 479.2,1379.9Z" fill="none" stroke="#fff" stroke-width="0.8"/>
<path d="M573.2,1270.4 567.7,1269.8 563.4,1267.9 562.2,1266.4 561.8,1264.9 562.0,1263.4 563.3,1261.4 567.0,1258.9 571.7,1257.9 577.2,1258.4 581.0,1260.4 581.9,1261.4 582.5,1263.4 582.4,1264.9 581.3,1266.9 577.7,1269.5 573.2,1270.4ZM547.7,1340.5 545.2,1340.7 543.2,1340.0 541.9,1338.4 541.6,1336.4 542.7,1334.4 544.2,1333.2 546.3,1332.4 548.7,1332.3 550.7,1333.4 551.5,1336.4 550.3,1338.9 547.7,1340.5ZM476.7,1377.4 459.7,1377.1 456.2,1376.5 452.2,1374.9 451.5,1369.4 452.2,1363.9 457.7,1361.7 465.2,1360.3 474.7,1359.6 484.2,1359.9 493.7,1360.9 501.2,1362.5 506.7,1364.9 508.7,1367.4 508.5,1368.9 506.8,1370.9 499.7,1373.9 488.7,1376.2 476.7,1377.4Z" fill="none" stroke="#fff" stroke-width="0.8"/>
<rect x="418.7" y="1210.9" width="194.0" height="194.2" fill="none" stroke="#111" stroke-width="1.2"/>
<line x1="506.9" y1="1210.9" x2="506.9" y2="1405.1" stroke="#000" stroke-width="2"/>
<line x1="418.7" y1="1346.1" x2="612.7" y2="1346.1" stroke="#000" stroke-width="2"/>
<text x="422.3" y="1234.1" class="a b" font-size="13.2">5.10</text>
<text x="595.9" y="1234.1" class="a b" font-size="13.2" text-anchor="end">12.9</text>
<text x="422.3" y="1390.8" class="a b" font-size="13.2">74.1</text>
<text x="595.9" y="1390.8" class="a b" font-size="13.2" text-anchor="end">7.94</text>
<path d="M414.7,1225.1h4M416.5,1231.9h2.2M416.5,1238.7h2.2M416.5,1245.5h2.2M416.5,1252.3h2.2M414.7,1259.0h4M416.5,1265.8h2.2M416.5,1272.6h2.2M416.5,1279.4h2.2M416.5,1286.2h2.2M414.7,1292.9h4M416.5,1299.7h2.2M416.5,1306.5h2.2M416.5,1313.3h2.2M416.5,1320.1h2.2M414.7,1326.8h4M416.5,1333.6h2.2M416.5,1340.4h2.2M416.5,1347.2h2.2M416.5,1354.0h2.2M414.7,1360.7h4M416.5,1367.5h2.2M416.5,1374.3h2.2M416.5,1381.1h2.2M416.5,1387.9h2.2M414.7,1394.6h4M416.5,1401.4h2.2M424.5,1405.1v3.5M438.1,1405.1v2M445.9,1405.1v2M449.7,1405.1v2M451.7,1405.1v3.5M453.6,1405.1v2M455.6,1405.1v2M457.5,1405.1v2M476.9,1405.1v3.5M488.5,1405.1v2M496.3,1405.1v2M500.2,1405.1v2M504.1,1405.1v3.5M506.0,1405.1v2M515.7,1405.1v2M539.0,1405.1v2M550.6,1405.1v3.5M554.5,1405.1v2M558.4,1405.1v2M562.3,1405.1v2M566.1,1405.1v3.5M573.9,1405.1v2M587.5,1405.1v2M597.2,1405.1v2M601.1,1405.1v3.5M608.8,1405.1v2" stroke="#000" stroke-width="0.8" fill="none"/>
<rect x="414.2" y="1372.9" width="3.2" height="5.0" fill="#000"/>
<rect x="445.7" y="1405.6" width="8.0" height="2.8" fill="#000"/>
<text x="457.5" y="1422.1" class="a" font-size="6.5" text-anchor="middle">0</text>
<text x="504.1" y="1422.1" class="a" font-size="6.5" text-anchor="middle">10³</text>
<text x="550.6" y="1422.1" class="a" font-size="6.5" text-anchor="middle">10⁴</text>
<text x="599.1" y="1422.1" class="a" font-size="6.5" text-anchor="middle">10⁵</text>
<text x="413.7" y="1227.4" class="a" font-size="6.5" text-anchor="end">10⁶</text>
<text x="413.7" y="1261.3" class="a" font-size="6.5" text-anchor="end">10⁵</text>
<text x="413.7" y="1295.2" class="a" font-size="6.5" text-anchor="end">10⁴</text>
<text x="413.7" y="1329.1" class="a" font-size="6.5" text-anchor="end">10³</text>
<text x="413.7" y="1370.9" class="a" font-size="6.5" text-anchor="end">0</text>
<path d="M712.3,1386.7 705.8,1386.7 705.3,1386.2 703.8,1386.2 699.3,1383.7 697.0,1380.9 696.0,1377.9 696.0,1375.9 695.5,1375.4 695.5,1366.4 696.0,1365.9 696.5,1361.4 699.0,1353.4 699.0,1351.4 699.5,1350.9 701.5,1338.9 702.5,1336.4 702.5,1334.4 706.0,1324.9 709.3,1322.2 714.3,1321.7 719.3,1320.2 723.8,1320.2 725.8,1321.2 728.8,1324.2 730.8,1324.2 733.8,1322.2 738.8,1321.2 740.3,1321.7 741.5,1322.9 745.0,1331.4 746.8,1333.2 750.8,1335.2 753.3,1335.2 756.3,1331.7 764.8,1330.7 771.3,1327.7 773.0,1325.9 774.3,1323.2 782.3,1323.2 787.3,1321.2 788.8,1320.2 791.0,1317.4 790.5,1299.4 794.5,1290.9 795.0,1284.9 795.5,1284.4 795.5,1277.9 795.0,1277.4 795.0,1275.9 793.3,1273.2 787.3,1270.2 783.3,1269.2 781.5,1267.9 780.5,1263.4 782.0,1259.4 785.8,1257.2 787.3,1257.2 787.8,1256.7 806.8,1253.7 812.3,1250.2 813.8,1250.2 814.3,1249.7 831.8,1250.2 832.3,1250.7 837.3,1251.2 842.3,1253.7 844.0,1256.9 844.5,1261.4 843.5,1264.9 841.5,1268.4 838.8,1271.2 835.8,1273.2 820.8,1280.7 818.5,1283.9 818.5,1289.4 819.0,1290.9 823.0,1298.4 826.3,1301.2 828.5,1303.9 828.5,1306.9 827.5,1309.4 825.3,1311.2 822.8,1311.7 820.0,1313.9 819.5,1315.4 820.3,1316.2 829.8,1316.7 832.8,1317.7 835.5,1319.9 836.0,1321.4 835.5,1324.9 833.5,1328.4 826.3,1334.2 821.8,1336.2 820.3,1336.2 812.8,1338.7 810.5,1340.9 809.5,1342.9 809.5,1343.9 808.0,1346.9 808.0,1348.9 806.5,1352.4 805.8,1353.2 801.3,1354.2 799.5,1355.9 799.5,1358.9 800.8,1360.2 806.3,1360.2 806.8,1360.7 808.3,1360.7 809.3,1361.2 810.5,1362.9 811.0,1366.9 811.5,1367.4 811.5,1372.9 811.0,1373.9 809.3,1375.7 807.3,1376.7 803.3,1377.2 802.8,1377.7 790.8,1378.2 790.3,1378.7 785.8,1378.7 785.3,1379.2 780.8,1379.2 780.3,1379.7 770.8,1380.2 770.3,1380.7 765.8,1380.7 765.3,1381.2 760.8,1381.2 760.3,1381.7 755.8,1381.7 755.3,1382.2 750.8,1382.2 750.3,1382.7 745.8,1382.7 745.3,1383.2 740.8,1383.2 740.3,1383.7 735.8,1383.7 735.3,1384.2 726.8,1384.7 726.3,1385.2 718.3,1385.7 717.8,1386.2 712.8,1386.2 712.3,1386.7Z" fill="#f5801c" fill-rule="evenodd"/>
<path d="M712.3,1383.4 710.8,1383.9 706.8,1383.8 704.8,1383.3 700.8,1381.1 699.4,1378.4 698.3,1373.9 698.3,1367.9 701.8,1353.9 705.4,1335.4 706.9,1330.4 709.3,1325.6 711.8,1324.5 714.8,1324.4 720.8,1322.9 723.3,1323.2 727.2,1326.4 728.8,1326.9 731.3,1326.9 734.8,1325.0 738.8,1324.4 742.7,1332.9 744.8,1335.1 749.8,1337.7 753.3,1337.9 755.3,1337.1 757.8,1334.4 765.8,1333.2 772.8,1330.0 776.3,1325.9 782.8,1325.9 788.8,1323.5 792.5,1320.4 793.8,1317.9 793.3,1300.9 797.3,1291.4 798.3,1284.4 798.3,1277.9 797.6,1274.9 795.3,1271.2 792.3,1269.3 783.9,1265.9 783.6,1263.9 784.4,1261.4 788.8,1259.5 807.8,1256.2 813.3,1253.1 815.8,1252.4 822.3,1252.4 833.8,1253.4 837.8,1254.5 840.3,1256.0 841.7,1260.4 840.7,1263.9 838.6,1267.4 834.3,1270.6 819.2,1278.4 817.3,1280.3 816.0,1282.9 815.8,1289.4 816.5,1291.9 820.8,1300.0 825.3,1304.2 825.8,1305.4 824.8,1308.1 821.3,1309.3 818.1,1311.9 816.8,1314.4 817.0,1316.4 818.3,1318.1 819.8,1318.9 830.8,1320.0 832.8,1321.3 833.0,1322.4 832.7,1323.9 831.0,1326.9 824.8,1331.6 810.8,1336.7 808.3,1339.3 807.2,1341.4 804.3,1350.2 799.8,1351.8 797.2,1354.4 796.8,1359.4 798.8,1362.1 800.3,1362.9 805.3,1363.0 807.6,1363.9 808.8,1368.9 808.8,1371.4 808.0,1372.9 804.8,1374.3 801.3,1374.9 790.3,1375.4 735.3,1380.9 716.3,1383.4 712.3,1383.4Z" fill="#f7e9df" fill-rule="evenodd"/>
<path d="M811.3,1275.4 808.3,1275.5 807.3,1274.7 803.3,1270.5 799.9,1265.4 802.0,1261.9 806.8,1258.0 814.3,1254.0 822.3,1253.1 830.3,1254.0 835.7,1255.9 838.6,1257.9 839.8,1260.4 839.5,1264.4 837.4,1267.9 834.3,1270.3 830.3,1272.2 824.8,1273.9 811.3,1275.4ZM712.3,1383.5 705.8,1383.4 700.7,1380.9 699.6,1379.4 698.5,1375.4 698.5,1366.4 699.0,1365.9 699.6,1361.4 701.7,1355.4 702.3,1351.9 709.3,1343.8 718.3,1336.4 726.3,1337.2 733.3,1337.2 741.3,1340.6 750.3,1342.8 756.3,1342.9 761.8,1341.5 768.3,1340.8 770.8,1339.7 772.8,1337.9 775.6,1333.9 778.0,1328.9 783.3,1326.8 793.3,1321.0 799.8,1313.7 805.8,1308.8 811.9,1319.4 818.2,1325.9 818.3,1326.4 815.8,1328.8 805.7,1336.9 798.8,1344.6 794.6,1346.9 792.8,1349.9 793.4,1353.9 796.8,1360.4 799.3,1362.9 806.3,1364.9 807.3,1369.4 807.0,1371.4 805.8,1372.2 801.3,1374.0 796.3,1374.4 795.8,1374.9 790.8,1375.0 790.3,1375.5 770.8,1377.1 770.3,1377.6 765.8,1377.6 765.3,1378.1 760.8,1378.1 760.3,1378.6 755.8,1378.6 755.3,1379.1 750.8,1379.1 750.3,1379.6 745.8,1379.6 745.3,1380.1 740.8,1380.1 740.3,1380.6 735.8,1380.6 735.3,1381.1 726.8,1381.6 726.3,1382.0 718.3,1382.5 717.8,1383.0 712.8,1383.0 712.3,1383.5Z" fill="#f6dcc7" fill-rule="evenodd"/>
<path d="M820.8,1272.9 812.3,1272.3 809.3,1271.3 807.5,1269.9 805.4,1267.4 804.9,1265.4 805.4,1262.9 807.1,1260.4 810.1,1257.9 813.8,1255.8 820.3,1254.5 829.8,1255.4 833.3,1256.7 836.7,1258.9 837.7,1260.9 837.7,1263.4 836.8,1265.9 835.0,1267.9 828.8,1271.3 820.8,1272.9ZM793.8,1338.5 791.8,1338.8 790.3,1338.4 786.8,1336.4 785.6,1333.9 786.4,1330.9 791.8,1326.2 798.8,1322.4 802.8,1321.4 805.8,1321.9 807.9,1324.9 807.4,1327.4 805.9,1329.9 803.8,1332.4 799.8,1335.7 793.8,1338.5ZM721.8,1382.4 707.8,1382.6 700.8,1380.7 699.8,1379.4 698.6,1375.4 698.5,1370.4 698.6,1366.4 699.1,1365.9 699.7,1361.4 700.8,1357.4 702.0,1355.4 706.8,1350.9 710.8,1348.2 716.3,1345.6 721.8,1344.2 729.8,1343.7 734.3,1344.0 750.3,1346.4 764.3,1347.5 777.8,1349.9 783.3,1352.1 787.8,1354.9 797.3,1364.3 803.2,1368.4 802.8,1369.4 799.3,1371.4 793.8,1373.4 784.2,1375.9 770.8,1377.0 770.3,1377.5 765.8,1377.5 765.3,1378.0 760.8,1378.0 760.3,1378.5 755.8,1378.5 755.3,1379.0 750.8,1379.0 750.3,1379.5 745.8,1379.5 745.3,1380.0 740.8,1380.0 740.3,1380.5 735.8,1380.5 735.3,1380.9 731.3,1381.0 730.8,1381.4 726.8,1381.5 726.3,1381.9 722.8,1381.9 721.8,1382.4Z" fill="#f6cdaa" fill-rule="evenodd"/>
<path d="M822.3,1271.4 815.3,1271.0 810.3,1268.9 808.6,1266.9 808.0,1264.9 808.4,1262.4 809.8,1260.4 812.1,1258.4 815.3,1256.7 821.8,1255.6 829.8,1256.9 834.9,1259.9 835.7,1261.9 835.6,1263.9 833.2,1267.4 828.3,1270.1 822.3,1271.4ZM716.8,1381.4 705.8,1380.8 701.8,1379.6 699.8,1378.4 698.7,1375.4 698.6,1366.4 699.1,1365.9 700.3,1359.9 704.6,1355.9 712.3,1351.3 721.8,1348.5 729.8,1347.8 739.8,1348.2 761.8,1351.2 774.3,1353.9 781.3,1356.2 786.8,1359.0 791.8,1363.4 795.3,1367.9 793.3,1370.1 788.3,1372.5 773.8,1376.2 753.8,1378.7 716.8,1381.4Z" fill="#f6bd8d" fill-rule="evenodd"/>
<path d="M821.8,1269.9 815.8,1269.1 812.0,1266.9 811.2,1265.4 811.0,1263.4 811.8,1261.4 813.2,1259.9 816.8,1257.8 822.3,1257.1 828.8,1258.3 832.8,1260.9 833.3,1262.4 833.2,1263.9 831.0,1266.9 826.8,1269.0 821.8,1269.9ZM720.3,1379.9 710.3,1380.0 703.3,1378.7 699.3,1376.3 698.8,1375.4 698.7,1372.4 698.7,1366.4 699.8,1362.9 703.8,1359.5 708.8,1356.5 713.8,1354.3 719.8,1352.6 727.3,1351.5 737.3,1351.4 748.3,1352.5 760.8,1354.5 770.8,1356.9 779.3,1359.9 784.6,1362.9 786.2,1364.4 786.9,1365.9 786.1,1368.4 782.8,1370.9 773.3,1374.1 758.3,1376.5 720.3,1379.9Z" fill="#f6ad72" fill-rule="evenodd"/>
<path d="M824.3,1268.0 819.8,1268.1 815.8,1266.9 813.9,1264.4 814.4,1261.9 816.8,1259.8 820.8,1258.7 825.3,1259.0 828.8,1260.4 830.5,1262.4 830.2,1264.4 827.8,1266.7 824.3,1268.0ZM716.3,1378.9 706.3,1378.2 700.9,1375.9 698.8,1373.9 698.8,1366.5 701.8,1363.4 706.3,1360.6 712.8,1357.9 719.8,1355.9 727.3,1354.8 734.8,1354.5 743.3,1354.9 752.8,1356.2 761.8,1358.1 770.5,1360.9 775.3,1363.4 777.5,1365.9 777.5,1367.4 776.8,1368.4 774.0,1370.4 763.3,1373.5 716.3,1378.9Z" fill="#f59f5a" fill-rule="evenodd"/>
<path d="M822.8,1265.9 820.3,1265.8 818.2,1264.9 817.7,1263.4 818.2,1262.4 819.8,1261.3 822.3,1261.0 824.7,1261.4 826.3,1262.4 826.7,1263.4 826.2,1264.4 822.8,1265.9ZM719.8,1377.5 710.8,1377.7 704.3,1376.3 701.8,1374.9 699.9,1372.9 699.1,1370.9 699.5,1368.4 702.8,1364.8 709.3,1361.7 721.3,1359.0 732.3,1357.9 743.8,1358.3 755.3,1360.4 763.5,1363.4 765.5,1364.9 766.4,1366.4 765.8,1367.9 764.6,1368.9 757.8,1371.4 734.3,1374.7 719.8,1377.5Z" fill="#f59448" fill-rule="evenodd"/>
<path d="M824.8,1270.4 817.8,1270.6 811.8,1268.6 809.4,1265.4 809.4,1263.4 810.2,1261.4 812.0,1259.4 814.8,1257.6 819.8,1256.4 827.3,1256.9 832.8,1259.2 834.3,1260.7 834.7,1261.9 834.6,1263.9 833.5,1265.9 829.8,1268.8 824.8,1270.4ZM724.3,1380.4 715.8,1380.9 707.8,1380.6 702.8,1379.3 699.8,1377.7 698.7,1375.4 698.6,1370.4 698.7,1366.4 699.2,1365.9 699.8,1361.6 706.8,1355.8 715.3,1351.8 725.8,1349.6 737.8,1349.6 760.3,1352.5 776.3,1356.3 781.8,1358.4 786.3,1360.9 789.8,1363.9 792.0,1366.9 791.2,1368.4 787.8,1371.0 783.3,1372.9 773.3,1375.4 758.8,1377.5 724.3,1380.4Z" fill="none" stroke="#fff" stroke-width="0.8"/>
<path d="M823.3,1267.5 819.3,1267.3 816.3,1266.1 815.0,1263.9 815.6,1261.9 817.8,1260.2 821.3,1259.3 825.3,1259.7 828.0,1260.9 829.4,1262.4 828.8,1264.7 826.8,1266.4 823.3,1267.5ZM717.8,1378.4 708.3,1378.2 702.3,1376.3 698.8,1373.0 698.8,1367.4 702.8,1363.4 711.3,1359.5 722.3,1356.6 733.3,1355.6 746.3,1356.4 759.8,1358.9 770.3,1362.7 772.8,1364.4 773.9,1366.4 773.5,1367.9 771.8,1369.5 767.8,1371.3 762.8,1372.6 717.8,1378.4Z" fill="none" stroke="#fff" stroke-width="0.8"/>
<rect x="666.3" y="1210.9" width="194.1" height="194.2" fill="none" stroke="#111" stroke-width="1.2"/>
<line x1="754.0" y1="1210.9" x2="754.0" y2="1405.1" stroke="#000" stroke-width="2"/>
<line x1="666.3" y1="1346.1" x2="860.4" y2="1346.1" stroke="#000" stroke-width="2"/>
<text x="669.9" y="1234.1" class="a b" font-size="13.2">2.83</text>
<text x="843.6" y="1234.1" class="a b" font-size="13.2" text-anchor="end">9.69</text>
<text x="669.9" y="1390.8" class="a b" font-size="13.2">82.1</text>
<text x="843.6" y="1390.8" class="a b" font-size="13.2" text-anchor="end">5.36</text>
<path d="M662.3,1225.1h4M664.1,1231.9h2.2M664.1,1238.7h2.2M664.1,1245.5h2.2M664.1,1252.3h2.2M662.3,1259.0h4M664.1,1265.8h2.2M664.1,1272.6h2.2M664.1,1279.4h2.2M664.1,1286.2h2.2M662.3,1292.9h4M664.1,1299.7h2.2M664.1,1306.5h2.2M664.1,1313.3h2.2M664.1,1320.1h2.2M662.3,1326.8h4M664.1,1333.6h2.2M664.1,1340.4h2.2M664.1,1347.2h2.2M664.1,1354.0h2.2M662.3,1360.7h4M664.1,1367.5h2.2M664.1,1374.3h2.2M664.1,1381.1h2.2M664.1,1387.9h2.2M662.3,1394.6h4M664.1,1401.4h2.2M672.1,1405.1v3.5M685.7,1405.1v2M693.5,1405.1v2M697.4,1405.1v2M699.3,1405.1v3.5M701.2,1405.1v2M703.2,1405.1v2M705.1,1405.1v2M724.5,1405.1v3.5M736.2,1405.1v2M743.9,1405.1v2M747.8,1405.1v2M751.7,1405.1v3.5M753.6,1405.1v2M763.3,1405.1v2M786.6,1405.1v2M798.3,1405.1v3.5M802.2,1405.1v2M806.1,1405.1v2M809.9,1405.1v2M813.8,1405.1v3.5M821.6,1405.1v2M835.2,1405.1v2M844.9,1405.1v2M848.8,1405.1v3.5M856.5,1405.1v2" stroke="#000" stroke-width="0.8" fill="none"/>
<rect x="661.8" y="1372.9" width="3.2" height="5.0" fill="#000"/>
<rect x="693.3" y="1405.6" width="8.0" height="2.8" fill="#000"/>
<text x="705.1" y="1422.1" class="a" font-size="6.5" text-anchor="middle">0</text>
<text x="751.7" y="1422.1" class="a" font-size="6.5" text-anchor="middle">10³</text>
<text x="798.3" y="1422.1" class="a" font-size="6.5" text-anchor="middle">10⁴</text>
<text x="846.8" y="1422.1" class="a" font-size="6.5" text-anchor="middle">10⁵</text>
<text x="661.3" y="1227.4" class="a" font-size="6.5" text-anchor="end">10⁶</text>
<text x="661.3" y="1261.3" class="a" font-size="6.5" text-anchor="end">10⁵</text>
<text x="661.3" y="1295.2" class="a" font-size="6.5" text-anchor="end">10⁴</text>
<text x="661.3" y="1329.1" class="a" font-size="6.5" text-anchor="end">10³</text>
<text x="661.3" y="1370.9" class="a" font-size="6.5" text-anchor="end">0</text>
<text x="136.5" y="1320.5" class="c" font-size="31.0" text-anchor="middle" transform="rotate(-90 136.5 1320.5)">PI</text>
<line x1="131.0" y1="1407.0" x2="131.0" y2="1355.0" stroke="#000" stroke-width="3.5"/>
<polygon points="121.0,1358.0 131.0,1339.0 141.0,1358.0" fill="#000"/>
<line x1="157.0" y1="1435.7" x2="206.0" y2="1435.7" stroke="#000" stroke-width="3.5"/>
<polygon points="204.0,1426.0 223.0,1435.7 204.0,1445.5" fill="#000"/>
<text x="230.5" y="1446.5" class="c" font-size="31.6">Annexin-V</text>
<text x="20.5" y="1537.9" class="c b" font-size="32.0">e</text>
<line x1="740.0" y1="1560.0" x2="740.0" y2="1911.5" stroke="#c0c0c0" stroke-width="1" stroke-dasharray="1.2 2.5"/>
<line x1="844.7" y1="1560.0" x2="844.7" y2="1911.5" stroke="#c0c0c0" stroke-width="1" stroke-dasharray="1.2 2.5"/>
<line x1="949.4" y1="1560.0" x2="949.4" y2="1911.5" stroke="#c0c0c0" stroke-width="1" stroke-dasharray="1.2 2.5"/>
<line x1="1054.1" y1="1560.0" x2="1054.1" y2="1911.5" stroke="#c0c0c0" stroke-width="1" stroke-dasharray="1.2 2.5"/>
<rect x="656.6" y="1560.5" width="25.8" height="351.0" fill="#14acd6" stroke="#0c3d50" stroke-width="1.2"/>
<circle cx="658.8" cy="1560.5" r="1.9" fill="#000"/>
<circle cx="662.4" cy="1560.5" r="1.9" fill="#000"/>
<circle cx="665.9" cy="1560.5" r="1.9" fill="#000"/>
<circle cx="669.5" cy="1560.5" r="1.9" fill="#000"/>
<circle cx="673.1" cy="1560.5" r="1.9" fill="#000"/>
<circle cx="676.7" cy="1560.5" r="1.9" fill="#000"/>
<circle cx="680.2" cy="1560.5" r="1.9" fill="#000"/>
<rect x="693.1" y="1819.0" width="25.8" height="92.5" fill="#fca03e" stroke="#5a3814" stroke-width="1.2"/>
<line x1="706.0" y1="1877.1" x2="706.0" y2="1760.6" stroke="#000" stroke-width="1.6"/>
<line x1="701.0" y1="1877.1" x2="711.0" y2="1877.1" stroke="#000" stroke-width="1.6"/>
<line x1="701.0" y1="1760.6" x2="711.0" y2="1760.6" stroke="#000" stroke-width="1.6"/>
<circle cx="706.0" cy="1721.6" r="2.3" fill="#000"/>
<circle cx="703.0" cy="1789.0" r="2.3" fill="#000"/>
<circle cx="709.0" cy="1789.0" r="2.3" fill="#000"/>
<circle cx="706.0" cy="1822.0" r="2.3" fill="#000"/>
<circle cx="706.0" cy="1842.0" r="2.3" fill="#000"/>
<circle cx="706.0" cy="1875.0" r="2.3" fill="#000"/>
<circle cx="706.0" cy="1894.0" r="2.3" fill="#000"/>
<rect x="761.3" y="1560.5" width="25.8" height="351.0" fill="#14acd6" stroke="#0c3d50" stroke-width="1.2"/>
<circle cx="763.5" cy="1560.5" r="1.9" fill="#000"/>
<circle cx="767.1" cy="1560.5" r="1.9" fill="#000"/>
<circle cx="770.6" cy="1560.5" r="1.9" fill="#000"/>
<circle cx="774.2" cy="1560.5" r="1.9" fill="#000"/>
<circle cx="777.8" cy="1560.5" r="1.9" fill="#000"/>
<circle cx="781.4" cy="1560.5" r="1.9" fill="#000"/>
<circle cx="784.9" cy="1560.5" r="1.9" fill="#000"/>
<rect x="797.8" y="1755.1" width="25.8" height="156.4" fill="#fca03e" stroke="#5a3814" stroke-width="1.2"/>
<line x1="810.7" y1="1833.9" x2="810.7" y2="1676.7" stroke="#000" stroke-width="1.6"/>
<line x1="805.7" y1="1833.9" x2="815.7" y2="1833.9" stroke="#000" stroke-width="1.6"/>
<line x1="805.7" y1="1676.7" x2="815.7" y2="1676.7" stroke="#000" stroke-width="1.6"/>
<circle cx="810.7" cy="1601.9" r="2.3" fill="#000"/>
<circle cx="810.7" cy="1733.9" r="2.3" fill="#000"/>
<circle cx="810.7" cy="1740.6" r="2.3" fill="#000"/>
<circle cx="810.7" cy="1760.6" r="2.3" fill="#000"/>
<circle cx="810.7" cy="1791.1" r="2.3" fill="#000"/>
<circle cx="807.2" cy="1828.7" r="2.3" fill="#000"/>
<circle cx="814.2" cy="1828.7" r="2.3" fill="#000"/>
<rect x="866.0" y="1560.5" width="25.8" height="351.0" fill="#14acd6" stroke="#0c3d50" stroke-width="1.2"/>
<circle cx="868.2" cy="1560.5" r="1.9" fill="#000"/>
<circle cx="871.8" cy="1560.5" r="1.9" fill="#000"/>
<circle cx="875.3" cy="1560.5" r="1.9" fill="#000"/>
<circle cx="878.9" cy="1560.5" r="1.9" fill="#000"/>
<circle cx="882.5" cy="1560.5" r="1.9" fill="#000"/>
<circle cx="886.1" cy="1560.5" r="1.9" fill="#000"/>
<circle cx="889.6" cy="1560.5" r="1.9" fill="#000"/>
<rect x="902.5" y="1663.5" width="25.8" height="248.0" fill="#fca03e" stroke="#5a3814" stroke-width="1.2"/>
<line x1="915.4" y1="1709.0" x2="915.4" y2="1618.4" stroke="#000" stroke-width="1.6"/>
<line x1="910.4" y1="1709.0" x2="920.4" y2="1709.0" stroke="#000" stroke-width="1.6"/>
<line x1="910.4" y1="1618.4" x2="920.4" y2="1618.4" stroke="#000" stroke-width="1.6"/>
<circle cx="915.4" cy="1604.0" r="2.3" fill="#000"/>
<circle cx="915.4" cy="1637.0" r="2.3" fill="#000"/>
<circle cx="915.4" cy="1641.6" r="2.3" fill="#000"/>
<circle cx="915.4" cy="1649.0" r="2.3" fill="#000"/>
<circle cx="915.4" cy="1671.4" r="2.3" fill="#000"/>
<circle cx="915.4" cy="1713.2" r="2.3" fill="#000"/>
<circle cx="915.4" cy="1731.1" r="2.3" fill="#000"/>
<rect x="970.7" y="1560.5" width="25.8" height="351.0" fill="#14acd6" stroke="#0c3d50" stroke-width="1.2"/>
<circle cx="972.9" cy="1560.5" r="1.9" fill="#000"/>
<circle cx="976.5" cy="1560.5" r="1.9" fill="#000"/>
<circle cx="980.0" cy="1560.5" r="1.9" fill="#000"/>
<circle cx="983.6" cy="1560.5" r="1.9" fill="#000"/>
<circle cx="987.2" cy="1560.5" r="1.9" fill="#000"/>
<circle cx="990.8" cy="1560.5" r="1.9" fill="#000"/>
<circle cx="994.3" cy="1560.5" r="1.9" fill="#000"/>
<rect x="1007.2" y="1706.7" width="25.8" height="204.8" fill="#fca03e" stroke="#5a3814" stroke-width="1.2"/>
<line x1="1020.1" y1="1772.2" x2="1020.1" y2="1641.6" stroke="#000" stroke-width="1.6"/>
<line x1="1015.1" y1="1772.2" x2="1025.1" y2="1772.2" stroke="#000" stroke-width="1.6"/>
<line x1="1015.1" y1="1641.6" x2="1025.1" y2="1641.6" stroke="#000" stroke-width="1.6"/>
<circle cx="1020.1" cy="1603.0" r="2.3" fill="#000"/>
<circle cx="1020.1" cy="1653.5" r="2.3" fill="#000"/>
<circle cx="1020.1" cy="1702.0" r="2.3" fill="#000"/>
<circle cx="1020.1" cy="1707.6" r="2.3" fill="#000"/>
<circle cx="1020.1" cy="1720.9" r="2.3" fill="#000"/>
<circle cx="1020.1" cy="1762.7" r="2.3" fill="#000"/>
<circle cx="1020.1" cy="1800.2" r="2.3" fill="#000"/>
<rect x="1075.4" y="1560.5" width="25.8" height="351.0" fill="#14acd6" stroke="#0c3d50" stroke-width="1.2"/>
<circle cx="1077.6" cy="1560.5" r="1.9" fill="#000"/>
<circle cx="1081.2" cy="1560.5" r="1.9" fill="#000"/>
<circle cx="1084.7" cy="1560.5" r="1.9" fill="#000"/>
<circle cx="1088.3" cy="1560.5" r="1.9" fill="#000"/>
<circle cx="1091.9" cy="1560.5" r="1.9" fill="#000"/>
<circle cx="1095.5" cy="1560.5" r="1.9" fill="#000"/>
<circle cx="1099.0" cy="1560.5" r="1.9" fill="#000"/>
<rect x="1111.9" y="1712.1" width="25.8" height="199.4" fill="#fca03e" stroke="#5a3814" stroke-width="1.2"/>
<line x1="1124.8" y1="1781.3" x2="1124.8" y2="1641.9" stroke="#000" stroke-width="1.6"/>
<line x1="1119.8" y1="1781.3" x2="1129.8" y2="1781.3" stroke="#000" stroke-width="1.6"/>
<line x1="1119.8" y1="1641.9" x2="1129.8" y2="1641.9" stroke="#000" stroke-width="1.6"/>
<circle cx="1124.8" cy="1624.7" r="2.3" fill="#000"/>
<circle cx="1124.8" cy="1654.9" r="2.3" fill="#000"/>
<circle cx="1124.8" cy="1660.2" r="2.3" fill="#000"/>
<circle cx="1121.3" cy="1727.6" r="2.3" fill="#000"/>
<circle cx="1128.3" cy="1727.6" r="2.3" fill="#000"/>
<circle cx="1124.8" cy="1763.0" r="2.3" fill="#000"/>
<circle cx="1124.8" cy="1824.5" r="2.3" fill="#000"/>
<line x1="643.6" y1="1560.0" x2="643.6" y2="1913.0" stroke="#000" stroke-width="3"/>
<line x1="634.1" y1="1911.5" x2="643.6" y2="1911.5" stroke="#000" stroke-width="3"/>
<text x="631.1" y="1918.8" class="a b" font-size="20.5" text-anchor="end">0.0</text>
<line x1="634.1" y1="1841.3" x2="643.6" y2="1841.3" stroke="#000" stroke-width="3"/>
<text x="631.1" y="1848.6" class="a b" font-size="20.5" text-anchor="end">0.2</text>
<line x1="634.1" y1="1771.1" x2="643.6" y2="1771.1" stroke="#000" stroke-width="3"/>
<text x="631.1" y="1778.4" class="a b" font-size="20.5" text-anchor="end">0.4</text>
<line x1="634.1" y1="1700.9" x2="643.6" y2="1700.9" stroke="#000" stroke-width="3"/>
<text x="631.1" y="1708.2" class="a b" font-size="20.5" text-anchor="end">0.6</text>
<line x1="634.1" y1="1630.7" x2="643.6" y2="1630.7" stroke="#000" stroke-width="3"/>
<text x="631.1" y="1638.0" class="a b" font-size="20.5" text-anchor="end">0.8</text>
<line x1="634.1" y1="1560.5" x2="643.6" y2="1560.5" stroke="#000" stroke-width="3"/>
<text x="631.1" y="1567.8" class="a b" font-size="20.5" text-anchor="end">1.0</text>
<line x1="637.6" y1="1897.5" x2="643.6" y2="1897.5" stroke="#000" stroke-width="3"/>
<line x1="637.6" y1="1883.4" x2="643.6" y2="1883.4" stroke="#000" stroke-width="3"/>
<line x1="637.6" y1="1869.4" x2="643.6" y2="1869.4" stroke="#000" stroke-width="3"/>
<line x1="637.6" y1="1855.3" x2="643.6" y2="1855.3" stroke="#000" stroke-width="3"/>
<line x1="637.6" y1="1827.3" x2="643.6" y2="1827.3" stroke="#000" stroke-width="3"/>
<line x1="637.6" y1="1813.2" x2="643.6" y2="1813.2" stroke="#000" stroke-width="3"/>
<line x1="637.6" y1="1799.2" x2="643.6" y2="1799.2" stroke="#000" stroke-width="3"/>
<line x1="637.6" y1="1785.1" x2="643.6" y2="1785.1" stroke="#000" stroke-width="3"/>
<line x1="637.6" y1="1757.1" x2="643.6" y2="1757.1" stroke="#000" stroke-width="3"/>
<line x1="637.6" y1="1743.0" x2="643.6" y2="1743.0" stroke="#000" stroke-width="3"/>
<line x1="637.6" y1="1729.0" x2="643.6" y2="1729.0" stroke="#000" stroke-width="3"/>
<line x1="637.6" y1="1714.9" x2="643.6" y2="1714.9" stroke="#000" stroke-width="3"/>
<line x1="637.6" y1="1686.9" x2="643.6" y2="1686.9" stroke="#000" stroke-width="3"/>
<line x1="637.6" y1="1672.8" x2="643.6" y2="1672.8" stroke="#000" stroke-width="3"/>
<line x1="637.6" y1="1658.8" x2="643.6" y2="1658.8" stroke="#000" stroke-width="3"/>
<line x1="637.6" y1="1644.7" x2="643.6" y2="1644.7" stroke="#000" stroke-width="3"/>
<line x1="637.6" y1="1616.7" x2="643.6" y2="1616.7" stroke="#000" stroke-width="3"/>
<line x1="637.6" y1="1602.6" x2="643.6" y2="1602.6" stroke="#000" stroke-width="3"/>
<line x1="637.6" y1="1588.6" x2="643.6" y2="1588.6" stroke="#000" stroke-width="3"/>
<line x1="637.6" y1="1574.5" x2="643.6" y2="1574.5" stroke="#000" stroke-width="3"/>
<line x1="641.9" y1="1911.5" x2="1152.0" y2="1911.5" stroke="#000" stroke-width="3.4"/>
<line x1="669.5" y1="1911.5" x2="669.5" y2="1916.2" stroke="#000" stroke-width="2.5"/>
<line x1="774.2" y1="1911.5" x2="774.2" y2="1916.2" stroke="#000" stroke-width="2.5"/>
<line x1="878.9" y1="1911.5" x2="878.9" y2="1916.2" stroke="#000" stroke-width="2.5"/>
<line x1="983.6" y1="1911.5" x2="983.6" y2="1916.2" stroke="#000" stroke-width="2.5"/>
<line x1="1088.3" y1="1911.5" x2="1088.3" y2="1916.2" stroke="#000" stroke-width="2.5"/>
<line x1="706.0" y1="1911.5" x2="706.0" y2="1916.2" stroke="#000" stroke-width="2.5"/>
<line x1="810.7" y1="1911.5" x2="810.7" y2="1916.2" stroke="#000" stroke-width="2.5"/>
<line x1="915.4" y1="1911.5" x2="915.4" y2="1916.2" stroke="#000" stroke-width="2.5"/>
<line x1="1020.1" y1="1911.5" x2="1020.1" y2="1916.2" stroke="#000" stroke-width="2.5"/>
<line x1="1124.8" y1="1911.5" x2="1124.8" y2="1916.2" stroke="#000" stroke-width="2.5"/>
<line x1="663.8" y1="1541.5" x2="724.5" y2="1541.5" stroke="#000" stroke-width="3"/>
<text x="694.0" y="1533.8" class="a" font-size="20.0" text-anchor="middle">&lt;0.0001</text>
<line x1="765.8" y1="1541.5" x2="822.2" y2="1541.5" stroke="#000" stroke-width="3"/>
<text x="794.0" y="1533.8" class="a" font-size="20.0" text-anchor="middle">0.0006</text>
<line x1="868.0" y1="1541.5" x2="923.5" y2="1541.5" stroke="#000" stroke-width="3"/>
<text x="894.5" y="1533.8" class="a" font-size="20.0" text-anchor="middle">0.0009</text>
<line x1="976.0" y1="1541.5" x2="1031.9" y2="1541.5" stroke="#000" stroke-width="3"/>
<text x="1003.3" y="1533.8" class="a" font-size="20.0" text-anchor="middle">0.001</text>
<line x1="1080.8" y1="1541.5" x2="1136.7" y2="1541.5" stroke="#000" stroke-width="3"/>
<text x="1109.4" y="1533.8" class="a" font-size="20.0" text-anchor="middle">0.0012</text>
<text class="a" font-size="24.5" text-anchor="middle" transform="translate(547.4,1729.4) rotate(-90)">Relative <tspan font-weight="bold">Activating Receptor</tspan></text>
<text class="a" font-size="24.5" text-anchor="middle" transform="translate(575.5,1731.9) rotate(-90)">MFI to control without IL-35</text>
<text x="705.8" y="1929.5" class="c" font-size="33.0" text-anchor="end" transform="rotate(-45 705.8 1929.5)">NKp30</text>
<text x="812.5" y="1929.5" class="c" font-size="33.0" text-anchor="end" transform="rotate(-45 812.5 1929.5)">NKp44</text>
<text x="921.8" y="1929.5" class="c" font-size="33.0" text-anchor="end" transform="rotate(-45 921.8 1929.5)">NKp46</text>
<text x="1039.7" y="1929.5" class="c" font-size="33.0" text-anchor="end" transform="rotate(-45 1039.7 1929.5)">DNAM1</text>
<text x="1140.0" y="1929.5" class="c" font-size="33.0" text-anchor="end" transform="rotate(-45 1140.0 1929.5)">NKG2D</text>
<rect x="1141.0" y="1647.6" width="18.6" height="19.8" fill="#14acd6" stroke="#222" stroke-width="1.5"/>
<rect x="1141.0" y="1680.6" width="18.6" height="19.8" fill="#fca03e" stroke="#222" stroke-width="1.5"/>
<text x="1179.5" y="1666.5" class="c" font-size="27.3">IL-2</text>
<text x="1179.5" y="1699.0" class="c" font-size="27.3">IL-2+IL 35</text>
<text x="89.3" y="1571.0" class="c" font-size="32.0" text-anchor="middle">NKp30</text>
<text x="267.0" y="1571.0" class="c" font-size="32.0" text-anchor="middle">NKp44</text>
<text x="440.5" y="1571.0" class="c" font-size="32.0" text-anchor="middle">NKp46</text>
<text x="183.8" y="1795.0" class="c" font-size="32.0" text-anchor="middle">DNAM1</text>
<text x="357.3" y="1795.0" class="c" font-size="32.0" text-anchor="middle">NKG2D</text>
<polygon points="8.0,1690.5 42.9,1690.5 48.2,1688.6 54.6,1685.4 60.0,1682.1 66.4,1680.0 72.9,1677.3 77.1,1673.0 80.4,1675.7 84.6,1672.0 88.9,1665.0 92.1,1657.5 95.4,1656.4 98.6,1650.0 101.8,1637.1 103.9,1633.9 107.1,1617.9 111.4,1601.8 114.6,1601.8 121.1,1612.5 125.4,1633.9 128.6,1655.4 131.8,1674.6 136.1,1686.4 140.4,1690.2 170.4,1690.5 170.4,1690.5 8.0,1690.5" fill="#00ced1" fill-opacity="0.376"/>
<polyline points="8.0,1690.5 42.9,1690.5 48.2,1688.6 54.6,1685.4 60.0,1682.1 66.4,1680.0 72.9,1677.3 77.1,1673.0 80.4,1675.7 84.6,1672.0 88.9,1665.0 92.1,1657.5 95.4,1656.4 98.6,1650.0 101.8,1637.1 103.9,1633.9 107.1,1617.9 111.4,1601.8 114.6,1601.8 121.1,1612.5 125.4,1633.9 128.6,1655.4 131.8,1674.6 136.1,1686.4 140.4,1690.2 170.4,1690.5" fill="none" stroke="#12ccd0" stroke-width="2.2" stroke-linejoin="round"/>
<polygon points="8.0,1743.8 33.2,1743.8 36.4,1738.9 39.6,1725.0 41.8,1698.2 43.9,1671.4 46.1,1656.4 49.3,1644.6 50.4,1647.9 53.6,1666.1 56.8,1686.4 58.9,1697.1 62.1,1703.6 65.4,1711.1 69.6,1714.3 73.9,1717.5 77.1,1722.9 82.5,1725.0 90.0,1728.2 94.3,1731.4 99.6,1736.8 103.9,1737.9 112.5,1742.1 117.9,1743.8 170.4,1743.8 170.4,1743.8 8.0,1743.8" fill="#f77f14" fill-opacity="0.43"/>
<rect x="9.4" y="1582.0" width="160.1" height="159.3" fill="none" stroke="#111" stroke-width="1.3"/>
<line x1="9.4" y1="1582.0" x2="169.5" y2="1582.0" stroke="#666" stroke-width="1.4"/>
<polyline points="8.0,1743.8 33.2,1743.8 36.4,1738.9 39.6,1725.0 41.8,1698.2 43.9,1671.4 46.1,1656.4 49.3,1644.6 50.4,1647.9 53.6,1666.1 56.8,1686.4 58.9,1697.1 62.1,1703.6 65.4,1711.1 69.6,1714.3 73.9,1717.5 77.1,1722.9 82.5,1725.0 90.0,1728.2 94.3,1731.4 99.6,1736.8 103.9,1737.9 112.5,1742.1 117.9,1743.8 170.4,1743.8" fill="none" stroke="#f77f14" stroke-width="2.4" stroke-linejoin="round"/>
<path d="M12.6,1741.3v4 M20.6,1741.3v2.5 M25.4,1741.3v2.5 M31.8,1741.3v2.5 M38.2,1741.3v2.5 M41.4,1741.3v4 M43.0,1741.3v2.5 M44.6,1741.3v2.5 M46.2,1741.3v2.5 M47.8,1741.3v2.5 M49.4,1741.3v4 M57.4,1741.3v2.5 M62.2,1741.3v2.5 M68.6,1741.3v2.5 M73.4,1741.3v2.5 M75.0,1741.3v4 M76.6,1741.3v2.5 M78.2,1741.3v2.5 M89.5,1741.3v2.5 M97.5,1741.3v2.5 M105.5,1741.3v4 M110.3,1741.3v2.5 M113.5,1741.3v2.5 M116.7,1741.3v2.5 M118.3,1741.3v2.5 M119.9,1741.3v4 M131.1,1741.3v2.5 M137.5,1741.3v2.5 M145.5,1741.3v2.5 M150.3,1741.3v2.5 M153.5,1741.3v4 M155.1,1741.3v2.5 M156.7,1741.3v2.5 M166.3,1741.3v2.5" stroke="#000" stroke-width="0.9"/>
<polygon points="181.4,1690.5 198.6,1690.5 203.9,1686.4 207.1,1676.8 209.3,1662.9 211.4,1644.6 214.6,1643.6 217.9,1653.2 220.0,1659.6 223.2,1663.9 225.4,1671.4 229.6,1669.8 233.9,1673.6 237.1,1671.4 241.4,1666.1 245.7,1659.6 250.0,1652.1 252.1,1648.9 254.8,1647.9 257.5,1631.8 260.7,1633.4 263.9,1620.0 267.1,1613.6 269.3,1597.5 272.5,1610.4 275.7,1595.4 278.4,1603.9 280.5,1595.9 283.2,1599.1 287.5,1607.1 289.6,1622.1 292.9,1630.7 294.5,1639.3 297.1,1660.7 300.4,1673.6 304.6,1687.5 308.9,1690.5 343.8,1690.5 343.8,1690.5 181.4,1690.5" fill="#00ced1" fill-opacity="0.376"/>
<polyline points="181.4,1690.5 198.6,1690.5 203.9,1686.4 207.1,1676.8 209.3,1662.9 211.4,1644.6 214.6,1643.6 217.9,1653.2 220.0,1659.6 223.2,1663.9 225.4,1671.4 229.6,1669.8 233.9,1673.6 237.1,1671.4 241.4,1666.1 245.7,1659.6 250.0,1652.1 252.1,1648.9 254.8,1647.9 257.5,1631.8 260.7,1633.4 263.9,1620.0 267.1,1613.6 269.3,1597.5 272.5,1610.4 275.7,1595.4 278.4,1603.9 280.5,1595.9 283.2,1599.1 287.5,1607.1 289.6,1622.1 292.9,1630.7 294.5,1639.3 297.1,1660.7 300.4,1673.6 304.6,1687.5 308.9,1690.5 343.8,1690.5" fill="none" stroke="#12ccd0" stroke-width="2.2" stroke-linejoin="round"/>
<polygon points="181.4,1743.8 203.4,1743.8 206.1,1735.7 208.2,1714.3 209.8,1682.1 211.4,1644.6 214.6,1652.1 217.9,1668.2 219.5,1692.9 222.1,1699.3 225.4,1707.9 229.6,1715.4 235.0,1713.8 239.3,1712.7 248.9,1712.7 251.1,1708.9 254.3,1712.7 258.6,1711.6 262.3,1713.8 267.1,1705.7 270.4,1710.0 272.5,1708.9 275.7,1713.2 280.0,1716.4 286.4,1717.5 289.6,1724.5 293.9,1727.1 297.1,1734.6 301.4,1740.0 305.7,1743.8 343.8,1743.8 343.8,1743.8 181.4,1743.8" fill="#f77f14" fill-opacity="0.43"/>
<rect x="183.0" y="1582.0" width="159.7" height="159.3" fill="none" stroke="#111" stroke-width="1.3"/>
<line x1="183.0" y1="1582.0" x2="342.7" y2="1582.0" stroke="#666" stroke-width="1.4"/>
<polyline points="181.4,1743.8 203.4,1743.8 206.1,1735.7 208.2,1714.3 209.8,1682.1 211.4,1644.6 214.6,1652.1 217.9,1668.2 219.5,1692.9 222.1,1699.3 225.4,1707.9 229.6,1715.4 235.0,1713.8 239.3,1712.7 248.9,1712.7 251.1,1708.9 254.3,1712.7 258.6,1711.6 262.3,1713.8 267.1,1705.7 270.4,1710.0 272.5,1708.9 275.7,1713.2 280.0,1716.4 286.4,1717.5 289.6,1724.5 293.9,1727.1 297.1,1734.6 301.4,1740.0 305.7,1743.8 343.8,1743.8" fill="none" stroke="#f77f14" stroke-width="2.4" stroke-linejoin="round"/>
<path d="M186.2,1741.3v4 M194.2,1741.3v2.5 M199.0,1741.3v2.5 M205.4,1741.3v2.5 M211.7,1741.3v2.5 M214.9,1741.3v4 M216.5,1741.3v2.5 M218.1,1741.3v2.5 M219.7,1741.3v2.5 M221.3,1741.3v2.5 M222.9,1741.3v4 M230.9,1741.3v2.5 M235.7,1741.3v2.5 M242.1,1741.3v2.5 M246.9,1741.3v2.5 M248.5,1741.3v4 M250.1,1741.3v2.5 M251.7,1741.3v2.5 M262.9,1741.3v2.5 M270.8,1741.3v2.5 M278.8,1741.3v4 M283.6,1741.3v2.5 M286.8,1741.3v2.5 M290.0,1741.3v2.5 M291.6,1741.3v2.5 M293.2,1741.3v4 M304.4,1741.3v2.5 M310.8,1741.3v2.5 M318.7,1741.3v2.5 M323.5,1741.3v2.5 M326.7,1741.3v4 M328.3,1741.3v2.5 M329.9,1741.3v2.5 M339.5,1741.3v2.5" stroke="#000" stroke-width="0.9"/>
<polygon points="355.4,1690.5 398.2,1690.5 407.9,1689.1 414.3,1686.4 418.6,1681.1 422.9,1673.6 427.1,1662.9 431.4,1650.0 433.0,1644.6 435.7,1643.6 437.3,1632.9 441.1,1627.5 443.2,1623.2 444.8,1609.3 447.5,1609.3 449.6,1595.9 451.8,1599.6 452.9,1611.4 454.5,1615.7 457.1,1621.1 458.2,1628.6 460.4,1643.6 463.6,1662.9 466.8,1677.9 470.0,1686.4 474.3,1690.2 517.1,1690.5 517.1,1690.5 355.4,1690.5" fill="#00ced1" fill-opacity="0.376"/>
<polyline points="355.4,1690.5 398.2,1690.5 407.9,1689.1 414.3,1686.4 418.6,1681.1 422.9,1673.6 427.1,1662.9 431.4,1650.0 433.0,1644.6 435.7,1643.6 437.3,1632.9 441.1,1627.5 443.2,1623.2 444.8,1609.3 447.5,1609.3 449.6,1595.9 451.8,1599.6 452.9,1611.4 454.5,1615.7 457.1,1621.1 458.2,1628.6 460.4,1643.6 463.6,1662.9 466.8,1677.9 470.0,1686.4 474.3,1690.2 517.1,1690.5" fill="none" stroke="#12ccd0" stroke-width="2.2" stroke-linejoin="round"/>
<polygon points="355.4,1743.8 403.6,1743.8 407.9,1740.0 412.1,1732.5 415.4,1714.3 418.6,1692.9 420.7,1677.9 423.9,1660.7 427.1,1650.0 430.4,1646.2 432.5,1648.9 435.2,1645.7 436.8,1658.6 438.9,1653.2 442.1,1660.7 444.3,1675.7 447.5,1683.2 449.6,1690.7 452.9,1696.1 456.1,1712.1 459.3,1725.0 463.6,1736.8 467.9,1742.1 471.1,1743.8 517.1,1743.8 517.1,1743.8 355.4,1743.8" fill="#f77f14" fill-opacity="0.43"/>
<rect x="356.4" y="1582.0" width="160.2" height="159.3" fill="none" stroke="#111" stroke-width="1.3"/>
<line x1="356.4" y1="1582.0" x2="516.6" y2="1582.0" stroke="#666" stroke-width="1.4"/>
<polyline points="355.4,1743.8 403.6,1743.8 407.9,1740.0 412.1,1732.5 415.4,1714.3 418.6,1692.9 420.7,1677.9 423.9,1660.7 427.1,1650.0 430.4,1646.2 432.5,1648.9 435.2,1645.7 436.8,1658.6 438.9,1653.2 442.1,1660.7 444.3,1675.7 447.5,1683.2 449.6,1690.7 452.9,1696.1 456.1,1712.1 459.3,1725.0 463.6,1736.8 467.9,1742.1 471.1,1743.8 517.1,1743.8" fill="none" stroke="#f77f14" stroke-width="2.4" stroke-linejoin="round"/>
<path d="M359.6,1741.3v4 M367.6,1741.3v2.5 M372.4,1741.3v2.5 M378.8,1741.3v2.5 M385.2,1741.3v2.5 M388.4,1741.3v4 M390.0,1741.3v2.5 M391.6,1741.3v2.5 M393.2,1741.3v2.5 M394.8,1741.3v2.5 M396.4,1741.3v4 M404.5,1741.3v2.5 M409.3,1741.3v2.5 M415.7,1741.3v2.5 M420.5,1741.3v2.5 M422.1,1741.3v4 M423.7,1741.3v2.5 M425.3,1741.3v2.5 M436.5,1741.3v2.5 M444.5,1741.3v2.5 M452.5,1741.3v4 M457.3,1741.3v2.5 M460.5,1741.3v2.5 M463.7,1741.3v2.5 M465.3,1741.3v2.5 M466.9,1741.3v4 M478.2,1741.3v2.5 M484.6,1741.3v2.5 M492.6,1741.3v2.5 M497.4,1741.3v2.5 M500.6,1741.3v4 M502.2,1741.3v2.5 M503.8,1741.3v2.5 M513.4,1741.3v2.5" stroke="#000" stroke-width="0.9"/>
<polygon points="99.8,1910.2 128.2,1910.2 133.6,1908.6 137.9,1903.2 142.1,1898.9 147.5,1896.8 151.8,1898.4 158.2,1895.2 162.5,1893.0 165.7,1886.1 168.9,1870.0 172.1,1863.6 174.3,1855.0 176.4,1837.9 179.6,1821.8 182.9,1814.3 186.1,1817.5 188.2,1813.2 190.4,1823.9 193.6,1841.1 195.7,1859.3 198.9,1882.9 202.1,1896.8 205.4,1905.4 210.7,1909.1 218.2,1910.2 261.6,1910.2 261.6,1910.2 99.8,1910.2" fill="#00ced1" fill-opacity="0.376"/>
<polyline points="99.8,1910.2 128.2,1910.2 133.6,1908.6 137.9,1903.2 142.1,1898.9 147.5,1896.8 151.8,1898.4 158.2,1895.2 162.5,1893.0 165.7,1886.1 168.9,1870.0 172.1,1863.6 174.3,1855.0 176.4,1837.9 179.6,1821.8 182.9,1814.3 186.1,1817.5 188.2,1813.2 190.4,1823.9 193.6,1841.1 195.7,1859.3 198.9,1882.9 202.1,1896.8 205.4,1905.4 210.7,1909.1 218.2,1910.2 261.6,1910.2" fill="none" stroke="#12ccd0" stroke-width="2.2" stroke-linejoin="round"/>
<polygon points="99.8,1963.2 129.3,1963.2 133.6,1955.7 136.8,1934.3 138.9,1912.9 141.1,1891.4 144.3,1880.7 146.4,1867.9 148.6,1878.6 150.7,1893.6 152.9,1891.4 155.0,1897.9 157.1,1911.8 160.4,1906.4 163.6,1910.2 167.9,1912.9 170.0,1921.4 173.2,1930.0 176.4,1924.6 180.7,1934.3 185.0,1939.6 189.3,1939.1 193.6,1945.0 196.8,1949.3 202.1,1952.5 206.4,1954.6 210.7,1958.9 215.0,1962.1 219.3,1963.2 261.6,1963.2 261.6,1963.2 99.8,1963.2" fill="#f77f14" fill-opacity="0.43"/>
<rect x="101.2" y="1801.4" width="160.2" height="159.7" fill="none" stroke="#111" stroke-width="1.3"/>
<line x1="101.2" y1="1801.4" x2="261.4" y2="1801.4" stroke="#666" stroke-width="1.4"/>
<polyline points="99.8,1963.2 129.3,1963.2 133.6,1955.7 136.8,1934.3 138.9,1912.9 141.1,1891.4 144.3,1880.7 146.4,1867.9 148.6,1878.6 150.7,1893.6 152.9,1891.4 155.0,1897.9 157.1,1911.8 160.4,1906.4 163.6,1910.2 167.9,1912.9 170.0,1921.4 173.2,1930.0 176.4,1924.6 180.7,1934.3 185.0,1939.6 189.3,1939.1 193.6,1945.0 196.8,1949.3 202.1,1952.5 206.4,1954.6 210.7,1958.9 215.0,1962.1 219.3,1963.2 261.6,1963.2" fill="none" stroke="#f77f14" stroke-width="2.4" stroke-linejoin="round"/>
<path d="M104.4,1961.1v4 M112.4,1961.1v2.5 M117.2,1961.1v2.5 M123.6,1961.1v2.5 M130.0,1961.1v2.5 M133.2,1961.1v4 M134.8,1961.1v2.5 M136.4,1961.1v2.5 M138.0,1961.1v2.5 M139.6,1961.1v2.5 M141.2,1961.1v4 M149.3,1961.1v2.5 M154.1,1961.1v2.5 M160.5,1961.1v2.5 M165.3,1961.1v2.5 M166.9,1961.1v4 M168.5,1961.1v2.5 M170.1,1961.1v2.5 M181.3,1961.1v2.5 M189.3,1961.1v2.5 M197.3,1961.1v4 M202.1,1961.1v2.5 M205.3,1961.1v2.5 M208.5,1961.1v2.5 M210.1,1961.1v2.5 M211.7,1961.1v4 M223.0,1961.1v2.5 M229.4,1961.1v2.5 M237.4,1961.1v2.5 M242.2,1961.1v2.5 M245.4,1961.1v4 M247.0,1961.1v2.5 M248.6,1961.1v2.5 M258.2,1961.1v2.5" stroke="#000" stroke-width="0.9"/>
<polygon points="274.3,1910.2 327.9,1910.2 334.3,1907.5 340.7,1904.3 345.0,1902.1 350.4,1898.9 354.6,1892.5 357.9,1888.2 362.1,1882.9 364.3,1875.4 367.5,1866.8 369.6,1859.3 371.8,1847.5 375.0,1840.0 377.1,1833.6 379.3,1826.1 382.5,1815.4 384.1,1812.1 385.7,1818.6 387.9,1817.5 388.9,1831.4 391.1,1835.7 393.2,1848.6 396.4,1861.4 399.6,1876.4 402.9,1889.3 406.1,1901.1 411.4,1907.5 420.0,1909.9 427.5,1909.6 436.6,1909.4 436.6,1910.2 274.3,1910.2" fill="#00ced1" fill-opacity="0.376"/>
<polyline points="274.3,1910.2 327.9,1910.2 334.3,1907.5 340.7,1904.3 345.0,1902.1 350.4,1898.9 354.6,1892.5 357.9,1888.2 362.1,1882.9 364.3,1875.4 367.5,1866.8 369.6,1859.3 371.8,1847.5 375.0,1840.0 377.1,1833.6 379.3,1826.1 382.5,1815.4 384.1,1812.1 385.7,1818.6 387.9,1817.5 388.9,1831.4 391.1,1835.7 393.2,1848.6 396.4,1861.4 399.6,1876.4 402.9,1889.3 406.1,1901.1 411.4,1907.5 420.0,1909.9 427.5,1909.6 436.6,1909.4" fill="none" stroke="#12ccd0" stroke-width="2.2" stroke-linejoin="round"/>
<polygon points="274.3,1963.2 318.2,1963.2 322.5,1958.9 325.7,1945.0 328.9,1923.6 332.1,1902.1 334.3,1886.1 336.4,1876.4 340.7,1865.7 343.9,1876.4 346.6,1868.9 349.3,1880.7 351.4,1880.7 354.6,1891.4 356.8,1890.4 358.9,1898.9 363.2,1904.3 365.4,1915.0 369.6,1922.5 371.8,1924.6 373.9,1931.1 377.1,1933.2 381.4,1940.7 384.6,1947.1 388.9,1951.4 393.2,1956.8 398.6,1960.0 402.9,1963.2 436.6,1963.2 436.6,1963.2 274.3,1963.2" fill="#f77f14" fill-opacity="0.43"/>
<rect x="276.2" y="1801.4" width="159.9" height="159.7" fill="none" stroke="#111" stroke-width="1.3"/>
<line x1="276.2" y1="1801.4" x2="436.1" y2="1801.4" stroke="#666" stroke-width="1.4"/>
<polyline points="274.3,1963.2 318.2,1963.2 322.5,1958.9 325.7,1945.0 328.9,1923.6 332.1,1902.1 334.3,1886.1 336.4,1876.4 340.7,1865.7 343.9,1876.4 346.6,1868.9 349.3,1880.7 351.4,1880.7 354.6,1891.4 356.8,1890.4 358.9,1898.9 363.2,1904.3 365.4,1915.0 369.6,1922.5 371.8,1924.6 373.9,1931.1 377.1,1933.2 381.4,1940.7 384.6,1947.1 388.9,1951.4 393.2,1956.8 398.6,1960.0 402.9,1963.2 436.6,1963.2" fill="none" stroke="#f77f14" stroke-width="2.4" stroke-linejoin="round"/>
<path d="M279.4,1961.1v4 M287.4,1961.1v2.5 M292.2,1961.1v2.5 M298.6,1961.1v2.5 M305.0,1961.1v2.5 M308.2,1961.1v4 M309.8,1961.1v2.5 M311.4,1961.1v2.5 M313.0,1961.1v2.5 M314.6,1961.1v2.5 M316.2,1961.1v4 M324.2,1961.1v2.5 M329.0,1961.1v2.5 M335.4,1961.1v2.5 M340.2,1961.1v2.5 M341.8,1961.1v4 M343.4,1961.1v2.5 M345.0,1961.1v2.5 M356.1,1961.1v2.5 M364.1,1961.1v2.5 M372.1,1961.1v4 M376.9,1961.1v2.5 M380.1,1961.1v2.5 M383.3,1961.1v2.5 M384.9,1961.1v2.5 M386.5,1961.1v4 M397.7,1961.1v2.5 M404.1,1961.1v2.5 M412.1,1961.1v2.5 M416.9,1961.1v2.5 M420.1,1961.1v4 M421.7,1961.1v2.5 M423.3,1961.1v2.5 M432.9,1961.1v2.5" stroke="#000" stroke-width="0.9"/>
<text x="1270.4" y="1536.8" class="c b" font-size="32.0">f</text>
<text x="1477.0" y="1548.3" class="c" font-size="32.8" text-anchor="middle">Both culture</text>
<text x="1477.0" y="1587.1" class="c" font-size="32.8" text-anchor="middle">conditions merged</text>
<text x="1803.0" y="1566.5" class="c" font-size="26.3" fill="#1ba1cf">IL-2</text>
<text x="1802.0" y="1598.0" class="c" font-size="26.3" fill="#f7821f">IL-2+IL-35</text>
<path d="M1448.2,1877.2 1434.5,1877.2 1433.8,1876.6 1428.8,1876.6 1428.2,1875.9 1422.0,1875.3 1421.3,1874.7 1414.5,1873.4 1412.0,1872.2 1410.1,1872.2 1400.7,1868.4 1397.0,1865.9 1392.0,1861.0 1389.5,1856.0 1388.8,1852.2 1388.2,1851.6 1387.6,1843.5 1387.0,1842.8 1387.0,1836.6 1387.6,1836.0 1387.6,1833.5 1389.5,1829.1 1393.2,1825.3 1393.8,1825.3 1398.2,1821.0 1398.2,1820.3 1397.6,1819.7 1397.6,1818.5 1393.8,1815.9 1391.3,1815.9 1390.7,1816.6 1383.8,1818.4 1383.2,1819.1 1382.0,1819.1 1381.3,1819.7 1378.2,1819.7 1375.1,1816.6 1371.3,1810.3 1362.0,1806.6 1358.8,1802.8 1358.2,1799.7 1357.6,1799.1 1357.0,1791.0 1356.3,1790.3 1356.3,1777.2 1357.0,1776.6 1357.0,1772.2 1357.6,1771.6 1357.6,1769.1 1358.2,1768.5 1358.8,1764.1 1359.5,1763.5 1359.5,1761.0 1360.1,1760.3 1360.1,1757.2 1360.7,1756.6 1360.7,1741.0 1357.6,1737.2 1357.0,1737.2 1354.5,1734.7 1353.2,1731.6 1353.2,1727.8 1355.1,1723.5 1359.5,1718.5 1362.6,1716.6 1363.8,1716.6 1366.3,1715.3 1368.2,1714.1 1369.5,1712.2 1369.5,1710.3 1370.1,1709.7 1369.5,1709.1 1369.5,1703.5 1368.8,1702.8 1368.8,1699.1 1368.2,1698.5 1368.2,1694.1 1370.7,1688.5 1375.1,1683.5 1375.1,1682.8 1383.8,1674.7 1383.8,1674.1 1387.0,1671.0 1389.5,1667.2 1397.6,1659.1 1406.3,1654.1 1407.6,1654.1 1408.2,1653.5 1410.7,1653.5 1411.3,1652.8 1413.8,1652.8 1418.2,1651.0 1420.1,1649.1 1422.6,1644.7 1426.3,1641.0 1435.7,1636.6 1439.5,1636.0 1440.1,1635.3 1442.6,1635.3 1445.7,1634.1 1448.2,1634.1 1450.7,1632.8 1452.0,1632.8 1453.8,1631.6 1455.1,1631.6 1457.0,1630.3 1458.2,1630.3 1460.1,1629.1 1461.3,1629.1 1465.7,1627.2 1472.6,1626.0 1473.2,1625.3 1479.5,1624.7 1480.1,1624.1 1492.6,1624.1 1493.2,1624.7 1495.1,1624.7 1499.5,1626.6 1503.2,1629.1 1505.7,1631.6 1511.3,1641.0 1511.3,1642.2 1512.6,1644.1 1513.2,1647.8 1513.8,1648.5 1513.8,1650.3 1515.1,1652.2 1515.1,1653.5 1517.6,1656.0 1526.3,1657.8 1535.7,1664.1 1543.2,1671.0 1543.8,1671.0 1552.6,1680.3 1554.4,1684.1 1554.4,1686.0 1556.3,1689.7 1557.6,1691.0 1563.2,1694.1 1564.5,1694.1 1567.6,1696.0 1568.8,1696.0 1571.3,1697.2 1580.1,1704.7 1588.8,1709.1 1594.5,1712.8 1601.9,1720.3 1602.6,1721.6 1602.6,1723.5 1603.2,1724.1 1602.6,1724.7 1602.6,1729.1 1601.3,1732.2 1598.8,1736.0 1598.8,1740.3 1598.8,1742.8 1600.1,1746.0 1600.1,1747.8 1600.7,1748.5 1600.7,1750.3 1601.3,1751.0 1601.3,1752.8 1601.9,1753.5 1601.9,1767.8 1601.3,1768.5 1600.7,1774.1 1598.8,1777.8 1593.2,1784.7 1593.2,1786.6 1597.0,1789.1 1598.8,1791.0 1598.8,1791.6 1595.1,1794.7 1593.2,1794.7 1592.6,1795.3 1588.8,1795.3 1588.2,1795.9 1584.5,1795.9 1583.8,1796.6 1582.0,1796.6 1578.8,1797.8 1576.3,1800.3 1574.4,1804.1 1574.4,1805.3 1569.4,1814.1 1562.6,1821.6 1560.7,1822.2 1558.2,1824.1 1557.0,1824.1 1552.6,1825.9 1550.7,1825.9 1550.1,1826.6 1547.6,1826.6 1547.0,1827.2 1532.0,1827.2 1531.3,1826.6 1528.8,1826.6 1524.5,1824.7 1521.3,1821.6 1520.1,1819.1 1520.1,1817.8 1519.5,1817.2 1519.5,1814.1 1518.8,1813.5 1518.8,1811.0 1517.6,1808.5 1513.8,1804.7 1510.1,1802.2 1497.0,1795.3 1495.7,1795.3 1490.7,1792.8 1487.6,1792.2 1487.0,1791.6 1484.5,1791.6 1483.8,1790.9 1475.7,1790.9 1475.1,1791.6 1471.3,1791.6 1470.7,1792.2 1468.8,1792.2 1467.6,1792.8 1465.1,1796.0 1466.3,1797.8 1468.2,1797.8 1468.8,1798.5 1477.0,1798.5 1477.6,1799.1 1480.1,1799.1 1486.3,1801.6 1490.1,1805.3 1492.6,1810.3 1493.8,1815.3 1494.4,1816.0 1494.4,1817.8 1495.1,1818.5 1495.1,1822.2 1495.7,1822.8 1495.7,1829.1 1495.7,1830.3 1495.1,1831.0 1495.1,1834.1 1493.2,1837.8 1491.3,1839.7 1488.8,1843.5 1488.2,1845.3 1485.7,1848.5 1479.4,1861.0 1473.2,1867.8 1472.6,1867.8 1468.8,1870.9 1462.6,1874.1 1459.5,1874.7 1458.8,1875.3 1457.0,1875.3 1456.3,1875.9 1453.8,1875.9 1453.2,1876.6 1448.8,1876.6 1448.2,1877.2Z" fill="#0008e0" fill-rule="evenodd"/>
<path d="M1447.6,1876.2 1435.1,1876.3 1433.8,1875.7 1429.5,1875.6 1428.2,1874.9 1422.6,1874.3 1410.7,1871.3 1400.7,1867.2 1397.0,1864.8 1393.2,1860.9 1390.4,1855.3 1389.1,1851.0 1388.6,1843.5 1387.9,1842.2 1388.0,1837.2 1388.6,1836.0 1388.7,1834.1 1390.7,1829.6 1398.9,1821.6 1399.1,1820.3 1398.2,1817.9 1396.9,1816.6 1393.8,1815.0 1391.3,1815.0 1380.7,1818.8 1378.8,1818.8 1376.4,1816.6 1372.0,1809.5 1362.2,1805.3 1359.8,1802.2 1358.6,1798.5 1358.0,1791.0 1357.4,1789.7 1357.3,1777.8 1357.9,1776.6 1357.9,1772.8 1358.5,1771.6 1358.6,1769.7 1360.5,1763.5 1361.3,1757.8 1362.0,1756.6 1361.6,1741.0 1360.7,1739.1 1355.7,1734.6 1354.2,1731.0 1354.2,1728.5 1356.3,1723.5 1359.5,1719.7 1367.0,1716.1 1369.0,1714.7 1370.4,1712.8 1371.3,1709.7 1370.6,1708.5 1370.6,1703.5 1370.0,1702.2 1369.9,1699.1 1369.2,1697.8 1369.1,1694.7 1372.0,1688.6 1376.4,1682.8 1384.6,1675.3 1390.9,1667.2 1397.7,1660.3 1401.3,1657.8 1407.0,1655.0 1412.0,1653.7 1413.8,1653.8 1418.8,1651.8 1420.9,1649.7 1423.9,1644.7 1426.3,1642.3 1433.2,1638.8 1438.2,1637.1 1442.6,1636.5 1446.3,1635.2 1448.2,1635.2 1460.7,1630.1 1473.8,1626.5 1479.5,1625.7 1480.7,1625.1 1492.0,1625.0 1497.6,1626.9 1504.3,1631.6 1510.3,1641.6 1514.1,1654.1 1517.0,1657.0 1518.8,1657.7 1520.7,1657.7 1525.7,1658.8 1530.5,1661.6 1535.7,1665.5 1543.8,1672.2 1548.1,1676.6 1551.3,1680.6 1554.8,1689.1 1557.0,1691.8 1562.6,1695.0 1570.9,1698.5 1581.3,1706.9 1592.0,1712.3 1594.5,1714.2 1600.7,1720.6 1601.8,1724.1 1601.6,1728.5 1597.7,1736.0 1597.6,1741.6 1600.9,1754.1 1600.9,1767.2 1599.4,1773.5 1597.6,1777.2 1593.2,1782.8 1592.3,1784.7 1592.6,1787.2 1597.0,1790.5 1597.4,1791.6 1594.5,1793.7 1592.0,1794.3 1588.8,1794.2 1587.6,1794.8 1584.5,1794.7 1578.2,1796.8 1575.5,1799.7 1571.0,1809.7 1568.2,1814.0 1562.4,1820.3 1557.6,1823.1 1552.0,1824.9 1547.6,1825.4 1546.3,1826.0 1540.1,1826.3 1532.6,1826.3 1527.6,1825.0 1524.6,1823.5 1522.7,1821.6 1521.1,1818.5 1519.8,1811.0 1518.3,1807.8 1512.6,1802.7 1497.6,1794.5 1490.7,1791.7 1483.8,1790.0 1475.7,1790.0 1474.5,1790.6 1471.3,1790.5 1467.0,1792.0 1465.0,1794.1 1464.1,1796.0 1465.9,1798.5 1468.8,1799.2 1476.3,1799.3 1477.6,1799.9 1479.5,1799.9 1486.1,1802.8 1488.8,1805.6 1491.6,1811.0 1494.0,1819.1 1494.6,1827.8 1493.8,1833.5 1482.6,1852.2 1478.2,1860.8 1473.2,1866.6 1468.8,1869.7 1462.0,1873.1 1452.6,1875.4 1448.8,1875.5 1447.6,1876.2Z" fill="#0030ff" fill-rule="evenodd"/>
<path d="M1447.0,1875.0 1435.7,1875.2 1423.2,1873.1 1410.7,1870.2 1401.3,1866.4 1397.6,1864.0 1394.0,1860.3 1391.6,1855.3 1390.2,1850.3 1389.7,1843.5 1389.0,1841.6 1389.0,1837.8 1392.0,1830.3 1399.9,1822.2 1400.1,1819.7 1399.0,1817.2 1397.6,1815.8 1393.8,1814.0 1390.7,1813.8 1380.7,1817.5 1378.8,1817.5 1377.2,1816.0 1373.8,1809.7 1372.6,1808.5 1362.6,1804.2 1361.3,1802.2 1359.1,1794.1 1358.3,1778.5 1359.0,1776.6 1359.6,1770.3 1362.6,1758.5 1363.5,1756.6 1364.0,1752.2 1362.6,1740.3 1361.6,1738.5 1356.7,1734.1 1355.3,1729.1 1357.2,1724.1 1359.6,1721.0 1362.0,1719.3 1369.5,1715.9 1372.0,1712.8 1372.7,1709.7 1372.0,1707.8 1371.9,1702.8 1370.2,1695.3 1370.9,1692.8 1373.0,1689.1 1377.3,1683.5 1385.6,1676.0 1391.8,1667.8 1398.2,1661.3 1402.0,1658.6 1407.0,1656.1 1414.5,1654.8 1419.5,1652.9 1421.9,1650.3 1424.9,1645.3 1427.0,1643.3 1433.2,1640.0 1438.8,1638.3 1448.8,1636.5 1457.6,1632.7 1467.0,1629.5 1481.3,1626.2 1491.3,1626.1 1496.3,1627.5 1503.2,1632.3 1509.0,1641.6 1510.5,1645.3 1511.5,1651.0 1512.9,1654.7 1515.7,1657.8 1518.2,1659.1 1523.2,1659.4 1525.7,1660.2 1530.1,1662.7 1538.2,1668.8 1543.2,1673.0 1550.1,1681.0 1554.4,1691.0 1556.3,1692.8 1562.0,1696.0 1570.5,1699.7 1580.7,1708.2 1588.2,1711.3 1591.3,1713.2 1593.8,1715.1 1599.5,1721.0 1600.4,1722.8 1600.5,1727.8 1599.7,1730.3 1596.6,1735.3 1596.1,1742.8 1599.6,1754.7 1599.6,1766.6 1598.8,1770.3 1596.3,1776.7 1592.3,1782.2 1591.3,1784.7 1591.7,1787.8 1595.8,1791.6 1591.3,1793.1 1581.3,1793.9 1577.6,1795.5 1574.5,1799.1 1572.3,1804.7 1567.1,1813.5 1562.0,1819.1 1558.8,1821.0 1545.7,1824.7 1533.2,1825.2 1527.6,1823.8 1525.1,1822.5 1523.6,1821.0 1521.5,1816.0 1520.7,1810.0 1519.4,1807.2 1515.2,1802.8 1498.2,1793.4 1491.3,1790.6 1483.8,1788.9 1471.3,1789.3 1466.3,1790.8 1463.9,1793.5 1463.1,1795.3 1463.2,1796.6 1465.1,1799.1 1468.8,1800.0 1475.7,1800.1 1479.5,1800.9 1485.7,1804.0 1487.6,1806.0 1490.4,1811.0 1492.2,1817.2 1493.5,1824.1 1493.3,1829.1 1492.4,1832.8 1486.2,1844.7 1481.4,1852.2 1477.1,1860.3 1472.6,1865.7 1468.2,1868.8 1462.0,1871.7 1447.0,1875.0Z" fill="#0060ff" fill-rule="evenodd"/>
<path d="M1447.0,1873.5 1435.7,1873.9 1434.5,1873.3 1430.7,1873.0 1428.8,1872.3 1411.3,1869.2 1402.0,1865.5 1398.2,1863.1 1394.9,1859.7 1392.4,1854.7 1391.2,1850.3 1390.2,1837.8 1393.2,1830.9 1401.2,1822.8 1401.4,1819.7 1400.1,1816.7 1398.2,1814.8 1393.8,1812.8 1390.1,1812.7 1379.5,1816.6 1378.2,1815.3 1373.8,1807.8 1363.8,1803.3 1362.5,1801.6 1360.4,1794.1 1359.5,1779.1 1360.2,1777.2 1360.8,1770.3 1362.8,1762.2 1365.7,1754.7 1366.0,1752.2 1364.4,1746.0 1363.5,1739.7 1362.4,1737.8 1357.8,1733.5 1356.6,1729.1 1358.1,1724.7 1360.4,1721.6 1370.7,1716.6 1373.6,1713.5 1374.3,1709.7 1373.3,1707.2 1373.2,1702.8 1371.3,1695.3 1373.8,1689.9 1378.3,1684.1 1384.5,1679.1 1392.9,1668.5 1400.7,1660.9 1407.6,1657.0 1415.1,1656.0 1420.1,1654.1 1422.6,1651.6 1426.1,1646.0 1427.6,1644.5 1433.8,1640.9 1437.0,1639.9 1449.5,1637.7 1461.3,1632.6 1481.3,1627.3 1491.3,1627.2 1495.7,1628.5 1501.8,1632.8 1503.8,1635.4 1509.3,1645.3 1510.3,1651.6 1511.6,1655.3 1515.1,1659.2 1517.6,1660.5 1525.1,1661.2 1529.5,1663.6 1537.6,1669.7 1546.2,1677.8 1549.3,1682.2 1553.4,1691.6 1555.2,1693.5 1562.0,1697.3 1569.5,1700.5 1572.0,1702.2 1580.1,1709.6 1587.2,1712.2 1590.7,1714.2 1593.2,1716.1 1598.3,1721.6 1599.0,1722.8 1599.4,1727.8 1598.2,1730.8 1595.2,1735.3 1594.4,1742.8 1595.8,1749.1 1598.2,1755.3 1598.1,1766.0 1595.2,1776.0 1590.2,1784.1 1590.5,1787.8 1593.5,1791.0 1591.3,1792.0 1581.3,1792.4 1576.9,1794.1 1573.4,1798.5 1571.4,1804.1 1568.7,1809.1 1565.9,1812.8 1561.3,1817.5 1557.0,1820.0 1543.8,1823.6 1533.2,1824.0 1530.1,1823.5 1525.7,1821.6 1524.5,1820.2 1522.6,1816.0 1521.9,1809.7 1520.5,1806.6 1518.2,1803.9 1515.8,1801.6 1498.2,1791.9 1492.0,1789.4 1484.5,1787.8 1470.7,1788.1 1465.4,1789.7 1463.1,1792.2 1461.8,1795.3 1462.2,1797.2 1463.5,1799.1 1465.1,1800.2 1468.2,1800.8 1475.7,1801.0 1478.8,1801.7 1482.6,1803.4 1486.5,1806.6 1490.1,1813.5 1492.1,1824.1 1492.0,1828.5 1489.4,1836.0 1485.3,1844.1 1474.9,1861.6 1472.1,1864.7 1467.6,1867.8 1461.3,1870.5 1453.2,1871.8 1447.0,1873.5Z" fill="#0090ff" fill-rule="evenodd"/>
<path d="M1446.3,1872.3 1436.3,1872.5 1411.3,1868.0 1402.6,1864.6 1398.7,1862.2 1395.7,1859.1 1392.8,1852.2 1391.3,1838.5 1392.2,1835.3 1394.3,1831.6 1402.4,1823.5 1402.7,1819.7 1400.7,1815.5 1398.8,1813.7 1394.5,1811.6 1390.1,1811.2 1380.1,1815.1 1379.4,1814.7 1376.0,1807.8 1374.7,1806.6 1370.7,1804.4 1364.9,1802.2 1363.8,1800.8 1361.7,1793.5 1360.8,1779.7 1361.7,1777.2 1361.9,1771.0 1363.7,1762.8 1367.1,1755.3 1367.7,1751.6 1364.8,1739.7 1363.2,1737.0 1358.8,1732.6 1357.8,1729.7 1359.1,1725.3 1361.3,1722.2 1371.3,1717.7 1375.3,1714.1 1375.9,1710.3 1374.7,1707.2 1374.4,1702.2 1372.6,1696.0 1373.2,1693.5 1374.6,1691.0 1379.4,1684.7 1385.1,1680.5 1391.2,1672.2 1399.5,1663.6 1403.2,1660.5 1408.2,1658.2 1415.1,1657.3 1420.7,1655.3 1423.8,1652.2 1427.4,1646.6 1433.8,1642.0 1437.0,1641.0 1443.2,1640.3 1451.7,1638.5 1465.7,1632.7 1482.0,1628.5 1490.7,1628.3 1495.7,1630.0 1500.7,1633.7 1503.0,1636.6 1507.8,1645.3 1509.1,1652.2 1510.5,1656.0 1514.2,1660.3 1517.6,1662.1 1524.5,1662.4 1528.8,1664.6 1538.2,1671.9 1545.0,1678.5 1548.1,1682.8 1552.2,1692.2 1554.5,1694.4 1570.8,1702.8 1579.5,1711.1 1582.0,1712.3 1586.3,1713.4 1590.1,1715.3 1592.6,1717.2 1597.1,1722.2 1597.8,1723.5 1598.2,1727.2 1597.7,1729.1 1594.0,1734.7 1591.3,1742.3 1590.7,1742.7 1588.8,1742.1 1587.6,1740.5 1585.7,1739.4 1582.6,1739.2 1580.7,1739.9 1578.5,1741.6 1577.2,1743.5 1576.6,1745.3 1577.0,1747.2 1578.8,1749.4 1582.0,1751.8 1584.5,1752.6 1587.6,1751.1 1590.7,1745.6 1592.0,1745.6 1596.7,1755.3 1597.0,1759.7 1596.6,1766.0 1594.0,1775.3 1589.2,1783.5 1589.0,1787.2 1590.7,1790.8 1583.2,1790.7 1578.2,1791.7 1575.9,1792.8 1572.7,1797.2 1570.3,1804.1 1568.5,1807.2 1562.6,1814.1 1560.1,1816.2 1556.3,1818.3 1548.8,1820.1 1542.0,1822.6 1530.7,1822.4 1526.3,1820.7 1524.2,1817.2 1523.3,1809.7 1521.8,1806.0 1518.8,1802.2 1517.0,1800.6 1506.7,1794.7 1495.7,1789.4 1488.8,1787.0 1484.5,1786.5 1470.7,1786.8 1467.0,1787.5 1464.5,1788.8 1462.0,1791.5 1460.8,1794.1 1460.5,1796.0 1461.1,1797.8 1462.5,1799.7 1464.5,1801.0 1468.2,1801.7 1475.7,1801.8 1478.8,1802.7 1484.5,1806.1 1487.8,1811.0 1488.9,1814.1 1490.8,1824.7 1490.5,1828.5 1488.2,1835.3 1484.1,1843.5 1473.8,1860.9 1471.6,1863.5 1467.0,1866.7 1462.0,1868.8 1448.8,1871.3 1446.3,1872.3ZM1487.2,1674.1 1488.7,1672.2 1488.7,1669.7 1487.6,1667.2 1485.7,1665.5 1483.2,1664.6 1481.3,1664.7 1478.9,1666.0 1477.2,1667.8 1476.5,1671.0 1477.8,1672.8 1483.8,1674.5 1487.2,1674.1ZM1502.7,1668.5 1502.0,1667.1 1500.9,1667.8 1501.3,1668.9 1502.7,1668.5ZM1454.5,1697.8 1457.8,1694.1 1458.9,1689.7 1458.2,1685.6 1457.0,1682.8 1455.7,1681.5 1453.8,1681.1 1452.0,1682.0 1450.1,1684.4 1446.9,1690.3 1446.3,1693.5 1447.6,1695.9 1450.1,1697.7 1452.6,1698.4 1454.5,1697.8ZM1421.1,1692.8 1423.8,1692.2 1425.7,1691.0 1427.0,1687.8 1426.6,1686.0 1425.7,1684.9 1421.3,1683.5 1419.5,1683.7 1418.0,1684.7 1416.6,1688.5 1417.6,1691.6 1419.5,1692.7 1421.1,1692.8ZM1531.6,1699.1 1533.9,1698.5 1535.7,1697.2 1536.3,1696.0 1536.0,1694.1 1534.6,1692.2 1532.0,1690.4 1529.5,1689.7 1527.6,1690.0 1526.2,1691.0 1524.9,1692.8 1524.5,1694.7 1524.9,1696.6 1527.6,1698.6 1531.6,1699.1ZM1547.7,1721.6 1551.3,1719.8 1552.6,1717.2 1552.0,1715.3 1550.8,1714.1 1547.6,1713.0 1543.8,1714.7 1542.6,1716.0 1541.9,1717.8 1542.6,1719.6 1543.8,1720.7 1545.7,1721.5 1547.7,1721.6ZM1397.2,1717.8 1398.1,1717.2 1398.5,1716.0 1397.6,1714.3 1396.3,1714.0 1395.1,1714.9 1394.6,1716.6 1395.6,1717.8 1397.2,1717.8ZM1426.4,1742.2 1427.0,1741.0 1426.3,1739.4 1425.1,1738.9 1423.8,1739.5 1423.3,1741.0 1423.8,1742.2 1425.1,1742.8 1426.4,1742.2ZM1407.8,1765.3 1409.5,1764.2 1410.2,1762.2 1410.3,1758.5 1409.7,1756.6 1408.2,1755.4 1405.7,1754.7 1402.6,1754.4 1400.7,1754.9 1399.8,1756.0 1399.6,1757.8 1400.1,1760.5 1401.2,1762.8 1404.5,1765.2 1407.8,1765.3ZM1378.3,1786.0 1380.3,1784.7 1381.9,1782.2 1381.7,1780.3 1380.2,1778.5 1378.2,1777.5 1376.3,1777.6 1373.5,1778.5 1371.7,1779.7 1371.0,1781.6 1372.3,1784.1 1375.1,1786.0 1378.3,1786.0ZM1417.3,1806.6 1424.7,1804.1 1426.8,1802.2 1426.9,1800.3 1424.4,1798.5 1419.5,1797.6 1414.5,1798.3 1410.4,1800.3 1409.5,1802.8 1411.1,1805.3 1413.8,1806.6 1417.3,1806.6ZM1436.4,1847.2 1439.2,1844.7 1440.1,1841.6 1439.0,1836.0 1438.2,1834.7 1437.0,1834.1 1435.1,1834.7 1433.2,1836.8 1431.8,1839.7 1431.2,1842.8 1431.5,1845.3 1432.6,1846.9 1434.5,1847.6 1436.4,1847.2Z" fill="#00c0ff" fill-rule="evenodd"/>
<path d="M1445.7,1871.0 1437.0,1870.9 1410.1,1866.7 1403.2,1863.8 1398.8,1861.0 1396.4,1858.5 1394.3,1854.1 1393.2,1849.7 1392.4,1838.5 1393.5,1835.3 1395.3,1832.2 1403.6,1824.1 1404.2,1822.2 1403.8,1819.1 1402.3,1815.3 1400.1,1812.9 1394.5,1810.3 1390.1,1809.8 1380.7,1813.4 1377.4,1807.2 1376.3,1806.0 1371.3,1802.9 1366.0,1801.0 1365.1,1799.7 1363.2,1793.5 1362.5,1787.8 1362.4,1780.3 1363.3,1777.2 1363.0,1771.0 1364.8,1762.8 1368.4,1755.3 1369.0,1751.0 1366.2,1739.7 1364.4,1736.6 1359.7,1731.6 1359.1,1729.7 1360.2,1726.0 1362.0,1723.2 1364.5,1721.5 1372.7,1718.5 1375.7,1715.9 1376.9,1714.1 1377.3,1710.3 1375.8,1706.6 1375.6,1702.2 1373.9,1696.0 1375.7,1691.4 1380.4,1685.3 1385.1,1682.5 1386.8,1681.0 1392.2,1672.8 1404.1,1661.6 1408.2,1659.5 1415.7,1658.5 1422.0,1656.0 1424.5,1653.5 1429.1,1646.6 1434.5,1642.6 1437.6,1641.7 1443.2,1641.5 1453.8,1639.3 1466.3,1634.0 1482.0,1629.7 1490.7,1629.5 1495.1,1631.0 1499.6,1634.7 1501.6,1637.2 1505.1,1642.4 1506.7,1646.0 1507.9,1652.2 1509.4,1656.6 1513.2,1661.2 1517.0,1663.5 1524.5,1663.7 1528.2,1665.6 1534.2,1671.0 1537.6,1673.0 1543.8,1679.2 1546.9,1683.5 1551.0,1692.8 1553.6,1695.3 1570.6,1704.1 1578.2,1712.4 1582.0,1714.6 1585.7,1715.0 1589.5,1716.4 1592.0,1718.2 1596.3,1723.2 1596.9,1727.2 1596.4,1729.1 1590.6,1737.8 1588.8,1739.0 1585.1,1737.4 1580.7,1738.0 1577.0,1741.0 1575.2,1743.5 1574.6,1745.3 1575.5,1747.8 1581.1,1754.1 1582.2,1759.1 1583.8,1761.0 1586.3,1761.0 1588.0,1759.7 1590.1,1751.6 1590.7,1750.8 1592.0,1751.6 1595.0,1756.0 1595.2,1757.2 1595.3,1761.6 1594.5,1769.1 1592.9,1774.7 1587.9,1782.8 1587.6,1786.6 1588.2,1789.1 1587.6,1789.7 1580.7,1789.6 1574.8,1791.6 1571.9,1796.0 1568.5,1805.3 1567.0,1807.8 1563.8,1811.0 1555.7,1816.9 1548.2,1818.5 1543.8,1820.6 1540.7,1821.4 1530.7,1821.3 1527.0,1819.9 1525.6,1817.8 1524.8,1815.3 1524.4,1808.5 1523.0,1804.7 1520.7,1801.8 1518.2,1799.6 1511.3,1796.1 1507.6,1793.5 1496.3,1788.4 1488.8,1785.7 1484.5,1785.3 1478.8,1785.8 1470.1,1785.6 1467.0,1786.3 1463.8,1787.8 1461.0,1791.0 1459.6,1794.1 1459.2,1796.6 1459.8,1798.5 1461.3,1800.4 1463.8,1801.9 1468.2,1802.5 1475.1,1802.6 1480.1,1804.3 1483.8,1807.1 1486.8,1811.6 1487.7,1814.1 1489.2,1825.3 1489.0,1827.8 1487.0,1834.6 1480.1,1848.0 1472.6,1860.3 1470.7,1862.4 1465.7,1865.8 1460.7,1867.7 1448.2,1870.1 1445.7,1871.0ZM1487.5,1676.0 1489.7,1674.1 1490.3,1671.6 1489.4,1667.8 1487.6,1665.3 1485.1,1663.9 1482.0,1663.4 1479.5,1664.2 1477.1,1666.0 1475.7,1667.8 1474.7,1670.3 1474.9,1672.2 1475.7,1673.3 1477.6,1674.4 1483.8,1676.1 1487.5,1676.0ZM1503.3,1670.3 1504.4,1668.5 1503.9,1666.6 1502.0,1665.5 1500.3,1666.0 1499.3,1667.8 1499.6,1669.7 1501.3,1670.9 1503.3,1670.3ZM1454.2,1700.3 1456.3,1698.6 1458.8,1695.0 1459.9,1692.2 1460.1,1689.7 1459.3,1684.7 1458.2,1681.6 1456.3,1679.6 1453.2,1678.8 1451.3,1679.5 1449.3,1682.2 1445.0,1691.6 1444.4,1694.1 1445.9,1696.6 1450.1,1699.9 1452.0,1700.7 1454.2,1700.3ZM1422.2,1694.1 1425.4,1692.8 1427.4,1691.0 1428.3,1688.5 1428.2,1686.0 1427.0,1684.2 1425.1,1683.2 1421.3,1682.3 1418.8,1682.3 1417.0,1683.5 1415.9,1685.3 1415.2,1688.5 1415.3,1691.0 1416.3,1692.8 1417.6,1693.7 1419.5,1694.3 1422.2,1694.1ZM1533.4,1700.3 1537.0,1699.2 1538.7,1697.8 1539.4,1696.0 1538.8,1694.1 1536.1,1691.6 1532.0,1689.1 1529.5,1688.5 1527.0,1689.1 1525.1,1690.7 1523.8,1692.8 1523.3,1695.3 1523.7,1697.8 1525.1,1699.1 1527.6,1700.0 1533.4,1700.3ZM1398.5,1720.3 1401.2,1718.5 1401.6,1715.3 1399.5,1711.4 1397.6,1710.4 1396.3,1710.3 1394.5,1711.6 1393.2,1713.5 1392.3,1717.8 1393.2,1719.6 1394.5,1720.3 1398.5,1720.3ZM1547.6,1722.8 1550.1,1722.0 1552.5,1720.3 1553.5,1719.1 1554.0,1717.2 1553.4,1715.3 1551.3,1713.0 1548.8,1711.5 1547.0,1711.2 1545.1,1711.9 1542.1,1714.1 1540.6,1716.0 1540.0,1717.8 1540.6,1719.7 1542.6,1721.6 1545.1,1722.7 1547.6,1722.8ZM1426.7,1743.5 1428.0,1741.6 1427.7,1739.1 1425.7,1737.7 1423.8,1737.9 1422.3,1739.7 1422.4,1742.2 1424.5,1743.9 1426.7,1743.5ZM1408.2,1767.2 1410.7,1766.3 1411.8,1764.7 1412.3,1757.8 1411.6,1755.3 1410.1,1754.1 1408.2,1753.5 1402.0,1752.6 1399.5,1752.9 1398.3,1754.1 1398.0,1756.0 1398.5,1760.3 1399.5,1762.9 1400.8,1764.7 1403.2,1766.3 1408.2,1767.2ZM1556.8,1778.5 1559.3,1776.0 1561.0,1771.6 1561.1,1769.1 1559.5,1767.5 1557.6,1767.8 1555.1,1769.6 1553.1,1772.2 1551.9,1775.3 1551.9,1777.2 1552.9,1778.5 1554.5,1779.0 1556.8,1778.5ZM1379.6,1787.8 1382.9,1786.0 1386.1,1782.8 1386.4,1780.3 1385.0,1778.5 1381.3,1775.8 1378.2,1775.1 1373.2,1776.3 1369.7,1778.5 1368.7,1780.3 1368.6,1782.2 1370.2,1785.3 1372.6,1787.2 1375.1,1788.3 1379.6,1787.8ZM1417.5,1807.8 1423.8,1806.1 1427.9,1804.1 1429.8,1802.2 1430.0,1801.0 1429.5,1799.7 1428.1,1798.5 1425.7,1797.5 1418.8,1796.6 1411.7,1797.8 1408.7,1799.1 1407.2,1800.3 1407.0,1801.6 1407.5,1803.5 1409.9,1806.6 1413.2,1807.9 1417.5,1807.8ZM1436.5,1848.5 1440.3,1845.3 1441.6,1841.6 1440.7,1833.1 1439.5,1831.2 1438.2,1830.8 1435.7,1831.5 1432.9,1834.1 1430.7,1837.8 1429.6,1842.2 1429.9,1846.0 1431.3,1848.1 1433.8,1849.0 1436.5,1848.5Z" fill="#00f0ff" fill-rule="evenodd"/>
<path d="M1445.1,1869.7 1431.3,1868.9 1410.1,1865.7 1403.8,1863.1 1399.5,1860.3 1397.1,1857.8 1395.2,1854.1 1394.2,1849.7 1393.5,1839.1 1394.5,1835.9 1396.2,1832.8 1404.8,1824.7 1405.4,1822.2 1405.1,1819.1 1403.2,1814.1 1400.1,1811.2 1395.1,1809.2 1390.7,1808.5 1381.3,1811.5 1377.6,1805.2 1371.3,1800.9 1366.8,1799.1 1364.5,1792.8 1364.0,1787.8 1364.8,1779.7 1365.6,1777.8 1364.6,1774.7 1364.3,1771.0 1365.9,1762.8 1369.7,1754.7 1370.0,1749.1 1369.3,1744.7 1367.6,1739.7 1365.1,1735.3 1360.9,1731.0 1360.4,1729.7 1360.7,1728.5 1362.7,1724.1 1364.2,1722.8 1373.8,1719.2 1377.9,1714.7 1378.5,1710.3 1377.0,1706.6 1376.7,1702.2 1375.2,1696.0 1376.9,1691.6 1381.3,1686.0 1387.7,1682.2 1390.4,1677.2 1393.2,1673.5 1405.1,1662.7 1408.8,1660.7 1416.3,1659.6 1422.6,1657.0 1425.8,1654.1 1429.9,1647.2 1434.5,1643.4 1437.6,1642.5 1443.8,1642.6 1448.2,1641.3 1454.5,1640.6 1468.2,1634.8 1482.6,1630.8 1490.7,1630.9 1494.5,1632.2 1498.8,1635.9 1502.9,1641.6 1505.5,1646.6 1508.2,1656.6 1512.6,1662.3 1517.6,1665.3 1520.1,1665.5 1523.8,1665.0 1527.3,1666.6 1533.2,1672.0 1537.5,1674.7 1542.6,1680.0 1545.7,1684.3 1547.3,1689.1 1550.8,1694.7 1553.8,1696.9 1562.0,1700.6 1570.1,1705.2 1575.5,1712.2 1579.7,1716.0 1579.4,1717.8 1580.1,1718.6 1581.3,1718.5 1582.0,1717.1 1588.2,1717.4 1591.3,1719.3 1595.1,1723.5 1595.7,1726.6 1595.3,1728.5 1589.5,1736.1 1588.8,1736.6 1583.8,1735.5 1578.8,1737.0 1573.8,1742.2 1572.3,1745.3 1573.2,1747.8 1579.1,1754.1 1580.9,1761.0 1582.6,1763.0 1586.3,1763.5 1589.5,1762.4 1591.0,1760.3 1592.1,1756.6 1593.1,1760.3 1593.5,1764.7 1592.8,1771.6 1590.4,1776.6 1586.1,1782.8 1585.9,1788.5 1583.2,1787.9 1580.1,1788.3 1575.1,1789.7 1573.2,1790.9 1570.9,1795.3 1568.4,1803.5 1566.3,1806.9 1564.5,1808.7 1555.1,1815.8 1547.0,1817.4 1543.2,1819.4 1540.1,1820.3 1530.7,1820.2 1527.6,1819.0 1526.0,1815.3 1526.0,1808.5 1523.2,1802.0 1519.3,1798.5 1512.6,1795.2 1507.8,1792.2 1493.2,1785.9 1488.2,1784.4 1470.1,1784.5 1466.3,1785.3 1463.8,1786.6 1460.7,1789.7 1458.7,1793.5 1458.0,1796.6 1458.6,1799.1 1460.1,1801.0 1463.2,1802.8 1475.1,1803.3 1478.2,1804.3 1483.1,1807.8 1486.0,1812.8 1486.8,1816.6 1487.6,1825.3 1486.6,1831.6 1478.8,1847.8 1470.0,1861.0 1465.1,1864.4 1460.1,1866.4 1445.1,1869.7ZM1486.5,1678.5 1489.5,1677.0 1491.7,1674.1 1491.8,1671.6 1490.5,1667.2 1488.7,1664.7 1485.7,1662.8 1482.6,1661.9 1479.5,1662.5 1476.3,1664.7 1474.3,1667.2 1473.0,1670.3 1473.2,1672.8 1474.0,1674.1 1475.9,1675.3 1484.5,1678.3 1486.5,1678.5ZM1502.8,1672.2 1505.0,1670.3 1505.5,1667.2 1503.8,1665.0 1500.7,1664.5 1499.3,1665.3 1498.4,1666.6 1498.2,1669.9 1498.8,1671.2 1500.1,1672.2 1502.8,1672.2ZM1449.2,1670.3 1448.8,1668.9 1448.2,1669.2 1448.1,1670.3 1448.8,1670.9 1449.2,1670.3ZM1454.1,1703.5 1456.3,1701.6 1459.8,1696.6 1461.2,1693.5 1461.4,1690.3 1460.2,1682.8 1458.8,1679.3 1456.3,1677.4 1451.3,1676.1 1449.5,1677.7 1446.5,1683.5 1444.6,1689.1 1441.0,1694.7 1440.7,1696.0 1450.1,1703.2 1452.0,1703.8 1454.1,1703.5ZM1420.7,1696.0 1425.7,1694.2 1428.2,1692.4 1429.4,1689.7 1429.5,1685.3 1428.8,1683.8 1427.0,1682.6 1420.1,1680.6 1417.0,1680.3 1415.7,1681.2 1414.8,1683.5 1413.4,1691.6 1414.3,1693.5 1416.0,1694.7 1418.8,1695.9 1420.7,1696.0ZM1537.2,1701.6 1540.1,1700.8 1541.5,1699.1 1542.8,1695.3 1541.9,1692.8 1531.3,1687.6 1528.2,1687.5 1525.7,1688.8 1523.5,1691.6 1522.2,1694.7 1521.7,1697.8 1522.6,1700.1 1524.5,1701.0 1530.7,1702.1 1537.2,1701.6ZM1399.0,1722.2 1401.3,1721.2 1403.2,1719.1 1403.9,1716.6 1403.7,1713.5 1402.6,1710.7 1400.7,1708.6 1398.2,1707.4 1395.7,1707.4 1393.8,1708.5 1392.6,1710.7 1390.8,1716.6 1390.8,1719.7 1391.5,1721.0 1393.2,1722.1 1399.0,1722.2ZM1548.3,1724.1 1553.8,1721.0 1555.3,1719.1 1555.4,1717.2 1554.2,1714.7 1550.7,1711.1 1548.8,1709.8 1546.3,1709.3 1543.8,1710.4 1539.2,1714.7 1538.0,1716.6 1537.8,1718.5 1539.3,1721.0 1542.0,1722.8 1545.7,1724.2 1548.3,1724.1ZM1426.5,1744.7 1428.2,1743.5 1428.9,1742.2 1428.8,1739.1 1427.0,1737.0 1423.8,1736.6 1422.6,1737.3 1421.3,1739.1 1421.1,1742.2 1422.0,1743.7 1423.2,1744.6 1426.5,1744.7ZM1410.1,1769.1 1412.6,1768.4 1414.2,1766.0 1414.5,1756.6 1413.5,1754.1 1410.7,1752.3 1402.6,1750.8 1400.1,1750.6 1397.6,1751.5 1396.6,1752.8 1396.4,1754.7 1397.2,1761.6 1398.2,1764.1 1400.6,1766.6 1403.2,1768.0 1410.1,1769.1ZM1555.9,1781.0 1565.1,1776.5 1566.1,1775.3 1566.2,1771.6 1565.5,1768.5 1563.8,1766.3 1561.3,1765.0 1558.8,1764.6 1556.3,1765.8 1552.6,1770.1 1549.7,1775.3 1549.5,1777.8 1550.7,1779.8 1552.8,1781.0 1555.9,1781.0ZM1378.0,1790.3 1382.0,1789.2 1387.0,1786.8 1389.5,1784.4 1390.4,1781.6 1390.2,1779.7 1388.6,1777.2 1386.3,1775.3 1380.7,1773.5 1377.0,1773.5 1370.7,1775.6 1368.8,1776.7 1367.3,1778.5 1366.8,1782.8 1368.2,1786.1 1373.8,1790.6 1378.0,1790.3ZM1418.4,1809.1 1425.1,1807.4 1431.0,1804.1 1432.4,1802.2 1431.3,1799.1 1427.6,1796.7 1422.0,1795.8 1416.3,1795.8 1407.6,1796.9 1403.2,1796.3 1401.6,1797.2 1401.5,1798.5 1402.1,1799.7 1407.0,1806.2 1408.8,1808.0 1412.6,1809.4 1418.4,1809.1ZM1436.1,1849.7 1440.8,1846.6 1442.9,1842.8 1443.7,1828.5 1443.2,1826.0 1441.9,1824.7 1439.5,1825.2 1433.2,1830.6 1429.3,1836.6 1428.0,1840.3 1427.8,1845.3 1429.5,1848.9 1432.0,1850.2 1436.1,1849.7Z" fill="#00ffc8" fill-rule="evenodd"/>
<path d="M1446.3,1868.0 1443.8,1868.3 1432.0,1867.8 1422.0,1866.6 1416.3,1865.3 1410.7,1864.9 1404.5,1862.4 1400.1,1859.8 1397.6,1857.2 1395.8,1853.5 1395.0,1849.7 1394.5,1839.1 1397.0,1833.5 1404.8,1826.6 1406.1,1824.7 1406.6,1820.3 1404.9,1814.1 1403.7,1812.2 1401.4,1810.3 1392.6,1807.4 1389.5,1807.3 1382.0,1809.8 1379.4,1805.3 1373.8,1801.0 1373.0,1799.7 1375.7,1795.3 1377.6,1793.5 1379.5,1792.7 1385.1,1792.0 1391.3,1789.6 1392.5,1787.8 1394.2,1783.5 1397.3,1779.7 1397.5,1777.8 1396.3,1776.6 1392.5,1775.3 1390.1,1771.0 1388.8,1770.5 1384.5,1771.8 1373.8,1772.4 1366.9,1775.3 1365.7,1771.6 1365.8,1769.1 1366.8,1763.5 1370.4,1755.3 1371.3,1747.2 1369.5,1740.8 1366.7,1735.3 1364.5,1732.2 1361.9,1729.7 1363.4,1725.3 1364.8,1723.5 1368.2,1721.7 1374.5,1720.1 1377.6,1716.9 1379.0,1714.7 1379.5,1710.3 1378.0,1706.0 1376.4,1696.0 1377.4,1692.8 1379.3,1689.7 1382.1,1686.6 1387.0,1684.5 1389.3,1682.8 1390.6,1681.0 1391.6,1677.8 1393.8,1674.6 1401.0,1669.1 1405.9,1664.1 1409.5,1662.0 1418.2,1660.4 1423.8,1657.7 1427.0,1654.7 1430.6,1647.8 1432.9,1645.3 1435.1,1643.9 1438.2,1643.2 1443.8,1643.9 1448.2,1642.5 1453.2,1642.2 1463.2,1638.0 1478.8,1633.0 1482.6,1632.1 1490.1,1632.3 1493.8,1633.6 1497.6,1636.8 1502.7,1643.5 1504.3,1646.6 1506.0,1653.5 1507.6,1657.8 1511.3,1662.7 1515.6,1666.0 1516.6,1670.3 1517.6,1671.9 1519.5,1672.5 1521.7,1671.6 1522.0,1669.7 1521.3,1667.1 1523.2,1666.8 1526.3,1667.6 1532.0,1672.9 1535.7,1675.2 1539.5,1678.7 1544.5,1685.4 1545.1,1687.2 1545.1,1690.3 1543.2,1688.7 1538.2,1688.3 1532.0,1686.3 1528.8,1686.2 1526.3,1687.2 1522.9,1691.0 1519.2,1698.5 1518.8,1701.6 1519.9,1703.5 1521.3,1703.9 1527.0,1703.5 1532.0,1704.4 1541.3,1704.2 1542.6,1703.0 1545.7,1696.0 1546.3,1691.7 1548.7,1694.7 1552.0,1697.2 1562.0,1701.6 1569.6,1706.6 1573.1,1711.6 1573.2,1712.3 1571.6,1714.1 1571.6,1716.0 1577.6,1725.5 1579.5,1727.4 1583.8,1730.1 1585.1,1729.6 1585.4,1727.8 1584.4,1724.1 1585.7,1719.1 1587.6,1719.0 1590.1,1720.1 1594.0,1724.1 1594.4,1726.6 1594.0,1727.8 1589.5,1733.5 1588.8,1733.9 1584.5,1731.9 1578.2,1734.6 1570.0,1742.8 1569.1,1744.7 1569.4,1746.6 1570.2,1747.8 1575.7,1752.0 1577.6,1754.2 1578.6,1756.6 1579.7,1762.2 1580.7,1764.1 1583.8,1765.4 1591.3,1765.4 1592.0,1768.5 1591.7,1771.0 1589.2,1776.0 1584.7,1781.6 1584.0,1783.5 1583.8,1786.0 1583.2,1786.4 1577.0,1787.4 1572.6,1786.4 1571.1,1787.2 1570.5,1789.1 1571.0,1791.6 1568.5,1800.3 1567.4,1803.5 1565.1,1806.7 1554.5,1814.9 1551.3,1815.6 1547.0,1814.5 1543.8,1817.8 1539.5,1819.3 1531.3,1819.2 1527.9,1817.8 1527.1,1814.7 1527.5,1808.5 1524.7,1801.0 1525.0,1798.5 1524.5,1796.6 1522.6,1794.2 1521.3,1794.3 1520.6,1796.6 1519.5,1796.6 1513.2,1794.0 1508.8,1791.4 1503.8,1789.8 1493.2,1784.9 1488.2,1783.4 1484.5,1783.0 1469.5,1783.5 1466.3,1784.2 1463.2,1785.8 1459.6,1789.7 1457.4,1794.1 1456.8,1797.2 1457.5,1799.7 1459.5,1802.2 1462.0,1803.6 1464.5,1804.0 1475.1,1804.1 1478.2,1805.2 1482.3,1808.5 1484.6,1812.8 1485.6,1817.2 1486.1,1826.0 1485.3,1831.0 1483.4,1836.0 1477.7,1847.2 1469.0,1859.7 1463.8,1863.2 1457.6,1866.0 1446.3,1868.0ZM1487.0,1682.8 1494.1,1675.3 1495.1,1672.8 1491.0,1665.3 1489.5,1663.4 1482.6,1659.7 1478.8,1659.3 1475.7,1661.8 1473.2,1665.4 1471.0,1670.3 1471.1,1673.5 1473.7,1676.0 1481.4,1679.1 1485.1,1683.1 1486.3,1683.3 1487.0,1682.8ZM1433.7,1667.2 1434.4,1665.3 1432.8,1661.6 1430.7,1660.1 1428.6,1660.3 1427.3,1662.2 1427.4,1664.1 1431.3,1666.9 1433.7,1667.2ZM1502.8,1674.1 1504.5,1673.2 1505.9,1671.6 1506.9,1669.1 1506.9,1667.2 1506.3,1665.6 1505.1,1664.4 1503.2,1663.6 1500.7,1663.4 1498.8,1664.2 1497.4,1666.0 1496.1,1672.2 1497.0,1673.5 1498.5,1674.1 1502.8,1674.1ZM1454.9,1706.0 1457.8,1703.5 1462.0,1697.2 1463.2,1694.1 1463.2,1691.6 1460.8,1677.8 1459.5,1676.3 1455.1,1674.6 1453.5,1673.5 1452.7,1671.6 1452.1,1666.0 1450.7,1664.6 1448.8,1664.4 1446.3,1666.0 1444.1,1669.7 1444.2,1671.0 1446.5,1674.7 1446.9,1676.6 1446.3,1679.1 1444.3,1682.8 1443.2,1688.5 1440.7,1691.5 1434.7,1695.3 1433.5,1697.2 1433.1,1699.7 1434.3,1701.0 1442.6,1702.1 1450.7,1706.3 1453.2,1706.5 1454.9,1706.0ZM1421.1,1697.8 1428.2,1695.2 1430.1,1693.9 1430.8,1691.0 1430.7,1683.4 1428.8,1681.5 1421.7,1679.1 1417.6,1675.0 1413.2,1674.2 1410.7,1674.4 1410.2,1676.0 1412.0,1681.0 1412.4,1684.1 1412.0,1686.6 1410.0,1691.6 1410.2,1692.8 1411.4,1694.1 1417.6,1697.2 1421.1,1697.8ZM1399.0,1724.1 1402.6,1722.5 1404.8,1719.7 1406.2,1714.7 1405.7,1710.2 1404.2,1707.2 1402.0,1705.2 1398.2,1704.6 1393.2,1705.0 1391.6,1706.0 1390.9,1707.2 1389.0,1719.1 1389.2,1722.2 1390.1,1723.8 1391.3,1724.4 1399.0,1724.1ZM1547.3,1726.6 1556.3,1722.3 1557.6,1722.5 1560.7,1724.1 1563.2,1723.5 1565.7,1720.3 1565.7,1717.2 1564.5,1716.5 1560.7,1718.1 1558.8,1718.3 1549.5,1708.4 1546.3,1707.1 1543.4,1707.2 1540.3,1711.0 1535.9,1714.7 1535.5,1718.5 1536.6,1721.0 1538.8,1723.1 1544.5,1726.3 1547.3,1726.6ZM1425.9,1746.0 1427.6,1745.3 1429.0,1744.1 1429.9,1742.2 1430.1,1739.7 1429.4,1737.8 1428.2,1736.4 1426.3,1735.4 1423.8,1735.2 1422.0,1736.1 1420.5,1737.8 1419.8,1739.7 1419.8,1742.2 1420.5,1744.1 1421.9,1745.3 1425.9,1746.0ZM1413.2,1771.0 1415.5,1769.1 1416.8,1766.6 1416.3,1761.0 1416.8,1756.0 1415.7,1752.8 1413.2,1750.9 1406.3,1749.4 1402.0,1747.5 1400.1,1747.6 1396.3,1749.3 1394.9,1751.0 1394.7,1752.8 1395.4,1757.8 1395.4,1762.8 1396.5,1765.3 1400.1,1768.3 1403.2,1769.8 1410.1,1771.5 1413.2,1771.0ZM1556.3,1782.8 1567.0,1780.5 1569.0,1779.1 1569.7,1777.2 1569.0,1770.3 1568.1,1767.8 1564.5,1764.3 1560.1,1762.7 1557.6,1762.6 1555.7,1763.6 1546.9,1776.0 1547.4,1779.1 1550.1,1782.4 1552.6,1783.2 1556.3,1782.8ZM1525.7,1779.1 1528.2,1777.6 1529.3,1776.0 1529.1,1774.1 1527.6,1772.9 1525.7,1773.8 1523.2,1778.5 1523.8,1779.3 1525.7,1779.1ZM1538.6,1784.1 1539.8,1783.5 1540.4,1782.2 1540.1,1781.0 1539.5,1780.4 1537.6,1781.0 1536.8,1782.2 1537.0,1783.5 1538.6,1784.1ZM1367.6,1796.3 1365.9,1792.2 1366.3,1787.3 1369.2,1790.3 1369.9,1792.2 1369.5,1794.1 1367.6,1796.3ZM1416.5,1811.0 1424.5,1810.6 1429.1,1807.2 1434.6,1804.1 1435.1,1802.8 1434.1,1800.3 1431.3,1797.1 1427.6,1795.4 1411.3,1794.6 1408.2,1793.8 1403.2,1790.8 1401.3,1790.8 1400.1,1791.5 1397.9,1796.0 1397.7,1798.5 1402.6,1803.5 1405.7,1808.3 1407.6,1810.0 1410.1,1811.2 1416.5,1811.0ZM1432.9,1851.6 1436.3,1850.6 1440.3,1848.5 1443.2,1846.0 1444.7,1843.5 1444.7,1837.2 1446.3,1831.6 1446.4,1829.1 1445.4,1824.1 1443.2,1821.8 1441.3,1821.6 1438.8,1822.5 1432.6,1827.7 1426.2,1837.8 1425.3,1844.1 1426.4,1848.5 1428.8,1851.2 1432.9,1851.6ZM1462.5,1851.0 1463.8,1849.7 1464.7,1847.8 1464.7,1845.3 1463.8,1843.0 1462.0,1841.0 1459.5,1839.2 1457.6,1838.7 1456.3,1839.0 1454.3,1841.6 1454.6,1844.1 1458.8,1850.7 1460.7,1851.6 1462.5,1851.0Z" fill="#00ff80" fill-rule="evenodd"/>
<path d="M1465.1,1673.0 1458.2,1672.7 1455.7,1671.7 1454.9,1669.7 1455.2,1663.5 1453.8,1661.9 1451.3,1660.5 1449.5,1660.5 1447.0,1661.3 1442.0,1665.6 1439.7,1665.3 1435.5,1659.7 1429.3,1654.1 1431.1,1648.5 1434.5,1644.8 1437.0,1644.0 1438.8,1643.9 1444.5,1645.2 1448.2,1643.8 1450.4,1644.1 1448.2,1646.6 1445.1,1646.4 1444.0,1650.3 1443.8,1653.5 1445.1,1655.8 1452.0,1657.7 1453.8,1656.9 1455.1,1655.1 1455.7,1652.2 1455.0,1644.7 1456.1,1642.8 1458.5,1641.0 1462.0,1639.7 1468.8,1639.7 1474.1,1636.0 1482.6,1633.5 1489.5,1633.9 1492.3,1634.7 1488.2,1635.4 1486.6,1637.2 1484.6,1644.1 1484.7,1647.2 1485.5,1649.7 1487.6,1651.3 1490.7,1650.9 1492.6,1649.4 1495.1,1644.2 1497.6,1643.2 1500.7,1643.1 1503.3,1647.2 1506.2,1657.2 1508.3,1661.0 1508.2,1662.8 1507.0,1663.1 1502.0,1662.0 1499.5,1662.3 1497.6,1663.3 1494.5,1666.4 1490.7,1662.0 1486.1,1659.1 1482.7,1656.0 1479.5,1655.2 1475.7,1655.4 1469.5,1657.1 1468.5,1657.8 1470.5,1662.8 1470.4,1665.3 1467.6,1671.2 1466.3,1672.5 1465.1,1673.0ZM1415.7,1671.1 1413.6,1671.0 1411.3,1669.9 1407.2,1665.3 1410.7,1662.9 1418.2,1661.9 1422.0,1660.2 1423.0,1660.3 1419.6,1662.8 1418.5,1669.1 1417.5,1670.3 1415.7,1671.1ZM1434.5,1866.6 1424.5,1865.9 1418.2,1864.5 1408.8,1863.6 1405.1,1861.9 1399.1,1857.8 1397.5,1855.3 1396.1,1851.6 1395.5,1845.3 1395.5,1839.1 1397.8,1834.1 1407.4,1825.3 1407.9,1822.2 1407.0,1814.1 1410.7,1815.2 1415.7,1813.6 1417.6,1813.6 1419.0,1814.7 1420.2,1817.8 1421.3,1818.9 1423.8,1819.4 1430.1,1819.0 1431.4,1818.5 1432.1,1817.2 1429.5,1811.6 1430.1,1809.1 1433.8,1807.0 1442.0,1806.6 1443.2,1805.4 1443.5,1804.1 1442.6,1801.8 1437.6,1800.8 1432.6,1796.3 1429.5,1794.7 1425.7,1794.0 1415.7,1793.6 1412.9,1792.8 1411.4,1791.6 1408.8,1787.2 1407.0,1785.6 1404.5,1784.4 1401.3,1784.5 1400.5,1784.1 1404.2,1779.7 1405.6,1774.7 1410.1,1774.5 1413.2,1773.4 1416.3,1771.0 1418.9,1767.8 1419.4,1766.0 1418.8,1761.6 1419.2,1756.6 1418.2,1747.8 1419.5,1747.1 1425.1,1747.2 1427.6,1746.6 1430.1,1744.3 1431.3,1741.0 1430.9,1737.8 1429.2,1735.3 1426.3,1733.8 1422.0,1732.8 1417.6,1739.1 1417.6,1746.8 1413.8,1747.8 1410.1,1747.5 1408.2,1746.7 1407.0,1745.3 1405.7,1737.7 1400.1,1735.4 1394.5,1730.5 1394.1,1729.1 1394.8,1727.8 1401.3,1725.6 1404.5,1723.3 1408.7,1715.3 1409.1,1713.5 1408.5,1710.3 1404.7,1702.8 1404.6,1700.3 1405.8,1698.5 1407.6,1697.3 1412.0,1696.7 1415.7,1698.0 1421.4,1702.2 1418.8,1706.0 1418.1,1711.6 1416.7,1714.7 1419.7,1719.7 1416.7,1724.7 1416.7,1727.2 1418.2,1730.1 1420.7,1731.8 1422.0,1731.3 1425.7,1723.6 1429.5,1724.5 1431.3,1724.3 1432.1,1723.5 1432.4,1721.6 1431.6,1718.5 1429.5,1717.3 1426.8,1718.5 1425.1,1720.9 1423.8,1720.7 1421.6,1716.6 1421.5,1714.1 1423.2,1712.9 1427.6,1712.1 1429.5,1711.2 1433.5,1706.0 1435.7,1704.6 1438.2,1704.2 1440.7,1704.6 1453.8,1710.0 1460.7,1705.1 1462.6,1704.3 1463.8,1704.7 1467.6,1707.7 1472.0,1706.0 1473.8,1705.9 1477.0,1707.2 1482.5,1712.2 1486.3,1713.1 1487.0,1712.4 1486.9,1709.7 1487.5,1708.5 1492.0,1706.6 1492.9,1705.3 1493.0,1702.2 1491.5,1698.5 1490.1,1697.2 1487.6,1696.8 1483.2,1699.2 1481.3,1699.6 1479.5,1698.8 1476.3,1695.6 1475.1,1695.4 1473.2,1696.2 1470.1,1699.9 1468.8,1700.3 1467.0,1699.7 1466.4,1698.5 1466.2,1692.8 1463.6,1686.0 1463.8,1682.2 1464.8,1679.7 1467.0,1677.0 1468.8,1676.3 1477.5,1679.1 1479.4,1680.3 1480.4,1682.2 1480.3,1684.1 1478.6,1687.8 1478.9,1689.7 1480.1,1690.5 1482.0,1690.7 1488.8,1689.6 1491.7,1688.5 1493.2,1687.2 1493.5,1686.0 1492.9,1682.8 1493.8,1680.9 1498.2,1678.3 1503.8,1677.2 1505.7,1676.0 1509.8,1666.6 1510.7,1666.0 1512.7,1667.8 1514.3,1673.5 1515.2,1674.7 1525.1,1675.6 1533.2,1678.8 1534.1,1681.0 1533.5,1683.5 1527.6,1685.2 1525.1,1687.0 1515.8,1698.5 1515.3,1701.6 1517.6,1709.7 1518.8,1709.8 1523.2,1707.7 1525.7,1707.1 1527.6,1707.8 1531.3,1711.0 1532.4,1712.8 1534.3,1720.3 1537.2,1726.0 1538.5,1729.7 1540.6,1732.8 1542.6,1734.6 1543.8,1734.9 1545.7,1734.4 1551.3,1729.8 1553.8,1730.3 1555.6,1732.8 1557.0,1738.9 1560.7,1743.5 1567.8,1749.1 1574.5,1752.7 1576.4,1754.7 1577.8,1757.8 1578.3,1764.1 1579.0,1766.0 1580.7,1767.0 1588.7,1769.1 1589.7,1770.3 1589.9,1772.2 1588.2,1775.2 1585.1,1778.1 1582.6,1777.7 1578.2,1778.3 1575.7,1777.8 1573.8,1776.8 1572.6,1775.2 1571.4,1769.1 1569.6,1766.6 1563.2,1761.8 1557.0,1760.1 1554.5,1761.4 1548.8,1770.2 1545.1,1772.8 1542.6,1772.9 1537.6,1770.6 1532.0,1770.4 1527.0,1768.5 1525.1,1768.5 1523.8,1769.1 1521.2,1773.5 1518.2,1776.3 1516.7,1779.1 1516.4,1782.2 1518.4,1786.0 1512.6,1791.3 1510.7,1790.4 1503.8,1788.9 1491.5,1783.5 1485.1,1782.0 1469.5,1782.5 1466.3,1783.2 1463.2,1784.8 1459.5,1788.5 1456.7,1793.5 1455.7,1796.6 1456.2,1799.7 1458.2,1802.7 1461.3,1804.6 1463.8,1805.1 1474.5,1804.8 1478.2,1806.2 1481.5,1809.1 1483.5,1813.5 1484.6,1819.1 1484.1,1823.5 1482.0,1830.3 1482.6,1835.0 1476.8,1846.6 1471.3,1853.0 1470.0,1856.0 1467.6,1857.3 1465.2,1856.6 1464.5,1855.3 1464.8,1854.1 1467.8,1850.3 1468.0,1849.1 1466.3,1843.5 1464.2,1840.3 1459.5,1836.2 1457.6,1835.4 1454.5,1836.3 1449.5,1839.8 1448.2,1839.7 1447.6,1838.7 1447.6,1836.9 1449.2,1832.2 1449.3,1829.7 1448.2,1824.1 1446.2,1817.8 1449.2,1815.3 1454.9,1812.2 1454.4,1811.0 1452.0,1809.8 1449.5,1810.0 1446.9,1811.0 1444.8,1813.5 1443.7,1817.2 1438.2,1819.3 1435.1,1821.4 1429.5,1826.5 1423.6,1834.1 1422.6,1837.2 1423.2,1847.2 1425.7,1853.1 1427.6,1854.2 1436.3,1851.6 1446.3,1846.2 1448.2,1845.8 1450.7,1846.4 1453.2,1848.5 1457.8,1856.0 1457.7,1863.5 1456.0,1865.3 1450.7,1866.1 1445.5,1864.1 1440.0,1863.5 1437.6,1864.2 1434.5,1866.6ZM1436.3,1691.6 1433.8,1691.3 1432.7,1689.7 1432.9,1682.2 1432.2,1679.7 1430.7,1678.7 1426.3,1678.0 1425.0,1677.2 1424.6,1671.0 1425.7,1669.1 1428.2,1669.2 1431.3,1672.7 1432.6,1673.4 1442.0,1674.3 1443.9,1676.0 1443.8,1677.8 1441.1,1681.6 1441.7,1686.6 1441.2,1688.5 1439.3,1690.3 1436.3,1691.6ZM1527.6,1671.2 1526.2,1670.3 1527.0,1670.3 1527.6,1671.2ZM1395.7,1680.4 1392.6,1679.8 1392.6,1679.1 1395.1,1675.0 1398.2,1672.7 1398.7,1672.8 1400.1,1674.7 1400.1,1677.2 1398.2,1679.6 1395.7,1680.4ZM1536.3,1678.7 1534.5,1677.9 1534.0,1676.6 1535.4,1677.2 1536.3,1678.7ZM1505.8,1690.3 1506.7,1687.8 1505.1,1685.1 1503.8,1684.7 1502.0,1685.1 1499.2,1687.2 1499.2,1688.5 1500.7,1689.7 1503.8,1690.8 1505.8,1690.3ZM1367.6,1772.3 1367.3,1769.7 1368.0,1763.5 1371.9,1754.7 1373.3,1744.7 1372.8,1742.8 1370.7,1740.8 1368.3,1736.0 1366.8,1732.2 1367.6,1731.0 1363.6,1729.1 1364.3,1726.0 1365.4,1724.1 1368.8,1722.1 1375.0,1721.0 1380.7,1715.3 1381.5,1712.8 1381.5,1711.0 1378.9,1706.0 1377.5,1695.3 1379.9,1690.3 1382.6,1687.4 1385.1,1686.2 1387.0,1685.9 1391.3,1687.9 1393.4,1689.7 1395.1,1695.6 1397.7,1700.3 1396.3,1701.4 1390.7,1702.5 1388.5,1705.3 1388.0,1707.8 1388.8,1711.6 1388.5,1714.7 1384.7,1727.8 1383.7,1733.5 1381.5,1738.5 1382.0,1739.6 1383.2,1739.9 1389.5,1738.2 1391.3,1738.2 1392.9,1739.1 1393.7,1745.3 1392.5,1750.3 1393.9,1756.6 1393.8,1759.8 1391.3,1765.3 1385.1,1769.3 1381.3,1770.1 1371.3,1770.1 1367.6,1772.3ZM1560.7,1714.9 1558.2,1715.1 1555.7,1713.6 1553.0,1711.0 1550.1,1706.7 1546.5,1704.1 1546.0,1702.8 1546.2,1701.0 1549.3,1697.2 1554.3,1699.7 1561.3,1702.2 1568.7,1707.8 1568.8,1708.8 1567.0,1708.6 1565.7,1709.2 1560.7,1714.9ZM1503.4,1722.8 1507.3,1720.3 1508.7,1718.5 1510.0,1712.8 1509.6,1711.6 1508.2,1710.5 1506.3,1710.4 1504.5,1711.6 1501.4,1714.7 1499.5,1717.8 1499.2,1720.3 1500.1,1722.7 1501.3,1723.4 1503.4,1722.8ZM1451.3,1731.0 1453.5,1730.3 1456.6,1728.5 1466.3,1720.3 1467.5,1717.8 1467.0,1712.7 1465.7,1712.4 1463.2,1714.2 1461.3,1714.6 1455.1,1711.8 1453.2,1712.6 1448.5,1720.3 1447.3,1724.1 1447.8,1729.1 1449.5,1730.7 1451.3,1731.0ZM1514.7,1724.7 1515.3,1722.8 1514.5,1721.6 1512.6,1721.3 1511.3,1722.0 1511.3,1723.5 1512.2,1724.7 1513.8,1725.1 1514.7,1724.7ZM1591.3,1728.6 1588.8,1722.7 1588.8,1721.4 1590.7,1722.7 1593.0,1725.3 1592.7,1727.2 1591.3,1728.6ZM1568.2,1739.8 1565.7,1739.6 1563.6,1737.8 1562.3,1733.5 1562.2,1729.7 1563.0,1727.8 1565.3,1725.3 1568.8,1722.2 1570.7,1721.8 1572.6,1723.1 1573.9,1725.3 1574.7,1728.5 1574.8,1731.6 1574.0,1734.7 1572.6,1737.5 1570.7,1739.0 1568.2,1739.8ZM1438.0,1730.3 1440.2,1728.5 1440.4,1727.2 1439.8,1726.0 1437.0,1725.1 1433.7,1726.0 1433.2,1727.2 1433.9,1729.1 1435.7,1730.3 1438.0,1730.3ZM1485.2,1772.2 1486.7,1771.0 1486.9,1769.7 1485.1,1768.4 1482.6,1768.5 1481.8,1769.7 1482.0,1771.9 1483.2,1772.7 1485.2,1772.2ZM1398.2,1771.8 1397.0,1772.1 1395.7,1771.7 1395.0,1771.0 1395.1,1769.6 1397.0,1769.8 1398.1,1771.0 1398.2,1771.8ZM1539.5,1818.5 1535.1,1818.7 1531.3,1818.1 1529.5,1817.5 1528.6,1816.6 1528.8,1810.3 1529.7,1807.2 1529.0,1802.8 1529.5,1797.2 1528.5,1792.2 1529.5,1789.5 1530.7,1788.2 1532.6,1787.4 1539.5,1788.3 1542.2,1787.8 1545.7,1786.1 1548.8,1786.6 1552.6,1786.4 1560.7,1784.1 1563.2,1784.2 1565.1,1785.0 1565.8,1786.0 1567.2,1791.0 1568.9,1793.5 1567.7,1799.7 1566.6,1802.8 1565.0,1805.3 1553.8,1813.2 1552.0,1813.2 1548.2,1811.2 1546.3,1811.3 1545.1,1812.5 1542.8,1817.2 1539.5,1818.5ZM1384.5,1807.9 1382.9,1807.8 1381.3,1802.0 1378.2,1801.0 1378.0,1799.7 1378.6,1799.1 1380.1,1799.3 1382.0,1801.4 1386.3,1802.8 1388.3,1804.7 1388.6,1806.0 1387.9,1806.6 1384.5,1807.9ZM1401.3,1808.6 1392.0,1806.0 1392.1,1805.3 1394.5,1802.8 1396.3,1802.3 1398.2,1802.6 1400.1,1803.8 1401.2,1805.3 1401.8,1807.8 1401.3,1808.6ZM1414.0,1826.6 1414.7,1825.3 1413.9,1824.1 1411.8,1824.7 1412.0,1826.0 1414.0,1826.6Z" fill="#30ff30" fill-rule="evenodd"/>
<path d="M1462.6,1653.7 1460.7,1653.9 1459.5,1653.3 1457.6,1650.4 1456.6,1647.2 1456.7,1645.3 1457.8,1643.5 1459.5,1642.2 1461.3,1641.7 1465.1,1642.6 1466.9,1645.3 1466.8,1647.8 1465.9,1650.3 1464.5,1652.4 1462.6,1653.7ZM1480.7,1652.2 1476.3,1652.5 1473.8,1651.6 1473.2,1649.7 1473.1,1645.3 1473.8,1643.7 1475.1,1642.6 1477.0,1642.1 1478.2,1642.4 1480.7,1645.0 1482.2,1649.7 1482.0,1651.1 1480.7,1652.2ZM1437.6,1655.4 1435.7,1655.4 1433.8,1654.6 1432.2,1652.8 1431.2,1650.3 1432.4,1647.8 1434.5,1645.5 1438.2,1644.4 1442.0,1645.8 1442.4,1648.5 1440.7,1653.0 1437.6,1655.4ZM1463.2,1668.5 1461.3,1667.8 1461.5,1666.6 1463.4,1664.7 1465.7,1664.1 1466.6,1665.3 1466.2,1666.6 1465.1,1667.9 1463.2,1668.5ZM1515.1,1694.7 1511.3,1694.7 1509.6,1693.5 1509.1,1684.1 1509.5,1681.8 1511.4,1679.7 1516.3,1677.3 1520.1,1676.6 1523.2,1677.3 1527.1,1680.3 1527.8,1682.2 1519.5,1692.4 1517.6,1693.8 1515.1,1694.7ZM1472.6,1690.5 1471.3,1690.9 1469.5,1690.2 1467.0,1687.8 1466.2,1686.0 1466.2,1684.1 1467.0,1682.1 1468.4,1680.3 1470.1,1679.4 1474.5,1680.0 1476.1,1681.0 1476.9,1682.2 1476.3,1684.7 1473.8,1689.3 1472.6,1690.5ZM1437.0,1689.2 1435.4,1689.1 1434.5,1687.7 1434.8,1685.3 1436.3,1683.9 1438.2,1684.5 1439.1,1686.6 1438.3,1688.5 1437.0,1689.2ZM1384.5,1707.6 1382.0,1707.0 1379.7,1704.7 1378.2,1696.0 1379.0,1693.5 1380.9,1690.3 1383.5,1687.8 1385.1,1687.3 1388.5,1689.1 1390.5,1691.0 1391.4,1692.8 1391.9,1696.0 1391.1,1698.5 1384.5,1707.6ZM1500.1,1711.1 1497.6,1710.7 1495.4,1708.5 1494.1,1698.5 1494.3,1696.0 1495.2,1694.1 1497.0,1692.8 1498.8,1692.2 1501.3,1692.5 1503.6,1693.5 1505.1,1694.7 1505.8,1696.6 1506.1,1704.1 1505.7,1706.0 1503.2,1709.3 1500.1,1711.1ZM1413.2,1707.9 1412.0,1707.9 1410.7,1707.0 1407.6,1703.5 1407.4,1701.0 1409.5,1699.1 1413.2,1698.9 1415.9,1701.0 1416.2,1702.2 1415.7,1704.1 1413.2,1707.9ZM1559.5,1713.6 1557.6,1713.5 1555.7,1712.5 1553.8,1710.7 1552.4,1708.5 1551.4,1703.5 1552.1,1702.2 1554.1,1701.0 1558.8,1701.9 1561.3,1703.0 1564.0,1705.3 1564.0,1707.2 1562.8,1710.3 1561.3,1712.4 1559.5,1713.6ZM1440.1,1719.1 1438.2,1719.5 1437.0,1718.9 1434.0,1713.5 1434.1,1711.0 1435.1,1708.7 1436.3,1707.4 1438.2,1706.8 1441.3,1707.1 1445.7,1708.6 1448.2,1710.3 1449.1,1712.2 1448.5,1714.7 1447.0,1716.7 1445.1,1717.8 1440.1,1719.1ZM1376.3,1739.7 1375.1,1739.6 1370.9,1736.6 1371.0,1735.3 1374.3,1729.1 1370.1,1729.0 1367.0,1728.1 1365.5,1727.2 1365.6,1725.3 1368.8,1722.7 1373.2,1722.4 1374.1,1722.8 1374.9,1724.1 1375.7,1727.5 1377.1,1726.0 1378.7,1721.0 1382.5,1717.2 1384.5,1713.3 1385.7,1712.6 1386.2,1714.7 1382.0,1727.2 1381.3,1731.6 1376.3,1739.7ZM1453.2,1805.3 1450.1,1805.5 1448.6,1804.7 1447.7,1802.8 1447.2,1798.5 1445.1,1796.8 1442.6,1796.6 1438.2,1798.0 1432.6,1794.7 1429.1,1793.5 1418.2,1792.6 1415.1,1791.8 1413.5,1790.3 1409.2,1782.2 1409.3,1779.7 1410.4,1777.8 1415.1,1774.2 1421.7,1767.8 1422.1,1766.0 1421.4,1761.6 1421.3,1751.0 1423.2,1749.2 1428.2,1747.8 1430.9,1745.3 1432.6,1741.6 1432.7,1735.3 1433.2,1734.4 1439.5,1733.7 1443.8,1731.6 1449.5,1732.5 1457.0,1730.3 1459.5,1730.0 1462.0,1731.2 1465.7,1736.8 1467.6,1738.4 1468.8,1738.8 1470.8,1736.0 1472.6,1734.8 1477.0,1734.5 1481.3,1733.2 1488.2,1733.3 1491.3,1732.2 1492.5,1731.0 1492.6,1729.7 1491.9,1728.5 1489.5,1726.6 1487.6,1726.6 1482.6,1728.8 1480.1,1729.2 1475.1,1727.5 1471.9,1725.3 1471.7,1723.5 1472.9,1721.0 1475.7,1717.5 1478.2,1715.6 1480.1,1715.1 1482.6,1715.2 1489.5,1718.1 1493.2,1717.1 1494.5,1717.3 1495.7,1718.5 1497.9,1724.7 1499.5,1726.9 1501.3,1727.3 1507.0,1725.4 1511.3,1727.9 1514.5,1728.6 1516.3,1728.1 1517.6,1726.8 1519.6,1720.3 1520.7,1718.5 1525.1,1715.6 1528.2,1714.6 1530.1,1715.3 1531.3,1716.9 1534.7,1726.0 1535.8,1736.0 1533.3,1742.8 1533.7,1745.3 1540.1,1745.4 1545.7,1750.0 1547.6,1750.6 1548.8,1750.3 1550.2,1749.1 1550.6,1746.6 1549.9,1744.7 1547.2,1741.6 1546.8,1739.1 1549.5,1735.7 1550.7,1735.1 1552.0,1735.4 1553.8,1741.9 1556.7,1746.6 1558.4,1754.7 1552.7,1758.5 1550.0,1765.3 1547.0,1769.3 1543.8,1770.2 1538.8,1768.7 1532.6,1768.5 1525.8,1765.3 1524.2,1764.1 1523.7,1762.8 1524.5,1758.5 1524.3,1756.0 1523.2,1754.2 1522.0,1754.1 1520.4,1755.3 1519.4,1757.8 1520.3,1764.7 1517.1,1770.3 1512.9,1782.8 1510.1,1786.4 1505.7,1788.5 1493.2,1783.2 1483.5,1780.3 1482.8,1779.1 1483.3,1777.2 1490.6,1771.6 1491.4,1770.3 1491.4,1769.1 1489.5,1767.3 1485.7,1765.7 1482.6,1765.1 1480.1,1765.3 1479.0,1766.0 1478.4,1767.2 1478.2,1772.2 1476.9,1777.2 1477.0,1779.1 1477.8,1781.0 1472.0,1781.5 1469.5,1780.7 1467.6,1780.9 1461.3,1785.1 1458.2,1788.9 1455.1,1794.7 1452.5,1797.2 1452.4,1798.5 1454.5,1803.5 1454.3,1804.7 1453.2,1805.3ZM1413.8,1736.1 1410.7,1736.0 1407.6,1734.7 1404.8,1732.2 1403.7,1729.7 1404.3,1727.2 1408.8,1720.1 1410.1,1718.6 1411.3,1718.0 1413.4,1718.5 1415.1,1720.3 1415.0,1726.0 1417.2,1732.2 1416.6,1734.7 1413.8,1736.1ZM1570.1,1736.0 1568.8,1736.4 1567.0,1735.9 1565.7,1734.3 1565.2,1732.2 1565.5,1729.7 1566.3,1728.1 1567.8,1726.6 1569.5,1725.9 1571.3,1726.7 1572.1,1729.1 1571.7,1733.5 1570.1,1736.0ZM1471.4,1744.1 1472.5,1743.5 1472.6,1742.2 1472.0,1741.2 1470.1,1740.3 1469.5,1740.8 1469.5,1742.2 1470.1,1743.5 1471.4,1744.1ZM1383.2,1767.8 1377.0,1768.0 1369.3,1765.3 1369.2,1763.5 1370.0,1760.3 1372.7,1757.2 1374.2,1749.1 1377.0,1741.9 1381.3,1743.3 1387.0,1743.0 1388.8,1743.9 1389.8,1746.0 1390.3,1751.0 1392.3,1756.0 1392.2,1759.1 1390.5,1762.2 1386.9,1766.0 1383.2,1767.8ZM1574.5,1765.6 1571.3,1765.4 1567.6,1762.9 1561.8,1757.8 1560.7,1756.0 1560.9,1754.7 1563.8,1752.2 1565.7,1751.6 1570.7,1752.5 1574.5,1754.4 1576.3,1756.9 1576.9,1760.3 1576.3,1763.5 1574.5,1765.6ZM1503.0,1759.1 1502.6,1758.0 1501.7,1757.8 1501.6,1759.1 1502.6,1759.5 1503.0,1759.1ZM1578.8,1772.9 1577.4,1772.8 1576.9,1772.2 1577.2,1771.6 1579.7,1771.6 1579.9,1772.2 1578.8,1772.9ZM1538.8,1817.8 1535.1,1817.9 1531.3,1817.0 1529.7,1816.0 1529.6,1814.7 1533.5,1805.3 1534.6,1799.7 1537.6,1794.8 1539.5,1793.0 1542.0,1791.9 1550.7,1790.3 1555.7,1790.0 1560.1,1788.0 1562.0,1788.6 1567.4,1796.0 1565.9,1802.2 1564.2,1804.7 1562.0,1806.7 1558.2,1807.7 1553.8,1810.1 1552.0,1810.2 1547.6,1809.1 1545.1,1809.6 1541.3,1816.9 1538.8,1817.8ZM1474.5,1847.7 1472.0,1847.5 1470.1,1846.5 1466.8,1841.0 1462.8,1836.6 1461.8,1834.7 1459.1,1824.1 1461.1,1819.1 1461.7,1814.1 1461.4,1811.0 1459.6,1806.6 1460.1,1805.7 1463.2,1806.2 1474.5,1805.6 1477.6,1806.8 1481.3,1810.4 1481.3,1816.0 1482.0,1822.2 1479.8,1831.0 1479.8,1837.8 1478.2,1842.2 1475.7,1846.5 1474.5,1847.7ZM1436.3,1812.8 1434.4,1812.2 1433.7,1811.0 1434.0,1810.3 1435.7,1810.0 1437.7,1811.0 1437.6,1812.2 1436.3,1812.8ZM1455.1,1824.2 1453.2,1824.5 1451.6,1822.2 1451.5,1819.7 1453.2,1818.0 1455.3,1818.5 1456.9,1821.0 1456.9,1822.8 1455.1,1824.2ZM1421.3,1829.2 1420.2,1829.1 1419.9,1828.5 1420.2,1825.3 1421.5,1824.1 1423.8,1824.2 1424.5,1825.3 1424.3,1826.6 1423.2,1828.1 1421.3,1829.2ZM1425.1,1864.1 1422.6,1864.5 1418.8,1862.3 1413.2,1863.4 1409.5,1863.0 1405.1,1861.1 1400.9,1858.5 1398.9,1856.6 1397.3,1853.5 1396.4,1849.1 1396.4,1839.7 1397.6,1836.4 1403.2,1831.0 1406.3,1829.8 1409.5,1829.9 1417.6,1833.8 1420.1,1839.0 1420.9,1842.2 1421.5,1851.6 1420.4,1857.2 1421.3,1858.7 1427.6,1859.5 1432.4,1854.7 1441.3,1850.3 1445.7,1848.9 1448.2,1849.0 1450.1,1850.0 1452.7,1854.1 1453.2,1858.5 1452.6,1860.7 1451.6,1861.6 1445.7,1861.1 1440.1,1861.3 1433.2,1862.5 1428.8,1862.5 1425.1,1864.1Z" fill="#90ff00" fill-rule="evenodd"/>
<path d="M1462.6,1650.6 1460.1,1650.5 1458.1,1647.8 1458.0,1646.0 1458.5,1644.7 1460.7,1643.2 1463.2,1643.6 1464.5,1644.7 1464.9,1646.0 1464.5,1648.7 1462.6,1650.6ZM1438.2,1653.1 1436.3,1653.4 1434.5,1652.8 1432.3,1649.7 1434.7,1646.0 1438.2,1644.9 1441.0,1646.0 1441.4,1647.8 1440.6,1651.0 1438.2,1653.1ZM1517.6,1691.6 1515.1,1691.5 1513.2,1690.1 1512.3,1687.2 1512.5,1684.1 1514.1,1681.0 1516.2,1679.1 1518.8,1678.0 1521.3,1678.1 1524.5,1680.3 1525.2,1682.2 1525.1,1683.5 1521.3,1689.1 1517.6,1691.6ZM1383.8,1704.9 1382.0,1704.5 1380.7,1702.9 1379.5,1696.6 1379.7,1694.1 1380.6,1692.2 1382.0,1690.3 1383.8,1688.9 1385.7,1689.5 1387.6,1691.0 1388.8,1692.8 1389.3,1695.3 1388.8,1697.8 1386.9,1701.6 1385.1,1704.2 1383.8,1704.9ZM1500.7,1708.5 1498.8,1708.4 1497.3,1707.2 1496.3,1704.9 1495.7,1701.0 1496.3,1696.5 1497.6,1694.9 1499.5,1694.2 1501.3,1694.5 1503.1,1696.0 1504.1,1700.3 1503.8,1705.3 1502.6,1707.3 1500.7,1708.5ZM1559.5,1712.3 1558.2,1712.5 1556.3,1712.0 1554.5,1710.3 1553.4,1708.5 1553.1,1706.6 1553.5,1704.7 1556.4,1702.2 1560.6,1703.5 1562.3,1705.3 1562.1,1709.1 1561.1,1711.0 1559.5,1712.3ZM1444.5,1714.1 1442.6,1714.4 1440.1,1713.7 1438.8,1712.3 1438.9,1711.0 1439.5,1710.3 1441.3,1709.9 1444.5,1710.8 1445.5,1712.2 1445.2,1713.5 1444.5,1714.1ZM1482.0,1727.2 1480.1,1727.3 1477.6,1726.5 1476.0,1725.3 1475.1,1723.5 1475.4,1721.6 1477.1,1719.1 1479.5,1717.3 1481.3,1716.8 1483.5,1717.2 1485.6,1718.5 1487.1,1720.3 1487.8,1722.2 1487.2,1724.1 1485.9,1725.3 1482.0,1727.2ZM1440.1,1794.1 1437.0,1794.5 1428.2,1792.1 1420.1,1791.5 1417.0,1790.7 1414.8,1788.5 1412.1,1781.6 1412.5,1779.7 1413.4,1778.5 1418.2,1773.4 1423.3,1769.7 1424.6,1767.8 1424.8,1766.0 1424.1,1761.0 1424.5,1752.2 1430.8,1747.8 1433.3,1744.7 1436.7,1739.1 1454.5,1732.1 1458.8,1731.6 1460.7,1732.6 1462.4,1734.7 1467.6,1745.6 1470.1,1747.6 1472.6,1747.9 1475.1,1746.2 1478.1,1738.5 1481.0,1736.0 1483.2,1735.3 1497.6,1734.1 1501.8,1731.0 1505.7,1729.2 1514.5,1731.0 1517.0,1730.8 1518.8,1728.8 1521.7,1721.6 1523.2,1719.5 1527.6,1717.4 1530.2,1718.5 1532.5,1722.8 1533.3,1727.2 1532.9,1732.2 1530.8,1741.6 1529.5,1744.3 1527.0,1747.2 1520.1,1751.0 1516.6,1754.7 1513.7,1776.0 1511.3,1781.7 1508.9,1784.7 1506.3,1786.1 1503.8,1786.2 1489.4,1779.7 1488.0,1778.5 1487.9,1777.2 1488.7,1776.0 1494.0,1771.6 1494.9,1769.1 1494.5,1767.2 1492.6,1766.0 1483.8,1762.9 1477.0,1762.3 1474.5,1763.1 1473.0,1764.7 1473.1,1766.6 1474.6,1769.1 1475.1,1771.0 1474.5,1773.5 1472.6,1776.4 1471.3,1777.0 1467.0,1777.3 1465.1,1778.5 1458.3,1784.7 1455.9,1790.3 1453.2,1792.8 1449.5,1794.1 1443.8,1793.3 1440.1,1794.1ZM1371.3,1727.5 1368.2,1727.4 1366.4,1726.0 1368.7,1723.5 1372.6,1723.2 1373.2,1724.7 1373.0,1726.0 1371.3,1727.5ZM1413.8,1734.2 1411.3,1734.6 1408.8,1733.8 1406.9,1732.2 1406.0,1730.3 1406.0,1728.5 1406.8,1726.6 1408.8,1724.3 1410.7,1723.1 1412.6,1724.0 1415.4,1730.3 1415.3,1732.8 1413.8,1734.2ZM1383.8,1765.4 1381.3,1765.4 1378.2,1764.5 1375.7,1763.1 1374.7,1761.6 1375.1,1750.6 1376.6,1747.2 1378.8,1745.6 1383.2,1745.6 1386.0,1746.6 1390.6,1756.0 1390.7,1757.8 1389.4,1760.3 1386.3,1764.0 1383.8,1765.4ZM1545.1,1766.8 1533.8,1767.1 1531.3,1766.5 1528.3,1764.7 1526.8,1762.8 1526.4,1761.0 1526.7,1754.7 1527.6,1751.8 1537.6,1748.5 1539.5,1748.7 1541.3,1749.9 1547.6,1755.5 1548.6,1757.2 1548.6,1759.7 1547.9,1762.8 1546.7,1765.3 1545.1,1766.8ZM1505.8,1762.8 1507.1,1761.0 1506.6,1757.8 1502.6,1753.0 1501.3,1752.4 1500.7,1752.6 1499.5,1754.2 1498.2,1757.2 1497.8,1759.7 1498.2,1761.2 1499.5,1762.5 1501.3,1763.2 1503.8,1763.4 1505.8,1762.8ZM1573.2,1763.5 1570.1,1762.9 1567.1,1760.3 1565.8,1757.2 1567.0,1754.9 1568.8,1754.2 1571.3,1754.4 1574.6,1756.6 1575.5,1758.5 1575.5,1761.0 1574.5,1762.8 1573.2,1763.5ZM1538.8,1817.2 1535.1,1817.2 1533.4,1816.6 1532.4,1815.3 1532.1,1813.5 1533.0,1809.7 1536.2,1804.7 1537.1,1799.1 1540.1,1795.0 1543.8,1793.3 1551.3,1792.3 1560.7,1792.9 1562.6,1793.9 1564.7,1796.0 1566.0,1797.8 1566.0,1799.1 1563.8,1803.7 1553.8,1808.0 1547.0,1807.6 1544.5,1808.1 1543.2,1809.2 1541.3,1815.0 1538.8,1817.2ZM1473.8,1844.9 1472.0,1844.9 1470.7,1844.1 1464.6,1836.0 1463.6,1833.5 1462.3,1824.1 1463.9,1812.2 1463.4,1807.8 1465.1,1807.0 1474.5,1806.4 1477.6,1807.8 1479.6,1809.7 1479.0,1815.3 1480.2,1822.8 1478.1,1831.6 1477.8,1838.5 1476.1,1842.8 1473.8,1844.9ZM1413.8,1862.4 1409.5,1862.3 1401.3,1857.9 1399.3,1856.0 1397.5,1851.6 1396.9,1845.3 1397.6,1840.1 1403.8,1834.7 1407.0,1833.1 1410.7,1833.5 1415.1,1836.1 1417.9,1839.1 1419.3,1842.2 1419.5,1846.0 1418.8,1851.6 1415.8,1859.7 1413.8,1862.4ZM1440.1,1859.7 1434.5,1859.3 1433.3,1858.5 1433.4,1856.6 1436.1,1854.1 1442.0,1851.4 1446.3,1851.2 1448.7,1852.8 1449.6,1855.3 1448.5,1857.8 1446.3,1858.7 1440.1,1859.7Z" fill="#e8ff00" fill-rule="evenodd"/>
<path d="M1462.0,1648.5 1460.7,1648.5 1459.6,1647.2 1459.6,1646.0 1460.7,1644.9 1462.0,1644.9 1463.0,1646.0 1463.1,1647.2 1462.0,1648.5ZM1437.0,1652.2 1434.5,1651.3 1433.2,1649.1 1435.1,1646.3 1438.8,1645.5 1440.4,1646.6 1440.5,1649.1 1439.5,1651.0 1437.0,1652.2ZM1519.5,1689.3 1517.6,1689.7 1515.7,1688.7 1514.8,1687.2 1514.4,1684.7 1515.1,1682.2 1516.3,1680.5 1518.2,1679.4 1520.1,1679.1 1522.7,1680.3 1523.5,1681.6 1523.8,1683.5 1522.4,1686.6 1519.5,1689.3ZM1384.5,1702.3 1383.2,1702.6 1382.0,1701.7 1380.9,1697.8 1381.5,1693.5 1382.6,1691.8 1383.8,1691.2 1385.1,1691.5 1386.3,1692.5 1387.3,1695.3 1386.6,1699.1 1384.5,1702.3ZM1501.3,1706.1 1500.1,1706.5 1498.6,1706.0 1497.0,1702.2 1497.2,1698.5 1498.2,1696.8 1499.5,1696.1 1501.3,1696.7 1502.7,1699.7 1502.7,1703.5 1501.3,1706.1ZM1559.5,1711.1 1558.2,1711.5 1556.3,1711.0 1554.3,1708.5 1554.7,1705.3 1557.0,1703.6 1559.5,1703.9 1561.1,1706.0 1561.0,1709.1 1559.5,1711.1ZM1483.2,1725.4 1480.1,1725.9 1477.4,1724.1 1477.1,1722.8 1477.6,1721.0 1480.1,1718.7 1483.2,1718.7 1485.3,1721.0 1485.3,1723.5 1483.2,1725.4ZM1510.1,1754.8 1507.6,1754.0 1505.6,1751.6 1505.6,1746.0 1502.7,1739.1 1502.4,1736.6 1502.8,1734.7 1504.5,1733.0 1506.3,1732.4 1516.3,1733.5 1518.8,1732.9 1519.8,1731.6 1522.0,1724.7 1523.6,1721.6 1526.3,1719.6 1528.8,1719.7 1531.2,1722.8 1532.0,1727.8 1531.4,1731.6 1528.8,1736.6 1527.6,1741.6 1526.3,1742.7 1522.0,1744.1 1517.6,1749.0 1512.6,1751.1 1510.1,1754.8ZM1370.1,1726.7 1368.2,1726.4 1367.5,1726.0 1367.7,1725.3 1368.9,1724.1 1371.3,1723.7 1371.8,1724.1 1371.9,1725.3 1370.1,1726.7ZM1413.2,1733.0 1410.1,1733.2 1407.6,1731.0 1407.5,1728.5 1409.5,1726.0 1411.3,1725.8 1413.4,1727.8 1414.3,1731.0 1413.2,1733.0ZM1438.8,1792.3 1435.1,1792.3 1419.5,1789.5 1417.0,1787.2 1415.7,1782.2 1416.4,1779.1 1418.6,1775.3 1420.7,1773.5 1425.6,1771.0 1427.1,1769.1 1427.8,1766.6 1427.5,1760.3 1428.9,1753.5 1432.1,1749.1 1437.6,1743.8 1442.0,1741.1 1447.6,1740.4 1448.4,1737.2 1449.7,1735.3 1452.9,1733.5 1456.3,1732.5 1458.8,1732.8 1460.7,1734.3 1461.9,1736.6 1463.4,1742.2 1465.2,1746.0 1468.2,1749.1 1471.3,1750.7 1473.8,1750.5 1475.8,1749.1 1480.3,1739.7 1483.2,1737.2 1493.2,1736.6 1495.7,1737.5 1498.5,1739.7 1499.9,1742.8 1498.9,1749.7 1497.3,1754.7 1493.6,1762.2 1492.0,1762.8 1490.1,1762.7 1480.7,1759.5 1474.5,1759.1 1472.6,1759.5 1470.7,1761.3 1469.4,1764.1 1468.9,1766.6 1469.3,1771.0 1468.2,1772.8 1460.1,1779.7 1453.2,1782.3 1451.4,1783.5 1450.7,1785.3 1451.3,1788.5 1450.7,1789.8 1445.1,1790.5 1438.8,1792.3ZM1383.8,1762.9 1382.0,1762.8 1379.5,1761.1 1376.3,1755.7 1376.0,1752.8 1376.6,1750.3 1377.8,1748.5 1379.5,1747.5 1382.0,1747.5 1384.5,1748.6 1388.6,1756.0 1388.5,1757.8 1387.6,1759.7 1385.7,1761.9 1383.8,1762.9ZM1537.0,1765.5 1533.2,1765.6 1530.0,1764.1 1528.2,1761.6 1527.9,1758.5 1528.7,1755.3 1529.9,1754.1 1538.2,1751.7 1540.1,1752.5 1541.5,1754.1 1543.0,1756.6 1543.4,1758.5 1542.7,1761.0 1541.0,1763.5 1537.0,1765.5ZM1572.6,1761.2 1570.7,1761.1 1569.5,1760.0 1568.8,1758.5 1569.5,1757.0 1571.3,1756.6 1573.3,1757.8 1573.8,1759.7 1572.6,1761.2ZM1507.0,1783.6 1503.8,1784.0 1499.5,1782.4 1493.9,1779.1 1492.7,1777.2 1495.7,1772.9 1499.1,1766.6 1500.7,1765.8 1510.1,1764.4 1511.3,1765.3 1512.4,1767.8 1512.7,1774.1 1510.7,1779.7 1508.8,1782.3 1507.0,1783.6ZM1538.8,1816.0 1536.3,1816.3 1534.5,1815.4 1533.5,1814.1 1533.3,1812.2 1534.5,1809.3 1538.0,1806.0 1538.4,1799.7 1541.2,1796.0 1545.1,1794.3 1551.3,1793.7 1560.1,1795.5 1562.4,1797.2 1563.1,1799.7 1562.2,1801.6 1556.3,1805.5 1552.6,1806.7 1546.3,1806.3 1542.3,1807.2 1541.6,1808.5 1541.1,1813.5 1538.8,1816.0ZM1473.2,1842.3 1471.3,1841.6 1465.8,1834.7 1463.9,1825.3 1464.3,1817.8 1465.7,1811.6 1465.8,1808.5 1466.5,1807.8 1471.3,1807.0 1474.5,1807.2 1477.0,1808.5 1478.1,1809.7 1477.4,1814.7 1478.5,1821.0 1478.4,1824.1 1476.5,1832.8 1475.8,1839.1 1474.5,1841.6 1473.2,1842.3ZM1412.0,1861.6 1409.8,1861.6 1406.6,1860.3 1400.7,1856.6 1398.4,1852.8 1397.7,1849.1 1397.6,1844.5 1399.5,1841.2 1403.8,1837.7 1408.2,1836.0 1411.3,1836.4 1415.1,1838.4 1417.2,1841.0 1418.0,1843.5 1417.9,1846.6 1416.7,1851.6 1413.5,1859.7 1412.0,1861.6ZM1441.3,1857.8 1437.6,1857.7 1436.8,1857.2 1436.7,1856.0 1438.2,1854.4 1440.7,1853.3 1443.2,1853.2 1445.0,1854.1 1445.0,1856.0 1441.3,1857.8Z" fill="#ffc000" fill-rule="evenodd"/>
<path d="M1437.6,1651.1 1435.1,1650.6 1434.0,1648.5 1435.7,1646.5 1438.8,1646.1 1439.7,1647.2 1439.7,1649.1 1438.8,1650.4 1437.6,1651.1ZM1519.5,1687.9 1518.2,1688.0 1517.0,1687.4 1515.9,1684.7 1517.0,1681.6 1519.5,1680.3 1522.0,1681.4 1522.6,1683.5 1521.8,1686.0 1519.5,1687.9ZM1384.5,1699.1 1383.2,1699.4 1382.5,1697.8 1382.7,1696.0 1383.8,1694.4 1384.7,1694.7 1385.3,1696.0 1384.5,1699.1ZM1500.7,1703.6 1499.5,1703.8 1498.5,1702.2 1498.4,1700.3 1499.5,1698.6 1500.7,1699.1 1501.2,1700.3 1501.3,1702.2 1500.7,1703.6ZM1558.2,1710.4 1556.3,1709.9 1555.2,1707.8 1555.7,1705.9 1557.6,1704.9 1559.5,1705.5 1560.2,1707.2 1559.9,1709.1 1558.2,1710.4ZM1482.0,1724.2 1480.1,1724.1 1479.0,1722.8 1479.7,1721.0 1481.3,1720.1 1482.6,1720.3 1483.6,1721.6 1483.2,1723.4 1482.0,1724.2ZM1527.6,1733.6 1525.7,1734.1 1523.8,1733.6 1522.6,1732.4 1522.1,1730.3 1522.6,1727.2 1524.2,1723.5 1525.7,1721.8 1527.6,1721.3 1528.8,1721.8 1530.0,1723.5 1530.8,1727.2 1530.0,1731.0 1527.6,1733.6ZM1369.5,1725.4 1368.9,1725.3 1369.4,1724.7 1370.4,1724.7 1369.5,1725.4ZM1412.6,1731.6 1411.3,1732.1 1409.5,1731.4 1408.7,1729.7 1409.5,1727.9 1410.7,1727.4 1412.4,1728.5 1413.0,1730.3 1412.6,1731.6ZM1437.6,1791.0 1431.3,1790.5 1421.2,1787.8 1420.0,1786.6 1419.1,1784.1 1419.0,1780.3 1419.6,1777.8 1421.6,1775.3 1427.0,1773.6 1429.5,1773.3 1435.1,1774.3 1437.4,1773.5 1437.7,1772.2 1437.0,1770.5 1432.9,1767.8 1432.0,1766.5 1431.1,1757.2 1432.0,1752.8 1434.5,1749.7 1441.3,1744.8 1443.8,1744.1 1449.5,1744.4 1452.0,1743.7 1452.4,1742.8 1450.1,1738.5 1450.8,1736.0 1454.5,1733.7 1458.2,1733.6 1459.7,1734.7 1460.8,1736.6 1461.4,1742.8 1462.4,1745.3 1468.7,1754.1 1468.5,1758.5 1466.1,1770.3 1463.9,1773.5 1459.5,1777.5 1456.3,1779.0 1449.5,1780.9 1444.7,1787.8 1441.3,1790.0 1437.6,1791.0ZM1515.7,1746.1 1513.8,1746.4 1512.0,1746.0 1510.7,1745.2 1509.8,1743.5 1509.5,1741.0 1510.1,1738.5 1510.9,1737.2 1512.6,1736.2 1517.0,1736.6 1518.9,1738.5 1519.0,1740.3 1518.1,1742.8 1517.0,1745.0 1515.7,1746.1ZM1490.1,1759.2 1487.6,1759.0 1482.6,1756.9 1478.2,1755.8 1477.0,1755.2 1476.2,1754.1 1481.3,1741.6 1483.2,1739.5 1485.7,1738.4 1490.1,1738.1 1493.2,1738.7 1495.9,1741.0 1497.2,1744.1 1497.2,1749.7 1496.0,1754.1 1493.8,1757.0 1490.1,1759.2ZM1383.8,1760.4 1381.3,1759.7 1378.2,1755.3 1377.8,1752.2 1378.8,1750.3 1379.8,1749.7 1381.3,1749.6 1383.2,1750.6 1386.2,1755.3 1386.0,1758.5 1383.8,1760.4ZM1535.1,1764.2 1532.6,1763.8 1530.5,1762.2 1529.6,1760.3 1529.8,1757.8 1530.7,1756.4 1532.0,1755.7 1537.6,1755.0 1538.8,1755.8 1539.7,1757.2 1539.6,1760.3 1538.2,1762.8 1535.1,1764.2ZM1506.3,1781.7 1503.2,1781.9 1499.5,1780.5 1497.3,1778.5 1496.8,1776.0 1498.8,1771.0 1500.7,1768.4 1503.8,1767.2 1508.2,1766.9 1510.1,1767.8 1510.9,1769.1 1511.5,1774.1 1509.5,1779.0 1506.3,1781.7ZM1553.2,1805.4 1541.6,1804.7 1539.8,1802.2 1540.2,1799.1 1542.6,1796.5 1547.6,1795.0 1552.0,1794.9 1557.0,1796.6 1559.5,1798.5 1559.6,1801.0 1557.3,1803.5 1553.2,1805.4ZM1472.6,1838.5 1470.1,1837.1 1467.0,1833.5 1465.8,1829.1 1465.1,1823.5 1465.5,1817.2 1468.0,1808.5 1472.0,1807.8 1474.5,1808.0 1476.2,1809.1 1475.8,1814.1 1477.1,1822.2 1476.5,1827.2 1474.5,1835.2 1473.8,1837.2 1472.6,1838.5ZM1538.8,1814.8 1536.3,1815.1 1535.1,1814.3 1534.4,1812.8 1535.5,1809.7 1538.2,1808.3 1539.8,1809.1 1540.5,1811.0 1540.1,1813.4 1538.8,1814.8ZM1410.7,1859.1 1409.5,1859.7 1408.2,1859.5 1401.1,1856.0 1399.1,1852.8 1398.2,1848.5 1399.3,1844.7 1401.2,1842.2 1405.1,1839.5 1408.8,1838.2 1411.3,1838.4 1414.1,1839.7 1415.8,1841.6 1416.5,1844.1 1414.6,1852.2 1410.7,1859.1Z" fill="#ff7000" fill-rule="evenodd"/>
<path d="M1438.2,1649.7 1437.0,1650.2 1435.7,1649.8 1434.8,1648.5 1435.0,1647.8 1436.3,1646.8 1438.3,1646.6 1439.0,1647.8 1438.2,1649.7ZM1520.1,1686.1 1518.2,1686.2 1517.4,1684.7 1517.8,1682.8 1519.5,1681.8 1520.7,1682.2 1521.3,1683.5 1521.1,1684.7 1520.1,1686.1ZM1558.2,1708.8 1557.0,1708.6 1556.6,1707.8 1557.6,1706.5 1558.7,1707.2 1558.2,1708.8ZM1527.6,1731.1 1526.3,1731.5 1525.1,1731.2 1523.9,1729.1 1524.9,1725.3 1527.0,1723.6 1528.3,1724.1 1529.4,1726.6 1529.1,1729.1 1527.6,1731.1ZM1458.2,1742.5 1456.3,1742.6 1452.2,1739.7 1451.5,1737.2 1452.8,1735.3 1456.3,1734.1 1459.0,1735.3 1459.9,1737.2 1460.0,1739.1 1458.2,1742.5ZM1490.7,1756.1 1488.2,1756.2 1485.7,1755.5 1482.0,1753.7 1480.6,1752.2 1480.4,1749.1 1481.5,1744.7 1483.2,1742.0 1485.7,1740.3 1488.8,1739.9 1492.0,1740.5 1493.8,1742.0 1495.2,1744.7 1495.9,1749.1 1495.1,1752.8 1493.2,1755.2 1490.7,1756.1ZM1437.6,1789.8 1431.3,1789.3 1423.8,1786.7 1422.6,1785.3 1421.9,1783.5 1422.0,1779.1 1423.2,1777.5 1425.1,1776.6 1429.5,1775.9 1437.0,1775.9 1438.8,1775.3 1440.0,1774.1 1439.6,1771.0 1435.5,1766.6 1434.4,1764.1 1433.6,1756.6 1434.1,1754.7 1435.3,1752.8 1443.2,1747.5 1453.2,1746.3 1458.2,1744.8 1460.1,1746.4 1463.3,1751.0 1465.3,1755.3 1466.1,1761.6 1464.4,1769.7 1462.0,1773.0 1457.6,1776.2 1454.5,1777.5 1448.8,1778.4 1447.3,1779.1 1443.2,1786.9 1440.7,1788.9 1437.6,1789.8ZM1535.1,1761.7 1533.8,1761.7 1532.6,1760.8 1532.2,1759.7 1533.2,1758.3 1535.1,1758.0 1536.6,1759.1 1536.3,1760.8 1535.1,1761.7ZM1505.7,1779.8 1503.2,1780.0 1500.8,1779.1 1499.3,1777.2 1499.0,1775.3 1500.0,1772.2 1501.3,1770.3 1503.8,1768.8 1507.0,1768.5 1509.5,1769.8 1510.3,1773.5 1508.8,1777.3 1505.7,1779.8ZM1553.2,1804.1 1550.1,1804.3 1543.4,1803.5 1541.8,1802.2 1541.6,1799.7 1542.9,1797.8 1545.7,1796.5 1550.1,1795.9 1553.7,1796.6 1556.6,1798.5 1557.3,1800.3 1555.8,1802.8 1553.2,1804.1ZM1472.0,1834.4 1470.1,1834.2 1468.0,1831.6 1466.7,1826.6 1466.2,1821.0 1466.6,1817.2 1467.5,1814.7 1470.1,1811.2 1472.0,1809.7 1473.2,1811.2 1475.2,1818.5 1475.7,1822.2 1474.5,1830.3 1473.2,1833.2 1472.0,1834.4ZM1538.2,1813.8 1537.0,1813.9 1535.7,1812.7 1536.0,1811.0 1537.6,1809.9 1538.8,1810.4 1539.3,1811.6 1539.1,1812.8 1538.2,1813.8ZM1408.8,1856.1 1405.1,1855.9 1401.3,1854.1 1399.9,1851.6 1399.8,1848.5 1401.0,1845.3 1403.3,1842.8 1407.0,1840.8 1410.7,1840.3 1413.8,1842.0 1414.6,1843.5 1414.7,1845.3 1412.6,1852.6 1410.7,1855.0 1408.8,1856.1Z" fill="#ff1800" fill-rule="evenodd"/>
<rect x="1325.7" y="1604.7" width="297.7" height="298.1" fill="none" stroke="#111" stroke-width="1.5"/>
<text x="1312.0" y="1877.6" class="a" font-size="9.5" text-anchor="end">0</text>
<text x="1351.4" y="1925.0" class="a" font-size="9.5" text-anchor="middle">0</text>
<text x="1312.0" y="1816.1" class="a" font-size="9.5" text-anchor="end">30</text>
<text x="1411.7" y="1925.0" class="a" font-size="9.5" text-anchor="middle">30</text>
<text x="1312.0" y="1754.7" class="a" font-size="9.5" text-anchor="end">60</text>
<text x="1472.1" y="1925.0" class="a" font-size="9.5" text-anchor="middle">60</text>
<text x="1312.0" y="1693.2" class="a" font-size="9.5" text-anchor="end">90</text>
<text x="1532.4" y="1925.0" class="a" font-size="9.5" text-anchor="middle">90</text>
<text x="1312.0" y="1631.8" class="a" font-size="9.5" text-anchor="end">120</text>
<text x="1592.7" y="1925.0" class="a" font-size="9.5" text-anchor="middle">120</text>
<path d="M1318.0,1874.6h7.7M1351.4,1902.8v7M1318.0,1813.1h7.7M1411.7,1902.8v7M1318.0,1751.7h7.7M1472.1,1902.8v7M1318.0,1690.2h7.7M1532.4,1902.8v7M1318.0,1628.8h7.7M1592.7,1902.8v7M1321.5,1890.0h4.2M1336.3,1902.8v4M1321.5,1874.6h4.2M1351.4,1902.8v4M1321.5,1859.2h4.2M1366.5,1902.8v4M1321.5,1843.9h4.2M1381.6,1902.8v4M1321.5,1828.5h4.2M1396.6,1902.8v4M1321.5,1813.1h4.2M1411.7,1902.8v4M1321.5,1797.8h4.2M1426.8,1902.8v4M1321.5,1782.4h4.2M1441.9,1902.8v4M1321.5,1767.1h4.2M1457.0,1902.8v4M1321.5,1751.7h4.2M1472.1,1902.8v4M1321.5,1736.3h4.2M1487.1,1902.8v4M1321.5,1721.0h4.2M1502.2,1902.8v4M1321.5,1705.6h4.2M1517.3,1902.8v4M1321.5,1690.2h4.2M1532.4,1902.8v4M1321.5,1674.9h4.2M1547.5,1902.8v4M1321.5,1659.5h4.2M1562.6,1902.8v4M1321.5,1644.2h4.2M1577.6,1902.8v4M1321.5,1628.8h4.2M1592.7,1902.8v4M1321.5,1613.4h4.2M1607.8,1902.8v4" stroke="#000" stroke-width="1.2" fill="none"/>
<text class="c" font-size="32" text-anchor="middle" transform="translate(1294,1868) rotate(-90)">Tsne_2</text>
<text x="1319.5" y="1958.0" class="c" font-size="32.5">Tsne_1</text>
<text x="1552.6" y="1962.0" class="c b" font-size="21.2" text-anchor="middle">Cell Density</text>
<defs><linearGradient id="jetg" x1="0" x2="1" y1="0" y2="0"><stop offset="0" stop-color="#0010f0"/><stop offset="0.18" stop-color="#0070ff"/><stop offset="0.36" stop-color="#00c080"/><stop offset="0.5" stop-color="#60e020"/><stop offset="0.62" stop-color="#f0f000"/><stop offset="0.8" stop-color="#ff9000"/><stop offset="1" stop-color="#ff1000"/></linearGradient></defs>
<rect x="1506.4" y="1965.0" width="98.6" height="20.5" fill="url(#jetg)"/>
<text x="1496.6" y="1982.6" class="c" font-size="22.0" text-anchor="end">Low</text>
<text x="1608.7" y="1984.0" class="c" font-size="22.0">High</text>
<rect x="1631.6" y="1604.7" width="298.4" height="298.1" fill="none" stroke="#111" stroke-width="1.5"/>
<defs><clipPath id="cp1"><path d="M1771.7,1800.8 1771.4,1800.8 1771.1,1800.7 1770.9,1800.6 1770.6,1800.5 1770.3,1800.3 1770.1,1800.1 1769.9,1799.9 1769.7,1799.7 1769.5,1799.5 1769.4,1799.2 1769.3,1798.9 1769.2,1798.7 1769.1,1798.4 1769.1,1798.1 1769.1,1797.8 1769.1,1797.5 1769.1,1797.2 1769.2,1796.9 1771.0,1791.6 1771.1,1791.3 1771.3,1791.0 1771.4,1790.7 1771.6,1790.5 1771.8,1790.3 1772.1,1790.1 1772.3,1789.9 1772.6,1789.8 1772.9,1789.7 1773.2,1789.6 1773.5,1789.5 1787.7,1787.7 1788.1,1787.7 1788.4,1787.7 1788.7,1787.8 1789.0,1787.8 1801.4,1791.4 1801.7,1791.5 1802.0,1791.6 1816.2,1798.7 1816.5,1798.9 1816.8,1799.1 1825.7,1806.2 1826.0,1806.4 1826.2,1806.7 1826.4,1806.9 1826.5,1807.2 1826.6,1807.5 1826.8,1807.8 1829.8,1818.5 1829.9,1818.7 1829.9,1818.8 1830.0,1818.9 1830.1,1819.0 1830.2,1819.1 1830.3,1819.2 1830.4,1819.3 1830.5,1819.4 1836.8,1823.2 1837.0,1823.3 1837.1,1823.3 1837.2,1823.4 1837.3,1823.4 1837.5,1823.4 1837.6,1823.4 1853.4,1823.4 1853.5,1823.4 1853.7,1823.4 1853.8,1823.4 1853.9,1823.3 1866.3,1818.7 1866.5,1818.6 1866.6,1818.5 1866.7,1818.5 1866.9,1818.4 1867.0,1818.2 1874.9,1808.7 1875.0,1808.6 1875.0,1808.5 1881.9,1796.4 1882.1,1796.1 1882.3,1795.9 1882.6,1795.6 1882.8,1795.4 1883.1,1795.3 1883.3,1795.1 1883.6,1795.0 1884.0,1794.9 1897.8,1791.8 1898.0,1791.8 1898.1,1791.7 1898.2,1791.7 1898.4,1791.6 1898.5,1791.5 1898.6,1791.4 1898.7,1791.3 1898.8,1791.2 1898.8,1791.1 1898.9,1790.9 1898.9,1790.8 1899.0,1790.7 1899.0,1790.5 1899.0,1790.4 1899.0,1790.2 1899.0,1790.1 1898.9,1789.9 1898.9,1789.8 1898.8,1789.7 1898.8,1789.5 1898.7,1789.4 1898.6,1789.3 1896.8,1787.5 1896.5,1787.3 1896.4,1787.0 1896.2,1786.8 1896.1,1786.5 1896.0,1786.2 1895.9,1785.9 1895.9,1785.7 1895.9,1785.4 1895.9,1785.1 1895.9,1784.8 1896.0,1784.5 1896.1,1784.2 1896.2,1783.9 1896.4,1783.7 1902.9,1773.9 1903.0,1773.8 1903.0,1773.7 1903.1,1773.5 1903.1,1773.4 1903.1,1773.2 1904.7,1757.2 1904.7,1757.0 1904.7,1756.9 1904.7,1756.7 1901.3,1739.6 1901.2,1739.2 1901.2,1738.9 1901.2,1738.7 1901.3,1738.4 1901.3,1738.1 1901.4,1737.8 1904.7,1729.7 1904.7,1729.6 1904.8,1729.4 1904.8,1729.3 1904.8,1729.1 1904.8,1722.9 1904.8,1722.8 1904.8,1722.6 1904.7,1722.5 1904.7,1722.4 1904.6,1722.2 1904.5,1722.1 1904.4,1722.0 1904.3,1721.9 1897.2,1714.7 1897.1,1714.6 1897.0,1714.5 1896.8,1714.4 1884.9,1707.6 1884.7,1707.5 1884.5,1707.3 1875.9,1700.5 1875.8,1700.4 1875.7,1700.3 1861.8,1693.4 1861.6,1693.3 1861.3,1693.1 1861.1,1692.9 1860.9,1692.7 1860.8,1692.5 1860.6,1692.3 1860.4,1692.0 1855.4,1682.0 1855.3,1681.9 1855.3,1681.7 1855.1,1681.6 1843.4,1669.9 1843.3,1669.8 1843.2,1669.7 1831.6,1661.4 1831.5,1661.3 1831.3,1661.3 1831.2,1661.2 1821.2,1657.9 1820.8,1657.7 1820.6,1657.6 1820.3,1657.4 1820.1,1657.3 1819.9,1657.1 1819.7,1656.8 1819.5,1656.6 1819.4,1656.3 1819.2,1656.0 1814.1,1642.3 1814.0,1642.1 1813.9,1641.9 1807.7,1632.7 1807.6,1632.5 1807.5,1632.4 1807.4,1632.3 1807.3,1632.2 1807.2,1632.1 1798.5,1627.8 1798.3,1627.7 1798.2,1627.7 1798.1,1627.7 1797.9,1627.6 1797.8,1627.6 1791.2,1627.6 1788.1,1658.6 1766.7,1680.0 1756.0,1699.6 1738.1,1715.7 1723.9,1744.3 1720.3,1765.7 1731.0,1794.3 1759.6,1801.4 1776.5,1801.4 1771.7,1800.8Z"/></clipPath><filter id="sf1" filterUnits="userSpaceOnUse" x="1632" y="1606" width="298" height="296" color-interpolation-filters="sRGB"><feTurbulence type="fractalNoise" baseFrequency="0.42" numOctaves="2" seed="21"/><feColorMatrix type="matrix" values="0 0 0 0 0.071 0 0 0 0 0.800 0 0 0 0 0.816 1 0 0 0 0"/><feComponentTransfer><feFuncA type="discrete" tableValues="0 0 0 0 0 0 0 0 0 0 0 1 1 1 1 1 1 1 1 1"/></feComponentTransfer></filter></defs>
<g clip-path="url(#cp1)"><rect x="1632" y="1606" width="298" height="296" fill="#000" filter="url(#sf1)" opacity="1.0"/></g>
<defs><clipPath id="cp2"><path d="M1663.0,1728.3 1663.0,1728.4 1662.9,1728.6 1662.9,1728.7 1662.9,1728.9 1662.9,1729.0 1662.9,1729.2 1662.9,1729.3 1664.0,1733.4 1664.0,1733.5 1664.1,1733.7 1664.1,1733.8 1664.2,1733.9 1664.3,1734.0 1664.4,1734.1 1668.8,1738.6 1669.0,1738.8 1669.2,1739.0 1669.4,1739.3 1669.5,1739.6 1669.6,1739.8 1669.7,1740.1 1669.7,1740.4 1669.7,1740.8 1669.7,1756.7 1669.7,1757.1 1669.6,1757.4 1666.2,1774.8 1666.2,1774.9 1666.1,1775.1 1666.1,1791.9 1666.1,1792.0 1666.2,1792.1 1666.2,1792.3 1669.1,1802.3 1669.1,1802.4 1669.2,1802.6 1669.3,1802.7 1669.3,1802.8 1669.4,1802.9 1669.6,1803.0 1669.7,1803.1 1669.8,1803.2 1678.7,1807.7 1679.1,1807.8 1679.3,1808.0 1679.6,1808.2 1679.8,1808.5 1685.1,1815.2 1685.2,1815.3 1685.3,1815.4 1685.4,1815.4 1685.5,1815.5 1685.7,1815.6 1685.8,1815.6 1685.9,1815.7 1686.1,1815.7 1686.2,1815.7 1686.4,1815.7 1686.5,1815.7 1686.6,1815.7 1698.1,1812.8 1698.4,1812.7 1698.7,1812.7 1699.0,1812.7 1699.4,1812.8 1699.7,1812.8 1700.0,1812.9 1700.2,1813.0 1700.5,1813.2 1700.7,1813.4 1701.0,1813.6 1706.3,1818.9 1706.5,1819.2 1706.7,1819.4 1706.9,1819.7 1707.0,1819.9 1707.1,1820.2 1707.2,1820.5 1707.2,1820.8 1707.2,1821.1 1707.2,1821.4 1707.2,1821.7 1707.1,1821.9 1707.0,1822.2 1706.9,1822.5 1706.7,1822.7 1706.5,1823.0 1706.3,1823.2 1698.5,1831.1 1698.4,1831.2 1698.3,1831.3 1698.2,1831.4 1698.2,1831.5 1698.1,1831.6 1698.1,1831.8 1698.0,1831.9 1696.6,1842.1 1696.6,1842.2 1696.6,1842.4 1696.6,1842.5 1696.6,1842.6 1699.7,1856.6 1699.8,1856.8 1699.8,1856.9 1699.9,1857.0 1699.9,1857.2 1700.0,1857.3 1700.1,1857.4 1707.4,1864.7 1707.6,1864.8 1707.7,1864.9 1707.8,1865.0 1708.0,1865.0 1721.0,1869.9 1721.1,1870.0 1721.2,1870.0 1738.3,1873.4 1738.4,1873.4 1738.6,1873.4 1755.4,1873.4 1755.6,1873.4 1755.8,1873.4 1768.7,1870.2 1768.9,1870.1 1769.0,1870.1 1769.1,1870.0 1769.2,1869.9 1780.2,1862.1 1780.4,1862.0 1780.5,1861.8 1780.6,1861.7 1780.7,1861.6 1787.3,1849.9 1787.4,1849.9 1792.7,1841.0 1797.4,1833.1 1797.5,1833.0 1797.5,1832.9 1797.6,1832.7 1797.6,1832.6 1797.6,1832.5 1797.6,1832.3 1797.6,1820.1 1797.6,1820.0 1797.6,1819.8 1797.6,1819.7 1797.5,1819.6 1793.0,1807.5 1793.0,1807.4 1792.9,1807.3 1792.8,1807.1 1792.7,1807.0 1792.6,1806.9 1792.5,1806.8 1792.4,1806.8 1785.6,1802.7 1785.5,1802.6 1785.3,1802.6 1785.2,1802.5 1785.0,1802.5 1776.5,1801.4 1759.6,1801.4 1731.0,1794.3 1720.3,1765.7 1723.9,1744.3 1738.1,1715.7 1756.0,1699.6 1766.7,1680.0 1788.1,1658.6 1791.2,1627.6 1786.9,1627.6 1786.7,1627.7 1786.5,1627.7 1771.2,1631.1 1771.0,1631.1 1757.1,1636.4 1756.7,1636.5 1742.9,1639.9 1742.8,1640.0 1742.6,1640.0 1733.2,1644.7 1733.1,1644.8 1733.0,1644.9 1732.8,1645.0 1732.7,1645.1 1726.2,1653.3 1726.0,1653.5 1725.8,1653.7 1725.5,1653.9 1725.3,1654.1 1725.0,1654.2 1724.6,1654.3 1712.9,1657.7 1712.7,1657.7 1712.6,1657.8 1712.4,1657.9 1702.8,1664.3 1702.7,1664.4 1702.6,1664.5 1702.5,1664.6 1692.2,1676.6 1692.0,1676.8 1683.5,1685.3 1683.4,1685.4 1683.4,1685.5 1683.3,1685.6 1678.0,1694.6 1677.9,1694.8 1677.9,1694.9 1677.9,1695.0 1677.8,1695.2 1677.8,1695.3 1677.8,1695.5 1678.6,1712.0 1678.6,1712.3 1678.6,1712.6 1678.6,1712.8 1678.5,1713.1 1678.4,1713.4 1678.3,1713.6 1678.1,1713.9 1677.9,1714.1 1677.7,1714.3 1677.5,1714.5 1677.3,1714.7 1667.4,1721.2 1667.3,1721.3 1667.2,1721.4 1667.1,1721.5 1667.1,1721.6 1667.0,1721.7 1663.1,1728.2 1663.0,1728.3Z"/></clipPath><filter id="sf2" filterUnits="userSpaceOnUse" x="1632" y="1606" width="298" height="296" color-interpolation-filters="sRGB"><feTurbulence type="fractalNoise" baseFrequency="0.42" numOctaves="2" seed="22"/><feColorMatrix type="matrix" values="0 0 0 0 0.957 0 0 0 0 0.486 0 0 0 0 0.078 1 0 0 0 0"/><feComponentTransfer><feFuncA type="discrete" tableValues="0 0 0 0 0 0 0 0 0 0 0 1 1 1 1 1 1 1 1 1"/></feComponentTransfer></filter></defs>
<g clip-path="url(#cp2)"><rect x="1632" y="1606" width="298" height="296" fill="#000" filter="url(#sf2)" opacity="1.0"/></g>
<defs><clipPath id="cp3"><path d="M1731.0,1794.3 1720.3,1765.7 1723.9,1744.3 1738.1,1715.7 1756.0,1699.6 1766.7,1680.0 1788.1,1658.6 1773.9,1655.0 1747.1,1685.4 1716.7,1712.1 1702.4,1747.9 1707.8,1783.6 1741.7,1803.2 1759.6,1801.4 1731.0,1794.3Z"/></clipPath><filter id="sf3" filterUnits="userSpaceOnUse" x="1632" y="1606" width="298" height="296" color-interpolation-filters="sRGB"><feTurbulence type="fractalNoise" baseFrequency="0.42" numOctaves="2" seed="23"/><feColorMatrix type="matrix" values="0 0 0 0 0.071 0 0 0 0 0.800 0 0 0 0 0.816 1 0 0 0 0"/><feComponentTransfer><feFuncA type="discrete" tableValues="0 0 0 0 0 0 0 0 0 0 0 0 1 1 1 1 1 1 1 1"/></feComponentTransfer></filter></defs>
<g clip-path="url(#cp3)"><rect x="1632" y="1606" width="298" height="296" fill="#000" filter="url(#sf3)" opacity="1.0"/></g>
<defs><clipPath id="cp4"><path d="M1771.0,1791.6 1771.1,1791.3 1771.3,1791.0 1771.4,1790.7 1771.6,1790.5 1771.8,1790.3 1772.1,1790.1 1772.3,1789.9 1772.6,1789.8 1772.9,1789.7 1773.2,1789.6 1773.5,1789.5 1774.0,1789.5 1747.1,1765.7 1745.3,1738.9 1766.7,1712.1 1791.7,1685.4 1806.0,1658.6 1788.1,1658.6 1766.7,1680.0 1756.0,1699.6 1738.1,1715.7 1723.9,1744.3 1720.3,1765.7 1731.0,1794.3 1759.6,1801.4 1769.3,1796.5 1771.0,1791.6Z"/></clipPath><filter id="sf4" filterUnits="userSpaceOnUse" x="1632" y="1606" width="298" height="296" color-interpolation-filters="sRGB"><feTurbulence type="fractalNoise" baseFrequency="0.42" numOctaves="2" seed="24"/><feColorMatrix type="matrix" values="0 0 0 0 0.957 0 0 0 0 0.486 0 0 0 0 0.078 1 0 0 0 0"/><feComponentTransfer><feFuncA type="discrete" tableValues="0 0 0 0 0 0 0 0 0 0 0 0 0 0 0 0 1 1 1 1"/></feComponentTransfer></filter></defs>
<g clip-path="url(#cp4)"><rect x="1632" y="1606" width="298" height="296" fill="#000" filter="url(#sf4)" opacity="1.0"/></g>
<text x="20.5" y="2075.0" class="c b" font-size="32.0">g</text>
<line x1="713.1" y1="2100.0" x2="713.1" y2="2453.8" stroke="#c0c0c0" stroke-width="1" stroke-dasharray="1.2 2.5"/>
<line x1="803.1" y1="2100.0" x2="803.1" y2="2453.8" stroke="#c0c0c0" stroke-width="1" stroke-dasharray="1.2 2.5"/>
<line x1="893.2" y1="2100.0" x2="893.2" y2="2453.8" stroke="#c0c0c0" stroke-width="1" stroke-dasharray="1.2 2.5"/>
<line x1="983.2" y1="2100.0" x2="983.2" y2="2453.8" stroke="#c0c0c0" stroke-width="1" stroke-dasharray="1.2 2.5"/>
<line x1="1073.3" y1="2100.0" x2="1073.3" y2="2453.8" stroke="#c0c0c0" stroke-width="1" stroke-dasharray="1.2 2.5"/>
<rect x="641.0" y="2318.6" width="22.5" height="135.2" fill="#14acd6" stroke="#0c3d50" stroke-width="1.2"/>
<circle cx="643.0" cy="2318.6" r="1.9" fill="#000"/>
<circle cx="646.1" cy="2318.6" r="1.9" fill="#000"/>
<circle cx="649.2" cy="2318.6" r="1.9" fill="#000"/>
<circle cx="652.2" cy="2318.6" r="1.9" fill="#000"/>
<circle cx="655.3" cy="2318.6" r="1.9" fill="#000"/>
<circle cx="658.4" cy="2318.6" r="1.9" fill="#000"/>
<circle cx="661.5" cy="2318.6" r="1.9" fill="#000"/>
<rect x="672.5" y="2389.4" width="22.3" height="64.4" fill="#fca03e" stroke="#5a3814" stroke-width="1.2"/>
<line x1="683.6" y1="2415.2" x2="683.6" y2="2363.4" stroke="#000" stroke-width="1.6"/>
<line x1="678.0" y1="2415.2" x2="689.2" y2="2415.2" stroke="#000" stroke-width="1.6"/>
<line x1="678.0" y1="2363.4" x2="689.2" y2="2363.4" stroke="#000" stroke-width="1.6"/>
<circle cx="680.6" cy="2366.1" r="2.3" fill="#000"/>
<circle cx="686.6" cy="2366.1" r="2.3" fill="#000"/>
<circle cx="686.6" cy="2368.8" r="2.3" fill="#000"/>
<circle cx="683.6" cy="2394.4" r="2.3" fill="#000"/>
<circle cx="683.6" cy="2416.3" r="2.3" fill="#000"/>
<circle cx="683.6" cy="2424.1" r="2.3" fill="#000"/>
<rect x="731.0" y="2318.6" width="22.5" height="135.2" fill="#14acd6" stroke="#0c3d50" stroke-width="1.2"/>
<circle cx="733.0" cy="2318.6" r="1.9" fill="#000"/>
<circle cx="736.1" cy="2318.6" r="1.9" fill="#000"/>
<circle cx="739.2" cy="2318.6" r="1.9" fill="#000"/>
<circle cx="742.3" cy="2318.6" r="1.9" fill="#000"/>
<circle cx="745.4" cy="2318.6" r="1.9" fill="#000"/>
<circle cx="748.4" cy="2318.6" r="1.9" fill="#000"/>
<circle cx="751.5" cy="2318.6" r="1.9" fill="#000"/>
<rect x="762.5" y="2381.6" width="22.3" height="72.2" fill="#fca03e" stroke="#5a3814" stroke-width="1.2"/>
<line x1="773.7" y1="2420.9" x2="773.7" y2="2341.5" stroke="#000" stroke-width="1.6"/>
<line x1="768.1" y1="2420.9" x2="779.3" y2="2420.9" stroke="#000" stroke-width="1.6"/>
<line x1="768.1" y1="2341.5" x2="779.3" y2="2341.5" stroke="#000" stroke-width="1.6"/>
<circle cx="773.7" cy="2327.2" r="2.3" fill="#000"/>
<circle cx="773.7" cy="2341.3" r="2.3" fill="#000"/>
<circle cx="773.7" cy="2388.0" r="2.3" fill="#000"/>
<circle cx="773.7" cy="2394.4" r="2.3" fill="#000"/>
<circle cx="773.7" cy="2408.7" r="2.3" fill="#000"/>
<circle cx="773.7" cy="2429.7" r="2.3" fill="#000"/>
<rect x="821.1" y="2318.6" width="22.5" height="135.2" fill="#14acd6" stroke="#0c3d50" stroke-width="1.2"/>
<circle cx="823.1" cy="2318.6" r="1.9" fill="#000"/>
<circle cx="826.2" cy="2318.6" r="1.9" fill="#000"/>
<circle cx="829.2" cy="2318.6" r="1.9" fill="#000"/>
<circle cx="832.3" cy="2318.6" r="1.9" fill="#000"/>
<circle cx="835.4" cy="2318.6" r="1.9" fill="#000"/>
<circle cx="838.5" cy="2318.6" r="1.9" fill="#000"/>
<circle cx="841.6" cy="2318.6" r="1.9" fill="#000"/>
<rect x="852.6" y="2338.6" width="22.3" height="115.2" fill="#fca03e" stroke="#5a3814" stroke-width="1.2"/>
<line x1="863.7" y1="2391.6" x2="863.7" y2="2284.8" stroke="#000" stroke-width="1.6"/>
<line x1="858.1" y1="2391.6" x2="869.3" y2="2391.6" stroke="#000" stroke-width="1.6"/>
<line x1="858.1" y1="2284.8" x2="869.3" y2="2284.8" stroke="#000" stroke-width="1.6"/>
<circle cx="863.7" cy="2251.4" r="2.3" fill="#000"/>
<circle cx="863.7" cy="2299.2" r="2.3" fill="#000"/>
<circle cx="863.7" cy="2352.2" r="2.3" fill="#000"/>
<circle cx="863.7" cy="2363.6" r="2.3" fill="#000"/>
<circle cx="863.7" cy="2365.9" r="2.3" fill="#000"/>
<circle cx="863.7" cy="2399.7" r="2.3" fill="#000"/>
<rect x="911.1" y="2318.6" width="22.5" height="135.2" fill="#14acd6" stroke="#0c3d50" stroke-width="1.2"/>
<circle cx="913.1" cy="2318.6" r="1.9" fill="#000"/>
<circle cx="916.2" cy="2318.6" r="1.9" fill="#000"/>
<circle cx="919.3" cy="2318.6" r="1.9" fill="#000"/>
<circle cx="922.4" cy="2318.6" r="1.9" fill="#000"/>
<circle cx="925.4" cy="2318.6" r="1.9" fill="#000"/>
<circle cx="928.5" cy="2318.6" r="1.9" fill="#000"/>
<circle cx="931.6" cy="2318.6" r="1.9" fill="#000"/>
<rect x="942.6" y="2316.0" width="22.3" height="137.8" fill="#fca03e" stroke="#5a3814" stroke-width="1.2"/>
<line x1="953.8" y1="2335.4" x2="953.8" y2="2296.5" stroke="#000" stroke-width="1.6"/>
<line x1="948.2" y1="2335.4" x2="959.4" y2="2335.4" stroke="#000" stroke-width="1.6"/>
<line x1="948.2" y1="2296.5" x2="959.4" y2="2296.5" stroke="#000" stroke-width="1.6"/>
<circle cx="953.8" cy="2283.0" r="2.3" fill="#000"/>
<circle cx="950.8" cy="2310.4" r="2.3" fill="#000"/>
<circle cx="956.8" cy="2313.1" r="2.3" fill="#000"/>
<circle cx="953.8" cy="2328.0" r="2.3" fill="#000"/>
<circle cx="953.8" cy="2332.1" r="2.3" fill="#000"/>
<circle cx="953.8" cy="2338.6" r="2.3" fill="#000"/>
<rect x="1001.2" y="2318.6" width="22.5" height="135.2" fill="#14acd6" stroke="#0c3d50" stroke-width="1.2"/>
<circle cx="1003.2" cy="2318.6" r="1.9" fill="#000"/>
<circle cx="1006.2" cy="2318.6" r="1.9" fill="#000"/>
<circle cx="1009.3" cy="2318.6" r="1.9" fill="#000"/>
<circle cx="1012.4" cy="2318.6" r="1.9" fill="#000"/>
<circle cx="1015.5" cy="2318.6" r="1.9" fill="#000"/>
<circle cx="1018.6" cy="2318.6" r="1.9" fill="#000"/>
<circle cx="1021.6" cy="2318.6" r="1.9" fill="#000"/>
<rect x="1032.7" y="2267.6" width="22.3" height="186.2" fill="#fca03e" stroke="#5a3814" stroke-width="1.2"/>
<line x1="1043.8" y1="2308.3" x2="1043.8" y2="2226.7" stroke="#000" stroke-width="1.6"/>
<line x1="1038.2" y1="2308.3" x2="1049.4" y2="2308.3" stroke="#000" stroke-width="1.6"/>
<line x1="1038.2" y1="2226.7" x2="1049.4" y2="2226.7" stroke="#000" stroke-width="1.6"/>
<circle cx="1043.8" cy="2217.8" r="2.3" fill="#000"/>
<circle cx="1040.8" cy="2246.9" r="2.3" fill="#000"/>
<circle cx="1046.8" cy="2246.9" r="2.3" fill="#000"/>
<circle cx="1040.8" cy="2265.8" r="2.3" fill="#000"/>
<circle cx="1046.8" cy="2265.8" r="2.3" fill="#000"/>
<circle cx="1043.8" cy="2296.5" r="2.3" fill="#000"/>
<circle cx="1043.8" cy="2342.2" r="2.3" fill="#000"/>
<rect x="1091.2" y="2318.6" width="22.5" height="135.2" fill="#14acd6" stroke="#0c3d50" stroke-width="1.2"/>
<circle cx="1093.2" cy="2318.6" r="1.9" fill="#000"/>
<circle cx="1096.3" cy="2318.6" r="1.9" fill="#000"/>
<circle cx="1099.4" cy="2318.6" r="1.9" fill="#000"/>
<circle cx="1102.4" cy="2318.6" r="1.9" fill="#000"/>
<circle cx="1105.5" cy="2318.6" r="1.9" fill="#000"/>
<circle cx="1108.6" cy="2318.6" r="1.9" fill="#000"/>
<circle cx="1111.7" cy="2318.6" r="1.9" fill="#000"/>
<rect x="1122.7" y="2239.1" width="22.3" height="214.7" fill="#fca03e" stroke="#5a3814" stroke-width="1.2"/>
<line x1="1133.9" y1="2321.8" x2="1133.9" y2="2157.7" stroke="#000" stroke-width="1.6"/>
<line x1="1128.3" y1="2321.8" x2="1139.5" y2="2321.8" stroke="#000" stroke-width="1.6"/>
<line x1="1128.3" y1="2157.7" x2="1139.5" y2="2157.7" stroke="#000" stroke-width="1.6"/>
<circle cx="1133.9" cy="2112.4" r="2.3" fill="#000"/>
<circle cx="1133.9" cy="2178.9" r="2.3" fill="#000"/>
<circle cx="1133.9" cy="2229.0" r="2.3" fill="#000"/>
<circle cx="1133.9" cy="2281.1" r="2.3" fill="#000"/>
<circle cx="1133.9" cy="2314.5" r="2.3" fill="#000"/>
<circle cx="1133.9" cy="2319.9" r="2.3" fill="#000"/>
<line x1="630.0" y1="2100.0" x2="630.0" y2="2454.8" stroke="#000" stroke-width="2.2"/>
<line x1="621.9" y1="2453.8" x2="630.0" y2="2453.8" stroke="#000" stroke-width="2.2"/>
<text x="619.9" y="2459.4" class="a b" font-size="15.8" text-anchor="end">0.0</text>
<line x1="621.9" y1="2386.2" x2="630.0" y2="2386.2" stroke="#000" stroke-width="2.2"/>
<text x="619.9" y="2391.8" class="a b" font-size="15.8" text-anchor="end">0.5</text>
<line x1="621.9" y1="2318.6" x2="630.0" y2="2318.6" stroke="#000" stroke-width="2.2"/>
<text x="619.9" y="2324.2" class="a b" font-size="15.8" text-anchor="end">1.0</text>
<line x1="621.9" y1="2250.9" x2="630.0" y2="2250.9" stroke="#000" stroke-width="2.2"/>
<text x="619.9" y="2256.6" class="a b" font-size="15.8" text-anchor="end">1.5</text>
<line x1="621.9" y1="2183.3" x2="630.0" y2="2183.3" stroke="#000" stroke-width="2.2"/>
<text x="619.9" y="2189.0" class="a b" font-size="15.8" text-anchor="end">2.0</text>
<line x1="621.9" y1="2115.8" x2="630.0" y2="2115.8" stroke="#000" stroke-width="2.2"/>
<text x="619.9" y="2121.4" class="a b" font-size="15.8" text-anchor="end">2.5</text>
<line x1="624.9" y1="2440.2" x2="630.0" y2="2440.2" stroke="#000" stroke-width="2.2"/>
<line x1="624.9" y1="2426.7" x2="630.0" y2="2426.7" stroke="#000" stroke-width="2.2"/>
<line x1="624.9" y1="2413.2" x2="630.0" y2="2413.2" stroke="#000" stroke-width="2.2"/>
<line x1="624.9" y1="2399.7" x2="630.0" y2="2399.7" stroke="#000" stroke-width="2.2"/>
<line x1="624.9" y1="2372.6" x2="630.0" y2="2372.6" stroke="#000" stroke-width="2.2"/>
<line x1="624.9" y1="2359.1" x2="630.0" y2="2359.1" stroke="#000" stroke-width="2.2"/>
<line x1="624.9" y1="2345.6" x2="630.0" y2="2345.6" stroke="#000" stroke-width="2.2"/>
<line x1="624.9" y1="2332.1" x2="630.0" y2="2332.1" stroke="#000" stroke-width="2.2"/>
<line x1="624.9" y1="2305.0" x2="630.0" y2="2305.0" stroke="#000" stroke-width="2.2"/>
<line x1="624.9" y1="2291.5" x2="630.0" y2="2291.5" stroke="#000" stroke-width="2.2"/>
<line x1="624.9" y1="2278.0" x2="630.0" y2="2278.0" stroke="#000" stroke-width="2.2"/>
<line x1="624.9" y1="2264.5" x2="630.0" y2="2264.5" stroke="#000" stroke-width="2.2"/>
<line x1="624.9" y1="2237.4" x2="630.0" y2="2237.4" stroke="#000" stroke-width="2.2"/>
<line x1="624.9" y1="2223.9" x2="630.0" y2="2223.9" stroke="#000" stroke-width="2.2"/>
<line x1="624.9" y1="2210.4" x2="630.0" y2="2210.4" stroke="#000" stroke-width="2.2"/>
<line x1="624.9" y1="2196.9" x2="630.0" y2="2196.9" stroke="#000" stroke-width="2.2"/>
<line x1="624.9" y1="2169.8" x2="630.0" y2="2169.8" stroke="#000" stroke-width="2.2"/>
<line x1="624.9" y1="2156.3" x2="630.0" y2="2156.3" stroke="#000" stroke-width="2.2"/>
<line x1="624.9" y1="2142.8" x2="630.0" y2="2142.8" stroke="#000" stroke-width="2.2"/>
<line x1="624.9" y1="2129.3" x2="630.0" y2="2129.3" stroke="#000" stroke-width="2.2"/>
<line x1="628.7" y1="2453.8" x2="1159.2" y2="2453.8" stroke="#000" stroke-width="2.6"/>
<line x1="652.2" y1="2453.8" x2="652.2" y2="2457.6" stroke="#000" stroke-width="2"/>
<line x1="742.3" y1="2453.8" x2="742.3" y2="2457.6" stroke="#000" stroke-width="2"/>
<line x1="832.3" y1="2453.8" x2="832.3" y2="2457.6" stroke="#000" stroke-width="2"/>
<line x1="922.4" y1="2453.8" x2="922.4" y2="2457.6" stroke="#000" stroke-width="2"/>
<line x1="1012.4" y1="2453.8" x2="1012.4" y2="2457.6" stroke="#000" stroke-width="2"/>
<line x1="1102.5" y1="2453.8" x2="1102.5" y2="2457.6" stroke="#000" stroke-width="2"/>
<line x1="683.6" y1="2453.8" x2="683.6" y2="2457.6" stroke="#000" stroke-width="2"/>
<line x1="773.7" y1="2453.8" x2="773.7" y2="2457.6" stroke="#000" stroke-width="2"/>
<line x1="863.7" y1="2453.8" x2="863.7" y2="2457.6" stroke="#000" stroke-width="2"/>
<line x1="953.8" y1="2453.8" x2="953.8" y2="2457.6" stroke="#000" stroke-width="2"/>
<line x1="1043.8" y1="2453.8" x2="1043.8" y2="2457.6" stroke="#000" stroke-width="2"/>
<line x1="1133.8" y1="2453.8" x2="1133.8" y2="2457.6" stroke="#000" stroke-width="2"/>
<line x1="644.4" y1="2103.5" x2="700.6" y2="2103.5" stroke="#000" stroke-width="3.2"/>
<text x="672.5" y="2096.2" class="a" font-size="20.2" text-anchor="middle">0.0011</text>
<line x1="729.0" y1="2105.0" x2="785.0" y2="2105.0" stroke="#000" stroke-width="3.2"/>
<text x="757.0" y="2096.2" class="a" font-size="20.2" text-anchor="middle">0.0112</text>
<line x1="998.7" y1="2104.0" x2="1054.8" y2="2104.0" stroke="#000" stroke-width="3.2"/>
<text x="1026.8" y="2096.0" class="a" font-size="20.2" text-anchor="middle">0.0167</text>
<line x1="1083.4" y1="2101.0" x2="1139.0" y2="2101.0" stroke="#000" stroke-width="3.2"/>
<text x="1111.2" y="2094.0" class="a" font-size="20.2" text-anchor="middle">0.0662</text>
<text class="a" font-size="24.5" text-anchor="middle" transform="translate(546,2272.9) rotate(-90)">Relative <tspan font-weight="bold">Inhibitory Receptor</tspan></text>
<text class="a" font-size="24.5" text-anchor="middle" transform="translate(573.5,2272.9) rotate(-90)">MFI to control without IL-35</text>
<text x="699.2" y="2481.3" class="c" font-size="32.0" text-anchor="end" transform="rotate(-45 699.2 2481.3)">TIGIT</text>
<text x="791.8" y="2481.3" class="c" font-size="32.0" text-anchor="end" transform="rotate(-45 791.8 2481.3)">NKG2A</text>
<text x="866.3" y="2481.3" class="c" font-size="32.0" text-anchor="end" transform="rotate(-45 866.3 2481.3)">TIM3</text>
<text x="967.4" y="2481.3" class="c" font-size="32.0" text-anchor="end" transform="rotate(-45 967.4 2481.3)">PD-L1</text>
<text x="1052.9" y="2481.3" class="c" font-size="32.0" text-anchor="end" transform="rotate(-45 1052.9 2481.3)">CD96</text>
<text x="1142.9" y="2481.3" class="c" font-size="32.0" text-anchor="end" transform="rotate(-45 1142.9 2481.3)">LAG3</text>
<rect x="1151.0" y="2250.4" width="19.0" height="19.5" fill="#14acd6" stroke="#222" stroke-width="1.5"/>
<rect x="1151.0" y="2283.0" width="19.0" height="18.5" fill="#fca03e" stroke="#222" stroke-width="1.5"/>
<text x="1178.7" y="2268.0" class="c" font-size="27.0">IL-2</text>
<text x="1178.7" y="2300.0" class="c" font-size="27.0">IL-2+IL-35</text>
<text x="93.7" y="2111.0" class="c" font-size="32.0" text-anchor="middle">TIGIT</text>
<text x="258.7" y="2111.0" class="c" font-size="32.0" text-anchor="middle">NKG2A</text>
<text x="424.3" y="2111.0" class="c" font-size="32.0" text-anchor="middle">TIM3</text>
<text x="88.0" y="2331.8" class="c" font-size="32.0" text-anchor="middle">PD-L1</text>
<text x="252.7" y="2331.8" class="c" font-size="32.0" text-anchor="middle">CD96</text>
<text x="427.4" y="2331.8" class="c" font-size="32.0" text-anchor="middle">LAG3</text>
<polygon points="0.0,2228.9 15.0,2228.9 19.3,2224.6 23.6,2211.8 26.8,2185.0 30.0,2142.1 32.1,2130.9 35.4,2137.9 37.5,2147.5 40.7,2174.3 43.9,2193.6 47.1,2208.6 50.4,2213.4 54.6,2210.7 58.9,2209.1 62.1,2200.0 64.3,2201.1 68.6,2193.6 73.9,2182.9 77.1,2174.3 79.8,2166.8 82.5,2167.9 85.7,2162.5 88.9,2168.9 94.3,2189.3 97.0,2191.4 99.6,2206.4 101.8,2217.1 107.1,2224.6 114.6,2228.7 163.9,2228.9 163.9,2228.9 0.0,2228.9" fill="#00ced1" fill-opacity="0.376"/>
<polyline points="0.0,2228.9 15.0,2228.9 19.3,2224.6 23.6,2211.8 26.8,2185.0 30.0,2142.1 32.1,2130.9 35.4,2137.9 37.5,2147.5 40.7,2174.3 43.9,2193.6 47.1,2208.6 50.4,2213.4 54.6,2210.7 58.9,2209.1 62.1,2200.0 64.3,2201.1 68.6,2193.6 73.9,2182.9 77.1,2174.3 79.8,2166.8 82.5,2167.9 85.7,2162.5 88.9,2168.9 94.3,2189.3 97.0,2191.4 99.6,2206.4 101.8,2217.1 107.1,2224.6 114.6,2228.7 163.9,2228.9" fill="none" stroke="#12ccd0" stroke-width="2.2" stroke-linejoin="round"/>
<polygon points="0.0,2283.0 18.2,2283.0 21.4,2280.4 24.6,2268.6 26.8,2249.3 28.9,2217.1 31.1,2188.2 34.3,2189.3 37.5,2211.8 40.7,2227.9 42.9,2243.9 47.1,2252.5 50.4,2256.2 53.6,2255.7 57.9,2257.3 61.1,2255.7 65.4,2256.8 68.6,2261.1 73.9,2259.5 77.1,2263.2 83.6,2267.5 88.9,2269.6 92.1,2276.1 98.6,2278.2 105.0,2281.4 111.4,2283.0 163.9,2283.0 163.9,2283.0 0.0,2283.0" fill="#f77f14" fill-opacity="0.43"/>
<rect x="1.3" y="2118.6" width="162.4" height="162.8" fill="none" stroke="#111" stroke-width="1.3"/>
<line x1="1.3" y1="2118.6" x2="163.7" y2="2118.6" stroke="#666" stroke-width="1.4"/>
<polyline points="0.0,2283.0 18.2,2283.0 21.4,2280.4 24.6,2268.6 26.8,2249.3 28.9,2217.1 31.1,2188.2 34.3,2189.3 37.5,2211.8 40.7,2227.9 42.9,2243.9 47.1,2252.5 50.4,2256.2 53.6,2255.7 57.9,2257.3 61.1,2255.7 65.4,2256.8 68.6,2261.1 73.9,2259.5 77.1,2263.2 83.6,2267.5 88.9,2269.6 92.1,2276.1 98.6,2278.2 105.0,2281.4 111.4,2283.0 163.9,2283.0" fill="none" stroke="#f77f14" stroke-width="2.4" stroke-linejoin="round"/>
<path d="M4.5,2281.4v4 M12.7,2281.4v2.5 M17.5,2281.4v2.5 M24.0,2281.4v2.5 M30.5,2281.4v2.5 M33.8,2281.4v4 M35.4,2281.4v2.5 M37.0,2281.4v2.5 M38.7,2281.4v2.5 M40.3,2281.4v2.5 M41.9,2281.4v4 M50.0,2281.4v2.5 M54.9,2281.4v2.5 M61.4,2281.4v2.5 M66.3,2281.4v2.5 M67.9,2281.4v4 M69.5,2281.4v2.5 M71.1,2281.4v2.5 M82.5,2281.4v2.5 M90.6,2281.4v2.5 M98.7,2281.4v4 M103.6,2281.4v2.5 M106.9,2281.4v2.5 M110.1,2281.4v2.5 M111.7,2281.4v2.5 M113.4,2281.4v4 M124.7,2281.4v2.5 M131.2,2281.4v2.5 M139.3,2281.4v2.5 M144.2,2281.4v2.5 M147.5,2281.4v4 M149.1,2281.4v2.5 M150.7,2281.4v2.5 M160.5,2281.4v2.5" stroke="#000" stroke-width="0.9"/>
<polygon points="172.7,2228.9 201.1,2228.9 205.4,2224.6 208.6,2206.4 211.8,2185.0 215.0,2172.1 217.1,2170.5 220.4,2182.9 223.6,2194.6 226.8,2205.4 231.1,2211.8 235.4,2216.1 245.0,2216.6 251.4,2212.9 256.8,2209.6 258.9,2210.7 262.1,2204.3 266.4,2195.7 269.6,2185.0 272.9,2176.4 277.1,2163.6 280.4,2149.6 282.5,2146.4 285.2,2155.0 286.8,2140.0 288.9,2138.9 293.2,2128.2 296.4,2138.9 299.6,2138.9 301.8,2152.9 305.0,2185.0 308.2,2211.8 312.5,2225.7 316.8,2228.7 337.1,2228.9 337.1,2228.9 172.7,2228.9" fill="#00ced1" fill-opacity="0.376"/>
<polyline points="172.7,2228.9 201.1,2228.9 205.4,2224.6 208.6,2206.4 211.8,2185.0 215.0,2172.1 217.1,2170.5 220.4,2182.9 223.6,2194.6 226.8,2205.4 231.1,2211.8 235.4,2216.1 245.0,2216.6 251.4,2212.9 256.8,2209.6 258.9,2210.7 262.1,2204.3 266.4,2195.7 269.6,2185.0 272.9,2176.4 277.1,2163.6 280.4,2149.6 282.5,2146.4 285.2,2155.0 286.8,2140.0 288.9,2138.9 293.2,2128.2 296.4,2138.9 299.6,2138.9 301.8,2152.9 305.0,2185.0 308.2,2211.8 312.5,2225.7 316.8,2228.7 337.1,2228.9" fill="none" stroke="#12ccd0" stroke-width="2.2" stroke-linejoin="round"/>
<polygon points="172.7,2283.0 202.1,2283.0 205.4,2270.7 207.5,2249.3 209.6,2217.1 211.8,2187.1 213.9,2185.0 216.1,2198.9 219.3,2227.9 222.5,2260.0 225.7,2268.6 230.0,2273.9 235.4,2275.5 241.8,2275.0 247.1,2271.8 252.5,2267.5 255.7,2261.1 262.1,2255.7 266.4,2243.9 270.7,2234.3 274.5,2226.8 277.1,2228.9 280.4,2236.4 282.0,2231.1 284.6,2234.3 287.9,2241.8 292.1,2246.1 296.4,2256.8 300.7,2269.6 303.9,2276.1 307.1,2281.4 309.3,2283.0 337.1,2283.0 337.1,2283.0 172.7,2283.0" fill="#f77f14" fill-opacity="0.43"/>
<rect x="174.3" y="2118.6" width="162.3" height="162.8" fill="none" stroke="#111" stroke-width="1.3"/>
<line x1="174.3" y1="2118.6" x2="336.6" y2="2118.6" stroke="#666" stroke-width="1.4"/>
<polyline points="172.7,2283.0 202.1,2283.0 205.4,2270.7 207.5,2249.3 209.6,2217.1 211.8,2187.1 213.9,2185.0 216.1,2198.9 219.3,2227.9 222.5,2260.0 225.7,2268.6 230.0,2273.9 235.4,2275.5 241.8,2275.0 247.1,2271.8 252.5,2267.5 255.7,2261.1 262.1,2255.7 266.4,2243.9 270.7,2234.3 274.5,2226.8 277.1,2228.9 280.4,2236.4 282.0,2231.1 284.6,2234.3 287.9,2241.8 292.1,2246.1 296.4,2256.8 300.7,2269.6 303.9,2276.1 307.1,2281.4 309.3,2283.0 337.1,2283.0" fill="none" stroke="#f77f14" stroke-width="2.4" stroke-linejoin="round"/>
<path d="M177.5,2281.4v4 M185.7,2281.4v2.5 M190.5,2281.4v2.5 M197.0,2281.4v2.5 M203.5,2281.4v2.5 M206.8,2281.4v4 M208.4,2281.4v2.5 M210.0,2281.4v2.5 M211.6,2281.4v2.5 M213.3,2281.4v2.5 M214.9,2281.4v4 M223.0,2281.4v2.5 M227.9,2281.4v2.5 M234.4,2281.4v2.5 M239.2,2281.4v2.5 M240.8,2281.4v4 M242.5,2281.4v2.5 M244.1,2281.4v2.5 M255.5,2281.4v2.5 M263.6,2281.4v2.5 M271.7,2281.4v4 M276.5,2281.4v2.5 M279.8,2281.4v2.5 M283.0,2281.4v2.5 M284.7,2281.4v2.5 M286.3,2281.4v4 M297.6,2281.4v2.5 M304.1,2281.4v2.5 M312.3,2281.4v2.5 M317.1,2281.4v2.5 M320.4,2281.4v4 M322.0,2281.4v2.5 M323.6,2281.4v2.5 M333.4,2281.4v2.5" stroke="#000" stroke-width="0.9"/>
<polygon points="344.8,2228.9 390.4,2228.9 394.6,2226.8 398.9,2221.4 403.2,2210.7 407.5,2201.1 411.8,2191.4 415.0,2176.4 418.2,2166.8 420.4,2160.4 421.4,2142.1 424.6,2143.2 426.8,2131.4 431.1,2131.4 433.2,2137.9 436.4,2143.2 438.6,2145.4 440.7,2161.4 443.9,2173.2 447.1,2190.4 451.4,2203.2 454.6,2215.0 458.9,2222.5 465.4,2226.8 471.8,2228.7 510.4,2228.9 510.4,2228.9 344.8,2228.9" fill="#00ced1" fill-opacity="0.376"/>
<polyline points="344.8,2228.9 390.4,2228.9 394.6,2226.8 398.9,2221.4 403.2,2210.7 407.5,2201.1 411.8,2191.4 415.0,2176.4 418.2,2166.8 420.4,2160.4 421.4,2142.1 424.6,2143.2 426.8,2131.4 431.1,2131.4 433.2,2137.9 436.4,2143.2 438.6,2145.4 440.7,2161.4 443.9,2173.2 447.1,2190.4 451.4,2203.2 454.6,2215.0 458.9,2222.5 465.4,2226.8 471.8,2228.7 510.4,2228.9" fill="none" stroke="#12ccd0" stroke-width="2.2" stroke-linejoin="round"/>
<polygon points="344.8,2283.0 393.6,2283.0 395.7,2276.1 398.4,2260.0 400.5,2233.2 403.2,2209.6 405.4,2193.6 407.0,2182.9 408.6,2189.3 410.2,2185.0 412.9,2193.6 415.0,2206.4 417.1,2213.9 419.8,2216.1 421.4,2222.5 424.6,2233.2 428.9,2242.9 432.1,2251.4 435.4,2257.9 438.6,2264.3 442.9,2271.8 447.1,2279.3 451.4,2282.0 453.6,2283.0 510.4,2283.0 510.4,2283.0 344.8,2283.0" fill="#f77f14" fill-opacity="0.43"/>
<rect x="346.2" y="2118.6" width="163.3" height="162.8" fill="none" stroke="#111" stroke-width="1.3"/>
<line x1="346.2" y1="2118.6" x2="509.5" y2="2118.6" stroke="#666" stroke-width="1.4"/>
<polyline points="344.8,2283.0 393.6,2283.0 395.7,2276.1 398.4,2260.0 400.5,2233.2 403.2,2209.6 405.4,2193.6 407.0,2182.9 408.6,2189.3 410.2,2185.0 412.9,2193.6 415.0,2206.4 417.1,2213.9 419.8,2216.1 421.4,2222.5 424.6,2233.2 428.9,2242.9 432.1,2251.4 435.4,2257.9 438.6,2264.3 442.9,2271.8 447.1,2279.3 451.4,2282.0 453.6,2283.0 510.4,2283.0" fill="none" stroke="#f77f14" stroke-width="2.4" stroke-linejoin="round"/>
<path d="M349.5,2281.4v4 M357.6,2281.4v2.5 M362.5,2281.4v2.5 M369.1,2281.4v2.5 M375.6,2281.4v2.5 M378.9,2281.4v4 M380.5,2281.4v2.5 M382.1,2281.4v2.5 M383.8,2281.4v2.5 M385.4,2281.4v2.5 M387.0,2281.4v4 M395.2,2281.4v2.5 M400.1,2281.4v2.5 M406.6,2281.4v2.5 M411.5,2281.4v2.5 M413.2,2281.4v4 M414.8,2281.4v2.5 M416.4,2281.4v2.5 M427.9,2281.4v2.5 M436.0,2281.4v2.5 M444.2,2281.4v4 M449.1,2281.4v2.5 M452.3,2281.4v2.5 M455.6,2281.4v2.5 M457.2,2281.4v2.5 M458.9,2281.4v4 M470.3,2281.4v2.5 M476.8,2281.4v2.5 M485.0,2281.4v2.5 M489.9,2281.4v2.5 M493.2,2281.4v4 M494.8,2281.4v2.5 M496.4,2281.4v2.5 M506.2,2281.4v2.5" stroke="#000" stroke-width="0.9"/>
<polygon points="0.0,2455.0 9.6,2454.5 13.9,2450.7 17.1,2444.3 20.4,2438.9 23.6,2422.9 26.8,2399.3 30.0,2372.5 32.1,2357.5 34.8,2358.0 37.0,2367.1 38.6,2366.1 40.7,2375.7 42.9,2389.6 45.0,2404.6 47.1,2420.7 50.4,2435.7 54.6,2446.4 60.0,2452.9 66.4,2455.0 163.9,2455.0 163.9,2455.0 0.0,2455.0" fill="#00ced1" fill-opacity="0.376"/>
<polyline points="0.0,2455.0 9.6,2454.5 13.9,2450.7 17.1,2444.3 20.4,2438.9 23.6,2422.9 26.8,2399.3 30.0,2372.5 32.1,2357.5 34.8,2358.0 37.0,2367.1 38.6,2366.1 40.7,2375.7 42.9,2389.6 45.0,2404.6 47.1,2420.7 50.4,2435.7 54.6,2446.4 60.0,2452.9 66.4,2455.0 163.9,2455.0" fill="none" stroke="#12ccd0" stroke-width="2.2" stroke-linejoin="round"/>
<polygon points="0.0,2508.6 12.9,2508.6 16.1,2506.4 20.4,2498.9 23.6,2485.0 26.8,2458.2 30.0,2431.4 32.7,2410.0 35.4,2419.6 37.5,2431.4 40.7,2450.7 45.0,2468.9 48.2,2485.0 51.4,2493.6 55.7,2501.1 61.1,2505.4 68.6,2508.0 163.9,2508.6 163.9,2508.6 0.0,2508.6" fill="#f77f14" fill-opacity="0.43"/>
<rect x="1.3" y="2344.6" width="162.4" height="162.4" fill="none" stroke="#111" stroke-width="1.3"/>
<line x1="1.3" y1="2344.6" x2="163.7" y2="2344.6" stroke="#666" stroke-width="1.4"/>
<polyline points="0.0,2508.6 12.9,2508.6 16.1,2506.4 20.4,2498.9 23.6,2485.0 26.8,2458.2 30.0,2431.4 32.7,2410.0 35.4,2419.6 37.5,2431.4 40.7,2450.7 45.0,2468.9 48.2,2485.0 51.4,2493.6 55.7,2501.1 61.1,2505.4 68.6,2508.0 163.9,2508.6" fill="none" stroke="#f77f14" stroke-width="2.4" stroke-linejoin="round"/>
<path d="M4.5,2507.0v4 M12.7,2507.0v2.5 M17.5,2507.0v2.5 M24.0,2507.0v2.5 M30.5,2507.0v2.5 M33.8,2507.0v4 M35.4,2507.0v2.5 M37.0,2507.0v2.5 M38.7,2507.0v2.5 M40.3,2507.0v2.5 M41.9,2507.0v4 M50.0,2507.0v2.5 M54.9,2507.0v2.5 M61.4,2507.0v2.5 M66.3,2507.0v2.5 M67.9,2507.0v4 M69.5,2507.0v2.5 M71.1,2507.0v2.5 M82.5,2507.0v2.5 M90.6,2507.0v2.5 M98.7,2507.0v4 M103.6,2507.0v2.5 M106.9,2507.0v2.5 M110.1,2507.0v2.5 M111.7,2507.0v2.5 M113.4,2507.0v4 M124.7,2507.0v2.5 M131.2,2507.0v2.5 M139.3,2507.0v2.5 M144.2,2507.0v2.5 M147.5,2507.0v4 M149.1,2507.0v2.5 M150.7,2507.0v2.5 M160.5,2507.0v2.5" stroke="#000" stroke-width="0.9"/>
<polygon points="173.2,2455.0 228.9,2455.0 236.4,2452.9 242.9,2449.6 246.1,2447.5 249.3,2448.0 253.6,2444.3 260.0,2444.8 264.3,2440.0 267.5,2431.4 270.7,2418.6 272.9,2410.0 275.0,2397.1 277.1,2386.4 279.3,2374.6 281.4,2371.4 283.6,2362.9 286.2,2358.0 288.9,2362.9 291.1,2370.4 293.2,2386.4 295.4,2403.6 298.6,2420.7 301.8,2435.7 305.0,2448.6 309.3,2453.4 315.7,2455.0 337.1,2455.0 337.1,2455.0 173.2,2455.0" fill="#00ced1" fill-opacity="0.376"/>
<polyline points="173.2,2455.0 228.9,2455.0 236.4,2452.9 242.9,2449.6 246.1,2447.5 249.3,2448.0 253.6,2444.3 260.0,2444.8 264.3,2440.0 267.5,2431.4 270.7,2418.6 272.9,2410.0 275.0,2397.1 277.1,2386.4 279.3,2374.6 281.4,2371.4 283.6,2362.9 286.2,2358.0 288.9,2362.9 291.1,2370.4 293.2,2386.4 295.4,2403.6 298.6,2420.7 301.8,2435.7 305.0,2448.6 309.3,2453.4 315.7,2455.0 337.1,2455.0" fill="none" stroke="#12ccd0" stroke-width="2.2" stroke-linejoin="round"/>
<polygon points="173.2,2508.6 251.4,2508.6 255.7,2505.4 260.0,2495.7 263.2,2482.9 265.4,2471.1 269.6,2461.4 272.9,2466.8 276.1,2470.0 280.4,2474.3 283.6,2463.6 286.8,2452.9 288.9,2442.1 291.1,2426.1 294.3,2410.0 296.4,2414.3 299.6,2416.4 301.8,2426.1 303.9,2442.1 306.1,2458.2 308.2,2474.3 310.4,2490.4 313.6,2502.1 316.8,2507.5 320.0,2508.6 337.1,2508.6 337.1,2508.6 173.2,2508.6" fill="#f77f14" fill-opacity="0.43"/>
<rect x="174.3" y="2344.6" width="162.8" height="162.4" fill="none" stroke="#111" stroke-width="1.3"/>
<line x1="174.3" y1="2344.6" x2="337.1" y2="2344.6" stroke="#666" stroke-width="1.4"/>
<polyline points="173.2,2508.6 251.4,2508.6 255.7,2505.4 260.0,2495.7 263.2,2482.9 265.4,2471.1 269.6,2461.4 272.9,2466.8 276.1,2470.0 280.4,2474.3 283.6,2463.6 286.8,2452.9 288.9,2442.1 291.1,2426.1 294.3,2410.0 296.4,2414.3 299.6,2416.4 301.8,2426.1 303.9,2442.1 306.1,2458.2 308.2,2474.3 310.4,2490.4 313.6,2502.1 316.8,2507.5 320.0,2508.6 337.1,2508.6" fill="none" stroke="#f77f14" stroke-width="2.4" stroke-linejoin="round"/>
<path d="M177.6,2507.0v4 M185.7,2507.0v2.5 M190.6,2507.0v2.5 M197.1,2507.0v2.5 M203.6,2507.0v2.5 M206.9,2507.0v4 M208.5,2507.0v2.5 M210.1,2507.0v2.5 M211.7,2507.0v2.5 M213.4,2507.0v2.5 M215.0,2507.0v4 M223.1,2507.0v2.5 M228.0,2507.0v2.5 M234.5,2507.0v2.5 M239.4,2507.0v2.5 M241.0,2507.0v4 M242.7,2507.0v2.5 M244.3,2507.0v2.5 M255.7,2507.0v2.5 M263.8,2507.0v2.5 M272.0,2507.0v4 M276.9,2507.0v2.5 M280.1,2507.0v2.5 M283.4,2507.0v2.5 M285.0,2507.0v2.5 M286.6,2507.0v4 M298.0,2507.0v2.5 M304.5,2507.0v2.5 M312.7,2507.0v2.5 M317.6,2507.0v2.5 M320.8,2507.0v4 M322.4,2507.0v2.5 M324.1,2507.0v2.5 M333.8,2507.0v2.5" stroke="#000" stroke-width="0.9"/>
<polygon points="347.0,2455.0 353.9,2455.0 361.4,2452.9 366.8,2448.6 372.1,2441.1 376.4,2429.3 379.6,2414.3 382.9,2395.0 386.1,2375.7 388.2,2356.4 390.4,2363.9 393.0,2358.6 395.7,2367.1 398.4,2380.0 401.1,2385.4 404.3,2399.3 406.4,2403.6 408.6,2414.3 411.8,2427.1 417.1,2437.9 422.5,2447.5 428.9,2452.9 441.8,2454.8 510.9,2455.0 510.9,2455.0 347.0,2455.0" fill="#00ced1" fill-opacity="0.376"/>
<polyline points="347.0,2455.0 353.9,2455.0 361.4,2452.9 366.8,2448.6 372.1,2441.1 376.4,2429.3 379.6,2414.3 382.9,2395.0 386.1,2375.7 388.2,2356.4 390.4,2363.9 393.0,2358.6 395.7,2367.1 398.4,2380.0 401.1,2385.4 404.3,2399.3 406.4,2403.6 408.6,2414.3 411.8,2427.1 417.1,2437.9 422.5,2447.5 428.9,2452.9 441.8,2454.8 510.9,2455.0" fill="none" stroke="#12ccd0" stroke-width="2.2" stroke-linejoin="round"/>
<polygon points="347.0,2508.6 372.1,2508.6 377.5,2506.4 380.7,2501.1 382.9,2493.6 385.0,2487.1 387.1,2483.9 389.3,2472.1 392.5,2456.1 395.7,2437.9 398.4,2423.9 401.1,2422.9 403.2,2410.0 405.4,2425.0 408.6,2423.9 410.7,2429.3 412.3,2419.6 413.9,2421.8 415.0,2429.3 418.2,2432.5 421.4,2444.3 424.6,2449.6 428.9,2463.6 432.1,2474.3 435.4,2488.2 439.6,2498.9 443.9,2505.4 449.3,2508.6 510.9,2508.6 510.9,2508.6 347.0,2508.6" fill="#f77f14" fill-opacity="0.43"/>
<rect x="348.4" y="2344.6" width="162.2" height="162.4" fill="none" stroke="#111" stroke-width="1.3"/>
<line x1="348.4" y1="2344.6" x2="510.6" y2="2344.6" stroke="#666" stroke-width="1.4"/>
<polyline points="347.0,2508.6 372.1,2508.6 377.5,2506.4 380.7,2501.1 382.9,2493.6 385.0,2487.1 387.1,2483.9 389.3,2472.1 392.5,2456.1 395.7,2437.9 398.4,2423.9 401.1,2422.9 403.2,2410.0 405.4,2425.0 408.6,2423.9 410.7,2429.3 412.3,2419.6 413.9,2421.8 415.0,2429.3 418.2,2432.5 421.4,2444.3 424.6,2449.6 428.9,2463.6 432.1,2474.3 435.4,2488.2 439.6,2498.9 443.9,2505.4 449.3,2508.6 510.9,2508.6" fill="none" stroke="#f77f14" stroke-width="2.4" stroke-linejoin="round"/>
<path d="M351.6,2507.0v4 M359.8,2507.0v2.5 M364.6,2507.0v2.5 M371.1,2507.0v2.5 M377.6,2507.0v2.5 M380.8,2507.0v4 M382.5,2507.0v2.5 M384.1,2507.0v2.5 M385.7,2507.0v2.5 M387.3,2507.0v2.5 M388.9,2507.0v4 M397.1,2507.0v2.5 M401.9,2507.0v2.5 M408.4,2507.0v2.5 M413.3,2507.0v2.5 M414.9,2507.0v4 M416.5,2507.0v2.5 M418.1,2507.0v2.5 M429.5,2507.0v2.5 M437.6,2507.0v2.5 M445.7,2507.0v4 M450.6,2507.0v2.5 M453.8,2507.0v2.5 M457.1,2507.0v2.5 M458.7,2507.0v2.5 M460.3,2507.0v4 M471.7,2507.0v2.5 M478.2,2507.0v2.5 M486.3,2507.0v2.5 M491.1,2507.0v2.5 M494.4,2507.0v4 M496.0,2507.0v2.5 M497.6,2507.0v2.5 M507.4,2507.0v2.5" stroke="#000" stroke-width="0.9"/>
<text x="1273.3" y="2076.0" class="c b" font-size="32.0">h</text>
<text x="1468.8" y="2095.2" class="c" font-size="32.8" text-anchor="middle">Both culture</text>
<text x="1468.8" y="2134.9" class="c" font-size="32.8" text-anchor="middle">conditions merged</text>
<text x="1811.0" y="2112.8" class="c" font-size="26.3" fill="#1ba1cf">IL-2</text>
<text x="1810.3" y="2141.4" class="c" font-size="26.3" fill="#f7821f">IL-2+IL-35</text>
<path d="M1474.8,2421.6 1469.8,2421.6 1466.6,2419.8 1463.5,2416.6 1459.8,2414.1 1458.5,2414.1 1456.6,2412.9 1452.9,2412.3 1452.2,2411.6 1447.2,2410.4 1445.4,2409.1 1444.1,2409.1 1441.6,2407.9 1439.8,2407.9 1439.1,2407.3 1433.5,2407.9 1430.4,2409.1 1426.0,2409.1 1425.4,2409.8 1418.5,2409.8 1411.0,2406.0 1404.8,2400.4 1399.8,2391.7 1392.3,2382.9 1391.0,2380.4 1391.0,2378.5 1390.4,2377.9 1389.1,2371.0 1386.0,2365.4 1382.3,2361.0 1381.0,2357.9 1379.8,2356.7 1377.3,2351.7 1376.6,2348.5 1376.0,2347.9 1376.0,2340.4 1376.6,2339.8 1376.6,2337.3 1377.3,2336.7 1377.9,2332.3 1378.5,2331.7 1379.1,2328.5 1380.4,2326.7 1380.4,2324.8 1381.0,2324.2 1381.0,2314.2 1380.4,2313.5 1380.4,2311.0 1379.8,2310.4 1379.8,2307.3 1379.1,2306.7 1378.5,2299.8 1376.6,2296.0 1376.6,2294.8 1372.9,2287.9 1367.2,2282.3 1366.6,2282.3 1362.3,2277.3 1357.9,2267.9 1357.3,2264.2 1356.6,2263.5 1356.6,2259.2 1356.0,2258.5 1356.6,2251.0 1357.3,2250.4 1357.3,2249.2 1360.4,2245.4 1361.0,2245.4 1362.9,2243.5 1368.5,2239.8 1371.6,2238.5 1372.9,2237.3 1374.1,2237.3 1377.2,2235.4 1379.1,2235.4 1379.8,2234.8 1387.2,2234.8 1389.1,2232.9 1389.1,2225.4 1388.5,2224.8 1388.5,2220.4 1387.3,2217.3 1387.3,2215.4 1386.6,2214.8 1386.6,2208.5 1389.8,2203.5 1397.9,2196.0 1403.5,2192.3 1406.6,2191.0 1407.9,2189.8 1417.9,2184.8 1419.1,2184.8 1422.9,2182.3 1434.1,2176.7 1435.4,2176.7 1439.8,2174.8 1442.2,2174.8 1445.4,2173.5 1447.9,2173.5 1451.0,2172.3 1452.9,2172.3 1455.4,2171.0 1457.2,2171.0 1459.8,2169.8 1462.2,2169.8 1462.9,2169.2 1466.6,2169.2 1467.2,2169.8 1468.5,2169.8 1472.2,2171.7 1477.9,2176.0 1479.1,2176.0 1479.8,2176.7 1491.0,2176.0 1491.6,2176.7 1493.5,2176.7 1496.0,2177.9 1499.8,2181.0 1500.4,2181.0 1507.9,2188.5 1507.9,2189.2 1512.9,2195.4 1515.4,2201.7 1517.2,2203.5 1522.2,2204.2 1522.9,2203.5 1530.4,2203.5 1531.0,2202.9 1541.6,2202.9 1544.1,2204.2 1547.9,2208.5 1551.0,2214.8 1551.6,2218.5 1553.5,2222.9 1554.1,2226.7 1555.4,2228.5 1556.6,2232.9 1561.6,2242.3 1564.8,2244.8 1566.0,2244.8 1566.6,2245.4 1569.1,2245.4 1569.8,2246.0 1573.5,2246.7 1574.1,2247.3 1576.0,2247.3 1582.2,2249.8 1592.9,2257.9 1593.5,2257.9 1595.4,2259.8 1601.6,2263.5 1604.1,2266.0 1606.0,2269.8 1606.0,2271.7 1606.6,2272.3 1606.6,2284.8 1607.2,2285.4 1607.2,2300.4 1606.6,2301.0 1606.6,2310.4 1606.0,2311.0 1606.0,2312.9 1605.4,2314.2 1603.5,2316.0 1596.0,2317.9 1584.8,2323.5 1577.9,2329.1 1567.9,2335.4 1563.5,2339.8 1557.9,2343.5 1554.8,2344.1 1554.1,2344.8 1552.2,2344.8 1551.6,2345.4 1549.1,2345.4 1548.5,2346.0 1541.0,2346.6 1540.4,2347.3 1536.6,2347.3 1536.0,2347.9 1522.2,2348.5 1517.9,2346.6 1515.4,2346.6 1512.9,2348.5 1511.0,2351.7 1511.0,2352.9 1509.7,2355.4 1509.7,2362.3 1510.4,2362.9 1510.4,2364.8 1511.6,2367.3 1513.5,2369.2 1516.0,2373.5 1516.6,2377.3 1516.6,2379.2 1516.0,2380.4 1512.9,2384.2 1512.9,2384.8 1506.6,2391.0 1506.6,2391.7 1489.1,2408.5 1489.1,2409.2 1482.9,2417.3 1480.4,2419.1 1474.8,2421.6ZM1366.0,2219.8 1362.9,2219.8 1362.3,2219.2 1361.6,2217.9 1361.6,2216.0 1362.9,2214.2 1366.0,2214.2 1367.2,2215.4 1367.9,2217.3 1366.0,2219.8Z" fill="#0008e0" fill-rule="evenodd"/>
<path d="M1474.8,2420.5 1470.4,2420.8 1466.6,2418.5 1464.1,2415.9 1460.4,2413.4 1439.1,2406.3 1436.6,2406.3 1429.8,2407.9 1426.0,2407.8 1424.8,2408.3 1417.2,2407.9 1411.0,2404.9 1406.0,2400.4 1400.4,2391.1 1393.2,2382.3 1392.0,2379.8 1389.8,2370.4 1387.9,2366.7 1383.5,2360.9 1378.2,2351.0 1377.0,2347.3 1376.9,2341.0 1378.8,2332.9 1382.0,2324.2 1382.0,2314.2 1381.0,2309.8 1381.0,2307.3 1380.4,2306.0 1380.2,2299.2 1378.0,2294.2 1373.8,2287.3 1367.9,2281.6 1366.6,2281.0 1363.2,2276.7 1358.7,2267.3 1357.5,2262.9 1357.5,2259.2 1356.9,2257.9 1356.9,2255.4 1358.3,2249.8 1360.0,2247.3 1362.9,2244.9 1373.5,2238.3 1377.9,2236.4 1380.4,2235.8 1387.2,2236.0 1390.3,2233.5 1390.3,2225.4 1389.7,2224.2 1389.6,2220.4 1387.6,2214.2 1387.6,2209.2 1391.1,2203.5 1397.9,2197.3 1408.5,2190.7 1434.8,2177.8 1440.4,2175.8 1447.9,2174.5 1463.5,2170.2 1466.0,2170.2 1467.9,2170.8 1472.0,2172.9 1477.2,2176.9 1479.8,2177.7 1490.4,2177.1 1492.9,2177.7 1495.8,2179.2 1500.4,2182.5 1506.5,2188.5 1511.6,2195.6 1514.7,2202.3 1516.6,2204.3 1520.4,2205.2 1522.2,2205.1 1523.5,2204.5 1530.4,2204.4 1531.6,2203.8 1541.0,2204.0 1544.1,2205.7 1546.6,2209.0 1550.0,2215.4 1552.5,2224.8 1555.9,2233.5 1561.0,2242.7 1563.0,2244.8 1564.8,2245.6 1575.4,2248.3 1581.6,2250.7 1589.8,2257.0 1601.6,2265.0 1604.3,2268.5 1605.7,2272.9 1605.8,2284.8 1606.4,2286.0 1605.6,2309.8 1605.0,2312.3 1603.4,2314.8 1601.6,2315.7 1596.0,2317.0 1584.1,2322.8 1572.2,2331.8 1567.2,2334.7 1560.4,2341.0 1557.2,2342.5 1547.9,2344.9 1545.4,2344.9 1544.1,2345.6 1541.0,2345.6 1539.8,2346.2 1536.6,2346.2 1535.4,2346.8 1530.4,2346.7 1529.1,2347.4 1522.9,2347.6 1517.9,2345.6 1515.4,2345.6 1513.5,2346.4 1511.0,2349.8 1508.8,2355.4 1508.8,2362.3 1510.8,2367.9 1513.5,2371.2 1515.1,2374.2 1515.8,2376.0 1515.5,2379.2 1511.6,2384.8 1505.2,2391.7 1488.4,2407.9 1482.2,2416.6 1474.8,2420.5ZM1365.4,2218.7 1363.3,2218.5 1362.6,2216.7 1363.5,2215.2 1365.4,2215.2 1366.2,2216.0 1366.4,2217.3 1365.4,2218.7Z" fill="#0030ff" fill-rule="evenodd"/>
<path d="M1474.1,2419.8 1471.0,2419.9 1469.1,2419.1 1464.8,2415.1 1460.4,2412.1 1442.2,2406.0 1436.6,2405.3 1429.1,2406.6 1419.8,2406.8 1413.5,2405.1 1411.6,2404.1 1409.0,2402.3 1406.7,2399.8 1399.0,2387.3 1394.7,2382.3 1393.2,2379.2 1391.0,2370.4 1388.8,2366.0 1384.5,2360.4 1383.0,2356.7 1379.5,2351.0 1378.1,2346.7 1377.9,2341.7 1378.5,2337.9 1379.8,2332.9 1383.1,2324.2 1383.4,2313.5 1382.6,2306.7 1382.0,2305.4 1382.8,2298.5 1374.8,2286.4 1368.5,2280.7 1367.2,2280.1 1364.4,2276.7 1359.8,2267.3 1358.5,2262.4 1358.6,2259.2 1358.0,2257.3 1358.8,2252.3 1359.8,2249.8 1361.0,2247.9 1363.5,2246.0 1373.5,2239.7 1377.9,2237.7 1381.0,2236.9 1387.9,2237.2 1391.6,2234.5 1392.2,2232.9 1391.9,2226.7 1390.9,2223.5 1390.5,2219.8 1388.6,2213.5 1388.6,2209.8 1390.2,2206.7 1392.2,2204.2 1398.5,2198.2 1408.5,2191.9 1420.2,2186.7 1426.0,2183.3 1439.1,2177.6 1448.5,2175.5 1456.6,2173.1 1465.4,2171.5 1471.0,2173.9 1476.6,2178.2 1479.1,2179.1 1489.8,2178.6 1495.4,2180.4 1499.8,2183.6 1505.6,2189.2 1510.5,2196.0 1513.9,2202.9 1516.6,2205.6 1522.2,2206.4 1524.1,2205.6 1535.4,2204.8 1540.4,2205.1 1543.3,2206.7 1548.7,2215.4 1551.5,2225.4 1553.4,2229.2 1554.8,2233.8 1560.4,2243.5 1562.2,2245.4 1566.0,2247.3 1579.1,2250.7 1581.6,2251.9 1588.5,2258.0 1595.4,2262.1 1601.6,2266.7 1603.0,2268.5 1604.6,2273.5 1604.8,2284.8 1605.4,2286.7 1604.4,2309.2 1602.9,2313.7 1595.4,2316.1 1583.5,2321.8 1571.6,2331.1 1566.6,2333.8 1559.8,2340.2 1557.2,2341.2 1543.5,2344.2 1534.8,2345.4 1530.4,2345.2 1526.0,2346.4 1523.5,2346.5 1517.9,2344.5 1514.8,2344.4 1512.6,2345.4 1510.0,2349.2 1507.9,2354.8 1507.7,2362.3 1508.4,2365.4 1509.8,2368.3 1514.0,2374.2 1514.8,2376.7 1514.7,2378.5 1510.8,2384.2 1489.1,2405.4 1481.6,2415.8 1474.1,2419.8ZM1364.8,2217.5 1364.2,2217.3 1364.2,2216.7 1364.8,2216.5 1364.8,2217.5Z" fill="#0060ff" fill-rule="evenodd"/>
<path d="M1474.1,2418.5 1471.0,2418.8 1467.9,2416.8 1461.6,2411.3 1451.6,2407.5 1439.1,2404.2 1428.5,2405.2 1420.4,2405.3 1417.2,2404.9 1412.2,2403.3 1409.8,2401.6 1407.6,2399.2 1400.4,2387.9 1399.8,2386.1 1395.1,2379.8 1391.9,2369.8 1389.8,2365.4 1385.5,2359.8 1384.0,2356.0 1380.5,2350.4 1379.3,2346.7 1379.0,2341.7 1379.4,2338.5 1380.6,2333.5 1384.3,2324.2 1385.4,2313.5 1384.5,2304.8 1385.4,2303.3 1388.4,2301.7 1387.8,2297.9 1387.6,2297.3 1382.8,2294.2 1377.2,2288.0 1375.8,2285.4 1369.3,2279.8 1367.9,2279.1 1365.2,2276.0 1361.3,2268.5 1359.5,2262.3 1359.6,2258.5 1359.1,2257.3 1359.9,2252.3 1361.7,2249.2 1364.8,2246.8 1369.8,2244.2 1374.1,2240.8 1378.5,2238.6 1381.0,2238.0 1389.1,2238.3 1393.4,2235.4 1394.2,2233.5 1394.2,2228.5 1392.1,2222.9 1391.7,2219.8 1389.7,2213.5 1389.7,2209.8 1391.3,2207.3 1401.6,2197.3 1409.1,2192.8 1420.4,2187.9 1425.4,2184.8 1432.9,2182.0 1441.0,2178.1 1448.5,2176.7 1456.6,2174.2 1464.8,2173.0 1470.4,2175.2 1476.0,2179.8 1478.5,2180.7 1489.1,2180.1 1492.9,2180.8 1496.0,2182.5 1500.4,2185.6 1504.7,2189.8 1508.4,2194.8 1513.1,2203.5 1516.0,2206.5 1519.8,2207.7 1522.2,2207.8 1524.8,2206.9 1534.8,2205.9 1540.4,2206.4 1542.2,2207.5 1547.7,2216.0 1549.5,2223.5 1552.4,2229.8 1554.2,2235.4 1559.5,2244.2 1562.1,2246.7 1566.0,2248.6 1570.4,2250.3 1578.5,2251.9 1580.7,2252.9 1584.4,2256.0 1587.7,2259.8 1594.8,2263.4 1600.4,2267.3 1601.8,2269.2 1603.5,2273.5 1603.9,2284.8 1604.5,2286.7 1603.1,2308.5 1602.5,2311.7 1601.6,2312.9 1594.8,2315.2 1582.9,2321.0 1571.0,2330.2 1565.4,2333.1 1559.1,2339.2 1556.6,2340.2 1548.5,2341.2 1538.5,2343.3 1530.4,2343.8 1527.9,2344.8 1524.8,2345.3 1523.5,2345.3 1518.5,2343.4 1515.4,2343.1 1511.6,2344.3 1508.9,2348.5 1506.8,2354.8 1506.7,2362.3 1508.0,2367.3 1512.5,2373.5 1513.9,2376.7 1513.8,2377.9 1508.2,2385.4 1489.8,2402.4 1481.2,2414.8 1477.9,2417.0 1474.1,2418.5Z" fill="#0090ff" fill-rule="evenodd"/>
<path d="M1474.1,2417.4 1472.2,2417.8 1470.4,2417.3 1461.6,2409.8 1452.2,2406.3 1439.1,2403.0 1428.5,2404.0 1418.5,2403.7 1412.9,2402.4 1408.8,2399.2 1407.0,2395.4 1401.7,2387.9 1400.0,2383.5 1396.3,2378.5 1391.2,2365.4 1386.6,2359.2 1382.0,2350.4 1380.4,2346.0 1380.1,2342.3 1380.4,2338.5 1381.6,2333.5 1385.6,2324.8 1386.5,2318.5 1388.5,2313.5 1388.3,2307.9 1389.1,2306.5 1389.8,2305.9 1392.2,2306.8 1403.5,2308.1 1409.1,2307.8 1414.1,2309.1 1415.0,2308.5 1412.8,2304.2 1413.1,2301.7 1414.8,2299.9 1420.4,2297.3 1421.6,2296.0 1420.6,2294.8 1412.9,2290.0 1402.2,2287.9 1392.2,2288.2 1391.0,2289.2 1388.5,2293.7 1387.2,2294.3 1385.4,2293.4 1380.4,2289.3 1375.4,2283.0 1368.5,2278.1 1366.1,2275.4 1362.8,2269.2 1361.3,2264.8 1360.1,2256.7 1361.0,2252.8 1362.9,2249.7 1365.4,2247.9 1370.4,2246.0 1376.6,2240.8 1381.6,2239.0 1390.4,2239.6 1393.8,2237.9 1395.8,2236.0 1397.1,2233.5 1397.2,2230.4 1395.9,2226.7 1393.5,2222.9 1390.7,2212.9 1390.8,2210.4 1392.2,2208.0 1397.6,2203.5 1402.2,2198.3 1409.8,2193.7 1421.0,2188.9 1426.0,2185.8 1433.5,2183.3 1441.6,2179.3 1457.2,2175.2 1464.8,2174.3 1469.8,2176.4 1474.8,2180.7 1477.9,2182.2 1479.8,2182.4 1484.1,2181.8 1491.6,2182.2 1493.5,2182.7 1498.5,2185.6 1505.8,2192.9 1512.2,2204.0 1516.0,2207.7 1519.8,2209.1 1522.2,2209.4 1532.9,2207.0 1539.8,2207.5 1541.4,2208.5 1546.6,2216.7 1548.1,2223.5 1551.1,2229.8 1553.6,2237.3 1558.5,2244.8 1561.0,2247.3 1569.8,2251.9 1577.9,2253.4 1579.8,2254.2 1583.2,2257.3 1586.0,2261.8 1593.5,2264.6 1599.6,2268.5 1600.9,2270.4 1602.3,2274.2 1602.9,2284.8 1603.5,2287.3 1603.0,2298.5 1602.2,2301.0 1601.7,2308.5 1601.0,2311.7 1596.6,2313.1 1582.9,2319.8 1570.4,2329.3 1564.1,2332.3 1558.5,2338.0 1552.2,2339.6 1544.8,2340.0 1538.5,2341.7 1530.4,2342.4 1524.8,2344.0 1518.5,2342.2 1514.8,2341.9 1511.6,2342.6 1510.4,2343.4 1507.7,2347.9 1505.9,2354.2 1505.8,2362.9 1507.2,2367.9 1511.8,2374.2 1512.8,2376.7 1512.7,2377.9 1506.6,2385.6 1496.3,2394.8 1488.5,2400.9 1483.7,2409.8 1480.5,2414.2 1474.1,2417.4ZM1418.8,2246.7 1424.6,2242.9 1426.6,2240.4 1426.5,2239.2 1424.4,2235.4 1425.2,2231.0 1424.1,2229.2 1421.6,2228.3 1409.8,2227.3 1404.6,2228.5 1400.6,2231.0 1400.0,2232.9 1400.1,2240.4 1401.0,2242.9 1402.9,2243.4 1409.1,2243.2 1414.8,2246.5 1418.8,2246.7ZM1471.2,2239.2 1473.3,2237.9 1474.5,2236.0 1474.9,2233.5 1474.1,2230.7 1472.7,2229.2 1470.4,2228.4 1467.9,2228.3 1465.4,2229.1 1463.8,2230.4 1462.8,2232.3 1462.5,2234.8 1463.2,2237.3 1464.8,2238.8 1466.6,2239.5 1471.2,2239.2ZM1536.6,2245.4 1538.4,2243.5 1538.7,2240.4 1536.9,2237.9 1534.8,2237.3 1532.9,2239.5 1532.6,2242.9 1534.1,2245.1 1536.6,2245.4ZM1471.5,2275.4 1472.3,2274.8 1472.3,2272.9 1470.0,2266.0 1463.5,2258.6 1461.0,2256.8 1459.1,2256.5 1456.6,2257.1 1446.0,2262.4 1444.1,2263.7 1442.9,2266.0 1442.3,2269.2 1442.9,2270.5 1447.2,2270.3 1452.9,2272.0 1461.1,2272.9 1471.5,2275.4ZM1544.9,2286.0 1546.5,2283.5 1546.0,2281.0 1543.5,2279.0 1541.0,2278.8 1539.6,2281.0 1540.3,2284.2 1542.2,2286.0 1544.9,2286.0ZM1439.6,2312.9 1447.9,2309.2 1449.1,2307.9 1449.3,2303.5 1450.9,2297.3 1449.1,2295.2 1444.1,2292.7 1432.9,2293.0 1429.5,2294.2 1427.9,2295.4 1427.5,2296.7 1431.6,2301.0 1432.1,2302.3 1431.6,2303.5 1427.9,2306.0 1421.0,2306.5 1419.1,2307.3 1417.7,2308.5 1417.7,2309.2 1418.4,2309.8 1420.4,2310.0 1427.2,2308.2 1429.8,2309.2 1435.4,2313.1 1439.6,2312.9ZM1556.5,2309.2 1557.3,2307.3 1556.6,2305.8 1554.8,2305.2 1552.8,2306.0 1552.2,2307.3 1552.9,2308.7 1554.8,2309.6 1556.5,2309.2ZM1488.5,2311.7 1491.0,2310.4 1491.1,2307.9 1489.0,2306.0 1486.0,2305.7 1483.5,2308.4 1482.7,2311.0 1484.8,2312.1 1488.5,2311.7ZM1533.2,2317.3 1534.5,2315.4 1534.3,2312.9 1532.9,2311.2 1530.4,2310.9 1528.6,2312.9 1528.8,2315.4 1531.0,2317.5 1533.2,2317.3ZM1507.9,2334.2 1509.1,2332.9 1509.4,2331.7 1508.4,2327.9 1506.6,2326.1 1503.5,2326.6 1501.7,2328.5 1501.9,2331.0 1504.8,2333.6 1506.6,2334.3 1507.9,2334.2ZM1409.6,2364.8 1411.0,2362.6 1412.6,2352.9 1411.6,2350.4 1408.8,2347.3 1408.6,2346.0 1413.2,2339.8 1412.2,2337.9 1410.4,2337.5 1408.4,2337.9 1406.6,2339.7 1405.4,2346.0 1402.9,2350.9 1402.2,2353.5 1402.8,2357.3 1404.8,2362.3 1407.2,2364.6 1409.6,2364.8ZM1449.2,2360.4 1450.8,2359.2 1451.7,2357.3 1451.7,2355.4 1450.9,2353.5 1449.1,2351.6 1446.0,2349.6 1443.5,2349.1 1441.6,2349.9 1440.4,2351.6 1439.9,2353.5 1440.2,2356.0 1441.2,2357.9 1444.8,2360.4 1447.2,2360.8 1449.2,2360.4ZM1454.9,2384.2 1455.9,2382.3 1455.4,2380.4 1454.1,2379.4 1452.2,2379.7 1451.2,2381.7 1451.4,2383.5 1452.9,2384.7 1454.9,2384.2Z" fill="#00c0ff" fill-rule="evenodd"/>
<path d="M1472.9,2416.8 1471.6,2416.8 1469.1,2415.3 1462.2,2408.8 1456.6,2406.2 1439.8,2401.9 1436.0,2401.7 1428.5,2402.6 1421.0,2402.8 1413.5,2401.3 1411.0,2399.8 1409.8,2398.4 1408.1,2394.8 1403.1,2387.9 1401.5,2382.3 1398.0,2377.9 1392.2,2364.6 1387.7,2358.5 1383.2,2349.8 1381.6,2345.6 1381.3,2339.2 1382.3,2334.2 1383.8,2330.4 1386.8,2325.4 1388.6,2318.5 1391.0,2313.5 1393.3,2311.0 1397.9,2309.7 1407.2,2310.0 1409.8,2310.8 1414.1,2313.8 1416.0,2314.2 1418.8,2313.5 1425.4,2310.3 1427.2,2309.9 1429.8,2310.8 1433.5,2314.0 1436.0,2314.9 1439.8,2314.3 1445.4,2312.2 1450.4,2312.0 1452.3,2311.0 1453.5,2308.5 1453.4,2306.7 1452.0,2303.5 1453.6,2297.9 1453.0,2296.0 1445.4,2290.6 1438.5,2292.0 1431.6,2292.0 1426.6,2293.7 1424.1,2293.8 1419.1,2292.3 1412.9,2288.4 1402.9,2286.9 1396.6,2286.8 1391.6,2285.0 1390.4,2285.0 1388.8,2286.0 1386.0,2291.2 1382.2,2288.5 1375.8,2281.7 1369.1,2277.2 1366.9,2274.8 1362.8,2266.0 1361.7,2261.7 1361.2,2256.7 1362.1,2252.9 1363.5,2250.8 1366.0,2249.1 1371.9,2247.3 1377.2,2241.8 1381.6,2240.0 1391.0,2241.2 1396.6,2239.0 1397.1,2239.2 1397.6,2243.5 1399.8,2246.0 1401.6,2246.4 1406.6,2245.5 1412.2,2247.5 1416.0,2248.2 1420.4,2247.3 1427.5,2242.9 1429.7,2240.4 1430.3,2237.9 1428.1,2234.8 1428.1,2231.0 1427.0,2229.2 1422.2,2226.6 1412.9,2226.1 1407.2,2226.6 1399.1,2228.6 1394.7,2222.3 1391.8,2212.9 1392.0,2210.4 1393.4,2208.5 1398.5,2204.4 1402.9,2199.2 1410.4,2194.5 1422.9,2189.3 1426.6,2186.9 1433.5,2184.7 1441.6,2180.6 1446.0,2179.8 1457.2,2176.2 1461.6,2175.6 1464.8,2175.5 1467.9,2176.7 1474.8,2182.2 1477.9,2183.6 1484.1,2183.1 1491.6,2183.9 1494.8,2184.9 1497.8,2186.7 1504.8,2193.3 1511.7,2204.8 1514.1,2207.6 1516.0,2208.9 1519.8,2210.4 1522.9,2210.9 1532.9,2208.4 1538.5,2208.6 1540.4,2209.3 1545.4,2216.7 1547.6,2226.0 1550.1,2230.4 1552.4,2237.9 1557.2,2245.4 1560.4,2248.3 1566.6,2251.7 1569.8,2254.0 1578.7,2256.0 1580.9,2257.9 1582.8,2261.7 1584.8,2263.6 1598.4,2269.8 1601.1,2274.2 1602.5,2287.3 1602.0,2298.5 1601.2,2301.0 1599.8,2310.5 1582.2,2319.1 1569.8,2328.3 1563.3,2331.0 1557.2,2337.1 1551.6,2338.2 1543.5,2338.4 1537.9,2340.1 1529.8,2341.1 1524.8,2342.7 1519.1,2341.1 1514.8,2340.8 1511.0,2341.3 1509.5,2342.3 1507.9,2344.3 1506.5,2347.3 1504.8,2354.2 1504.9,2362.9 1505.9,2367.3 1507.2,2370.0 1511.0,2374.6 1511.9,2377.3 1511.6,2377.9 1507.9,2382.9 1504.8,2386.0 1495.4,2394.0 1486.7,2399.8 1485.6,2401.7 1484.1,2406.8 1479.8,2413.5 1476.0,2415.8 1472.9,2416.8ZM1472.2,2240.4 1474.6,2238.5 1476.0,2235.8 1476.1,2232.3 1475.1,2228.5 1473.5,2227.3 1470.4,2226.9 1466.6,2227.2 1464.1,2228.3 1462.6,2229.8 1461.5,2232.3 1461.4,2235.4 1462.2,2237.9 1464.0,2239.8 1466.0,2240.6 1469.1,2240.9 1472.2,2240.4ZM1536.3,2246.7 1537.9,2246.0 1538.9,2244.8 1539.8,2241.0 1537.9,2237.4 1536.0,2236.0 1534.8,2235.8 1533.5,2236.4 1532.2,2238.4 1531.7,2242.9 1532.4,2244.8 1533.5,2245.9 1536.3,2246.7ZM1474.8,2282.9 1477.4,2278.5 1477.0,2275.4 1474.3,2271.0 1471.5,2264.8 1462.2,2255.7 1460.4,2255.2 1457.9,2255.6 1449.8,2259.0 1444.8,2260.1 1442.2,2262.3 1438.9,2270.4 1439.3,2272.9 1441.0,2275.0 1442.9,2275.3 1445.4,2272.9 1447.2,2272.1 1457.4,2274.2 1465.4,2277.1 1472.2,2283.1 1473.5,2283.4 1474.8,2282.9ZM1546.0,2287.3 1547.7,2284.2 1547.4,2281.0 1544.1,2278.1 1541.6,2277.2 1540.4,2277.3 1539.2,2278.5 1538.6,2280.4 1538.7,2282.9 1539.5,2284.8 1542.9,2287.6 1544.8,2287.8 1546.0,2287.3ZM1447.9,2286.7 1450.3,2284.2 1451.6,2281.0 1450.4,2279.3 1447.9,2278.8 1446.0,2279.4 1445.4,2282.3 1446.0,2286.3 1446.6,2286.9 1447.9,2286.7ZM1512.1,2282.9 1512.4,2281.0 1511.0,2280.5 1510.4,2282.3 1511.0,2283.0 1512.1,2282.9ZM1427.2,2304.9 1417.2,2305.2 1415.3,2304.2 1414.6,2302.3 1415.4,2301.0 1417.9,2299.5 1422.9,2297.8 1425.4,2297.7 1428.5,2299.2 1430.7,2301.7 1430.1,2303.5 1427.2,2304.9ZM1493.7,2314.2 1494.3,2310.4 1493.6,2306.7 1491.4,2304.8 1486.6,2303.1 1485.4,2303.2 1484.1,2304.3 1479.9,2311.7 1480.2,2312.9 1482.2,2313.7 1488.5,2313.8 1492.2,2314.6 1493.7,2314.2ZM1556.7,2310.4 1557.9,2309.3 1558.4,2307.9 1558.1,2306.0 1557.2,2304.8 1554.8,2304.0 1551.7,2305.4 1550.8,2307.3 1551.7,2309.2 1554.1,2310.6 1556.7,2310.4ZM1533.5,2318.5 1535.4,2316.0 1535.4,2312.9 1533.5,2310.4 1530.4,2309.9 1529.1,2310.6 1528.0,2312.3 1528.0,2315.4 1529.0,2317.3 1530.4,2318.4 1532.2,2318.9 1533.5,2318.5ZM1508.9,2335.4 1510.3,2333.5 1510.5,2331.7 1509.8,2327.9 1508.6,2325.4 1507.2,2324.3 1506.0,2324.1 1502.2,2325.4 1500.8,2326.7 1499.8,2328.5 1500.3,2331.7 1502.2,2333.6 1505.4,2335.5 1507.2,2335.9 1508.9,2335.4ZM1411.2,2367.3 1412.5,2364.8 1414.2,2353.5 1413.9,2351.0 1411.7,2346.0 1414.9,2341.0 1415.3,2339.2 1414.8,2337.3 1413.5,2336.3 1409.1,2335.5 1406.6,2336.2 1405.3,2337.9 1400.8,2351.7 1400.3,2354.8 1402.2,2361.0 1404.1,2364.3 1408.5,2367.5 1409.8,2367.8 1411.2,2367.3ZM1450.1,2361.7 1451.9,2360.4 1453.0,2358.5 1453.3,2356.0 1452.4,2353.5 1450.2,2351.0 1446.6,2348.7 1444.1,2347.9 1441.6,2348.5 1439.9,2350.4 1439.1,2352.9 1439.3,2356.0 1440.4,2358.5 1442.2,2360.3 1445.4,2361.8 1447.9,2362.2 1450.1,2361.7ZM1455.6,2386.0 1457.2,2383.5 1456.8,2380.4 1454.8,2378.3 1452.2,2378.3 1450.4,2380.9 1450.5,2384.2 1451.6,2385.7 1452.9,2386.3 1455.6,2386.0Z" fill="#00f0ff" fill-rule="evenodd"/>
<path d="M1474.1,2415.5 1471.6,2415.8 1469.8,2414.7 1462.9,2407.9 1457.2,2405.0 1439.8,2400.7 1436.0,2400.4 1427.9,2401.4 1421.0,2401.5 1414.1,2399.9 1411.6,2398.5 1409.6,2394.2 1405.0,2389.2 1403.6,2386.0 1402.7,2381.0 1397.4,2372.9 1393.2,2363.5 1388.5,2357.4 1384.3,2349.2 1382.8,2345.4 1382.3,2339.2 1383.2,2334.2 1387.9,2326.0 1390.4,2318.5 1391.0,2317.6 1394.1,2316.4 1396.7,2313.5 1398.5,2312.4 1407.2,2312.1 1412.9,2315.8 1415.4,2316.5 1419.1,2315.6 1425.4,2311.9 1427.2,2311.5 1429.8,2312.5 1432.9,2316.0 1434.8,2316.6 1438.5,2316.1 1445.4,2314.1 1452.0,2314.2 1454.1,2313.6 1457.2,2306.7 1456.2,2301.7 1457.6,2297.9 1455.9,2295.4 1450.2,2291.0 1449.9,2289.2 1451.6,2286.1 1454.1,2283.9 1459.1,2283.6 1464.1,2281.1 1466.6,2281.9 1471.6,2286.0 1474.8,2286.1 1476.6,2284.7 1480.5,2279.2 1481.6,2276.7 1481.4,2274.8 1476.6,2271.1 1473.1,2264.2 1467.2,2259.2 1464.1,2254.8 1462.9,2253.9 1459.1,2253.9 1450.4,2257.1 1448.5,2256.9 1444.8,2255.2 1442.9,2256.2 1440.5,2259.2 1436.2,2267.9 1436.3,2271.0 1437.7,2274.8 1442.2,2279.6 1443.1,2281.7 1442.7,2287.3 1441.7,2289.2 1439.9,2290.4 1437.2,2291.1 1431.0,2290.7 1425.4,2291.7 1422.2,2291.6 1419.1,2290.5 1414.8,2287.1 1397.2,2285.3 1392.2,2281.6 1389.8,2282.0 1387.0,2283.5 1385.1,2285.4 1384.1,2287.1 1381.0,2285.1 1375.2,2279.8 1369.8,2276.4 1367.6,2274.2 1363.8,2266.0 1362.7,2261.7 1362.4,2256.7 1363.4,2252.9 1364.3,2251.7 1366.6,2250.2 1373.2,2248.5 1374.8,2247.3 1377.8,2242.9 1381.6,2241.1 1384.8,2241.3 1389.8,2242.8 1393.5,2242.8 1399.1,2248.8 1401.0,2249.7 1406.0,2247.9 1412.3,2249.2 1418.5,2249.1 1429.8,2243.6 1435.4,2237.2 1443.0,2231.0 1443.7,2227.3 1442.2,2223.2 1441.0,2222.5 1439.1,2222.8 1437.2,2224.4 1434.6,2228.5 1432.2,2229.7 1430.4,2229.2 1424.1,2225.9 1420.4,2224.8 1411.0,2225.1 1401.6,2226.5 1399.1,2226.3 1396.0,2222.3 1394.3,2217.9 1393.0,2212.9 1393.3,2210.4 1399.1,2205.3 1403.5,2200.0 1411.0,2195.2 1417.9,2192.1 1423.5,2190.3 1427.2,2188.1 1432.9,2186.4 1440.4,2182.4 1446.0,2181.2 1457.2,2177.1 1461.6,2176.4 1464.8,2176.5 1467.9,2177.8 1474.1,2183.0 1477.2,2184.6 1479.1,2185.0 1484.1,2184.4 1491.0,2185.4 1496.6,2187.6 1504.1,2194.0 1511.0,2205.2 1513.5,2208.2 1519.1,2211.4 1523.5,2212.2 1531.0,2210.8 1533.5,2209.8 1539.8,2210.2 1544.6,2217.3 1546.6,2226.6 1550.0,2233.5 1551.1,2238.5 1556.0,2246.2 1559.1,2248.9 1563.5,2251.1 1569.1,2255.7 1577.9,2258.2 1580.4,2261.0 1580.1,2262.9 1580.9,2264.2 1585.8,2267.3 1588.5,2269.8 1589.8,2270.3 1591.6,2269.5 1592.9,2269.6 1596.6,2270.8 1597.8,2271.7 1600.2,2276.0 1601.4,2287.3 1601.2,2297.9 1598.5,2309.5 1582.2,2318.1 1569.1,2327.5 1562.6,2329.8 1556.6,2335.5 1551.6,2336.9 1542.9,2336.9 1537.2,2338.8 1529.8,2339.7 1524.8,2341.2 1519.1,2340.0 1513.5,2339.7 1510.4,2339.9 1509.1,2340.6 1506.5,2344.2 1504.8,2349.2 1503.8,2354.8 1504.1,2362.9 1505.5,2368.5 1510.1,2374.8 1510.9,2377.3 1506.2,2383.5 1500.5,2388.5 1494.8,2393.0 1485.4,2398.5 1484.1,2400.8 1483.4,2406.0 1480.9,2411.0 1477.9,2413.9 1474.1,2415.5ZM1471.1,2242.3 1472.9,2241.8 1474.8,2240.4 1476.5,2237.9 1477.3,2235.4 1477.0,2227.9 1476.0,2226.2 1474.1,2225.5 1469.1,2225.6 1464.8,2226.7 1461.9,2228.5 1460.3,2231.7 1460.5,2236.7 1462.2,2239.9 1466.0,2241.9 1471.1,2242.3ZM1538.1,2247.3 1540.4,2244.2 1540.9,2240.4 1540.0,2238.5 1537.2,2235.6 1535.4,2234.2 1534.1,2234.1 1532.5,2235.4 1531.4,2237.9 1530.7,2241.0 1531.0,2244.2 1532.2,2246.3 1534.1,2247.5 1536.0,2247.8 1538.1,2247.3ZM1545.5,2289.8 1547.2,2289.0 1548.3,2287.3 1549.2,2283.5 1548.8,2281.0 1547.2,2279.2 1543.5,2276.7 1541.0,2275.6 1539.8,2275.7 1538.5,2277.1 1537.8,2279.2 1537.7,2281.7 1538.2,2284.2 1539.8,2286.6 1541.6,2288.3 1543.5,2289.4 1545.5,2289.8ZM1513.1,2286.7 1514.6,2282.9 1514.5,2279.8 1512.9,2277.8 1510.4,2277.6 1508.4,2279.8 1508.4,2282.9 1510.4,2285.7 1512.2,2286.8 1513.1,2286.7ZM1426.6,2304.2 1419.1,2304.2 1417.3,2303.5 1416.5,2302.3 1417.3,2301.0 1419.8,2299.7 1422.9,2298.8 1425.4,2298.7 1427.9,2299.8 1429.6,2301.7 1429.1,2303.0 1426.6,2304.2ZM1495.6,2317.3 1496.7,2314.8 1496.3,2306.7 1495.7,2304.8 1494.1,2303.8 1486.0,2301.0 1483.5,2301.0 1481.3,2306.7 1477.1,2312.3 1476.7,2313.5 1477.2,2314.7 1479.1,2315.3 1487.9,2315.4 1493.5,2317.6 1495.6,2317.3ZM1555.8,2311.7 1558.5,2310.1 1559.3,2307.3 1557.9,2304.0 1555.4,2302.9 1551.1,2304.8 1549.9,2306.0 1549.5,2307.3 1550.3,2309.2 1551.7,2310.4 1553.5,2311.4 1555.8,2311.7ZM1534.3,2319.8 1535.9,2317.9 1536.6,2316.0 1536.8,2313.5 1536.2,2311.7 1535.4,2310.4 1533.5,2309.2 1531.6,2308.8 1529.8,2309.1 1528.2,2310.4 1527.3,2312.3 1527.1,2314.8 1527.6,2316.7 1529.1,2318.7 1531.0,2320.1 1532.9,2320.4 1534.3,2319.8ZM1508.7,2337.3 1511.0,2334.7 1511.4,2330.4 1509.6,2323.5 1508.5,2322.3 1506.6,2322.0 1502.2,2323.5 1499.8,2325.3 1498.4,2327.9 1498.2,2330.4 1499.5,2332.9 1502.2,2335.2 1506.0,2337.2 1508.7,2337.3ZM1412.6,2373.5 1414.2,2371.7 1414.3,2360.4 1415.6,2352.9 1414.0,2346.0 1416.6,2341.0 1416.9,2338.5 1416.0,2336.1 1414.1,2334.8 1406.0,2333.7 1404.7,2334.2 1403.8,2335.4 1402.5,2342.9 1398.8,2352.3 1398.4,2355.4 1401.2,2362.9 1406.1,2369.2 1407.6,2372.9 1409.8,2373.8 1412.6,2373.5ZM1448.2,2363.5 1451.6,2362.5 1454.0,2360.4 1454.9,2357.9 1454.5,2354.8 1452.5,2351.7 1449.1,2348.9 1444.8,2346.6 1442.2,2346.6 1440.4,2347.9 1438.6,2351.0 1438.2,2354.2 1438.7,2357.3 1439.8,2359.3 1441.6,2361.2 1445.4,2363.0 1448.2,2363.5ZM1459.2,2389.2 1458.6,2382.3 1457.4,2379.2 1454.8,2377.1 1452.9,2376.9 1451.6,2377.5 1450.4,2378.9 1449.5,2381.7 1449.6,2384.2 1450.4,2386.0 1452.2,2387.6 1455.4,2388.9 1457.9,2389.6 1459.2,2389.2Z" fill="#00ffc8" fill-rule="evenodd"/>
<path d="M1473.5,2414.8 1472.2,2415.1 1469.8,2413.8 1462.9,2406.7 1459.8,2404.6 1457.2,2403.6 1437.2,2399.3 1421.6,2400.3 1415.4,2398.3 1412.9,2396.8 1411.0,2392.9 1406.0,2388.3 1404.7,2385.4 1404.5,2381.7 1407.2,2379.2 1415.7,2375.4 1417.7,2373.5 1418.3,2372.3 1416.5,2366.7 1415.6,2360.4 1416.8,2352.3 1416.1,2346.0 1418.5,2339.8 1417.6,2335.4 1416.5,2334.2 1414.8,2333.4 1404.1,2331.4 1398.5,2329.4 1397.2,2329.8 1397.2,2331.7 1400.4,2335.4 1401.5,2339.2 1400.7,2344.2 1396.9,2351.7 1396.2,2354.2 1396.5,2356.7 1398.2,2361.0 1402.4,2368.5 1401.8,2370.4 1399.8,2372.7 1397.1,2369.2 1394.2,2362.3 1389.5,2356.7 1383.9,2345.4 1383.5,2342.9 1383.6,2337.3 1384.8,2332.9 1389.2,2326.0 1391.0,2320.0 1396.0,2318.8 1399.8,2315.2 1401.9,2314.2 1406.6,2314.0 1411.8,2317.3 1414.8,2318.3 1424.1,2317.3 1425.4,2319.8 1427.2,2320.7 1432.9,2318.8 1446.0,2315.8 1457.2,2316.8 1458.1,2315.4 1458.4,2310.4 1461.6,2304.8 1462.9,2303.4 1467.9,2300.4 1469.6,2297.9 1468.4,2294.8 1467.2,2293.3 1465.4,2293.0 1459.8,2293.6 1457.2,2293.0 1453.5,2290.4 1453.2,2289.2 1453.6,2287.9 1455.3,2286.7 1464.1,2284.0 1466.5,2284.8 1470.4,2288.2 1472.9,2288.6 1475.4,2287.9 1477.9,2286.1 1487.7,2275.4 1488.6,2273.5 1488.2,2272.3 1486.0,2271.0 1480.4,2270.6 1477.9,2269.5 1474.6,2263.5 1467.9,2258.0 1465.4,2252.7 1464.1,2251.4 1461.0,2251.5 1454.1,2254.8 1451.0,2255.5 1449.1,2254.8 1444.1,2250.4 1439.1,2255.8 1433.5,2258.5 1432.2,2261.3 1431.6,2266.7 1431.6,2269.2 1432.1,2270.4 1434.5,2273.5 1436.8,2278.5 1440.3,2282.3 1440.5,2284.8 1439.8,2287.9 1438.6,2289.2 1436.6,2289.7 1429.8,2288.4 1422.2,2289.3 1420.3,2288.5 1417.9,2285.6 1416.6,2284.9 1408.5,2285.4 1398.5,2283.6 1397.4,2282.3 1396.5,2278.5 1394.8,2277.5 1392.2,2278.1 1382.2,2283.7 1381.6,2283.6 1368.5,2273.7 1365.1,2267.3 1363.6,2261.0 1363.5,2256.7 1364.4,2253.5 1365.3,2252.3 1369.8,2250.7 1374.1,2251.1 1376.0,2250.5 1377.2,2249.2 1377.0,2246.7 1378.5,2244.2 1379.8,2243.0 1382.2,2242.2 1385.4,2242.8 1389.1,2244.5 1389.5,2244.8 1389.3,2246.7 1389.6,2247.3 1394.1,2247.4 1398.9,2251.7 1401.0,2252.2 1406.6,2250.2 1411.6,2250.6 1418.5,2250.3 1424.8,2247.9 1429.1,2246.9 1433.9,2243.5 1438.6,2238.5 1441.0,2237.3 1442.9,2237.1 1443.9,2237.9 1443.3,2239.8 1439.1,2244.3 1438.7,2246.0 1440.1,2247.9 1444.1,2250.2 1449.0,2245.4 1449.9,2243.5 1449.0,2241.0 1445.1,2236.7 1446.4,2231.7 1446.5,2228.5 1445.9,2222.3 1444.1,2219.4 1441.6,2218.1 1439.8,2218.2 1433.5,2226.0 1431.6,2226.9 1429.1,2226.6 1419.8,2223.3 1401.0,2224.8 1399.1,2224.4 1397.0,2221.7 1395.1,2217.3 1394.3,2211.0 1399.8,2206.0 1404.1,2200.5 1411.6,2195.9 1418.5,2192.8 1424.1,2191.3 1427.9,2189.4 1432.2,2188.1 1439.1,2183.9 1446.6,2182.6 1457.2,2178.0 1461.6,2177.2 1464.8,2177.4 1467.2,2178.5 1474.1,2184.2 1477.2,2185.8 1484.8,2185.7 1489.1,2187.1 1492.9,2187.4 1496.0,2189.0 1503.5,2194.8 1512.9,2208.8 1519.1,2212.6 1523.5,2213.4 1531.0,2212.4 1534.1,2211.2 1539.1,2211.1 1543.7,2217.3 1545.9,2227.3 1548.9,2234.2 1549.8,2239.8 1553.0,2244.8 1557.2,2249.1 1563.7,2252.9 1566.3,2255.4 1566.1,2256.7 1566.7,2257.9 1572.9,2259.1 1575.5,2260.4 1578.4,2265.4 1582.2,2267.5 1584.0,2269.2 1586.6,2273.9 1589.8,2274.1 1596.1,2272.3 1598.4,2274.8 1599.3,2277.3 1600.4,2287.9 1600.4,2297.9 1597.6,2308.5 1582.9,2316.8 1569.1,2326.4 1561.1,2329.2 1554.8,2334.4 1548.5,2335.8 1546.2,2335.4 1542.9,2333.5 1540.4,2332.8 1539.0,2333.5 1537.6,2337.3 1533.5,2338.3 1529.1,2338.2 1524.8,2339.6 1513.3,2338.5 1511.3,2337.9 1511.2,2337.3 1512.2,2334.2 1512.4,2331.7 1511.2,2322.3 1510.4,2319.8 1509.1,2318.8 1507.9,2318.8 1502.9,2321.0 1498.5,2321.7 1496.7,2327.9 1497.2,2332.0 1501.0,2336.0 1507.3,2339.8 1504.7,2345.4 1503.9,2348.5 1502.9,2354.2 1503.3,2362.9 1504.9,2369.2 1509.1,2374.8 1509.9,2377.3 1504.4,2384.2 1494.1,2392.1 1487.9,2395.4 1483.5,2395.0 1481.6,2395.7 1481.3,2397.3 1482.8,2401.0 1482.6,2405.4 1481.5,2408.5 1478.5,2412.6 1473.5,2414.8ZM1432.4,2211.7 1432.1,2210.4 1431.0,2210.3 1431.5,2211.7 1432.4,2211.7ZM1472.1,2213.5 1471.8,2212.3 1471.0,2211.8 1471.0,2213.2 1472.1,2213.5ZM1494.2,2229.2 1496.6,2227.3 1497.6,2224.8 1497.0,2222.3 1494.8,2221.2 1491.4,2222.3 1489.0,2224.8 1489.2,2226.0 1490.7,2227.9 1492.9,2229.1 1494.2,2229.2ZM1473.1,2243.5 1476.0,2240.9 1478.1,2236.7 1478.9,2227.3 1478.5,2225.3 1476.6,2224.0 1472.2,2223.9 1465.4,2225.5 1461.2,2227.3 1459.4,2229.2 1458.7,2231.7 1459.2,2236.7 1460.5,2239.8 1462.9,2242.1 1466.6,2243.7 1470.4,2244.1 1473.1,2243.5ZM1514.5,2228.5 1514.8,2227.0 1513.5,2226.7 1513.3,2228.5 1514.5,2228.5ZM1536.8,2249.2 1538.5,2248.8 1540.4,2247.1 1542.6,2242.3 1542.7,2240.4 1536.0,2232.9 1534.8,2232.0 1533.5,2231.9 1531.9,2233.5 1530.6,2236.7 1529.9,2240.4 1529.8,2244.2 1530.5,2246.0 1532.2,2247.8 1536.8,2249.2ZM1521.9,2250.4 1522.2,2248.5 1521.6,2248.1 1520.4,2248.4 1519.8,2249.2 1519.8,2250.4 1521.0,2251.0 1521.9,2250.4ZM1547.6,2291.7 1549.1,2291.0 1550.4,2289.2 1551.1,2284.2 1550.8,2281.7 1548.7,2279.2 1542.2,2274.8 1540.4,2273.8 1539.1,2274.0 1537.9,2275.4 1536.9,2279.2 1536.9,2282.3 1537.9,2285.4 1539.8,2288.1 1542.9,2291.1 1544.8,2291.9 1547.6,2291.7ZM1516.4,2294.2 1517.0,2292.3 1515.7,2287.3 1515.9,2279.2 1514.8,2277.2 1513.2,2276.0 1511.0,2275.5 1509.1,2275.9 1507.9,2277.0 1506.9,2279.2 1507.3,2283.5 1511.0,2289.2 1512.9,2293.5 1514.8,2294.6 1516.4,2294.2ZM1498.0,2321.0 1499.3,2316.7 1498.4,2309.8 1499.9,2304.2 1499.6,2302.3 1497.9,2301.6 1493.5,2301.7 1490.4,2301.2 1482.2,2296.5 1479.5,2297.3 1479.1,2298.5 1480.7,2301.7 1480.7,2304.8 1479.5,2307.3 1474.9,2312.3 1474.4,2314.2 1475.2,2316.0 1477.9,2317.1 1487.9,2317.0 1494.1,2320.3 1498.0,2321.0ZM1425.4,2303.6 1420.4,2303.3 1419.1,2302.8 1418.8,2301.7 1422.0,2299.8 1426.0,2299.8 1428.0,2301.0 1428.2,2302.3 1425.4,2303.6ZM1557.1,2312.3 1558.5,2311.5 1559.7,2309.8 1560.0,2306.7 1558.2,2302.9 1556.6,2301.9 1555.4,2301.8 1549.8,2304.8 1548.6,2306.0 1548.4,2307.9 1549.8,2310.0 1552.2,2311.8 1554.8,2312.6 1557.1,2312.3ZM1533.7,2322.9 1536.0,2320.6 1537.5,2317.9 1538.3,2314.8 1538.2,2312.3 1537.2,2309.8 1536.0,2308.6 1532.9,2307.7 1530.4,2307.8 1528.5,2308.8 1527.2,2310.6 1526.4,2313.5 1526.6,2316.0 1527.9,2318.9 1530.4,2322.0 1532.2,2323.2 1533.7,2322.9ZM1427.2,2316.0 1426.0,2316.1 1425.7,2315.4 1427.2,2314.1 1428.1,2314.8 1427.2,2316.0ZM1442.6,2341.0 1443.6,2337.9 1442.6,2335.4 1440.4,2334.7 1437.7,2336.0 1436.9,2337.9 1437.9,2339.6 1441.0,2341.5 1442.6,2341.0ZM1449.7,2364.8 1453.5,2363.5 1455.7,2361.7 1456.6,2358.5 1456.3,2355.4 1454.6,2352.3 1452.2,2349.8 1444.8,2344.5 1442.2,2343.7 1439.8,2346.4 1437.9,2350.3 1437.3,2354.2 1437.9,2357.9 1439.1,2360.4 1441.6,2362.6 1446.6,2365.0 1449.7,2364.8ZM1474.2,2394.8 1475.6,2393.5 1475.1,2392.3 1472.6,2390.4 1467.2,2388.4 1462.2,2385.3 1461.0,2384.0 1458.7,2379.2 1456.6,2376.8 1454.8,2375.8 1452.9,2375.7 1450.4,2377.4 1448.9,2381.7 1449.1,2385.4 1450.4,2387.6 1457.2,2394.5 1459.1,2394.8 1464.1,2393.2 1469.8,2395.2 1474.2,2394.8ZM1429.7,2380.4 1430.4,2379.2 1429.8,2378.3 1428.4,2378.5 1427.4,2379.8 1427.5,2380.4 1428.5,2380.9 1429.7,2380.4Z" fill="#00ff80" fill-rule="evenodd"/>
<path d="M1517.2,2338.0 1514.1,2337.6 1512.9,2336.7 1513.3,2332.3 1512.5,2317.9 1511.6,2315.9 1509.4,2313.5 1509.7,2309.8 1509.2,2308.5 1507.9,2308.1 1504.8,2308.5 1503.4,2307.9 1503.3,2306.7 1504.6,2302.3 1504.0,2299.8 1501.0,2298.8 1494.1,2300.1 1491.0,2300.0 1487.9,2298.5 1482.9,2293.5 1476.0,2294.0 1474.4,2293.5 1473.5,2292.3 1474.2,2291.0 1479.1,2288.0 1484.1,2282.7 1490.4,2275.4 1491.3,2272.9 1490.2,2271.0 1488.0,2269.8 1481.0,2268.9 1478.5,2267.7 1475.1,2261.7 1470.4,2258.6 1468.6,2256.7 1467.5,2252.9 1468.1,2249.2 1469.3,2247.3 1474.8,2244.4 1477.2,2241.3 1479.1,2237.3 1480.3,2229.2 1482.2,2226.0 1483.5,2225.4 1484.8,2225.7 1492.2,2231.0 1495.4,2231.8 1497.2,2230.4 1499.4,2226.7 1499.8,2224.2 1499.2,2221.7 1496.6,2219.3 1493.5,2218.7 1486.0,2221.8 1479.8,2221.0 1473.5,2221.8 1459.1,2226.8 1456.8,2229.2 1456.7,2232.9 1458.6,2240.4 1462.7,2244.8 1463.2,2246.0 1462.3,2247.3 1454.8,2252.9 1452.9,2253.7 1450.8,2253.5 1449.2,2251.7 1449.2,2249.8 1453.1,2246.0 1453.8,2244.2 1453.1,2241.7 1450.3,2237.3 1449.5,2234.8 1449.0,2224.8 1450.0,2218.5 1449.2,2217.3 1441.6,2214.0 1439.1,2211.7 1438.0,2209.8 1437.9,2204.4 1437.0,2199.8 1433.7,2194.8 1433.0,2192.3 1433.8,2188.5 1437.2,2185.6 1441.0,2184.1 1447.2,2184.0 1457.9,2178.5 1461.0,2178.0 1464.8,2178.2 1467.2,2179.4 1469.9,2181.7 1473.9,2185.4 1476.0,2188.4 1477.9,2188.8 1483.5,2187.0 1487.2,2190.2 1490.7,2191.7 1491.3,2192.9 1491.2,2197.3 1492.9,2199.5 1494.1,2199.5 1496.0,2198.1 1497.2,2195.7 1497.9,2192.8 1502.2,2195.0 1504.8,2197.7 1509.8,2206.0 1512.7,2209.8 1522.2,2215.8 1531.6,2215.3 1533.5,2212.9 1538.5,2212.1 1540.4,2213.7 1543.2,2217.9 1545.1,2227.3 1547.7,2234.8 1547.6,2236.7 1547.2,2237.4 1543.5,2237.3 1541.6,2236.8 1538.5,2234.2 1534.1,2228.6 1532.2,2228.5 1531.0,2230.5 1527.9,2244.7 1527.2,2245.7 1523.9,2243.5 1521.2,2239.2 1517.5,2235.4 1516.9,2232.3 1518.4,2226.0 1517.9,2224.4 1515.4,2223.0 1510.4,2221.6 1509.1,2221.9 1507.9,2223.5 1507.4,2226.7 1508.2,2229.2 1515.6,2237.3 1517.4,2241.0 1517.8,2244.2 1516.2,2249.8 1517.5,2252.9 1519.8,2254.3 1522.3,2254.2 1526.3,2251.7 1528.5,2248.4 1539.8,2252.2 1541.0,2251.1 1543.5,2246.3 1545.4,2245.8 1546.7,2246.7 1547.4,2247.9 1546.4,2252.9 1548.6,2257.9 1549.5,2262.3 1551.0,2263.7 1553.5,2263.9 1555.7,2262.3 1556.6,2257.9 1553.2,2250.4 1552.6,2247.9 1552.9,2247.1 1554.9,2249.2 1563.6,2254.8 1562.3,2258.5 1563.5,2261.2 1564.8,2261.6 1570.4,2260.8 1572.2,2261.2 1573.7,2262.3 1574.2,2264.2 1573.7,2265.4 1572.2,2266.3 1567.9,2267.2 1568.4,2268.5 1571.6,2269.9 1573.5,2269.8 1577.2,2268.5 1579.8,2268.9 1581.1,2269.8 1581.7,2272.3 1579.9,2276.0 1580.4,2277.9 1581.6,2279.1 1583.5,2279.3 1589.1,2276.5 1596.0,2274.5 1597.7,2276.0 1599.0,2281.0 1599.6,2296.7 1596.6,2307.7 1582.8,2316.0 1576.6,2320.7 1567.2,2326.3 1561.6,2327.6 1552.9,2326.5 1551.0,2327.8 1549.1,2332.0 1547.9,2332.5 1541.0,2329.8 1536.6,2329.0 1536.0,2329.4 1535.1,2333.5 1534.1,2334.9 1532.9,2335.0 1528.5,2333.6 1526.6,2333.7 1524.1,2334.9 1522.2,2337.6 1517.2,2338.0ZM1430.4,2224.8 1427.2,2224.4 1419.1,2221.7 1403.5,2223.1 1399.1,2222.4 1398.2,2221.7 1396.2,2217.3 1395.3,2212.3 1395.6,2211.0 1400.4,2206.5 1404.7,2201.0 1407.9,2198.7 1419.1,2193.6 1428.8,2191.0 1429.5,2203.5 1428.0,2209.2 1428.1,2211.7 1429.8,2214.6 1433.8,2217.9 1434.5,2219.8 1432.9,2223.3 1430.4,2224.8ZM1475.7,2217.3 1476.9,2215.4 1474.6,2211.0 1474.2,2208.5 1475.4,2206.1 1477.9,2204.3 1480.4,2204.4 1482.2,2205.9 1482.9,2207.9 1483.1,2212.9 1484.1,2213.9 1489.8,2213.0 1491.0,2212.1 1492.0,2210.4 1492.3,2207.9 1491.7,2206.0 1490.4,2205.0 1487.2,2204.0 1486.1,2202.9 1485.2,2196.7 1483.5,2194.9 1481.0,2195.2 1478.5,2199.2 1477.2,2200.0 1473.1,2201.0 1468.5,2203.8 1462.9,2203.7 1461.0,2204.3 1459.6,2205.4 1459.8,2207.7 1461.0,2209.0 1464.8,2208.5 1466.0,2208.9 1468.4,2213.5 1471.0,2216.6 1473.5,2217.8 1475.7,2217.3ZM1424.1,2284.9 1422.2,2284.9 1417.2,2282.6 1409.8,2284.0 1403.1,2282.9 1400.9,2281.7 1398.1,2276.7 1395.4,2275.5 1391.6,2276.4 1383.5,2280.7 1380.4,2281.1 1371.0,2274.8 1369.1,2273.0 1366.9,2269.2 1365.4,2265.4 1364.5,2261.0 1364.6,2256.7 1365.8,2253.5 1368.5,2252.1 1374.1,2252.8 1377.8,2251.7 1380.7,2248.5 1380.3,2247.3 1379.1,2246.0 1379.4,2245.4 1380.4,2244.4 1382.2,2243.6 1385.8,2244.8 1383.9,2247.9 1386.6,2250.5 1389.8,2251.5 1394.1,2251.0 1399.8,2253.9 1402.2,2253.7 1406.6,2252.1 1419.1,2251.5 1425.4,2249.8 1430.5,2251.7 1431.4,2252.3 1431.4,2252.9 1430.5,2256.7 1430.2,2264.2 1429.3,2270.4 1431.7,2276.0 1430.4,2277.7 1426.3,2279.2 1425.3,2283.5 1424.1,2284.9ZM1436.0,2252.3 1433.5,2252.1 1432.8,2251.7 1433.0,2251.0 1434.1,2250.0 1435.4,2249.9 1436.8,2251.0 1436.9,2251.7 1436.0,2252.3ZM1538.2,2267.3 1540.4,2263.6 1539.8,2261.7 1537.2,2264.8 1537.2,2266.7 1538.2,2267.3ZM1544.6,2293.5 1551.0,2292.8 1552.9,2292.1 1556.6,2286.9 1557.2,2283.6 1545.3,2276.0 1539.8,2271.1 1538.5,2270.8 1537.2,2272.8 1536.3,2276.7 1536.0,2281.0 1536.5,2284.2 1537.9,2287.3 1541.6,2292.6 1542.9,2293.5 1544.6,2293.5ZM1517.1,2297.3 1519.1,2295.5 1519.6,2293.5 1517.1,2286.7 1517.5,2281.0 1517.0,2278.5 1515.6,2276.0 1513.5,2274.4 1510.4,2273.6 1507.2,2273.6 1506.0,2276.1 1505.6,2281.0 1509.3,2291.0 1507.4,2296.7 1514.1,2297.8 1517.1,2297.3ZM1409.0,2275.4 1409.6,2274.8 1409.4,2274.2 1408.5,2274.0 1407.9,2275.1 1409.0,2275.4ZM1462.9,2289.8 1461.0,2290.1 1460.0,2289.2 1461.4,2287.9 1463.5,2287.7 1464.1,2288.5 1462.9,2289.8ZM1534.9,2327.9 1539.0,2319.2 1540.5,2314.2 1540.5,2308.5 1541.4,2304.2 1540.4,2300.0 1539.1,2299.2 1537.2,2300.4 1536.1,2304.2 1535.2,2305.4 1530.4,2306.3 1528.5,2307.3 1526.9,2309.8 1525.9,2312.9 1526.0,2316.7 1528.5,2325.1 1531.0,2327.1 1534.9,2327.9ZM1556.3,2313.5 1558.5,2312.7 1559.8,2311.5 1560.9,2307.9 1560.5,2305.4 1559.1,2302.4 1557.9,2300.9 1556.0,2300.2 1548.5,2304.8 1547.1,2306.0 1546.7,2307.3 1547.5,2309.2 1550.4,2311.9 1553.5,2313.4 1556.3,2313.5ZM1426.0,2302.4 1422.9,2302.7 1421.4,2302.3 1421.1,2301.7 1422.2,2300.8 1424.8,2300.5 1426.1,2301.0 1426.6,2301.7 1426.0,2302.4ZM1453.5,2401.3 1450.4,2401.2 1437.2,2398.3 1429.2,2398.5 1429.4,2392.9 1428.5,2390.9 1427.2,2389.7 1426.0,2389.3 1424.1,2389.9 1419.8,2394.4 1418.5,2393.9 1414.8,2389.7 1412.9,2389.1 1410.4,2390.2 1407.4,2387.9 1406.6,2386.6 1405.7,2384.2 1406.0,2383.0 1419.1,2376.3 1421.0,2376.1 1422.4,2376.7 1423.7,2382.9 1424.8,2384.2 1426.6,2384.9 1429.1,2384.4 1431.0,2382.9 1433.2,2378.5 1433.0,2376.0 1431.7,2374.8 1426.0,2374.6 1424.8,2374.0 1422.7,2370.4 1418.8,2366.7 1417.2,2363.3 1416.7,2359.2 1418.1,2352.3 1418.1,2346.7 1420.4,2341.0 1419.8,2334.8 1419.1,2333.1 1417.4,2332.3 1404.8,2330.2 1401.6,2328.8 1397.9,2326.1 1396.0,2326.1 1393.7,2328.5 1393.7,2334.2 1391.6,2337.9 1391.2,2340.4 1392.2,2342.4 1392.9,2342.5 1396.0,2338.7 1397.9,2338.3 1399.3,2340.4 1399.1,2343.5 1397.9,2345.7 1396.0,2347.1 1394.8,2347.0 1392.2,2345.2 1387.2,2348.6 1385.2,2345.4 1384.6,2342.9 1385.1,2334.8 1386.8,2331.7 1389.4,2328.5 1391.0,2323.1 1392.9,2322.0 1397.2,2321.6 1401.1,2317.3 1403.1,2316.0 1406.6,2316.0 1412.8,2319.2 1419.8,2320.5 1424.1,2323.0 1426.0,2323.4 1428.5,2323.0 1435.4,2319.9 1447.2,2317.3 1450.4,2317.4 1456.6,2319.7 1459.1,2319.9 1460.8,2319.2 1461.7,2317.9 1461.9,2316.0 1460.9,2312.9 1461.0,2311.0 1464.6,2305.4 1469.8,2302.6 1477.2,2302.1 1478.8,2303.5 1478.8,2305.4 1472.8,2312.3 1472.0,2314.2 1472.2,2315.4 1473.6,2317.3 1476.0,2318.7 1485.4,2318.4 1487.9,2318.9 1491.0,2321.0 1494.0,2324.2 1495.1,2330.4 1496.1,2332.9 1503.3,2340.4 1504.4,2342.3 1502.0,2354.2 1502.5,2363.5 1504.1,2369.2 1508.5,2375.4 1508.8,2377.3 1504.6,2382.9 1499.1,2387.3 1491.0,2392.3 1487.9,2392.5 1478.5,2391.1 1467.9,2386.3 1462.8,2382.9 1458.9,2377.3 1456.6,2375.0 1454.1,2374.1 1451.6,2374.4 1450.4,2375.5 1449.1,2378.2 1448.2,2384.2 1449.1,2387.5 1452.7,2392.3 1453.8,2394.8 1454.1,2399.2 1453.5,2401.3ZM1464.0,2368.5 1468.9,2363.5 1469.7,2361.7 1469.3,2360.4 1464.8,2357.3 1463.5,2357.2 1461.0,2358.1 1459.8,2357.5 1455.2,2351.0 1447.0,2343.5 1446.0,2341.0 1445.5,2335.4 1443.5,2332.4 1441.6,2332.0 1436.9,2334.8 1435.2,2336.7 1434.9,2338.5 1438.4,2344.2 1436.7,2351.0 1436.3,2354.8 1437.0,2358.5 1438.5,2361.9 1440.4,2363.5 1446.6,2366.9 1454.8,2365.7 1456.6,2366.1 1460.4,2368.8 1462.2,2369.1 1464.0,2368.5ZM1393.5,2358.7 1390.5,2355.4 1389.5,2352.9 1389.8,2351.9 1391.6,2352.2 1392.4,2352.9 1393.5,2358.7ZM1398.5,2368.0 1397.9,2365.7 1398.8,2367.3 1398.5,2368.0ZM1472.9,2414.2 1469.8,2412.9 1460.5,2403.5 1460.9,2400.4 1462.9,2398.1 1464.8,2397.5 1476.6,2396.9 1479.1,2398.2 1481.6,2401.5 1481.7,2405.4 1479.8,2410.3 1476.8,2412.9 1472.9,2414.2Z" fill="#30ff30" fill-rule="evenodd"/>
<path d="M1457.2,2225.4 1454.1,2226.0 1452.6,2224.8 1452.5,2222.3 1454.6,2217.3 1454.5,2216.0 1445.4,2214.1 1443.1,2212.9 1441.3,2211.0 1440.4,2208.5 1440.2,2202.3 1441.8,2197.3 1437.9,2195.7 1436.1,2194.2 1435.1,2192.3 1435.1,2189.8 1436.2,2187.3 1437.9,2186.0 1441.0,2184.9 1443.5,2185.1 1446.1,2187.3 1447.3,2189.8 1447.1,2192.3 1445.4,2196.7 1454.1,2201.3 1454.4,2199.8 1451.2,2186.7 1451.2,2182.9 1457.9,2179.3 1461.0,2178.6 1464.8,2178.9 1467.2,2180.3 1469.9,2182.9 1471.4,2189.8 1474.5,2194.2 1474.8,2196.0 1473.8,2197.3 1468.5,2200.2 1457.2,2203.2 1456.8,2204.2 1458.7,2212.3 1459.8,2212.7 1464.1,2212.0 1465.4,2212.5 1470.2,2217.9 1470.9,2220.4 1469.9,2221.7 1466.6,2223.4 1457.2,2225.4ZM1429.1,2222.3 1426.6,2222.5 1419.1,2220.0 1409.8,2221.2 1402.2,2220.9 1398.5,2220.0 1397.0,2216.7 1396.4,2211.7 1399.8,2208.8 1405.0,2201.7 1407.9,2199.5 1419.1,2194.6 1423.5,2194.0 1424.6,2195.4 1425.4,2197.9 1426.5,2205.4 1426.7,2212.9 1430.4,2219.8 1430.3,2221.0 1429.1,2222.3ZM1503.5,2221.9 1502.2,2221.6 1494.6,2216.0 1493.6,2214.2 1494.5,2203.5 1499.8,2195.3 1501.6,2195.8 1504.0,2197.9 1511.6,2209.7 1514.1,2212.0 1516.7,2213.5 1518.4,2219.2 1517.9,2220.0 1516.6,2220.0 1512.2,2218.5 1509.8,2218.3 1507.5,2219.2 1503.5,2221.9ZM1479.1,2210.8 1477.9,2210.7 1477.2,2209.8 1477.4,2208.5 1478.5,2207.8 1479.1,2207.9 1479.8,2209.2 1479.1,2210.8ZM1526.0,2239.4 1520.4,2235.4 1518.7,2232.3 1519.1,2229.2 1521.9,2224.2 1522.5,2221.7 1525.3,2219.2 1527.9,2218.3 1530.4,2219.1 1533.5,2221.2 1534.8,2219.9 1536.6,2214.7 1537.9,2213.5 1539.1,2213.7 1541.6,2216.5 1542.9,2219.2 1545.7,2233.5 1542.2,2235.2 1539.8,2234.1 1537.1,2230.4 1534.1,2223.4 1532.9,2223.1 1528.6,2226.0 1528.8,2232.9 1527.2,2237.6 1526.0,2239.4ZM1532.2,2300.5 1530.9,2300.4 1527.2,2295.1 1522.9,2292.9 1519.8,2289.4 1518.4,2286.0 1518.5,2279.2 1516.0,2274.5 1514.1,2272.9 1509.1,2270.8 1505.4,2267.4 1504.0,2268.5 1503.1,2272.3 1504.4,2281.0 1507.0,2288.5 1506.6,2291.4 1501.6,2295.8 1494.8,2298.6 1490.9,2298.5 1487.5,2296.0 1484.6,2289.8 1484.6,2287.9 1488.0,2280.4 1493.3,2274.8 1493.6,2272.3 1492.1,2270.4 1489.1,2268.7 1481.6,2267.6 1479.8,2266.7 1476.6,2260.9 1470.4,2256.8 1469.1,2253.5 1470.4,2249.8 1476.0,2245.2 1478.5,2241.7 1480.2,2237.9 1481.3,2231.0 1482.9,2228.9 1484.8,2228.6 1486.6,2229.1 1494.1,2234.1 1498.5,2236.0 1502.2,2240.5 1504.8,2242.3 1507.2,2242.5 1511.6,2240.9 1513.5,2241.4 1514.8,2244.2 1514.1,2249.2 1514.5,2251.7 1516.0,2253.9 1518.5,2255.8 1520.4,2256.5 1522.2,2256.4 1529.1,2254.3 1532.2,2252.8 1534.1,2253.0 1535.4,2254.1 1536.1,2259.2 1534.2,2265.4 1535.6,2272.3 1535.3,2282.3 1536.2,2286.0 1539.0,2291.7 1539.7,2294.2 1539.4,2295.4 1538.2,2296.7 1532.2,2300.5ZM1411.0,2281.7 1407.5,2281.7 1405.4,2280.4 1405.7,2279.8 1411.0,2278.6 1414.2,2275.4 1414.4,2274.2 1413.8,2272.9 1410.4,2270.9 1406.6,2271.8 1402.2,2276.0 1397.2,2274.2 1394.8,2274.2 1382.2,2278.8 1376.6,2277.2 1372.2,2274.6 1368.9,2271.0 1366.0,2264.8 1365.4,2260.4 1365.7,2256.7 1366.6,2254.6 1375.4,2254.1 1382.9,2251.2 1388.5,2253.3 1394.1,2253.9 1399.8,2255.3 1407.9,2253.5 1417.9,2253.2 1424.1,2254.2 1427.2,2256.8 1428.9,2261.0 1428.9,2265.4 1426.9,2272.3 1426.0,2273.5 1422.4,2276.0 1421.9,2279.2 1421.0,2280.4 1415.4,2280.4 1411.0,2281.7ZM1565.4,2326.0 1562.9,2326.3 1557.9,2324.9 1547.9,2320.3 1546.0,2320.2 1543.5,2321.1 1542.5,2320.4 1543.2,2311.7 1544.1,2309.6 1545.4,2309.8 1551.0,2313.8 1554.1,2314.8 1557.9,2314.2 1560.9,2311.7 1561.8,2308.5 1561.0,2304.4 1558.5,2299.2 1555.6,2296.0 1558.7,2288.5 1563.8,2282.3 1564.6,2280.4 1564.1,2279.5 1562.9,2279.1 1557.2,2280.0 1554.1,2279.7 1550.4,2278.2 1545.7,2275.4 1543.3,2272.9 1542.0,2269.8 1542.9,2266.9 1545.4,2265.1 1551.6,2266.0 1558.5,2266.2 1561.6,2267.2 1574.8,2275.4 1579.8,2281.4 1581.6,2282.9 1583.5,2282.5 1588.5,2278.5 1592.9,2276.9 1596.6,2276.4 1597.6,2278.5 1598.2,2281.7 1598.0,2286.7 1598.8,2297.3 1596.6,2303.3 1594.9,2305.4 1594.3,2307.9 1582.2,2315.5 1576.6,2320.0 1567.9,2325.2 1565.4,2326.0ZM1546.0,2304.9 1544.1,2304.6 1542.7,2302.3 1541.8,2298.5 1542.5,2296.0 1545.4,2294.6 1548.5,2294.2 1551.6,2294.6 1555.1,2296.0 1554.9,2297.9 1552.6,2301.0 1549.1,2303.6 1546.0,2304.9ZM1518.5,2336.7 1514.7,2336.7 1514.2,2327.9 1515.2,2322.9 1514.4,2314.8 1512.4,2306.0 1512.3,2303.5 1512.9,2302.3 1514.8,2300.7 1521.0,2297.5 1523.5,2297.0 1528.7,2300.4 1529.7,2302.3 1527.2,2307.0 1525.4,2312.3 1525.1,2321.7 1523.5,2323.3 1519.8,2323.9 1518.3,2324.8 1518.4,2326.0 1520.9,2331.0 1518.5,2336.7ZM1469.1,2311.7 1466.6,2311.7 1465.4,2310.8 1465.2,2309.2 1466.1,2307.3 1467.4,2306.0 1469.8,2304.9 1472.2,2304.8 1474.5,2305.4 1474.7,2306.7 1473.4,2308.5 1471.0,2310.8 1469.1,2311.7ZM1416.6,2330.4 1409.8,2330.4 1403.5,2328.6 1400.0,2325.4 1399.5,2323.5 1400.2,2321.7 1402.8,2318.5 1405.4,2317.7 1418.3,2322.3 1420.6,2324.2 1421.8,2326.7 1421.3,2327.9 1419.9,2329.2 1416.6,2330.4ZM1449.1,2399.8 1437.0,2397.3 1432.7,2395.4 1430.1,2387.9 1434.1,2379.9 1434.8,2377.3 1434.6,2374.8 1432.9,2372.8 1426.6,2371.0 1420.4,2365.8 1418.2,2362.3 1417.8,2357.9 1420.3,2347.3 1424.7,2341.7 1422.9,2336.7 1424.6,2332.3 1425.0,2327.3 1427.3,2325.4 1434.1,2321.8 1442.2,2320.8 1448.5,2319.1 1451.6,2319.8 1456.0,2322.3 1459.1,2322.8 1465.4,2321.8 1468.5,2318.8 1470.4,2318.4 1474.8,2320.4 1480.4,2321.0 1482.2,2321.7 1482.9,2322.9 1480.5,2326.0 1480.4,2326.7 1481.2,2327.3 1482.9,2327.0 1484.4,2326.0 1484.9,2324.8 1484.9,2322.9 1485.4,2322.4 1487.9,2322.6 1491.9,2326.7 1494.1,2332.3 1499.1,2339.2 1502.2,2346.4 1501.1,2354.8 1501.8,2364.2 1503.7,2369.8 1508.1,2376.7 1505.9,2380.4 1503.5,2383.1 1496.6,2387.6 1492.2,2386.5 1487.2,2388.9 1485.4,2389.3 1476.0,2388.2 1468.8,2384.8 1465.1,2382.3 1462.2,2379.2 1460.0,2374.8 1460.4,2373.5 1465.4,2372.3 1468.5,2370.4 1470.8,2367.9 1473.5,2363.7 1475.4,2362.1 1479.1,2361.4 1484.1,2363.5 1487.5,2363.5 1492.6,2361.0 1493.2,2359.8 1492.9,2358.3 1492.2,2358.1 1488.5,2359.9 1479.8,2356.4 1471.0,2357.1 1468.0,2355.4 1466.0,2350.4 1464.1,2350.3 1460.4,2352.3 1457.9,2351.5 1450.5,2344.8 1448.5,2342.3 1447.7,2339.8 1447.1,2332.3 1445.4,2326.9 1443.5,2325.2 1442.2,2325.5 1439.7,2331.0 1434.4,2335.4 1432.9,2337.3 1432.8,2339.8 1435.4,2342.9 1436.3,2344.8 1435.1,2355.4 1437.2,2362.9 1447.2,2369.7 1449.8,2370.1 1452.2,2369.0 1453.4,2369.8 1452.9,2370.6 1450.4,2371.2 1449.8,2372.2 1447.7,2381.7 1448.1,2387.3 1451.1,2392.9 1451.7,2395.4 1451.0,2398.2 1449.1,2399.8ZM1386.6,2343.8 1386.0,2344.0 1385.9,2342.9 1386.4,2334.8 1388.3,2331.7 1389.8,2330.6 1390.5,2332.3 1390.5,2334.2 1387.8,2342.3 1386.6,2343.8ZM1419.1,2388.0 1416.0,2386.7 1413.1,2384.2 1415.2,2381.0 1417.9,2379.5 1419.8,2380.0 1420.5,2382.3 1420.6,2386.7 1419.1,2388.0ZM1408.5,2386.9 1407.9,2385.2 1409.2,2385.4 1409.1,2386.7 1408.5,2386.9ZM1472.9,2413.6 1470.4,2412.7 1467.2,2409.6 1463.5,2404.8 1463.5,2402.9 1464.6,2401.0 1466.9,2399.8 1472.2,2398.2 1476.0,2398.3 1478.5,2399.5 1480.8,2402.3 1480.9,2406.0 1479.4,2409.8 1477.9,2411.5 1472.9,2413.6Z" fill="#90ff00" fill-rule="evenodd"/>
<path d="M1460.4,2201.1 1457.2,2200.5 1455.5,2197.9 1453.1,2187.9 1452.9,2184.8 1453.3,2182.9 1454.1,2182.0 1457.9,2180.0 1462.2,2179.2 1464.7,2179.8 1467.5,2182.9 1469.0,2194.2 1468.1,2196.0 1465.6,2198.5 1462.9,2200.3 1460.4,2201.1ZM1442.9,2194.2 1439.1,2194.4 1436.6,2192.3 1436.2,2190.4 1436.7,2188.5 1439.1,2186.0 1442.2,2185.9 1445.2,2188.5 1445.4,2191.7 1444.7,2192.9 1442.9,2194.2ZM1412.2,2219.2 1409.1,2219.2 1401.0,2217.6 1399.1,2216.7 1398.7,2215.4 1401.2,2211.7 1403.4,2204.8 1405.4,2202.2 1409.8,2199.2 1419.8,2195.5 1421.4,2197.3 1424.7,2206.7 1425.4,2218.5 1424.1,2219.0 1417.9,2218.0 1412.2,2219.2ZM1504.8,2218.7 1502.2,2218.9 1499.8,2217.7 1496.6,2215.4 1495.2,2212.9 1495.3,2208.5 1496.1,2204.2 1501.0,2197.0 1502.9,2198.0 1504.8,2200.1 1509.1,2207.5 1513.6,2212.9 1513.3,2214.2 1512.2,2215.2 1504.8,2218.7ZM1453.5,2213.7 1450.4,2214.1 1447.2,2213.6 1444.8,2212.6 1442.9,2211.0 1442.0,2209.2 1441.8,2206.0 1442.3,2202.9 1443.5,2201.2 1445.4,2200.3 1447.9,2200.4 1451.0,2201.9 1454.8,2204.8 1456.2,2207.3 1456.5,2210.4 1455.8,2212.3 1453.5,2213.7ZM1462.2,2223.6 1457.0,2222.9 1456.0,2221.7 1455.9,2220.4 1456.9,2217.9 1458.5,2215.9 1461.6,2214.3 1464.1,2213.9 1467.4,2216.0 1468.8,2217.9 1469.2,2219.8 1468.7,2221.0 1467.0,2222.3 1462.2,2223.6ZM1542.2,2233.1 1540.4,2233.0 1538.9,2231.7 1537.6,2229.2 1536.7,2225.4 1536.6,2222.3 1537.4,2218.5 1538.5,2216.3 1539.8,2215.7 1542.2,2219.2 1543.6,2225.4 1543.7,2230.4 1542.2,2233.1ZM1525.4,2235.5 1524.1,2235.6 1522.2,2234.9 1520.2,2232.3 1520.7,2229.2 1522.2,2227.5 1523.5,2227.0 1525.8,2227.9 1527.2,2230.4 1527.0,2233.5 1525.4,2235.5ZM1493.5,2297.3 1490.5,2296.7 1488.8,2294.8 1487.7,2291.0 1487.8,2286.7 1489.4,2281.0 1491.0,2279.1 1496.5,2274.8 1497.4,2273.5 1497.2,2272.3 1495.2,2270.4 1490.5,2267.9 1481.0,2265.7 1479.7,2264.2 1477.9,2259.7 1476.6,2258.5 1472.2,2256.4 1470.8,2254.2 1471.6,2251.0 1477.0,2246.0 1479.8,2242.3 1481.2,2239.2 1482.4,2232.3 1483.5,2230.9 1484.8,2230.5 1488.5,2231.7 1504.1,2243.7 1506.6,2244.6 1511.0,2245.1 1513.3,2252.9 1515.2,2255.4 1517.9,2257.5 1520.4,2258.5 1526.6,2257.8 1531.0,2258.4 1532.2,2259.1 1532.7,2266.0 1534.3,2272.9 1534.6,2284.2 1537.5,2292.9 1537.2,2294.3 1536.0,2295.8 1532.9,2296.4 1531.2,2295.4 1527.9,2291.6 1521.6,2289.0 1519.9,2286.0 1519.7,2279.2 1517.2,2274.0 1514.8,2270.7 1511.0,2268.2 1508.5,2264.2 1505.4,2263.2 1502.6,2264.8 1499.9,2272.3 1505.1,2286.0 1505.4,2289.8 1504.1,2291.7 1500.4,2294.5 1496.6,2296.5 1493.5,2297.3ZM1384.1,2276.1 1381.0,2276.2 1374.1,2274.4 1370.8,2272.3 1367.9,2267.9 1366.8,2264.8 1366.3,2261.0 1366.6,2258.4 1370.4,2256.3 1382.9,2253.0 1389.1,2254.9 1399.1,2256.6 1407.2,2255.1 1416.6,2255.4 1425.4,2258.4 1427.5,2261.0 1427.9,2264.8 1426.6,2269.4 1424.8,2272.1 1422.2,2273.4 1418.5,2273.5 1412.2,2269.3 1409.8,2268.9 1407.2,2269.6 1401.6,2272.8 1394.8,2273.1 1384.1,2276.1ZM1557.9,2278.6 1552.9,2278.3 1546.8,2275.4 1544.9,2273.5 1544.0,2271.7 1543.8,2269.8 1544.4,2268.5 1547.2,2267.1 1555.4,2267.4 1559.1,2267.9 1562.2,2269.3 1565.4,2272.3 1566.8,2274.8 1566.0,2275.6 1557.9,2278.6ZM1564.8,2325.4 1557.4,2322.9 1554.6,2320.4 1553.1,2317.9 1559.8,2314.7 1561.5,2312.9 1562.4,2311.0 1562.4,2306.7 1558.9,2294.8 1559.4,2291.7 1561.0,2288.6 1567.2,2283.4 1570.2,2278.5 1571.0,2278.1 1572.9,2278.3 1574.8,2279.3 1579.5,2286.0 1582.2,2287.2 1583.7,2286.7 1586.1,2282.3 1588.5,2280.1 1592.9,2278.5 1596.6,2278.5 1597.3,2281.7 1597.0,2287.3 1598.0,2297.3 1596.6,2300.8 1593.2,2304.2 1591.1,2309.2 1582.2,2314.8 1576.0,2319.6 1567.9,2324.4 1564.8,2325.4ZM1547.2,2303.6 1545.4,2303.5 1544.1,2302.6 1543.2,2300.4 1543.2,2297.9 1544.1,2296.4 1546.0,2295.4 1550.4,2295.5 1552.6,2297.3 1552.7,2299.2 1550.8,2301.7 1547.2,2303.6ZM1522.2,2321.1 1519.1,2321.4 1516.9,2319.8 1514.2,2306.7 1514.5,2304.2 1515.8,2302.3 1518.5,2300.4 1521.6,2299.6 1523.5,2300.1 1524.8,2301.0 1526.0,2302.9 1526.4,2304.8 1524.5,2313.5 1523.9,2319.2 1522.2,2321.1ZM1415.4,2329.2 1409.8,2329.6 1404.1,2327.9 1401.5,2325.4 1401.2,2324.2 1401.6,2322.3 1403.5,2320.0 1406.0,2319.3 1409.8,2320.1 1415.1,2322.3 1417.8,2324.2 1418.6,2326.0 1417.8,2327.9 1415.4,2329.2ZM1431.6,2335.5 1429.8,2335.5 1428.3,2334.2 1427.4,2331.0 1427.7,2327.9 1429.8,2325.5 1432.9,2323.6 1435.4,2322.9 1437.9,2323.5 1439.3,2326.0 1438.8,2329.8 1436.6,2332.4 1431.6,2335.5ZM1486.0,2387.4 1477.9,2386.7 1474.1,2385.4 1467.0,2381.0 1465.1,2378.5 1464.9,2376.7 1477.2,2365.9 1479.8,2365.3 1489.1,2365.7 1491.6,2365.1 1494.1,2363.7 1495.5,2362.3 1496.5,2359.8 1496.9,2356.0 1496.3,2354.2 1494.1,2351.8 1492.2,2350.9 1490.5,2351.7 1487.9,2354.6 1486.6,2355.1 1480.4,2354.1 1472.2,2355.0 1469.9,2353.5 1468.9,2349.2 1467.9,2348.2 1464.8,2348.2 1459.8,2349.9 1457.2,2349.1 1451.0,2342.9 1449.3,2339.8 1449.1,2336.7 1450.0,2329.8 1451.0,2327.8 1452.9,2326.3 1461.0,2325.0 1468.5,2325.6 1472.9,2325.4 1474.1,2326.2 1476.1,2329.8 1478.5,2330.7 1487.2,2328.8 1489.1,2328.9 1491.6,2331.2 1496.9,2339.2 1501.0,2349.1 1500.1,2354.8 1500.8,2362.9 1501.7,2366.7 1503.9,2371.7 1507.3,2376.7 1503.5,2382.1 1498.5,2385.7 1497.9,2386.0 1492.9,2384.7 1486.0,2387.4ZM1447.2,2397.4 1444.8,2397.7 1441.6,2397.1 1434.1,2392.0 1432.9,2389.8 1432.7,2387.9 1435.9,2377.3 1436.1,2374.8 1435.7,2372.9 1433.5,2370.6 1427.9,2369.1 1422.2,2365.6 1420.1,2363.5 1418.9,2361.0 1419.0,2356.7 1422.7,2347.9 1424.8,2346.1 1429.8,2343.7 1432.2,2343.7 1433.5,2344.6 1434.3,2346.0 1434.5,2349.2 1433.6,2356.0 1435.7,2364.2 1436.8,2365.4 1441.0,2367.5 1445.4,2370.8 1447.8,2374.2 1447.0,2386.0 1449.4,2394.8 1448.6,2396.7 1447.2,2397.4ZM1472.9,2413.0 1470.8,2412.3 1467.7,2409.2 1465.5,2406.0 1465.4,2404.2 1466.3,2402.3 1469.1,2400.4 1472.2,2399.4 1475.4,2399.3 1477.9,2400.4 1479.8,2402.4 1480.5,2403.5 1480.2,2406.0 1479.1,2409.2 1477.6,2411.0 1472.9,2413.0Z" fill="#e8ff00" fill-rule="evenodd"/>
<path d="M1460.4,2199.9 1457.9,2199.2 1456.1,2196.7 1454.3,2186.0 1454.8,2183.5 1456.1,2181.7 1458.5,2180.4 1461.6,2179.9 1464.1,2181.0 1465.7,2183.5 1466.3,2192.3 1465.7,2194.8 1464.3,2197.3 1462.3,2199.2 1460.4,2199.9ZM1442.2,2192.9 1439.8,2193.2 1437.6,2191.7 1437.5,2189.2 1439.1,2187.2 1441.6,2186.9 1443.8,2188.5 1444.1,2191.0 1442.2,2192.9ZM1412.2,2217.4 1409.1,2217.1 1405.5,2214.8 1404.0,2211.7 1403.9,2207.9 1404.7,2204.2 1406.1,2202.3 1409.1,2200.1 1414.8,2198.0 1417.9,2199.1 1420.1,2201.7 1423.0,2207.3 1423.3,2212.3 1422.9,2214.2 1421.6,2215.5 1417.2,2215.9 1412.2,2217.4ZM1504.1,2217.3 1501.6,2217.2 1499.1,2215.9 1497.2,2214.2 1496.3,2211.7 1496.4,2207.9 1497.5,2204.2 1499.8,2201.0 1502.2,2199.1 1503.5,2199.7 1505.6,2202.3 1511.0,2211.7 1510.2,2213.5 1508.9,2214.8 1504.1,2217.3ZM1452.2,2212.9 1447.2,2212.7 1443.8,2210.4 1443.0,2208.5 1443.0,2206.0 1443.5,2204.2 1444.8,2202.6 1446.6,2201.9 1449.1,2202.4 1452.2,2204.0 1454.4,2206.0 1455.4,2208.5 1455.3,2210.4 1454.1,2212.0 1452.2,2212.9ZM1464.8,2222.3 1461.6,2222.6 1458.8,2221.7 1458.1,2219.8 1459.3,2217.3 1461.0,2215.9 1463.5,2215.2 1465.4,2215.7 1466.6,2216.6 1467.8,2218.5 1467.9,2219.8 1467.2,2221.0 1464.8,2222.3ZM1541.6,2231.1 1540.4,2231.3 1539.1,2230.0 1537.8,2225.4 1538.5,2220.1 1539.1,2218.8 1540.4,2218.1 1541.6,2219.3 1542.8,2224.2 1542.7,2228.5 1541.6,2231.1ZM1524.8,2233.0 1523.5,2233.3 1522.1,2232.3 1521.9,2231.0 1522.9,2229.6 1524.1,2229.5 1525.1,2230.4 1525.4,2231.7 1524.8,2233.0ZM1498.5,2267.9 1496.0,2268.4 1482.5,2264.8 1481.2,2263.5 1479.1,2258.4 1473.9,2255.4 1472.8,2254.2 1473.3,2251.7 1478.9,2246.0 1481.9,2241.7 1482.8,2239.2 1483.4,2234.2 1484.8,2232.4 1486.0,2232.2 1488.0,2232.9 1492.9,2237.2 1503.5,2244.8 1508.5,2247.7 1512.9,2255.5 1516.4,2259.8 1516.3,2261.0 1515.4,2261.2 1508.5,2260.7 1503.5,2261.7 1501.0,2263.5 1498.5,2267.9ZM1389.1,2273.6 1384.1,2274.1 1379.1,2273.8 1375.4,2272.8 1371.0,2270.7 1369.8,2269.5 1367.9,2266.1 1367.2,2262.9 1367.8,2261.0 1369.3,2259.2 1371.6,2257.6 1382.9,2254.6 1397.9,2257.7 1401.6,2257.8 1407.2,2256.8 1412.2,2258.0 1421.6,2259.0 1424.8,2259.9 1426.7,2262.3 1426.9,2265.4 1425.9,2268.5 1424.1,2271.0 1422.2,2272.0 1419.8,2272.2 1417.9,2271.6 1412.2,2267.0 1410.4,2266.5 1401.6,2270.9 1389.1,2273.6ZM1534.1,2293.1 1532.9,2292.9 1529.8,2289.8 1523.5,2287.7 1521.8,2286.0 1520.9,2279.2 1517.3,2269.8 1518.5,2262.9 1519.1,2262.0 1526.0,2260.5 1529.1,2261.7 1530.6,2263.5 1533.3,2273.5 1533.7,2287.3 1534.6,2291.7 1534.1,2293.1ZM1558.5,2277.4 1553.5,2277.7 1548.5,2275.7 1545.6,2272.9 1545.2,2271.0 1545.5,2269.8 1547.2,2268.5 1551.0,2268.1 1557.2,2268.5 1560.7,2269.8 1563.1,2272.3 1563.2,2274.2 1561.3,2276.0 1558.5,2277.4ZM1495.4,2295.5 1492.2,2295.5 1490.2,2293.5 1489.3,2289.8 1489.7,2284.8 1490.4,2282.3 1492.2,2280.0 1495.4,2278.2 1498.5,2277.6 1500.4,2278.6 1502.2,2281.3 1504.0,2285.4 1504.3,2288.5 1503.3,2290.4 1501.6,2292.0 1495.4,2295.5ZM1566.6,2324.2 1560.4,2322.8 1558.6,2321.7 1557.6,2319.8 1558.3,2317.9 1562.6,2314.2 1563.6,2311.7 1563.7,2308.5 1561.1,2295.4 1561.2,2292.9 1562.2,2290.4 1564.8,2288.0 1572.9,2283.0 1574.8,2283.9 1579.0,2288.5 1585.4,2290.4 1586.6,2289.2 1586.6,2284.8 1588.4,2281.7 1591.6,2280.3 1593.5,2280.2 1595.4,2280.9 1596.2,2282.9 1594.5,2287.3 1594.3,2289.2 1597.2,2294.2 1597.0,2297.3 1593.2,2301.0 1589.1,2307.8 1584.8,2312.3 1576.0,2318.9 1566.6,2324.2ZM1548.5,2302.4 1546.0,2302.7 1544.3,2301.0 1544.1,2298.3 1546.0,2296.3 1549.1,2296.1 1551.4,2297.9 1551.0,2300.4 1548.5,2302.4ZM1521.6,2319.2 1519.8,2319.4 1518.2,2317.9 1515.5,2307.3 1515.6,2305.4 1516.6,2303.3 1518.5,2301.8 1521.0,2301.1 1522.9,2301.6 1524.1,2302.8 1525.2,2306.0 1523.0,2317.3 1521.6,2319.2ZM1413.5,2328.5 1409.1,2328.7 1404.8,2327.3 1402.9,2325.4 1402.9,2322.7 1404.6,2321.0 1406.6,2320.5 1409.8,2321.0 1413.0,2322.3 1415.6,2324.2 1416.4,2326.0 1415.4,2327.7 1413.5,2328.5ZM1433.5,2333.1 1431.6,2333.4 1430.3,2332.9 1429.2,2331.0 1429.3,2328.5 1430.4,2326.7 1432.2,2325.2 1434.1,2324.5 1436.0,2324.6 1437.6,2326.0 1437.8,2329.2 1436.0,2331.7 1433.5,2333.1ZM1476.0,2352.9 1473.5,2353.0 1472.2,2352.3 1471.6,2347.9 1470.4,2346.4 1466.6,2346.5 1459.8,2348.2 1457.9,2347.7 1456.0,2346.3 1451.6,2341.3 1450.5,2338.5 1451.2,2332.9 1453.1,2329.2 1457.2,2327.2 1462.2,2326.8 1471.0,2328.6 1476.6,2333.0 1487.2,2331.2 1489.1,2331.7 1490.7,2332.9 1495.6,2340.4 1497.9,2347.3 1497.7,2349.2 1496.6,2349.4 1493.5,2348.2 1491.6,2348.2 1486.0,2352.1 1476.0,2352.9ZM1431.6,2366.7 1428.5,2367.1 1424.1,2365.4 1421.0,2362.9 1419.6,2359.8 1420.4,2355.7 1424.1,2350.2 1426.0,2348.5 1429.1,2347.4 1431.0,2347.5 1432.3,2349.2 1431.3,2355.4 1433.0,2360.4 1433.2,2362.9 1432.8,2365.4 1431.6,2366.7ZM1486.0,2386.1 1482.2,2385.8 1474.5,2382.9 1470.0,2379.8 1469.3,2378.5 1469.6,2376.7 1474.1,2371.7 1479.1,2368.2 1482.9,2367.2 1492.2,2366.7 1495.4,2365.2 1499.8,2361.6 1501.4,2367.9 1506.3,2376.0 1506.3,2377.3 1502.9,2381.9 1499.1,2384.5 1492.9,2383.4 1486.0,2386.1ZM1444.1,2395.4 1441.6,2394.9 1438.5,2392.8 1435.9,2390.4 1434.7,2387.9 1434.8,2384.2 1437.5,2374.8 1437.5,2369.8 1438.5,2369.2 1441.0,2369.7 1444.1,2371.6 1446.0,2373.3 1447.0,2375.4 1446.4,2385.4 1446.9,2393.5 1446.0,2394.9 1444.1,2395.4ZM1473.5,2412.4 1471.6,2412.1 1469.8,2410.7 1467.0,2407.3 1466.6,2405.4 1467.2,2403.5 1469.1,2401.7 1471.6,2400.5 1474.1,2400.2 1476.0,2400.5 1477.8,2401.7 1479.8,2404.8 1478.5,2409.2 1476.6,2411.1 1473.5,2412.4Z" fill="#ffc000" fill-rule="evenodd"/>
<path d="M1460.4,2198.6 1458.5,2198.1 1456.9,2196.0 1455.4,2187.3 1455.8,2184.8 1456.7,2182.9 1458.5,2181.1 1460.4,2180.8 1462.7,2181.7 1464.1,2183.5 1465.0,2190.4 1464.6,2193.5 1463.6,2196.0 1462.2,2197.6 1460.4,2198.6ZM1441.6,2191.8 1439.8,2191.8 1438.8,2191.0 1438.6,2189.8 1439.8,2188.2 1441.6,2188.2 1442.6,2189.2 1442.8,2190.4 1441.6,2191.8ZM1412.2,2215.5 1409.8,2215.3 1407.1,2213.5 1405.6,2211.0 1405.2,2207.9 1405.7,2204.8 1407.0,2202.3 1409.8,2200.4 1412.9,2199.6 1416.0,2200.4 1418.3,2202.3 1420.8,2206.7 1421.4,2209.8 1420.9,2211.7 1419.8,2212.8 1412.2,2215.5ZM1504.1,2216.1 1501.6,2215.9 1499.4,2214.8 1497.9,2213.0 1497.2,2211.0 1497.4,2207.9 1498.5,2204.8 1500.4,2202.4 1502.2,2201.3 1504.8,2202.2 1509.0,2209.8 1508.9,2211.7 1508.1,2213.5 1506.0,2215.3 1504.1,2216.1ZM1451.0,2212.3 1447.2,2211.9 1444.5,2209.8 1443.9,2207.9 1444.1,2206.0 1446.0,2203.6 1447.9,2203.3 1449.8,2203.8 1453.7,2206.7 1454.4,2208.5 1454.1,2210.4 1452.9,2211.6 1451.0,2212.3ZM1462.9,2221.7 1460.4,2220.8 1459.9,2219.8 1460.1,2218.5 1462.2,2216.7 1464.8,2216.6 1466.3,2217.9 1466.6,2219.8 1465.4,2221.1 1462.9,2221.7ZM1541.0,2228.8 1539.8,2228.4 1538.8,2225.4 1539.1,2222.6 1540.4,2221.1 1541.1,2221.7 1541.8,2224.2 1541.7,2227.3 1541.0,2228.8ZM1496.0,2266.1 1492.9,2265.9 1483.9,2263.5 1482.7,2262.3 1481.0,2257.9 1475.8,2253.5 1476.5,2251.0 1483.8,2241.7 1484.6,2239.8 1485.2,2235.4 1486.0,2234.6 1487.9,2235.0 1492.2,2238.8 1499.8,2243.4 1505.8,2247.9 1508.3,2250.4 1509.9,2253.5 1510.3,2256.0 1509.8,2257.4 1501.0,2261.2 1497.3,2265.4 1496.0,2266.1ZM1391.0,2272.3 1385.4,2272.7 1378.5,2271.9 1375.4,2271.0 1371.6,2268.7 1369.8,2266.7 1369.1,2264.8 1369.5,2262.3 1371.0,2260.1 1373.3,2258.5 1382.2,2256.1 1397.9,2259.0 1406.0,2259.3 1407.7,2260.4 1408.2,2262.3 1407.8,2264.2 1404.8,2267.6 1400.5,2269.8 1391.0,2272.3ZM1421.0,2271.1 1419.1,2270.9 1417.2,2269.9 1414.4,2266.7 1413.7,2264.8 1413.8,2262.9 1416.0,2260.8 1418.5,2260.2 1421.6,2260.3 1424.0,2261.0 1425.4,2262.4 1425.9,2264.8 1425.2,2267.9 1423.5,2270.2 1421.0,2271.1ZM1529.8,2286.8 1526.0,2286.3 1523.8,2284.8 1519.8,2272.3 1519.7,2269.2 1521.0,2265.5 1522.9,2263.5 1524.8,2262.8 1527.2,2263.1 1529.1,2264.5 1532.0,2272.9 1532.5,2277.3 1532.2,2283.5 1531.6,2285.6 1529.8,2286.8ZM1557.9,2276.7 1554.1,2277.0 1549.8,2275.6 1547.1,2273.5 1546.5,2272.3 1546.6,2270.8 1547.9,2269.6 1551.0,2269.0 1556.0,2269.2 1559.1,2270.1 1561.1,2271.7 1561.6,2273.5 1560.3,2275.4 1557.9,2276.7ZM1496.6,2293.6 1494.1,2294.0 1492.1,2292.9 1490.9,2290.4 1490.7,2286.7 1491.4,2283.5 1492.6,2281.7 1495.4,2280.0 1497.9,2279.7 1499.8,2280.4 1501.6,2282.4 1502.9,2284.8 1503.3,2287.3 1502.7,2289.2 1501.6,2290.5 1496.6,2293.6ZM1591.0,2288.3 1589.1,2287.5 1588.2,2284.8 1589.1,2282.9 1591.6,2281.9 1592.9,2282.3 1593.5,2284.2 1592.5,2286.7 1591.0,2288.3ZM1567.9,2322.4 1565.4,2322.9 1562.9,2322.4 1560.7,2321.0 1560.2,2319.8 1561.2,2317.9 1564.5,2315.4 1565.4,2313.5 1565.2,2309.8 1563.1,2301.0 1563.9,2293.5 1565.4,2290.4 1569.1,2287.5 1572.2,2286.3 1574.1,2286.8 1578.5,2290.3 1586.0,2293.5 1587.9,2293.4 1591.0,2291.1 1592.2,2291.6 1593.9,2293.5 1594.1,2295.4 1587.9,2306.4 1578.5,2316.3 1575.4,2318.6 1571.0,2320.0 1567.9,2322.4ZM1547.9,2301.8 1546.0,2301.6 1544.9,2299.8 1545.4,2297.9 1547.9,2296.8 1549.8,2297.5 1550.5,2299.2 1549.8,2300.6 1547.9,2301.8ZM1521.0,2316.8 1519.8,2316.5 1519.1,2315.7 1517.0,2310.4 1516.5,2307.3 1517.4,2304.2 1520.4,2302.5 1523.1,2303.5 1524.3,2306.7 1522.9,2313.6 1521.0,2316.8ZM1411.0,2327.9 1407.9,2327.6 1405.4,2326.6 1404.0,2324.8 1404.3,2322.9 1406.0,2321.8 1407.9,2321.6 1410.9,2322.3 1413.2,2323.5 1414.3,2324.8 1414.5,2326.0 1413.4,2327.3 1411.0,2327.9ZM1433.5,2331.7 1431.6,2331.4 1430.7,2329.2 1432.2,2326.7 1434.8,2325.9 1436.1,2326.7 1436.6,2328.5 1435.7,2330.4 1433.5,2331.7ZM1478.5,2350.4 1476.3,2350.4 1475.2,2349.8 1473.5,2341.0 1469.4,2344.2 1465.4,2345.6 1460.4,2346.8 1457.2,2345.7 1453.2,2341.0 1452.0,2338.5 1452.1,2334.8 1453.7,2331.0 1456.0,2329.2 1459.8,2328.3 1469.1,2330.0 1471.0,2330.8 1472.5,2332.3 1474.8,2337.9 1479.8,2335.1 1483.5,2333.9 1487.2,2333.4 1489.8,2334.5 1491.6,2336.7 1493.5,2340.4 1494.2,2342.9 1493.7,2344.8 1489.8,2346.8 1485.4,2349.9 1478.5,2350.4ZM1429.1,2364.9 1426.6,2364.9 1424.1,2364.0 1421.9,2362.3 1420.8,2360.4 1420.6,2358.5 1421.1,2356.7 1422.9,2354.6 1424.8,2353.6 1427.2,2353.7 1431.0,2359.8 1431.2,2362.9 1430.4,2364.2 1429.1,2364.9ZM1486.6,2384.9 1484.1,2385.0 1481.7,2384.2 1474.8,2379.2 1473.5,2376.7 1474.5,2374.2 1477.9,2370.9 1482.2,2368.6 1491.6,2368.5 1497.2,2366.9 1499.1,2367.1 1504.8,2375.4 1505.2,2377.3 1504.1,2379.5 1500.4,2383.1 1493.5,2382.1 1486.6,2384.9ZM1443.5,2392.9 1441.6,2392.7 1438.5,2390.7 1436.7,2388.5 1435.9,2386.0 1436.2,2382.3 1438.5,2375.6 1439.8,2372.9 1441.0,2372.2 1442.9,2372.5 1444.8,2373.6 1446.4,2376.7 1445.3,2390.4 1444.8,2392.0 1443.5,2392.9ZM1474.1,2411.7 1472.9,2411.9 1471.0,2411.1 1468.1,2407.9 1467.7,2406.7 1468.0,2404.8 1469.3,2402.9 1471.3,2401.7 1473.5,2401.1 1475.4,2401.3 1477.1,2402.3 1479.2,2405.4 1477.8,2409.2 1476.6,2410.5 1474.1,2411.7Z" fill="#ff7000" fill-rule="evenodd"/>
<path d="M1461.0,2197.0 1459.1,2197.0 1457.9,2195.8 1457.0,2193.5 1456.4,2189.2 1457.2,2184.5 1458.5,2182.9 1460.4,2182.3 1461.6,2182.7 1462.9,2184.2 1464.0,2189.8 1463.2,2194.2 1461.0,2197.0ZM1412.2,2213.6 1410.4,2213.6 1408.3,2212.3 1406.8,2209.8 1406.5,2207.3 1406.9,2204.8 1408.0,2202.9 1409.8,2201.6 1412.2,2201.1 1414.8,2201.6 1416.6,2202.9 1418.3,2205.4 1418.9,2207.9 1418.4,2209.8 1417.3,2211.0 1412.2,2213.6ZM1504.1,2214.9 1502.2,2214.9 1500.4,2214.1 1499.1,2212.9 1498.3,2211.0 1498.3,2208.5 1499.1,2206.0 1500.4,2204.2 1502.2,2203.2 1504.1,2203.5 1505.4,2204.5 1507.4,2209.2 1507.5,2211.0 1506.8,2212.9 1504.1,2214.9ZM1451.6,2211.2 1448.5,2211.5 1446.0,2210.2 1444.9,2207.9 1446.0,2205.2 1447.2,2204.5 1449.1,2204.6 1452.6,2206.7 1453.4,2209.2 1452.8,2210.4 1451.6,2211.2ZM1464.8,2219.8 1462.9,2220.3 1461.9,2219.2 1462.9,2218.0 1464.1,2218.0 1464.9,2218.5 1464.8,2219.8ZM1495.4,2263.6 1491.6,2264.0 1485.6,2262.3 1482.8,2257.3 1478.9,2252.9 1478.8,2251.7 1479.8,2249.8 1485.4,2242.6 1487.9,2240.3 1489.8,2240.3 1499.8,2244.8 1505.1,2249.2 1507.7,2252.9 1507.9,2254.8 1506.7,2256.7 1499.1,2260.4 1495.4,2263.6ZM1389.8,2271.7 1385.4,2271.5 1375.4,2269.1 1371.8,2266.0 1371.3,2264.2 1371.8,2262.3 1373.4,2260.4 1375.5,2259.2 1382.9,2257.5 1389.1,2258.2 1401.0,2260.9 1404.1,2262.5 1404.5,2264.8 1402.2,2267.4 1397.9,2269.4 1389.8,2271.7ZM1421.6,2270.0 1418.5,2269.5 1416.0,2266.7 1415.9,2263.5 1417.9,2261.8 1422.2,2261.6 1424.6,2263.5 1424.9,2265.4 1424.5,2267.3 1423.2,2269.2 1421.6,2270.0ZM1529.1,2284.2 1527.2,2284.1 1525.4,2282.8 1522.0,2274.2 1521.8,2271.0 1522.4,2267.9 1523.5,2266.0 1525.4,2265.0 1527.2,2265.2 1528.5,2266.4 1531.0,2273.6 1531.2,2281.0 1530.4,2283.3 1529.1,2284.2ZM1556.6,2276.2 1552.9,2276.1 1549.8,2274.9 1547.9,2272.9 1548.1,2271.0 1549.8,2270.0 1552.9,2269.7 1556.6,2270.1 1558.9,2271.0 1560.0,2272.3 1559.9,2274.2 1558.5,2275.4 1556.6,2276.2ZM1495.4,2292.3 1493.5,2291.7 1492.5,2290.4 1491.9,2287.9 1492.2,2285.1 1493.4,2282.9 1494.8,2281.9 1496.6,2281.3 1498.5,2281.4 1500.4,2282.6 1501.6,2284.2 1502.2,2286.0 1502.1,2287.9 1499.8,2290.7 1495.4,2292.3ZM1576.0,2317.3 1573.0,2317.3 1570.2,2315.4 1566.0,2307.3 1564.6,2303.5 1564.8,2300.7 1566.9,2296.7 1567.4,2291.7 1569.1,2289.5 1571.6,2288.4 1573.5,2288.7 1577.2,2291.6 1582.9,2293.9 1587.2,2297.7 1588.3,2299.8 1588.1,2302.3 1586.8,2304.8 1580.2,2310.4 1578.2,2315.4 1576.0,2317.3ZM1548.5,2300.5 1547.2,2300.8 1546.4,2300.4 1546.4,2298.5 1547.9,2297.9 1549.0,2298.5 1549.1,2299.8 1548.5,2300.5ZM1521.0,2313.9 1520.4,2313.9 1519.1,2312.7 1517.5,2307.9 1518.0,2305.4 1519.1,2304.2 1520.4,2303.8 1522.5,2304.8 1523.4,2307.3 1522.9,2310.9 1521.0,2313.9ZM1566.0,2320.6 1564.0,2320.4 1564.1,2319.2 1565.4,2318.6 1566.6,2318.9 1566.9,2319.8 1566.0,2320.6ZM1411.6,2326.7 1407.7,2326.7 1405.8,2325.4 1405.5,2324.2 1407.2,2322.7 1410.4,2323.1 1412.5,2324.8 1412.5,2326.0 1411.6,2326.7ZM1462.2,2345.4 1459.8,2345.5 1457.9,2344.5 1453.5,2338.5 1453.3,2336.0 1454.3,2332.9 1455.9,2331.0 1457.9,2330.1 1461.6,2329.9 1467.9,2331.6 1469.8,2332.5 1470.9,2334.2 1470.8,2336.7 1468.9,2342.3 1466.4,2344.2 1462.2,2345.4ZM1484.1,2348.0 1480.4,2348.1 1478.2,2347.3 1477.0,2344.8 1477.0,2341.7 1478.3,2339.2 1480.4,2337.5 1484.8,2336.2 1487.9,2336.2 1490.4,2338.5 1491.2,2340.4 1491.2,2342.3 1489.7,2344.2 1484.1,2348.0ZM1427.9,2363.1 1424.8,2362.8 1422.4,2361.0 1421.8,2358.5 1422.9,2356.7 1425.4,2356.1 1427.9,2357.9 1429.3,2361.0 1429.0,2362.3 1427.9,2363.1ZM1487.2,2383.6 1484.8,2383.9 1482.2,2383.0 1477.2,2377.3 1476.8,2376.0 1477.2,2374.2 1480.2,2371.0 1482.2,2369.9 1484.8,2369.4 1493.5,2370.4 1497.2,2370.3 1499.1,2370.9 1501.6,2373.4 1503.2,2377.3 1502.3,2379.8 1501.0,2381.2 1499.1,2381.7 1493.5,2380.8 1487.2,2383.6ZM1442.9,2390.6 1441.0,2390.5 1438.9,2389.2 1437.5,2387.3 1436.9,2384.8 1437.2,2381.7 1439.1,2376.9 1440.4,2374.8 1442.2,2373.9 1444.8,2375.2 1445.8,2378.5 1444.7,2387.3 1444.1,2389.2 1442.9,2390.6ZM1474.1,2411.1 1471.6,2410.9 1469.2,2408.5 1468.8,2407.3 1469.0,2405.4 1469.8,2403.9 1471.6,2402.6 1473.5,2402.1 1476.6,2403.1 1478.6,2406.0 1477.2,2409.2 1474.1,2411.1Z" fill="#ff1800" fill-rule="evenodd"/>
<rect x="1328.5" y="2150.4" width="299.8" height="299.8" fill="none" stroke="#111" stroke-width="1.5"/>
<text x="1311.5" y="2422.5" class="a" font-size="9.5" text-anchor="end">0</text>
<text x="1311.5" y="2347.1" class="a" font-size="9.5" text-anchor="end">50</text>
<text x="1311.5" y="2271.8" class="a" font-size="9.5" text-anchor="end">100</text>
<text x="1311.5" y="2196.4" class="a" font-size="9.5" text-anchor="end">150</text>
<text x="1355.1" y="2472.0" class="a" font-size="9.5" text-anchor="middle">0</text>
<text x="1445.0" y="2472.0" class="a" font-size="9.5" text-anchor="middle">50</text>
<text x="1535.0" y="2472.0" class="a" font-size="9.5" text-anchor="middle">100</text>
<path d="M1321.0,2419.5h7.5M1321.0,2344.1h7.5M1321.0,2268.8h7.5M1321.0,2193.4h7.5M1355.1,2450.2v7M1445.0,2450.2v7M1535.0,2450.2v7M1324.5,2434.6h4M1337.1,2450.2v4M1324.5,2419.5h4M1355.1,2450.2v4M1324.5,2404.4h4M1373.1,2450.2v4M1324.5,2389.4h4M1391.1,2450.2v4M1324.5,2374.3h4M1409.1,2450.2v4M1324.5,2359.2h4M1427.1,2450.2v4M1324.5,2344.1h4M1445.0,2450.2v4M1324.5,2329.1h4M1463.0,2450.2v4M1324.5,2314.0h4M1481.0,2450.2v4M1324.5,2298.9h4M1499.0,2450.2v4M1324.5,2283.8h4M1517.0,2450.2v4M1324.5,2268.8h4M1535.0,2450.2v4M1324.5,2253.7h4M1553.0,2450.2v4M1324.5,2238.6h4M1571.0,2450.2v4M1324.5,2223.5h4M1589.0,2450.2v4M1324.5,2208.5h4M1607.0,2450.2v4M1324.5,2193.4h4M1624.9,2450.2v4M1324.5,2178.3h4M1324.5,2163.2h4" stroke="#000" stroke-width="1.2" fill="none"/>
<text class="c" font-size="32" text-anchor="middle" transform="translate(1290,2415) rotate(-90)">Tsne_2</text>
<text x="1315.4" y="2502.2" class="c" font-size="32.5">Tsne_1</text>
<text x="1548.6" y="2500.0" class="c b" font-size="21.2" text-anchor="middle">Cell Density</text>
<rect x="1500.7" y="2504.2" width="99.8" height="20.4" fill="url(#jetg)"/>
<text x="1492.0" y="2521.8" class="c" font-size="22.0" text-anchor="end">Low</text>
<text x="1604.2" y="2523.0" class="c" font-size="22.0">High</text>
<rect x="1636.5" y="2150.4" width="310.0" height="299.8" fill="none" stroke="#111" stroke-width="1.5"/>
<defs><clipPath id="cp5"><path d="M1667.7,2257.1 1667.6,2257.2 1667.6,2257.3 1667.7,2257.5 1669.2,2266.7 1669.2,2266.8 1669.3,2267.0 1669.3,2267.1 1674.1,2276.6 1674.2,2276.7 1674.2,2276.8 1674.4,2277.0 1682.7,2285.4 1683.0,2285.6 1683.2,2285.9 1683.3,2286.2 1688.7,2296.8 1688.8,2297.1 1688.9,2297.4 1688.9,2297.7 1690.7,2306.5 1690.8,2306.8 1692.5,2321.0 1692.6,2321.4 1692.6,2321.7 1692.5,2322.0 1692.4,2322.3 1689.0,2334.5 1688.9,2334.7 1687.4,2345.6 1687.3,2345.7 1687.3,2345.9 1687.4,2346.0 1687.4,2346.1 1687.4,2346.3 1687.5,2346.4 1692.2,2357.4 1692.2,2357.5 1692.3,2357.6 1699.2,2367.9 1699.4,2368.2 1699.5,2368.5 1699.6,2368.9 1702.9,2380.4 1703.0,2380.6 1703.0,2380.7 1703.1,2380.9 1703.2,2381.0 1709.8,2389.2 1709.9,2389.4 1716.6,2399.4 1716.7,2399.5 1716.8,2399.6 1716.9,2399.7 1717.0,2399.8 1725.8,2405.7 1725.9,2405.8 1726.1,2405.8 1726.2,2405.9 1726.4,2405.9 1726.5,2405.9 1726.6,2405.9 1735.6,2405.9 1735.8,2405.9 1735.9,2405.9 1746.2,2404.2 1746.5,2404.2 1746.8,2404.1 1747.1,2404.2 1747.4,2404.2 1747.7,2404.3 1758.4,2407.9 1769.1,2411.4 1769.3,2411.5 1769.6,2411.7 1769.8,2411.8 1778.7,2417.7 1778.8,2417.8 1779.0,2417.9 1779.1,2417.9 1779.2,2417.9 1779.4,2418.0 1779.5,2418.0 1779.7,2418.0 1779.9,2417.9 1780.0,2417.9 1787.4,2415.4 1787.5,2415.4 1787.6,2415.3 1787.7,2415.2 1787.9,2415.2 1788.0,2415.1 1788.1,2414.9 1794.3,2407.1 1794.6,2406.8 1803.5,2397.9 1812.3,2389.1 1812.4,2389.0 1820.2,2379.7 1820.2,2379.6 1820.3,2379.4 1820.4,2379.3 1820.4,2379.2 1820.5,2379.0 1820.5,2378.9 1820.5,2378.7 1820.5,2374.5 1820.5,2374.3 1820.5,2374.2 1820.4,2374.1 1820.4,2373.9 1820.4,2373.8 1820.3,2373.7 1815.6,2365.9 1815.4,2365.6 1815.3,2365.3 1815.3,2365.1 1815.2,2364.8 1815.2,2364.6 1815.1,2364.3 1815.1,2353.6 1815.2,2353.3 1815.2,2353.0 1815.3,2352.8 1815.3,2352.5 1815.5,2352.2 1815.6,2352.0 1815.8,2351.7 1821.1,2344.7 1821.3,2344.4 1821.5,2344.2 1821.8,2344.0 1822.0,2343.8 1822.3,2343.7 1822.6,2343.6 1822.9,2343.5 1823.2,2343.4 1823.5,2343.4 1823.8,2343.4 1824.1,2343.5 1832.4,2345.1 1832.5,2345.2 1832.7,2345.2 1832.8,2345.2 1849.7,2343.5 1849.9,2343.4 1864.7,2340.2 1864.8,2340.1 1864.9,2340.1 1865.1,2340.0 1865.2,2339.9 1865.3,2339.9 1873.4,2333.4 1873.6,2333.2 1884.2,2326.1 1884.3,2326.1 1891.3,2320.8 1891.6,2320.7 1891.8,2320.5 1902.5,2315.2 1902.8,2315.1 1909.3,2312.5 1909.4,2312.4 1909.5,2312.3 1909.6,2312.3 1909.7,2312.2 1909.8,2312.1 1909.9,2311.9 1910.0,2311.8 1910.1,2311.7 1910.1,2311.6 1910.2,2311.4 1910.2,2311.3 1911.6,2301.7 1911.6,2301.5 1911.6,2284.2 1911.6,2284.0 1910.0,2270.0 1910.0,2269.8 1909.9,2269.7 1909.9,2269.6 1909.8,2269.4 1909.8,2269.3 1909.7,2269.2 1909.6,2269.1 1909.5,2269.0 1900.3,2261.3 1900.2,2261.3 1888.4,2252.8 1888.3,2252.8 1888.1,2252.7 1888.0,2252.6 1877.9,2249.3 1877.7,2249.2 1868.9,2245.7 1868.5,2245.5 1868.3,2245.4 1868.0,2245.2 1867.8,2245.0 1867.6,2244.7 1867.4,2244.5 1867.2,2244.2 1860.1,2230.0 1859.9,2229.5 1854.8,2214.2 1854.8,2214.1 1854.7,2214.0 1854.7,2213.9 1854.6,2213.7 1849.3,2207.1 1849.2,2207.0 1849.1,2206.9 1849.0,2206.8 1848.8,2206.8 1848.7,2206.7 1848.6,2206.6 1848.4,2206.6 1848.3,2206.6 1848.1,2206.6 1825.3,2206.6 1825.0,2206.6 1824.7,2206.5 1824.4,2206.4 1824.1,2206.3 1823.8,2206.2 1823.5,2206.0 1823.3,2205.8 1823.1,2205.6 1822.9,2205.4 1822.7,2205.1 1817.5,2196.5 1817.5,2196.4 1817.4,2196.3 1809.1,2186.4 1809.0,2186.2 1808.9,2186.1 1808.8,2186.1 1799.8,2180.0 1799.6,2180.0 1799.5,2179.9 1799.4,2179.9 1799.2,2179.8 1799.1,2179.8 1798.9,2179.8 1787.8,2179.8 1787.5,2179.8 1787.2,2179.7 1787.0,2179.7 1786.7,2179.6 1786.5,2179.5 1786.2,2179.3 1777.9,2174.3 1777.8,2174.3 1777.6,2174.2 1777.5,2174.2 1772.1,2172.8 1771.9,2172.8 1771.8,2172.8 1771.6,2172.8 1771.5,2172.8 1771.4,2172.8 1758.2,2176.1 1744.3,2179.6 1744.2,2179.6 1744.0,2179.7 1730.2,2186.6 1716.2,2193.6 1716.0,2193.7 1706.1,2200.3 1705.9,2200.4 1705.8,2200.5 1705.7,2200.6 1698.5,2209.3 1698.4,2209.4 1698.4,2209.5 1698.3,2209.7 1698.2,2209.8 1698.2,2209.9 1698.2,2210.1 1698.2,2210.2 1698.2,2210.3 1698.2,2210.5 1699.7,2221.0 1699.7,2221.5 1699.7,2233.9 1699.7,2234.2 1699.7,2234.5 1699.6,2234.8 1699.5,2235.1 1699.3,2235.4 1699.2,2235.6 1699.0,2235.9 1698.8,2236.1 1698.6,2236.3 1698.3,2236.5 1698.1,2236.6 1697.8,2236.7 1697.5,2236.8 1697.2,2236.9 1687.2,2238.6 1687.0,2238.6 1686.9,2238.6 1686.7,2238.7 1677.1,2243.5 1676.9,2243.6 1676.8,2243.7 1669.5,2249.5 1669.4,2249.6 1669.3,2249.7 1669.2,2249.9 1669.1,2250.0 1669.1,2250.1 1669.0,2250.3 1669.0,2250.4 1667.7,2256.9 1667.7,2257.1ZM1746.7,2217.9 1728.9,2217.9 1725.3,2192.9 1746.7,2189.3 1761.0,2203.6 1746.7,2217.9ZM1850.3,2228.6 1836.0,2235.7 1828.9,2217.9 1843.1,2214.3 1850.3,2228.6ZM1814.6,2310.7 1805.6,2283.9 1814.6,2250.0 1832.4,2235.7 1859.2,2242.9 1868.1,2264.3 1850.3,2285.7 1841.4,2307.1 1832.4,2319.6 1814.6,2310.7ZM1736.0,2364.3 1718.1,2346.4 1714.6,2319.6 1743.1,2314.3 1778.9,2321.4 1805.6,2335.7 1814.6,2355.4 1796.7,2373.2 1761.0,2378.6 1736.0,2364.3Z"/></clipPath><filter id="sf5" filterUnits="userSpaceOnUse" x="1637" y="2151" width="300" height="299" color-interpolation-filters="sRGB"><feTurbulence type="fractalNoise" baseFrequency="0.42" numOctaves="2" seed="31"/><feColorMatrix type="matrix" values="0 0 0 0 0.071 0 0 0 0 0.800 0 0 0 0 0.816 1 0 0 0 0"/><feComponentTransfer><feFuncA type="discrete" tableValues="0 0 0 0 0 0 0 0 0 0 0 1 1 1 1 1 1 1 1 1"/></feComponentTransfer></filter></defs>
<g clip-path="url(#cp5)"><rect x="1637" y="2151" width="300" height="299" fill="#000" filter="url(#sf5)" opacity="1.0"/></g>
<defs><clipPath id="cp6"><path d="M1761.0,2203.6 1746.7,2189.3 1725.3,2192.9 1728.9,2217.9 1746.7,2217.9 1761.0,2203.6ZM1843.1,2214.3 1828.9,2217.9 1836.0,2235.7 1850.3,2228.6 1843.1,2214.3ZM1832.4,2319.6 1841.4,2307.1 1850.3,2285.7 1868.1,2264.3 1859.2,2242.9 1832.4,2235.7 1814.6,2250.0 1805.6,2283.9 1814.6,2310.7 1832.4,2319.6ZM1761.0,2378.6 1796.7,2373.2 1814.6,2355.4 1805.6,2335.7 1778.9,2321.4 1743.1,2314.3 1714.6,2319.6 1718.1,2346.4 1736.0,2364.3 1761.0,2378.6Z"/></clipPath><filter id="sf6" filterUnits="userSpaceOnUse" x="1637" y="2151" width="300" height="299" color-interpolation-filters="sRGB"><feTurbulence type="fractalNoise" baseFrequency="0.42" numOctaves="2" seed="32"/><feColorMatrix type="matrix" values="0 0 0 0 0.957 0 0 0 0 0.486 0 0 0 0 0.078 1 0 0 0 0"/><feComponentTransfer><feFuncA type="discrete" tableValues="0 0 0 0 0 0 0 0 0 0 0 1 1 1 1 1 1 1 1 1"/></feComponentTransfer></filter></defs>
<g clip-path="url(#cp6)"><rect x="1637" y="2151" width="300" height="299" fill="#000" filter="url(#sf6)" opacity="1.0"/></g>
<defs><clipPath id="cp7"><path d="M1761.0,2203.6 1746.7,2189.3 1725.3,2192.9 1728.9,2217.9 1746.7,2217.9 1761.0,2203.6ZM1843.1,2214.3 1828.9,2217.9 1836.0,2235.7 1850.3,2228.6 1843.1,2214.3ZM1832.4,2319.6 1841.4,2307.1 1850.3,2285.7 1868.1,2264.3 1859.2,2242.9 1832.4,2235.7 1814.6,2250.0 1805.6,2283.9 1814.6,2310.7 1832.4,2319.6ZM1761.0,2378.6 1796.7,2373.2 1814.6,2355.4 1805.6,2335.7 1778.9,2321.4 1743.1,2314.3 1714.6,2319.6 1718.1,2346.4 1736.0,2364.3 1761.0,2378.6Z"/></clipPath><filter id="sf7" filterUnits="userSpaceOnUse" x="1637" y="2151" width="300" height="299" color-interpolation-filters="sRGB"><feTurbulence type="fractalNoise" baseFrequency="0.42" numOctaves="2" seed="34"/><feColorMatrix type="matrix" values="0 0 0 0 0.071 0 0 0 0 0.800 0 0 0 0 0.816 1 0 0 0 0"/><feComponentTransfer><feFuncA type="discrete" tableValues="0 0 0 0 0 0 0 0 0 0 0 0 0 0 1 1 1 1 1 1"/></feComponentTransfer></filter></defs>
<g clip-path="url(#cp7)"><rect x="1637" y="2151" width="300" height="299" fill="#000" filter="url(#sf7)" opacity="1.0"/></g>
<defs><clipPath id="cp8"><path d="M1667.7,2257.1 1667.6,2257.2 1667.6,2257.3 1667.7,2257.5 1669.2,2266.7 1669.2,2266.8 1669.3,2267.0 1669.3,2267.1 1674.1,2276.6 1674.2,2276.7 1674.2,2276.8 1674.4,2277.0 1682.7,2285.4 1683.0,2285.6 1683.2,2285.9 1683.3,2286.2 1688.7,2296.8 1688.8,2297.1 1688.9,2297.4 1688.9,2297.7 1690.7,2306.5 1690.8,2306.8 1692.5,2321.0 1692.6,2321.4 1692.6,2321.7 1692.5,2322.0 1692.4,2322.3 1689.0,2334.5 1688.9,2334.7 1687.4,2345.6 1687.3,2345.7 1687.3,2345.9 1687.4,2346.0 1687.4,2346.1 1687.4,2346.3 1687.5,2346.4 1692.2,2357.4 1692.2,2357.5 1692.3,2357.6 1699.2,2367.9 1699.4,2368.2 1699.5,2368.5 1699.6,2368.9 1702.9,2380.4 1703.0,2380.6 1703.0,2380.7 1703.1,2380.9 1703.2,2381.0 1709.8,2389.2 1709.9,2389.4 1716.6,2399.4 1716.7,2399.5 1716.8,2399.6 1716.9,2399.7 1717.0,2399.8 1725.8,2405.7 1725.9,2405.8 1726.1,2405.8 1726.2,2405.9 1726.4,2405.9 1726.5,2405.9 1726.6,2405.9 1735.6,2405.9 1735.8,2405.9 1735.9,2405.9 1746.2,2404.2 1746.5,2404.2 1746.8,2404.1 1747.1,2404.2 1747.4,2404.2 1747.7,2404.3 1758.4,2407.9 1769.1,2411.4 1769.3,2411.5 1769.6,2411.7 1769.8,2411.8 1778.7,2417.7 1778.8,2417.8 1779.0,2417.9 1779.1,2417.9 1779.2,2417.9 1779.4,2418.0 1779.5,2418.0 1779.7,2418.0 1779.9,2417.9 1780.0,2417.9 1787.4,2415.4 1787.5,2415.4 1787.6,2415.3 1787.7,2415.2 1787.9,2415.2 1788.0,2415.1 1788.1,2414.9 1794.3,2407.1 1794.6,2406.8 1803.5,2397.9 1812.3,2389.1 1812.4,2389.0 1820.2,2379.7 1820.2,2379.6 1820.3,2379.4 1820.4,2379.3 1820.4,2379.2 1820.5,2379.0 1820.5,2378.9 1820.5,2378.7 1820.5,2374.5 1820.5,2374.3 1820.5,2374.2 1820.4,2374.1 1820.4,2373.9 1820.4,2373.8 1820.3,2373.7 1815.6,2365.9 1815.4,2365.6 1815.3,2365.3 1815.3,2365.1 1815.2,2364.8 1815.2,2364.6 1815.1,2364.3 1815.1,2353.6 1815.2,2353.3 1815.2,2353.0 1815.3,2352.8 1815.3,2352.5 1815.5,2352.2 1815.6,2352.0 1815.8,2351.7 1821.1,2344.7 1821.3,2344.4 1821.5,2344.2 1821.8,2344.0 1822.0,2343.8 1822.3,2343.7 1822.6,2343.6 1822.9,2343.5 1823.2,2343.4 1823.5,2343.4 1823.8,2343.4 1824.1,2343.5 1832.4,2345.1 1832.5,2345.2 1832.7,2345.2 1832.8,2345.2 1849.7,2343.5 1849.9,2343.4 1864.7,2340.2 1864.8,2340.1 1864.9,2340.1 1865.1,2340.0 1865.2,2339.9 1865.3,2339.9 1873.4,2333.4 1873.6,2333.2 1884.2,2326.1 1884.3,2326.1 1891.3,2320.8 1891.6,2320.7 1891.8,2320.5 1902.5,2315.2 1902.8,2315.1 1909.3,2312.5 1909.4,2312.4 1909.5,2312.3 1909.6,2312.3 1909.7,2312.2 1909.8,2312.1 1909.9,2311.9 1910.0,2311.8 1910.1,2311.7 1910.1,2311.6 1910.2,2311.4 1910.2,2311.3 1911.6,2301.7 1911.6,2301.5 1911.6,2284.2 1911.6,2284.0 1910.0,2270.0 1910.0,2269.8 1909.9,2269.7 1909.9,2269.6 1909.8,2269.4 1909.8,2269.3 1909.7,2269.2 1909.6,2269.1 1909.5,2269.0 1900.3,2261.3 1900.2,2261.3 1888.4,2252.8 1888.3,2252.8 1888.1,2252.7 1888.0,2252.6 1877.9,2249.3 1877.7,2249.2 1868.9,2245.7 1868.5,2245.5 1868.3,2245.4 1868.0,2245.2 1867.8,2245.0 1867.6,2244.7 1867.4,2244.5 1867.2,2244.2 1860.1,2230.0 1859.9,2229.5 1854.8,2214.2 1854.8,2214.1 1854.7,2214.0 1854.7,2213.9 1854.6,2213.7 1849.3,2207.1 1849.2,2207.0 1849.1,2206.9 1849.0,2206.8 1848.8,2206.8 1848.7,2206.7 1848.6,2206.6 1848.4,2206.6 1848.3,2206.6 1848.1,2206.6 1825.3,2206.6 1825.0,2206.6 1824.7,2206.5 1824.4,2206.4 1824.1,2206.3 1823.8,2206.2 1823.5,2206.0 1823.3,2205.8 1823.1,2205.6 1822.9,2205.4 1822.7,2205.1 1817.5,2196.5 1817.5,2196.4 1817.4,2196.3 1809.1,2186.4 1809.0,2186.2 1808.9,2186.1 1808.8,2186.1 1799.8,2180.0 1799.6,2180.0 1799.5,2179.9 1799.4,2179.9 1799.2,2179.8 1799.1,2179.8 1798.9,2179.8 1787.8,2179.8 1787.5,2179.8 1787.2,2179.7 1787.0,2179.7 1786.7,2179.6 1786.5,2179.5 1786.2,2179.3 1777.9,2174.3 1777.8,2174.3 1777.6,2174.2 1777.5,2174.2 1772.1,2172.8 1771.9,2172.8 1771.8,2172.8 1771.6,2172.8 1771.5,2172.8 1771.4,2172.8 1758.2,2176.1 1744.3,2179.6 1744.2,2179.6 1744.0,2179.7 1730.2,2186.6 1716.2,2193.6 1716.0,2193.7 1706.1,2200.3 1705.9,2200.4 1705.8,2200.5 1705.7,2200.6 1698.5,2209.3 1698.4,2209.4 1698.4,2209.5 1698.3,2209.7 1698.2,2209.8 1698.2,2209.9 1698.2,2210.1 1698.2,2210.2 1698.2,2210.3 1698.2,2210.5 1699.7,2221.0 1699.7,2221.5 1699.7,2233.9 1699.7,2234.2 1699.7,2234.5 1699.6,2234.8 1699.5,2235.1 1699.3,2235.4 1699.2,2235.6 1699.0,2235.9 1698.8,2236.1 1698.6,2236.3 1698.3,2236.5 1698.1,2236.6 1697.8,2236.7 1697.5,2236.8 1697.2,2236.9 1687.2,2238.6 1687.0,2238.6 1686.9,2238.6 1686.7,2238.7 1677.1,2243.5 1676.9,2243.6 1676.8,2243.7 1669.5,2249.5 1669.4,2249.6 1669.3,2249.7 1669.2,2249.9 1669.1,2250.0 1669.1,2250.1 1669.0,2250.3 1669.0,2250.4 1667.7,2256.9 1667.7,2257.1ZM1746.7,2217.9 1728.9,2217.9 1725.3,2192.9 1746.7,2189.3 1761.0,2203.6 1746.7,2217.9ZM1850.3,2228.6 1836.0,2235.7 1828.9,2217.9 1843.1,2214.3 1850.3,2228.6ZM1814.6,2310.7 1805.6,2283.9 1814.6,2250.0 1832.4,2235.7 1859.2,2242.9 1868.1,2264.3 1850.3,2285.7 1841.4,2307.1 1832.4,2319.6 1814.6,2310.7ZM1736.0,2364.3 1718.1,2346.4 1714.6,2319.6 1743.1,2314.3 1778.9,2321.4 1805.6,2335.7 1814.6,2355.4 1796.7,2373.2 1761.0,2378.6 1736.0,2364.3Z"/></clipPath><filter id="sf8" filterUnits="userSpaceOnUse" x="1637" y="2151" width="300" height="299" color-interpolation-filters="sRGB"><feTurbulence type="fractalNoise" baseFrequency="0.42" numOctaves="2" seed="33"/><feColorMatrix type="matrix" values="0 0 0 0 0.957 0 0 0 0 0.486 0 0 0 0 0.078 1 0 0 0 0"/><feComponentTransfer><feFuncA type="discrete" tableValues="0 0 0 0 0 0 0 0 0 0 0 0 0 0 0 0 1 1 1 1"/></feComponentTransfer></filter></defs>
<g clip-path="url(#cp8)"><rect x="1637" y="2151" width="300" height="299" fill="#000" filter="url(#sf8)" opacity="1.0"/></g>
</svg></body></html>
